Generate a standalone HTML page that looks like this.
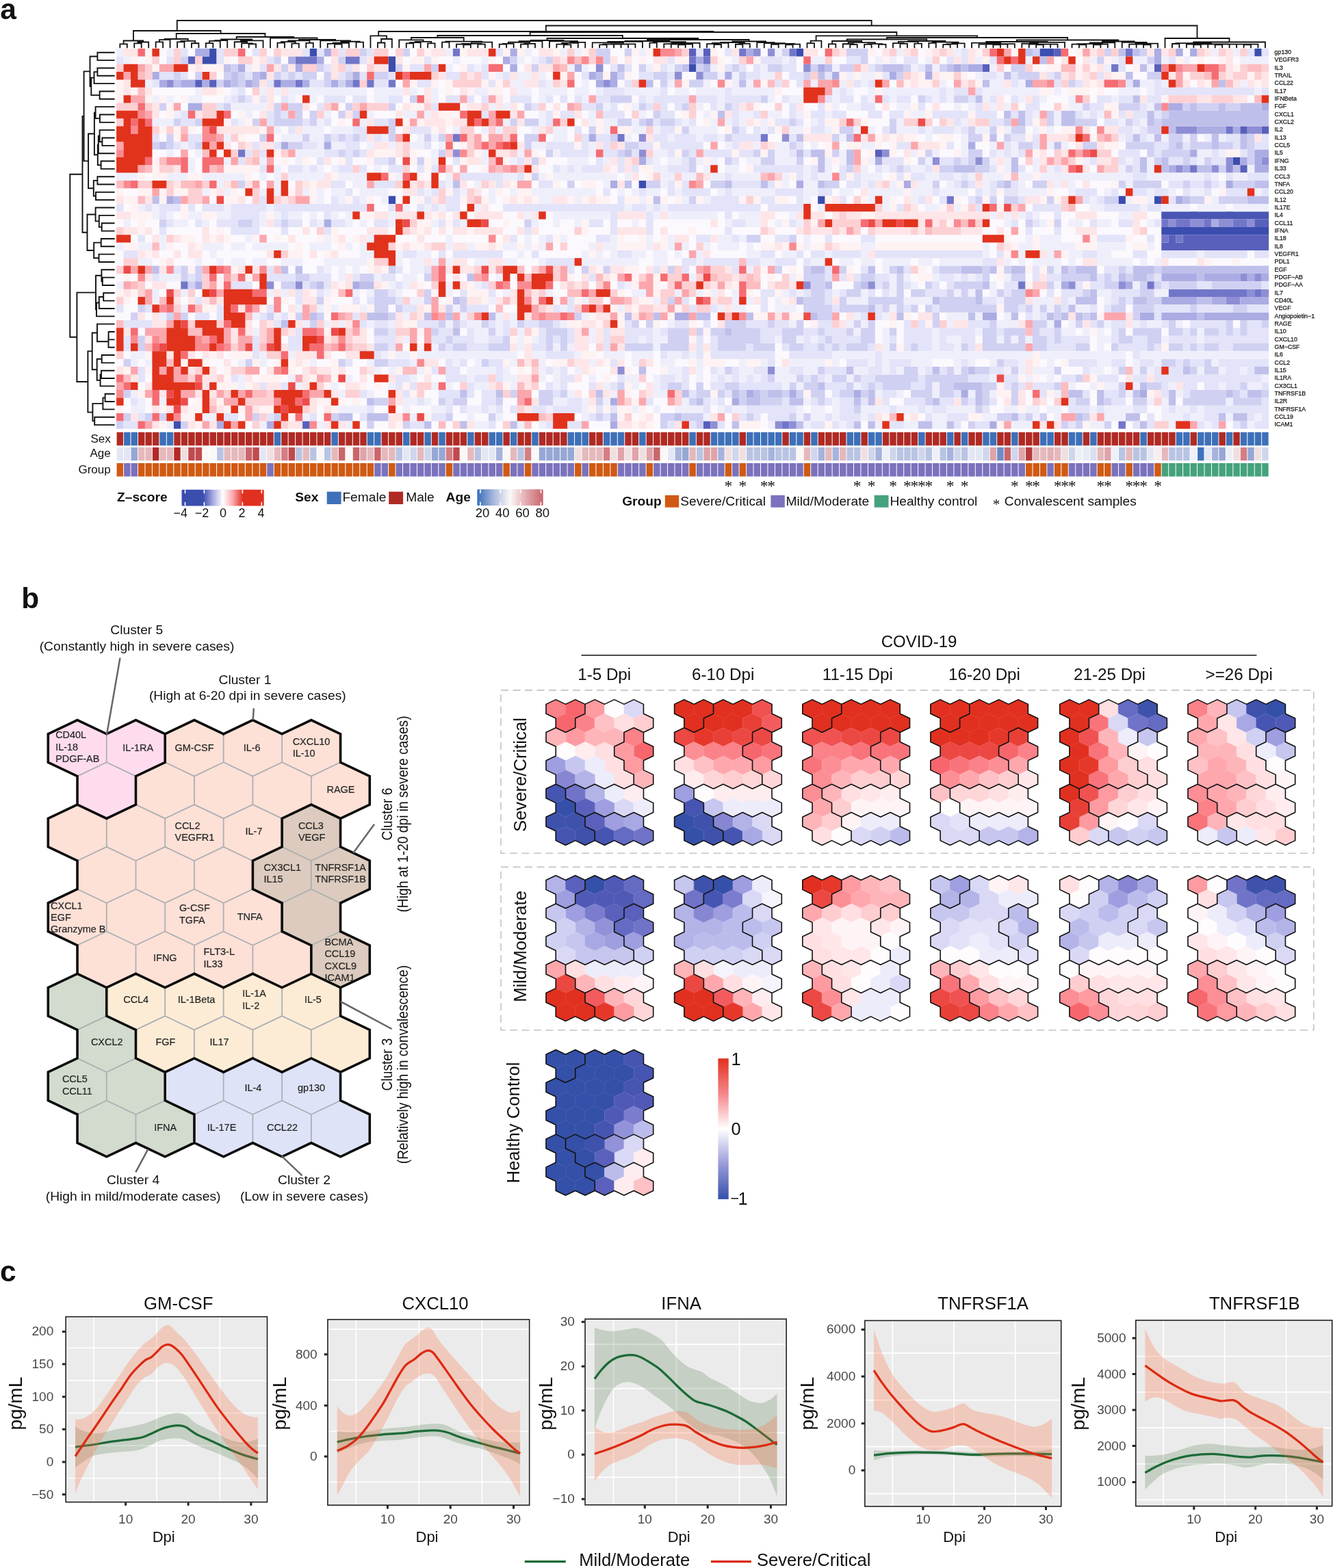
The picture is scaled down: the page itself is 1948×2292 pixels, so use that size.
<!DOCTYPE html>
<html lang="en">
<head>
<meta charset="utf-8">
<title>Figure</title>
<style>
html,body{margin:0;padding:0;background:#fff;}
body{width:1948px;height:2292px;overflow:hidden;}
svg{display:block;font-family:'Liberation Sans', Arial, Helvetica, sans-serif;}
svg text{white-space:pre;}
</style>
</head>
<body>
<svg xmlns="http://www.w3.org/2000/svg" width="1948" height="2292" viewBox="0 0 1948 2292" fill="#111">
<rect width="1948" height="2292" fill="#ffffff"/>
<!-- panel a -->
<text x="0.3" y="28.2" font-size="42.5" font-weight="bold">a</text>
<path d="M175.33 70.2V64.34H185.79V70.2M196.25 70.2V63.29H206.71V70.2M201.48 63.29V61.5H217.17V70.2M180.56 64.34V59.5H209.32V61.5M227.63 70.2V61.34H238.09V70.2M232.86 61.34V58.22H248.55V70.2M259.01 70.2V61.41H269.47V70.2M279.93 70.2V63.24H290.39V70.2M264.24 61.41V59.78H285.16V63.24M240.71 58.22V57H274.7V59.78M300.85 70.2V63.07H311.31V70.2M306.08 63.07V59.93H321.77V70.2M313.93 59.93V59.13H332.23V70.2M363.61 70.2V64.29H374.07V70.2M353.15 70.2V63.38H368.84V64.29M342.69 70.2V61.23H361V63.38M351.84 61.23V59.36H384.53V70.2M323.08 59.13V57.5H368.19V59.36M405.45 70.2V62.59H415.91V70.2M426.37 70.2V63.6H436.83V70.2M410.68 62.59V61.1H431.6V63.6M447.29 70.2V62.86H457.75V70.2M421.14 61.1V59.36H452.52V62.86M489.13 70.2V64.64H499.59V70.2M478.67 70.2V63.84H494.36V64.64M486.52 63.84V62.77H510.05V70.2M520.51 70.2V61.56H530.97V70.2M498.28 62.77V60.76H525.74V61.56M468.21 70.2V59.43H512.01V60.76M436.83 59.36V58H490.11V59.43M394.99 70.2V55.5H463.47V58M345.63 57.5V54H429.23V55.5M257.7 57V49H387.43V54M194.94 59.5V45H322.57V49M551.89 70.2V62.51H562.35V70.2M557.12 62.51V57H572.81V70.2M541.43 70.2V52.4H564.97V57M593.73 70.2V63.28H604.19V70.2M598.96 63.28V62.2H614.65V70.2M625.11 70.2V63.34H635.57V70.2M606.81 62.2V60.86H630.34V63.34M583.27 70.2V58.35H618.57V60.86M646.03 70.2V61.55H656.49V70.2M677.41 70.2V65.4H687.87V70.2M666.95 70.2V64.6H682.64V65.4M698.33 70.2V64.59H708.79V70.2M674.8 64.6V63.79H703.56V64.59M689.18 63.79V61.72H719.25V70.2M651.26 61.55V60.59H704.21V61.72M600.92 58.35V55H677.74V60.59M729.71 70.2V64.72H740.17V70.2M734.94 64.72V63.92H750.63V70.2M761.09 70.2V64.62H771.55V70.2M766.32 64.62V63.82H782.01V70.2M742.79 63.92V61.75H774.17V63.82M758.48 61.75V60.15H792.47V70.2M823.85 70.2V65.34H834.31V70.2M813.39 70.2V64.54H829.08V65.34M821.24 64.54V62.78H844.77V70.2M833 62.78V61.8H855.23V70.2M802.93 70.2V60.24H844.12V61.8M775.47 60.15V59H823.52V60.24M876.15 70.2V65.4H886.61V70.2M907.53 70.2V64.6H917.99V70.2M897.07 70.2V64.6H912.76V64.6M881.38 65.4V64.6H904.92V64.6M893.15 64.6V64.29H928.45V70.2M865.69 70.2V62.47H910.8V64.29M888.24 62.47V60.82H938.91V70.2M949.37 70.2V62.7H959.83V70.2M991.21 70.2V65.4H1001.67V70.2M996.44 65.4V64.6H1012.13V70.2M980.75 70.2V64.6H1004.29V64.6M970.29 70.2V64.15H992.52V64.6M981.4 64.15V62.82H1022.59V70.2M954.6 62.7V61.08H1002V62.82M913.58 60.82V60H978.3V61.08M1043.51 70.2V64.99H1053.97V70.2M1033.05 70.2V64.19H1048.74V64.99M1040.89 64.19V62.9H1064.43V70.2M1074.89 70.2V64.75H1085.35V70.2M1080.12 64.75V63.95H1095.81V70.2M1052.66 62.9V61.99H1087.97V63.95M1127.19 70.2V64.74H1137.65V70.2M1148.11 70.2V65.4H1158.57V70.2M1153.34 65.4V64.6H1169.03V70.2M1132.42 64.74V63.94H1161.18V64.6M1116.73 70.2V63.13H1146.8V63.94M1106.27 70.2V62.05H1131.77V63.13M1070.31 61.99V60.5H1119.02V62.05M945.94 60V58H1094.67V60.5M799.5 59V56H1020.3V58M639.33 55V52H909.9V56M1179.49 70.2V63.13H1189.95V70.2M1184.72 63.13V59.69H1200.41V70.2M1210.87 70.2V64.41H1221.33V70.2M1242.25 70.2V65.04H1252.71V70.2M1231.79 70.2V64.24H1247.48V65.04M1263.17 70.2V64.97H1273.63V70.2M1284.09 70.2V64.97H1294.55V70.2M1268.4 64.97V64.17H1289.32V64.97M1239.63 64.24V62.18H1278.86V64.17M1216.1 64.41V60H1259.25V62.18M1315.47 70.2V63.85H1325.93V70.2M1305.01 70.2V63.05H1320.7V63.85M1336.39 70.2V63.54H1346.85V70.2M1312.86 63.05V60.85H1341.62V63.54M1357.31 70.2V62.95H1367.77V70.2M1378.23 70.2V65.12H1388.69V70.2M1383.46 65.12V64.32H1399.15V70.2M1391.31 64.32V63.32H1409.61V70.2M1362.54 62.95V61.58H1400.46V63.32M1327.24 60.85V60H1381.5V61.58M1237.67 60V57.5H1354.37V60M1451.45 70.2V65.4H1461.91V70.2M1456.68 65.4V64.6H1472.37V70.2M1440.99 70.2V64.6H1464.53V64.6M1430.53 70.2V64.6H1452.76V64.6M1441.64 64.6V64.21H1482.83V70.2M1420.07 70.2V62.65H1462.24V64.21M1514.21 70.2V65.4H1524.67V70.2M1535.13 70.2V64.6H1545.59V70.2M1519.44 65.4V64.6H1540.36V64.6M1503.75 70.2V64.6H1529.9V64.6M1493.29 70.2V63.74H1516.83V64.6M1505.06 63.74V61.95H1556.05V70.2M1441.15 62.65V61H1530.55V61.95M1576.97 70.2V65.4H1587.43V70.2M1566.51 70.2V64.6H1582.2V65.4M1597.89 70.2V65.4H1608.35V70.2M1603.12 65.4V64.6H1618.81V70.2M1574.36 64.6V64.14H1610.97V64.6M1592.66 64.14V62.46H1629.27V70.2M1671.11 70.2V65.4H1681.57V70.2M1660.65 70.2V64.6H1676.34V65.4M1650.19 70.2V64.6H1668.5V64.6M1659.34 64.6V63.59H1692.03V70.2M1639.73 70.2V61.91H1675.69V63.59M1610.97 62.46V60.5H1657.71V61.91M1485.85 61V58.5H1634.34V60.5M1296.02 57.5V55H1560.1V58.5M1192.57 59.69V52.4H1428.06V55M774.61 52V47H1310.31V52.4M553.2 52.4V46H1042.46V47M1712.95 70.2V64H1723.41V70.2M1744.33 70.2V65.4H1754.79V70.2M1749.56 65.4V64.6H1765.25V70.2M1733.87 70.2V64.6H1757.4V64.6M1775.71 70.2V65.4H1786.17V70.2M1817.55 70.2V65.4H1828.01V70.2M1822.78 65.4V64.6H1838.47V70.2M1807.09 70.2V64.6H1830.62V64.6M1796.63 70.2V64.6H1818.86V64.6M1780.94 65.4V64.6H1807.74V64.6M1745.64 64.6V64.5H1794.34V64.6M1718.18 64V63.2H1769.99V64.5M1744.08 63.2V61.5H1848.93V70.2M1702.49 70.2V56H1796.51V61.5M797.83 46V37.5H1749.5V56M258.75 45V30H1273.66V37.5" fill="none" stroke="#111" stroke-width="1.8" stroke-linejoin="miter"/>
<path d="M167.6 76.77H142.4V88.11H167.6M167.6 99.45H142.4V110.79H167.6M142.4 105.12H137.5V122.13H167.6M167.6 133.47H145.6V144.81H167.6M137.5 113.62H133.3V139.14H145.6M142.4 82.44H131.5V126.38H133.3M167.6 167.49H145.9V178.83H167.6M167.6 156.15H139.6V173.16H145.9M167.6 201.51H149.4V212.85H167.6M167.6 190.17H145.6V207.18H149.4M145.6 198.68H143.8V224.19H167.6M167.6 235.53H147.6V246.87H167.6M143.8 211.43H142.8V241.2H147.6M139.6 164.65H137.9V226.32H142.8M167.6 258.21H142.4V269.55H167.6M167.6 280.89H140V292.23H167.6M142.4 263.88H136.8V286.56H140M137.9 195.49H129.1V275.22H136.8M131.5 104.41H122.6V235.35H129.1M167.6 326.25H148.7V337.59H167.6M167.6 314.91H144.8V331.92H148.7M167.6 303.57H139.6V323.41H144.8M167.6 348.93H147.7V360.27H167.6M167.6 371.61H144.5V382.95H167.6M147.7 354.6H137.2V377.28H144.5M139.6 313.49H127.5V365.94H137.2M122.6 169.88H120.5V339.72H127.5M167.6 405.63H149.8V416.97H167.6M167.6 394.29H148.4V411.3H149.8M167.6 428.31H151.2V439.65H167.6M151.2 433.98H144.8V450.99H167.6M144.8 442.49H141V462.33H167.6M148.4 402.79H140V452.41H141M167.6 485.01H158.6V496.35H167.6M158.6 490.68H158.5V507.69H167.6M167.6 473.67H142V499.18H158.5M167.6 519.03H148.7V530.37H167.6M167.6 541.71H148V553.05H167.6M148 547.38H146.6V564.39H167.6M148.7 524.7H141.7V555.88H146.6M142 486.43H134.7V540.29H141.7M167.6 575.73H153.6V587.07H167.6M153.6 581.4H150.4V598.41H167.6M167.6 609.75H138.2V621.09H167.6M150.4 589.9H135.4V615.42H138.2M134.7 513.36H128.4V602.66H135.4M140 427.6H112.4V558.01H128.4M120.5 254.8H102.3V492.81H112.4" fill="none" stroke="#111" stroke-width="1.9" stroke-linejoin="miter"/>
<filter id="hb" x="-1%" y="-1%" width="102%" height="102%"><feGaussianBlur stdDeviation="0.075 0.07"/></filter>
<g transform="translate(170.1 71.1) scale(10.46 11.34)" filter="url(#hb)">
<rect width="161" height="49" fill="#fbf9fd"/>
<path fill="#3a4eae" d="M13 0h1v1h-1zM27 0h1v1h-1zM95 0h1v1h-1zM129 0h2v1h-2zM159 0h1v1h-1zM12 1h2v1h-2zM38 1h1v1h-1zM38 2h1v1h-1zM80 2h1v1h-1zM156 14h1v1h-1zM73 17h1v1h-1zM38 19h1v1h-1zM98 19h1v1h-1zM140 19h1v1h-1zM145 19h1v1h-1zM146 23h15v1h-15zM8 48h1v1h-1z"/>
<path fill="#4856b3" d="M146 21h15v1h-15z"/>
<path fill="#5860bb" d="M80 0h1v1h-1zM82 0h1v1h-1zM131 0h1v1h-1zM10 1h1v1h-1zM121 2h1v1h-1zM145 2h1v1h-1zM11 4h1v1h-1zM13 4h1v1h-1zM157 10h1v1h-1zM160 10h1v1h-1zM106 13h1v1h-1zM157 15h1v1h-1zM159 22h2v1h-2zM147 24h1v1h-1zM149 24h12v1h-12zM146 25h15v1h-15zM26 48h1v1h-1zM82 48h1v1h-1z"/>
<path fill="#7276c9" d="M47 0h1v1h-1zM87 0h1v1h-1zM94 0h1v1h-1zM141 0h1v1h-1zM25 1h3v1h-3zM32 1h2v1h-2zM80 1h1v1h-1zM82 1h1v1h-1zM139 2h1v1h-1zM22 4h1v1h-1zM25 4h1v1h-1zM33 4h1v1h-1zM35 4h1v1h-1zM38 4h1v1h-1zM155 10h1v1h-1zM47 11h1v1h-1zM70 11h1v1h-1zM90 11h1v1h-1zM17 13h1v1h-1zM150 15h1v1h-1zM116 19h1v1h-1zM146 22h1v1h-1zM148 22h2v1h-2zM152 22h1v1h-1zM156 22h2v1h-2zM146 24h1v1h-1zM148 24h1v1h-1zM9 30h1v1h-1zM126 30h1v1h-1zM144 30h1v1h-1zM147 31h11v1h-11zM159 31h1v1h-1zM93 48h1v1h-1zM140 48h1v1h-1z"/>
<path fill="#8e8ed5" d="M89 0h1v1h-1zM91 0h1v1h-1zM67 2h1v1h-1zM96 2h1v1h-1zM78 3h1v1h-1zM81 3h1v1h-1zM7 4h1v1h-1zM68 4h1v1h-1zM148 10h3v1h-3zM158 10h2v1h-2zM73 11h1v1h-1zM93 11h1v1h-1zM47 13h1v1h-1zM73 13h1v1h-1zM107 13h1v1h-1zM114 14h1v1h-1zM120 14h1v1h-1zM155 14h1v1h-1zM160 14h1v1h-1zM148 15h1v1h-1zM153 15h1v1h-1zM155 15h1v1h-1zM147 22h1v1h-1zM150 22h2v1h-2zM154 22h2v1h-2zM158 22h1v1h-1zM157 29h1v1h-1zM159 29h1v1h-1zM21 30h1v1h-1zM25 30h1v1h-1zM96 30h1v1h-1zM105 30h1v1h-1zM133 30h1v1h-1zM140 30h1v1h-1zM158 31h1v1h-1zM160 31h1v1h-1zM155 32h2v1h-2zM70 41h1v1h-1zM91 41h1v1h-1zM83 48h1v1h-1zM92 48h1v1h-1zM94 48h1v1h-1z"/>
<path fill="#abace3" d="M11 0h2v1h-2zM29 0h1v1h-1zM55 0h1v1h-1zM88 0h1v1h-1zM145 0h1v1h-1zM148 0h1v1h-1zM150 0h1v1h-1zM24 1h1v1h-1zM28 1h1v1h-1zM54 1h1v1h-1zM81 1h1v1h-1zM145 1h1v1h-1zM17 2h1v1h-1zM25 2h1v1h-1zM55 2h1v1h-1zM64 2h1v1h-1zM98 2h1v1h-1zM117 2h1v1h-1zM119 2h2v1h-2zM5 3h1v1h-1zM20 3h1v1h-1zM33 3h1v1h-1zM66 3h1v1h-1zM69 3h1v1h-1zM85 3h1v1h-1zM100 3h1v1h-1zM108 3h1v1h-1zM113 3h1v1h-1zM6 4h1v1h-1zM9 4h2v1h-2zM12 4h1v1h-1zM15 4h1v1h-1zM18 4h1v1h-1zM23 4h2v1h-2zM26 4h1v1h-1zM30 4h1v1h-1zM32 4h1v1h-1zM67 4h1v1h-1zM69 4h1v1h-1zM127 4h1v1h-1zM142 4h1v1h-1zM10 7h2v1h-2zM147 7h2v1h-2zM160 7h1v1h-1zM151 10h4v1h-4zM156 10h1v1h-1zM66 11h1v1h-1zM23 12h1v1h-1zM29 12h1v1h-1zM119 12h1v1h-1zM150 13h1v1h-1zM159 13h2v1h-2zM73 14h1v1h-1zM106 14h1v1h-1zM157 14h1v1h-1zM159 14h1v1h-1zM147 15h1v1h-1zM149 15h1v1h-1zM159 15h2v1h-2zM69 17h1v1h-1zM95 17h1v1h-1zM110 17h1v1h-1zM155 17h1v1h-1zM7 19h1v1h-1zM148 19h1v1h-1zM29 22h1v1h-1zM153 22h1v1h-1zM146 29h5v1h-5zM152 29h5v1h-5zM158 29h1v1h-1zM160 29h1v1h-1zM11 30h1v1h-1zM33 30h1v1h-1zM132 30h1v1h-1zM141 30h1v1h-1zM146 32h5v1h-5zM153 32h2v1h-2zM157 32h4v1h-4zM78 34h2v1h-2zM121 34h2v1h-2zM143 34h2v1h-2zM146 34h5v1h-5zM152 34h9v1h-9zM131 35h1v1h-1zM88 44h1v1h-1zM94 44h1v1h-1zM103 44h1v1h-1zM118 44h1v1h-1zM143 44h1v1h-1zM69 45h1v1h-1zM86 45h1v1h-1zM14 48h1v1h-1zM21 48h1v1h-1zM69 48h1v1h-1zM122 48h1v1h-1z"/>
<path fill="#bfbfeb" d="M127 0h1v1h-1zM140 0h1v1h-1zM142 0h1v1h-1zM129 1h1v1h-1zM15 2h1v1h-1zM70 2h1v1h-1zM79 2h1v1h-1zM82 2h1v1h-1zM99 2h1v1h-1zM107 2h3v1h-3zM113 2h1v1h-1zM116 2h1v1h-1zM118 2h1v1h-1zM143 2h1v1h-1zM16 3h1v1h-1zM19 3h1v1h-1zM67 3h1v1h-1zM98 3h1v1h-1zM124 3h1v1h-1zM141 3h1v1h-1zM8 4h1v1h-1zM16 4h1v1h-1zM19 4h1v1h-1zM74 4h1v1h-1zM87 4h1v1h-1zM121 4h1v1h-1zM154 4h1v1h-1zM120 6h1v1h-1zM142 6h1v1h-1zM145 7h1v1h-1zM150 7h1v1h-1zM154 7h1v1h-1zM157 7h3v1h-3zM84 8h1v1h-1zM124 8h1v1h-1zM126 8h1v1h-1zM132 8h2v1h-2zM144 8h1v1h-1zM147 8h14v1h-14zM74 9h1v1h-1zM126 9h1v1h-1zM132 9h2v1h-2zM144 9h1v1h-1zM146 9h15v1h-15zM147 10h1v1h-1zM95 11h1v1h-1zM102 11h1v1h-1zM122 11h1v1h-1zM142 11h1v1h-1zM145 11h1v1h-1zM153 11h1v1h-1zM157 11h1v1h-1zM6 12h1v1h-1zM131 12h1v1h-1zM148 12h1v1h-1zM153 12h1v1h-1zM157 12h1v1h-1zM71 13h1v1h-1zM95 13h1v1h-1zM97 13h2v1h-2zM102 13h1v1h-1zM98 14h1v1h-1zM102 14h1v1h-1zM125 14h1v1h-1zM143 14h1v1h-1zM146 14h1v1h-1zM98 15h1v1h-1zM117 15h3v1h-3zM125 15h1v1h-1zM143 15h1v1h-1zM146 15h1v1h-1zM151 15h2v1h-2zM156 15h1v1h-1zM47 17h1v1h-1zM71 17h1v1h-1zM85 17h1v1h-1zM90 17h1v1h-1zM98 17h1v1h-1zM124 17h1v1h-1zM159 17h2v1h-2zM5 19h1v1h-1zM8 19h1v1h-1zM75 19h1v1h-1zM149 19h1v1h-1zM158 19h3v1h-3zM5 28h1v1h-1zM23 28h1v1h-1zM25 28h1v1h-1zM97 28h2v1h-2zM105 28h1v1h-1zM109 28h1v1h-1zM118 28h3v1h-3zM122 28h1v1h-1zM125 28h2v1h-2zM132 28h1v1h-1zM134 28h3v1h-3zM142 28h3v1h-3zM146 28h15v1h-15zM49 29h1v1h-1zM136 29h1v1h-1zM140 29h1v1h-1zM142 29h2v1h-2zM151 29h1v1h-1zM28 30h1v1h-1zM34 30h2v1h-2zM99 30h1v1h-1zM104 30h1v1h-1zM121 30h1v1h-1zM120 31h1v1h-1zM136 31h1v1h-1zM47 32h1v1h-1zM95 32h1v1h-1zM114 32h1v1h-1zM120 32h1v1h-1zM134 32h3v1h-3zM142 32h2v1h-2zM151 32h2v1h-2zM105 33h1v1h-1zM133 33h1v1h-1zM27 34h1v1h-1zM35 34h3v1h-3zM43 34h1v1h-1zM46 34h1v1h-1zM52 34h1v1h-1zM71 34h1v1h-1zM75 34h1v1h-1zM81 34h2v1h-2zM88 34h1v1h-1zM97 34h1v1h-1zM109 34h1v1h-1zM119 34h1v1h-1zM125 34h1v1h-1zM130 34h1v1h-1zM132 34h1v1h-1zM134 34h1v1h-1zM136 34h1v1h-1zM151 34h1v1h-1zM23 35h1v1h-1zM47 36h1v1h-1zM85 36h1v1h-1zM73 41h1v1h-1zM102 41h1v1h-1zM114 41h1v1h-1zM119 41h1v1h-1zM149 41h1v1h-1zM159 41h2v1h-2zM98 43h1v1h-1zM117 43h4v1h-4zM143 43h1v1h-1zM48 44h1v1h-1zM53 44h1v1h-1zM67 44h1v1h-1zM79 44h1v1h-1zM86 44h1v1h-1zM89 44h1v1h-1zM91 44h2v1h-2zM105 44h1v1h-1zM120 44h1v1h-1zM133 44h2v1h-2zM137 44h1v1h-1zM142 44h1v1h-1zM147 44h1v1h-1zM155 44h1v1h-1zM158 44h2v1h-2zM35 45h1v1h-1zM81 45h1v1h-1zM88 45h2v1h-2zM94 45h2v1h-2zM103 45h1v1h-1zM105 45h1v1h-1zM114 45h1v1h-1zM120 45h1v1h-1zM137 45h1v1h-1zM147 45h1v1h-1zM31 47h2v1h-2zM35 47h3v1h-3zM69 47h1v1h-1zM78 47h1v1h-1zM125 47h1v1h-1zM134 47h1v1h-1zM141 47h2v1h-2zM154 47h1v1h-1zM156 47h2v1h-2zM43 48h1v1h-1zM48 48h1v1h-1zM55 48h1v1h-1zM86 48h1v1h-1zM95 48h1v1h-1zM103 48h1v1h-1zM105 48h1v1h-1zM112 48h2v1h-2zM116 48h1v1h-1zM143 48h1v1h-1z"/>
<path fill="#d0d0f2" d="M34 0h1v1h-1zM40 0h1v1h-1zM67 0h2v1h-2zM71 0h1v1h-1zM93 0h1v1h-1zM102 0h3v1h-3zM128 0h1v1h-1zM138 0h1v1h-1zM143 0h1v1h-1zM9 1h1v1h-1zM22 1h1v1h-1zM31 1h1v1h-1zM55 1h1v1h-1zM60 1h1v1h-1zM68 1h1v1h-1zM104 1h1v1h-1zM137 1h1v1h-1zM144 1h1v1h-1zM16 2h1v1h-1zM23 2h1v1h-1zM28 2h1v1h-1zM39 2h1v1h-1zM44 2h1v1h-1zM58 2h1v1h-1zM73 2h1v1h-1zM78 2h1v1h-1zM81 2h1v1h-1zM86 2h1v1h-1zM91 2h2v1h-2zM97 2h1v1h-1zM101 2h2v1h-2zM106 2h1v1h-1zM110 2h1v1h-1zM115 2h1v1h-1zM125 2h2v1h-2zM8 3h1v1h-1zM11 3h1v1h-1zM15 3h1v1h-1zM17 3h1v1h-1zM22 3h1v1h-1zM24 3h1v1h-1zM26 3h2v1h-2zM29 3h1v1h-1zM32 3h1v1h-1zM36 3h2v1h-2zM70 3h1v1h-1zM75 3h2v1h-2zM82 3h2v1h-2zM87 3h1v1h-1zM96 3h1v1h-1zM109 3h1v1h-1zM126 3h3v1h-3zM131 3h1v1h-1zM144 3h2v1h-2zM14 4h1v1h-1zM17 4h1v1h-1zM29 4h1v1h-1zM31 4h1v1h-1zM76 4h1v1h-1zM80 4h2v1h-2zM133 4h1v1h-1zM17 6h1v1h-1zM41 6h1v1h-1zM69 6h3v1h-3zM90 6h1v1h-1zM112 6h1v1h-1zM117 6h2v1h-2zM6 7h1v1h-1zM15 7h1v1h-1zM22 7h1v1h-1zM24 7h2v1h-2zM32 7h1v1h-1zM38 7h1v1h-1zM57 7h1v1h-1zM67 7h1v1h-1zM73 7h1v1h-1zM79 7h1v1h-1zM85 7h1v1h-1zM135 7h1v1h-1zM140 7h3v1h-3zM149 7h1v1h-1zM151 7h3v1h-3zM155 7h2v1h-2zM22 8h1v1h-1zM25 8h1v1h-1zM27 8h1v1h-1zM31 8h1v1h-1zM33 8h1v1h-1zM75 8h1v1h-1zM130 8h1v1h-1zM146 8h1v1h-1zM8 9h1v1h-1zM11 9h1v1h-1zM19 9h1v1h-1zM22 9h4v1h-4zM27 9h1v1h-1zM38 9h1v1h-1zM55 9h1v1h-1zM57 9h2v1h-2zM70 9h2v1h-2zM73 9h1v1h-1zM76 9h2v1h-2zM94 9h1v1h-1zM108 9h1v1h-1zM124 9h1v1h-1zM130 9h1v1h-1zM134 9h3v1h-3zM141 9h1v1h-1zM145 9h1v1h-1zM38 10h1v1h-1zM66 10h1v1h-1zM79 10h1v1h-1zM86 10h1v1h-1zM101 10h2v1h-2zM108 10h1v1h-1zM119 10h1v1h-1zM122 10h1v1h-1zM125 10h2v1h-2zM144 10h2v1h-2zM7 11h1v1h-1zM20 11h1v1h-1zM26 11h1v1h-1zM29 11h1v1h-1zM31 11h1v1h-1zM33 11h1v1h-1zM38 11h1v1h-1zM43 11h1v1h-1zM45 11h1v1h-1zM57 11h2v1h-2zM69 11h1v1h-1zM85 11h1v1h-1zM100 11h1v1h-1zM119 11h2v1h-2zM124 11h1v1h-1zM147 11h2v1h-2zM150 11h1v1h-1zM158 11h1v1h-1zM5 12h1v1h-1zM7 12h1v1h-1zM11 12h1v1h-1zM24 12h2v1h-2zM57 12h1v1h-1zM71 12h2v1h-2zM94 12h1v1h-1zM126 12h2v1h-2zM135 12h2v1h-2zM141 12h4v1h-4zM147 12h1v1h-1zM150 12h3v1h-3zM154 12h2v1h-2zM158 12h1v1h-1zM31 13h1v1h-1zM33 13h1v1h-1zM45 13h1v1h-1zM60 13h1v1h-1zM70 13h1v1h-1zM79 13h1v1h-1zM89 13h1v1h-1zM91 13h1v1h-1zM100 13h1v1h-1zM113 13h1v1h-1zM119 13h2v1h-2zM144 13h1v1h-1zM146 13h4v1h-4zM158 13h1v1h-1zM38 14h1v1h-1zM42 14h1v1h-1zM58 14h1v1h-1zM80 14h1v1h-1zM85 14h1v1h-1zM90 14h2v1h-2zM95 14h1v1h-1zM112 14h1v1h-1zM117 14h1v1h-1zM119 14h1v1h-1zM121 14h1v1h-1zM145 14h1v1h-1zM149 14h1v1h-1zM152 14h1v1h-1zM158 14h1v1h-1zM80 15h1v1h-1zM102 15h1v1h-1zM109 15h1v1h-1zM115 15h2v1h-2zM120 15h2v1h-2zM141 15h1v1h-1zM154 15h1v1h-1zM58 16h1v1h-1zM17 17h1v1h-1zM63 17h1v1h-1zM74 17h2v1h-2zM83 17h2v1h-2zM99 17h2v1h-2zM114 17h1v1h-1zM118 17h1v1h-1zM123 17h1v1h-1zM128 17h2v1h-2zM140 17h1v1h-1zM142 17h4v1h-4zM149 17h1v1h-1zM152 17h1v1h-1zM156 17h3v1h-3zM80 19h1v1h-1zM120 19h1v1h-1zM122 19h1v1h-1zM124 19h2v1h-2zM130 19h1v1h-1zM138 19h2v1h-2zM150 19h2v1h-2zM154 19h4v1h-4zM6 22h1v1h-1zM17 22h2v1h-2zM23 22h1v1h-1zM57 22h1v1h-1zM127 22h1v1h-1zM131 22h1v1h-1zM88 24h2v1h-2zM94 24h1v1h-1zM9 28h1v1h-1zM11 28h1v1h-1zM38 28h1v1h-1zM65 28h1v1h-1zM68 28h1v1h-1zM77 28h1v1h-1zM92 28h1v1h-1zM96 28h1v1h-1zM101 28h1v1h-1zM108 28h1v1h-1zM115 28h3v1h-3zM121 28h1v1h-1zM124 28h1v1h-1zM130 28h1v1h-1zM133 28h1v1h-1zM140 28h1v1h-1zM145 28h1v1h-1zM9 29h1v1h-1zM11 29h1v1h-1zM25 29h2v1h-2zM34 29h2v1h-2zM43 29h1v1h-1zM96 29h3v1h-3zM104 29h2v1h-2zM109 29h1v1h-1zM121 29h1v1h-1zM125 29h2v1h-2zM132 29h4v1h-4zM138 29h1v1h-1zM141 29h1v1h-1zM144 29h1v1h-1zM10 30h1v1h-1zM23 30h2v1h-2zM27 30h1v1h-1zM97 30h2v1h-2zM103 30h1v1h-1zM107 30h1v1h-1zM109 30h1v1h-1zM113 30h1v1h-1zM117 30h4v1h-4zM130 30h1v1h-1zM138 30h2v1h-2zM143 30h1v1h-1zM145 30h1v1h-1zM147 30h4v1h-4zM153 30h7v1h-7zM36 31h2v1h-2zM43 31h1v1h-1zM97 31h2v1h-2zM102 31h2v1h-2zM109 31h1v1h-1zM111 31h2v1h-2zM116 31h1v1h-1zM118 31h1v1h-1zM123 31h1v1h-1zM125 31h2v1h-2zM135 31h1v1h-1zM143 31h2v1h-2zM28 32h1v1h-1zM36 32h3v1h-3zM43 32h1v1h-1zM48 32h1v1h-1zM77 32h1v1h-1zM96 32h3v1h-3zM101 32h1v1h-1zM105 32h5v1h-5zM115 32h5v1h-5zM124 32h3v1h-3zM140 32h1v1h-1zM144 32h2v1h-2zM3 33h1v1h-1zM36 33h2v1h-2zM39 33h1v1h-1zM46 33h1v1h-1zM48 33h1v1h-1zM96 33h4v1h-4zM101 33h4v1h-4zM107 33h1v1h-1zM109 33h1v1h-1zM111 33h1v1h-1zM113 33h1v1h-1zM115 33h8v1h-8zM124 33h2v1h-2zM127 33h1v1h-1zM129 33h1v1h-1zM131 33h1v1h-1zM139 33h2v1h-2zM142 33h3v1h-3zM150 33h1v1h-1zM156 33h2v1h-2zM2 34h1v1h-1zM7 34h1v1h-1zM9 34h1v1h-1zM21 34h1v1h-1zM25 34h1v1h-1zM28 34h1v1h-1zM38 34h1v1h-1zM64 34h1v1h-1zM98 34h2v1h-2zM114 34h1v1h-1zM131 34h1v1h-1zM135 34h1v1h-1zM142 34h1v1h-1zM27 35h1v1h-1zM45 35h1v1h-1zM47 35h1v1h-1zM51 35h1v1h-1zM56 35h1v1h-1zM59 35h2v1h-2zM72 35h1v1h-1zM74 35h1v1h-1zM85 35h3v1h-3zM91 35h1v1h-1zM95 35h1v1h-1zM103 35h1v1h-1zM105 35h1v1h-1zM114 35h1v1h-1zM122 35h1v1h-1zM128 35h2v1h-2zM134 35h1v1h-1zM137 35h1v1h-1zM147 35h1v1h-1zM155 35h1v1h-1zM157 35h1v1h-1zM160 35h1v1h-1zM36 36h2v1h-2zM44 36h1v1h-1zM52 36h1v1h-1zM60 36h3v1h-3zM77 36h3v1h-3zM81 36h1v1h-1zM83 36h2v1h-2zM86 36h4v1h-4zM93 36h3v1h-3zM98 36h1v1h-1zM102 36h1v1h-1zM104 36h2v1h-2zM108 36h1v1h-1zM121 36h2v1h-2zM124 36h3v1h-3zM128 36h1v1h-1zM131 36h1v1h-1zM140 36h1v1h-1zM142 36h4v1h-4zM147 36h2v1h-2zM150 36h1v1h-1zM152 36h2v1h-2zM155 36h1v1h-1zM157 36h1v1h-1zM3 37h1v1h-1zM46 37h1v1h-1zM54 37h1v1h-1zM60 37h1v1h-1zM62 37h1v1h-1zM77 37h3v1h-3zM84 37h6v1h-6zM93 37h2v1h-2zM99 37h1v1h-1zM104 37h2v1h-2zM121 37h2v1h-2zM124 37h1v1h-1zM126 37h1v1h-1zM128 37h2v1h-2zM131 37h1v1h-1zM140 37h2v1h-2zM144 37h2v1h-2zM3 38h1v1h-1zM36 38h2v1h-2zM45 38h1v1h-1zM47 38h2v1h-2zM52 38h3v1h-3zM60 38h1v1h-1zM62 38h1v1h-1zM71 38h4v1h-4zM76 38h4v1h-4zM84 38h4v1h-4zM89 38h3v1h-3zM94 38h2v1h-2zM98 38h1v1h-1zM100 38h1v1h-1zM102 38h3v1h-3zM108 38h1v1h-1zM111 38h1v1h-1zM118 38h1v1h-1zM121 38h6v1h-6zM128 38h2v1h-2zM134 38h2v1h-2zM139 38h1v1h-1zM144 38h1v1h-1zM147 38h2v1h-2zM150 38h1v1h-1zM152 38h2v1h-2zM156 38h5v1h-5zM1 40h1v1h-1zM18 40h1v1h-1zM31 40h1v1h-1zM36 40h2v1h-2zM51 40h1v1h-1zM123 40h1v1h-1zM146 40h2v1h-2zM149 40h1v1h-1zM152 40h1v1h-1zM85 41h1v1h-1zM98 41h1v1h-1zM110 41h2v1h-2zM116 41h1v1h-1zM118 41h1v1h-1zM120 41h2v1h-2zM125 41h1v1h-1zM131 41h1v1h-1zM140 41h1v1h-1zM143 41h1v1h-1zM150 41h1v1h-1zM152 41h2v1h-2zM91 42h1v1h-1zM95 42h1v1h-1zM97 42h1v1h-1zM100 42h2v1h-2zM103 42h1v1h-1zM106 42h6v1h-6zM113 42h6v1h-6zM134 42h1v1h-1zM70 43h1v1h-1zM77 43h2v1h-2zM81 43h1v1h-1zM85 43h2v1h-2zM94 43h1v1h-1zM96 43h2v1h-2zM102 43h1v1h-1zM105 43h1v1h-1zM107 43h4v1h-4zM113 43h1v1h-1zM115 43h2v1h-2zM121 43h2v1h-2zM125 43h1v1h-1zM131 43h1v1h-1zM140 43h1v1h-1zM144 43h2v1h-2zM157 43h1v1h-1zM1 44h1v1h-1zM55 44h1v1h-1zM59 44h2v1h-2zM62 44h1v1h-1zM81 44h2v1h-2zM84 44h1v1h-1zM87 44h1v1h-1zM90 44h1v1h-1zM93 44h1v1h-1zM95 44h1v1h-1zM97 44h2v1h-2zM101 44h2v1h-2zM104 44h1v1h-1zM111 44h3v1h-3zM115 44h2v1h-2zM121 44h1v1h-1zM125 44h1v1h-1zM140 44h1v1h-1zM150 44h5v1h-5zM156 44h1v1h-1zM160 44h1v1h-1zM36 45h2v1h-2zM45 45h1v1h-1zM47 45h2v1h-2zM53 45h1v1h-1zM59 45h2v1h-2zM67 45h1v1h-1zM80 45h1v1h-1zM87 45h1v1h-1zM90 45h3v1h-3zM98 45h1v1h-1zM113 45h1v1h-1zM118 45h1v1h-1zM121 45h1v1h-1zM125 45h1v1h-1zM134 45h2v1h-2zM138 45h1v1h-1zM142 45h2v1h-2zM149 45h6v1h-6zM156 45h4v1h-4zM103 46h1v1h-1zM120 46h1v1h-1zM1 47h1v1h-1zM4 47h1v1h-1zM6 47h1v1h-1zM19 47h1v1h-1zM22 47h1v1h-1zM30 47h1v1h-1zM46 47h1v1h-1zM52 47h1v1h-1zM67 47h1v1h-1zM76 47h2v1h-2zM79 47h3v1h-3zM88 47h1v1h-1zM94 47h1v1h-1zM96 47h1v1h-1zM123 47h2v1h-2zM127 47h1v1h-1zM129 47h1v1h-1zM135 47h1v1h-1zM0 48h1v1h-1zM9 48h1v1h-1zM35 48h1v1h-1zM40 48h1v1h-1zM76 48h1v1h-1zM81 48h1v1h-1zM119 48h1v1h-1zM132 48h1v1h-1zM134 48h1v1h-1zM138 48h1v1h-1zM157 48h1v1h-1z"/>
<path fill="#e3e3f9" d="M9 0h1v1h-1zM14 0h1v1h-1zM19 0h1v1h-1zM26 0h1v1h-1zM28 0h1v1h-1zM31 0h1v1h-1zM35 0h1v1h-1zM53 0h1v1h-1zM81 0h1v1h-1zM85 0h1v1h-1zM118 0h1v1h-1zM158 0h1v1h-1zM160 0h1v1h-1zM0 1h1v1h-1zM7 1h1v1h-1zM14 1h1v1h-1zM21 1h1v1h-1zM34 1h1v1h-1zM43 1h1v1h-1zM59 1h1v1h-1zM77 1h1v1h-1zM90 1h3v1h-3zM94 1h1v1h-1zM102 1h2v1h-2zM110 1h2v1h-2zM116 1h1v1h-1zM118 1h1v1h-1zM122 1h1v1h-1zM140 1h1v1h-1zM147 1h1v1h-1zM20 2h1v1h-1zM29 2h1v1h-1zM32 2h1v1h-1zM41 2h2v1h-2zM49 2h1v1h-1zM51 2h1v1h-1zM69 2h1v1h-1zM71 2h1v1h-1zM76 2h1v1h-1zM85 2h1v1h-1zM87 2h1v1h-1zM89 2h1v1h-1zM93 2h2v1h-2zM105 2h1v1h-1zM112 2h1v1h-1zM140 2h1v1h-1zM6 3h2v1h-2zM9 3h1v1h-1zM18 3h1v1h-1zM23 3h1v1h-1zM25 3h1v1h-1zM31 3h1v1h-1zM34 3h1v1h-1zM38 3h1v1h-1zM46 3h2v1h-2zM51 3h1v1h-1zM54 3h1v1h-1zM65 3h1v1h-1zM73 3h2v1h-2zM77 3h1v1h-1zM88 3h2v1h-2zM94 3h2v1h-2zM99 3h1v1h-1zM107 3h1v1h-1zM121 3h2v1h-2zM125 3h1v1h-1zM130 3h1v1h-1zM137 3h1v1h-1zM5 4h1v1h-1zM21 4h1v1h-1zM27 4h2v1h-2zM36 4h2v1h-2zM42 4h2v1h-2zM52 4h1v1h-1zM59 4h1v1h-1zM71 4h1v1h-1zM92 4h1v1h-1zM95 4h1v1h-1zM103 4h1v1h-1zM105 4h1v1h-1zM125 4h1v1h-1zM131 4h1v1h-1zM134 4h1v1h-1zM141 4h1v1h-1zM145 4h1v1h-1zM17 5h1v1h-1zM68 5h3v1h-3zM76 5h1v1h-1zM85 5h1v1h-1zM101 5h1v1h-1zM115 5h1v1h-1zM117 5h2v1h-2zM120 5h1v1h-1zM145 5h14v1h-14zM160 5h1v1h-1zM16 6h1v1h-1zM18 6h1v1h-1zM20 6h1v1h-1zM23 6h1v1h-1zM29 6h3v1h-3zM33 6h2v1h-2zM38 6h2v1h-2zM46 6h2v1h-2zM49 6h1v1h-1zM51 6h1v1h-1zM55 6h3v1h-3zM60 6h1v1h-1zM62 6h1v1h-1zM64 6h1v1h-1zM67 6h2v1h-2zM73 6h1v1h-1zM75 6h5v1h-5zM81 6h3v1h-3zM85 6h5v1h-5zM93 6h1v1h-1zM99 6h1v1h-1zM101 6h2v1h-2zM104 6h1v1h-1zM107 6h1v1h-1zM109 6h2v1h-2zM113 6h1v1h-1zM115 6h1v1h-1zM119 6h1v1h-1zM122 6h1v1h-1zM125 6h1v1h-1zM128 6h1v1h-1zM137 6h2v1h-2zM140 6h2v1h-2zM144 6h2v1h-2zM14 7h1v1h-1zM28 7h1v1h-1zM44 7h1v1h-1zM58 7h1v1h-1zM65 7h2v1h-2zM69 7h1v1h-1zM74 7h1v1h-1zM76 7h1v1h-1zM78 7h1v1h-1zM83 7h1v1h-1zM86 7h1v1h-1zM94 7h1v1h-1zM98 7h1v1h-1zM104 7h2v1h-2zM112 7h1v1h-1zM120 7h1v1h-1zM127 7h2v1h-2zM136 7h2v1h-2zM143 7h1v1h-1zM9 8h1v1h-1zM21 8h1v1h-1zM23 8h1v1h-1zM51 8h1v1h-1zM60 8h1v1h-1zM62 8h2v1h-2zM68 8h3v1h-3zM76 8h2v1h-2zM86 8h1v1h-1zM89 8h1v1h-1zM94 8h1v1h-1zM97 8h2v1h-2zM100 8h2v1h-2zM105 8h2v1h-2zM108 8h2v1h-2zM114 8h5v1h-5zM120 8h3v1h-3zM125 8h1v1h-1zM127 8h1v1h-1zM134 8h1v1h-1zM136 8h1v1h-1zM140 8h1v1h-1zM142 8h2v1h-2zM145 8h1v1h-1zM9 9h2v1h-2zM16 9h1v1h-1zM21 9h1v1h-1zM26 9h1v1h-1zM29 9h1v1h-1zM36 9h2v1h-2zM60 9h1v1h-1zM75 9h1v1h-1zM78 9h1v1h-1zM80 9h1v1h-1zM86 9h1v1h-1zM92 9h2v1h-2zM95 9h1v1h-1zM98 9h1v1h-1zM117 9h1v1h-1zM122 9h2v1h-2zM127 9h1v1h-1zM138 9h2v1h-2zM142 9h1v1h-1zM24 10h1v1h-1zM33 10h2v1h-2zM41 10h3v1h-3zM64 10h1v1h-1zM76 10h2v1h-2zM87 10h1v1h-1zM89 10h1v1h-1zM91 10h1v1h-1zM97 10h2v1h-2zM107 10h1v1h-1zM112 10h1v1h-1zM114 10h3v1h-3zM118 10h1v1h-1zM140 10h2v1h-2zM143 10h1v1h-1zM5 11h1v1h-1zM10 11h2v1h-2zM30 11h1v1h-1zM32 11h1v1h-1zM34 11h1v1h-1zM36 11h1v1h-1zM65 11h1v1h-1zM67 11h2v1h-2zM75 11h2v1h-2zM78 11h3v1h-3zM82 11h2v1h-2zM86 11h4v1h-4zM94 11h1v1h-1zM125 11h2v1h-2zM128 11h1v1h-1zM141 11h1v1h-1zM143 11h1v1h-1zM155 11h2v1h-2zM160 11h1v1h-1zM8 12h1v1h-1zM10 12h1v1h-1zM19 12h1v1h-1zM22 12h1v1h-1zM26 12h2v1h-2zM32 12h2v1h-2zM43 12h1v1h-1zM60 12h4v1h-4zM65 12h1v1h-1zM68 12h1v1h-1zM73 12h2v1h-2zM76 12h6v1h-6zM86 12h1v1h-1zM95 12h1v1h-1zM109 12h2v1h-2zM116 12h1v1h-1zM124 12h1v1h-1zM128 12h1v1h-1zM145 12h2v1h-2zM149 12h1v1h-1zM156 12h1v1h-1zM159 12h2v1h-2zM18 13h1v1h-1zM20 13h1v1h-1zM29 13h2v1h-2zM32 13h1v1h-1zM34 13h1v1h-1zM62 13h4v1h-4zM68 13h2v1h-2zM72 13h1v1h-1zM77 13h1v1h-1zM80 13h1v1h-1zM82 13h4v1h-4zM87 13h2v1h-2zM94 13h1v1h-1zM96 13h1v1h-1zM122 13h1v1h-1zM124 13h1v1h-1zM126 13h1v1h-1zM140 13h3v1h-3zM145 13h1v1h-1zM153 13h1v1h-1zM157 13h1v1h-1zM17 14h1v1h-1zM28 14h1v1h-1zM32 14h1v1h-1zM36 14h2v1h-2zM47 14h1v1h-1zM56 14h1v1h-1zM67 14h1v1h-1zM70 14h1v1h-1zM74 14h1v1h-1zM79 14h1v1h-1zM86 14h1v1h-1zM107 14h3v1h-3zM115 14h2v1h-2zM118 14h1v1h-1zM136 14h1v1h-1zM140 14h1v1h-1zM142 14h1v1h-1zM147 14h2v1h-2zM150 14h1v1h-1zM153 14h2v1h-2zM20 15h1v1h-1zM24 15h2v1h-2zM27 15h1v1h-1zM31 15h2v1h-2zM34 15h1v1h-1zM38 15h2v1h-2zM42 15h1v1h-1zM44 15h1v1h-1zM61 15h1v1h-1zM63 15h1v1h-1zM65 15h3v1h-3zM70 15h1v1h-1zM72 15h1v1h-1zM77 15h3v1h-3zM89 15h7v1h-7zM97 15h1v1h-1zM101 15h1v1h-1zM106 15h1v1h-1zM108 15h1v1h-1zM110 15h1v1h-1zM113 15h1v1h-1zM122 15h1v1h-1zM126 15h1v1h-1zM131 15h1v1h-1zM142 15h1v1h-1zM48 16h6v1h-6zM56 16h1v1h-1zM85 16h1v1h-1zM95 16h1v1h-1zM97 16h1v1h-1zM101 16h1v1h-1zM103 16h1v1h-1zM109 16h1v1h-1zM111 16h2v1h-2zM115 16h2v1h-2zM118 16h1v1h-1zM142 16h2v1h-2zM152 16h1v1h-1zM155 16h1v1h-1zM158 16h3v1h-3zM30 17h2v1h-2zM36 17h3v1h-3zM45 17h1v1h-1zM53 17h1v1h-1zM59 17h2v1h-2zM77 17h1v1h-1zM79 17h1v1h-1zM86 17h4v1h-4zM91 17h1v1h-1zM102 17h2v1h-2zM105 17h1v1h-1zM117 17h1v1h-1zM119 17h1v1h-1zM122 17h1v1h-1zM125 17h1v1h-1zM147 17h2v1h-2zM150 17h2v1h-2zM153 17h1v1h-1zM32 18h1v1h-1zM42 18h1v1h-1zM44 18h1v1h-1zM47 18h1v1h-1zM68 18h1v1h-1zM73 18h1v1h-1zM77 18h1v1h-1zM79 18h4v1h-4zM85 18h1v1h-1zM92 18h4v1h-4zM98 18h2v1h-2zM114 18h1v1h-1zM120 18h1v1h-1zM122 18h1v1h-1zM124 18h2v1h-2zM134 18h3v1h-3zM139 18h1v1h-1zM142 18h2v1h-2zM145 18h2v1h-2zM149 18h1v1h-1zM152 18h1v1h-1zM155 18h3v1h-3zM160 18h1v1h-1zM20 19h1v1h-1zM30 19h1v1h-1zM33 19h1v1h-1zM43 19h1v1h-1zM46 19h2v1h-2zM70 19h1v1h-1zM83 19h4v1h-4zM90 19h2v1h-2zM95 19h1v1h-1zM101 19h1v1h-1zM112 19h1v1h-1zM115 19h1v1h-1zM119 19h1v1h-1zM126 19h1v1h-1zM135 19h1v1h-1zM137 19h1v1h-1zM147 19h1v1h-1zM0 20h1v1h-1zM4 20h1v1h-1zM6 20h3v1h-3zM10 20h1v1h-1zM12 20h3v1h-3zM16 20h5v1h-5zM22 20h13v1h-13zM38 20h1v1h-1zM42 20h1v1h-1zM44 20h1v1h-1zM46 20h2v1h-2zM54 20h17v1h-17zM72 20h2v1h-2zM75 20h1v1h-1zM77 20h13v1h-13zM91 20h5v1h-5zM109 20h1v1h-1zM120 20h1v1h-1zM128 20h4v1h-4zM138 20h5v1h-5zM144 20h2v1h-2zM6 21h1v1h-1zM16 21h4v1h-4zM23 21h1v1h-1zM29 21h1v1h-1zM69 21h1v1h-1zM74 21h1v1h-1zM85 21h1v1h-1zM127 21h1v1h-1zM131 21h1v1h-1zM7 22h1v1h-1zM11 22h1v1h-1zM14 22h3v1h-3zM19 22h1v1h-1zM22 22h1v1h-1zM24 22h2v1h-2zM27 22h1v1h-1zM30 22h2v1h-2zM36 22h2v1h-2zM45 22h1v1h-1zM47 22h1v1h-1zM66 22h2v1h-2zM69 22h1v1h-1zM74 22h1v1h-1zM86 22h2v1h-2zM94 22h1v1h-1zM125 22h1v1h-1zM128 22h1v1h-1zM136 22h1v1h-1zM140 22h2v1h-2zM145 22h1v1h-1zM6 23h1v1h-1zM16 23h4v1h-4zM23 23h1v1h-1zM29 23h1v1h-1zM57 23h1v1h-1zM69 23h1v1h-1zM74 23h1v1h-1zM85 23h1v1h-1zM127 23h1v1h-1zM131 23h1v1h-1zM3 24h1v1h-1zM55 24h1v1h-1zM60 24h1v1h-1zM67 24h2v1h-2zM81 24h2v1h-2zM86 24h1v1h-1zM92 24h2v1h-2zM99 24h1v1h-1zM104 24h2v1h-2zM137 24h4v1h-4zM144 24h1v1h-1zM1 26h2v1h-2zM40 26h2v1h-2zM45 26h1v1h-1zM47 26h7v1h-7zM58 26h1v1h-1zM70 26h2v1h-2zM90 26h2v1h-2zM95 26h1v1h-1zM97 26h2v1h-2zM100 26h4v1h-4zM106 26h15v1h-15zM123 26h1v1h-1zM135 26h2v1h-2zM142 26h2v1h-2zM146 26h5v1h-5zM152 26h6v1h-6zM159 26h2v1h-2zM60 27h4v1h-4zM79 27h2v1h-2zM82 27h5v1h-5zM88 27h2v1h-2zM92 27h3v1h-3zM96 27h1v1h-1zM121 27h2v1h-2zM8 28h1v1h-1zM21 28h1v1h-1zM28 28h1v1h-1zM39 28h1v1h-1zM43 28h1v1h-1zM63 28h1v1h-1zM75 28h1v1h-1zM79 28h1v1h-1zM86 28h1v1h-1zM99 28h1v1h-1zM104 28h1v1h-1zM110 28h1v1h-1zM114 28h1v1h-1zM128 28h1v1h-1zM138 28h2v1h-2zM141 28h1v1h-1zM5 29h1v1h-1zM10 29h1v1h-1zM21 29h4v1h-4zM27 29h3v1h-3zM33 29h1v1h-1zM37 29h2v1h-2zM66 29h1v1h-1zM99 29h1v1h-1zM101 29h1v1h-1zM103 29h1v1h-1zM106 29h2v1h-2zM115 29h2v1h-2zM118 29h1v1h-1zM120 29h1v1h-1zM128 29h1v1h-1zM130 29h2v1h-2zM137 29h1v1h-1zM139 29h1v1h-1zM145 29h1v1h-1zM16 30h3v1h-3zM26 30h1v1h-1zM29 30h1v1h-1zM39 30h1v1h-1zM51 30h1v1h-1zM70 30h1v1h-1zM106 30h1v1h-1zM110 30h1v1h-1zM114 30h1v1h-1zM116 30h1v1h-1zM124 30h2v1h-2zM134 30h1v1h-1zM136 30h2v1h-2zM146 30h1v1h-1zM151 30h2v1h-2zM160 30h1v1h-1zM25 31h1v1h-1zM28 31h1v1h-1zM38 31h1v1h-1zM48 31h1v1h-1zM52 31h1v1h-1zM90 31h2v1h-2zM94 31h1v1h-1zM96 31h1v1h-1zM99 31h1v1h-1zM101 31h1v1h-1zM105 31h1v1h-1zM107 31h1v1h-1zM113 31h3v1h-3zM124 31h1v1h-1zM130 31h1v1h-1zM132 31h3v1h-3zM139 31h4v1h-4zM11 32h1v1h-1zM25 32h1v1h-1zM33 32h1v1h-1zM35 32h1v1h-1zM39 32h1v1h-1zM63 32h1v1h-1zM79 32h1v1h-1zM90 32h1v1h-1zM99 32h1v1h-1zM121 32h2v1h-2zM132 32h1v1h-1zM139 32h1v1h-1zM141 32h1v1h-1zM0 33h1v1h-1zM4 33h1v1h-1zM14 33h1v1h-1zM21 33h1v1h-1zM40 33h2v1h-2zM49 33h3v1h-3zM61 33h1v1h-1zM63 33h1v1h-1zM80 33h1v1h-1zM83 33h1v1h-1zM90 33h1v1h-1zM100 33h1v1h-1zM106 33h1v1h-1zM110 33h1v1h-1zM114 33h1v1h-1zM126 33h1v1h-1zM132 33h1v1h-1zM136 33h1v1h-1zM138 33h1v1h-1zM145 33h5v1h-5zM151 33h5v1h-5zM158 33h3v1h-3zM11 34h2v1h-2zM14 34h1v1h-1zM20 34h1v1h-1zM23 34h1v1h-1zM33 34h1v1h-1zM104 34h1v1h-1zM106 34h1v1h-1zM127 34h1v1h-1zM129 34h1v1h-1zM145 34h1v1h-1zM1 35h4v1h-4zM22 35h1v1h-1zM34 35h1v1h-1zM36 35h2v1h-2zM42 35h3v1h-3zM48 35h1v1h-1zM52 35h1v1h-1zM54 35h1v1h-1zM57 35h2v1h-2zM61 35h1v1h-1zM71 35h1v1h-1zM78 35h2v1h-2zM82 35h1v1h-1zM88 35h3v1h-3zM92 35h2v1h-2zM98 35h2v1h-2zM110 35h1v1h-1zM112 35h1v1h-1zM119 35h3v1h-3zM136 35h1v1h-1zM139 35h2v1h-2zM143 35h1v1h-1zM146 35h1v1h-1zM150 35h5v1h-5zM158 35h2v1h-2zM25 36h1v1h-1zM38 36h1v1h-1zM45 36h2v1h-2zM49 36h1v1h-1zM54 36h1v1h-1zM59 36h1v1h-1zM63 36h1v1h-1zM68 36h1v1h-1zM71 36h4v1h-4zM76 36h1v1h-1zM90 36h3v1h-3zM96 36h2v1h-2zM99 36h3v1h-3zM110 36h4v1h-4zM115 36h5v1h-5zM123 36h1v1h-1zM129 36h2v1h-2zM139 36h1v1h-1zM149 36h1v1h-1zM154 36h1v1h-1zM156 36h1v1h-1zM158 36h3v1h-3zM1 37h1v1h-1zM19 37h1v1h-1zM24 37h2v1h-2zM36 37h3v1h-3zM44 37h2v1h-2zM47 37h3v1h-3zM52 37h2v1h-2zM59 37h1v1h-1zM61 37h1v1h-1zM63 37h1v1h-1zM68 37h1v1h-1zM71 37h2v1h-2zM74 37h1v1h-1zM81 37h1v1h-1zM83 37h1v1h-1zM90 37h2v1h-2zM96 37h1v1h-1zM98 37h1v1h-1zM100 37h4v1h-4zM108 37h1v1h-1zM110 37h4v1h-4zM115 37h1v1h-1zM118 37h2v1h-2zM130 37h1v1h-1zM132 37h4v1h-4zM139 37h1v1h-1zM142 37h2v1h-2zM147 37h4v1h-4zM152 37h9v1h-9zM1 38h1v1h-1zM19 38h1v1h-1zM24 38h2v1h-2zM38 38h1v1h-1zM46 38h1v1h-1zM49 38h3v1h-3zM58 38h2v1h-2zM68 38h1v1h-1zM81 38h1v1h-1zM83 38h1v1h-1zM88 38h1v1h-1zM93 38h1v1h-1zM96 38h2v1h-2zM99 38h1v1h-1zM101 38h1v1h-1zM105 38h1v1h-1zM110 38h1v1h-1zM112 38h2v1h-2zM115 38h2v1h-2zM119 38h1v1h-1zM130 38h4v1h-4zM140 38h4v1h-4zM145 38h1v1h-1zM149 38h1v1h-1zM151 38h1v1h-1zM154 38h2v1h-2zM19 39h1v1h-1zM36 39h1v1h-1zM60 39h4v1h-4zM76 39h1v1h-1zM79 39h1v1h-1zM81 39h1v1h-1zM83 39h9v1h-9zM94 39h6v1h-6zM106 39h1v1h-1zM142 39h1v1h-1zM32 40h1v1h-1zM38 40h3v1h-3zM46 40h1v1h-1zM48 40h1v1h-1zM52 40h2v1h-2zM69 40h1v1h-1zM91 40h1v1h-1zM102 40h3v1h-3zM106 40h1v1h-1zM108 40h3v1h-3zM118 40h1v1h-1zM124 40h2v1h-2zM133 40h4v1h-4zM139 40h2v1h-2zM143 40h2v1h-2zM148 40h1v1h-1zM150 40h2v1h-2zM154 40h7v1h-7zM3 41h1v1h-1zM44 41h1v1h-1zM46 41h2v1h-2zM53 41h1v1h-1zM60 41h1v1h-1zM62 41h1v1h-1zM79 41h1v1h-1zM83 41h1v1h-1zM86 41h1v1h-1zM89 41h2v1h-2zM94 41h2v1h-2zM99 41h3v1h-3zM105 41h2v1h-2zM108 41h1v1h-1zM113 41h1v1h-1zM115 41h1v1h-1zM122 41h2v1h-2zM135 41h1v1h-1zM145 41h1v1h-1zM147 41h2v1h-2zM155 41h2v1h-2zM158 41h1v1h-1zM3 42h1v1h-1zM16 42h1v1h-1zM39 42h2v1h-2zM46 42h3v1h-3zM50 42h2v1h-2zM53 42h1v1h-1zM62 42h2v1h-2zM70 42h1v1h-1zM76 42h2v1h-2zM79 42h1v1h-1zM84 42h1v1h-1zM86 42h1v1h-1zM88 42h1v1h-1zM90 42h1v1h-1zM96 42h1v1h-1zM98 42h1v1h-1zM104 42h2v1h-2zM112 42h1v1h-1zM119 42h3v1h-3zM124 42h2v1h-2zM132 42h2v1h-2zM137 42h3v1h-3zM142 42h2v1h-2zM145 42h15v1h-15zM20 43h1v1h-1zM23 43h1v1h-1zM39 43h1v1h-1zM41 43h1v1h-1zM49 43h1v1h-1zM60 43h1v1h-1zM62 43h1v1h-1zM66 43h1v1h-1zM69 43h1v1h-1zM76 43h1v1h-1zM79 43h1v1h-1zM83 43h2v1h-2zM87 43h6v1h-6zM99 43h3v1h-3zM104 43h1v1h-1zM106 43h1v1h-1zM111 43h2v1h-2zM124 43h1v1h-1zM126 43h1v1h-1zM128 43h3v1h-3zM146 43h1v1h-1zM149 43h2v1h-2zM152 43h2v1h-2zM155 43h2v1h-2zM160 43h1v1h-1zM34 44h1v1h-1zM40 44h1v1h-1zM45 44h3v1h-3zM49 44h1v1h-1zM51 44h2v1h-2zM61 44h1v1h-1zM80 44h1v1h-1zM85 44h1v1h-1zM100 44h1v1h-1zM107 44h2v1h-2zM117 44h1v1h-1zM129 44h1v1h-1zM135 44h1v1h-1zM138 44h2v1h-2zM146 44h1v1h-1zM149 44h1v1h-1zM157 44h1v1h-1zM2 45h1v1h-1zM42 45h1v1h-1zM46 45h1v1h-1zM51 45h2v1h-2zM63 45h2v1h-2zM74 45h1v1h-1zM82 45h1v1h-1zM84 45h1v1h-1zM93 45h1v1h-1zM97 45h1v1h-1zM99 45h1v1h-1zM101 45h2v1h-2zM104 45h1v1h-1zM107 45h1v1h-1zM110 45h3v1h-3zM115 45h2v1h-2zM119 45h1v1h-1zM122 45h1v1h-1zM133 45h1v1h-1zM139 45h2v1h-2zM160 45h1v1h-1zM35 46h1v1h-1zM46 46h1v1h-1zM48 46h1v1h-1zM51 46h1v1h-1zM53 46h1v1h-1zM55 46h1v1h-1zM58 46h2v1h-2zM61 46h4v1h-4zM67 46h1v1h-1zM69 46h1v1h-1zM82 46h1v1h-1zM85 46h1v1h-1zM88 46h7v1h-7zM101 46h2v1h-2zM108 46h1v1h-1zM112 46h1v1h-1zM114 46h2v1h-2zM121 46h1v1h-1zM133 46h3v1h-3zM137 46h1v1h-1zM142 46h2v1h-2zM147 46h1v1h-1zM150 46h1v1h-1zM152 46h9v1h-9zM3 47h1v1h-1zM15 47h2v1h-2zM21 47h1v1h-1zM27 47h1v1h-1zM34 47h1v1h-1zM44 47h2v1h-2zM66 47h1v1h-1zM68 47h1v1h-1zM87 47h1v1h-1zM89 47h1v1h-1zM91 47h3v1h-3zM99 47h1v1h-1zM101 47h3v1h-3zM105 47h1v1h-1zM113 47h1v1h-1zM116 47h3v1h-3zM126 47h1v1h-1zM144 47h1v1h-1zM149 47h1v1h-1zM152 47h2v1h-2zM158 47h1v1h-1zM160 47h1v1h-1zM1 48h2v1h-2zM41 48h2v1h-2zM52 48h1v1h-1zM60 48h1v1h-1zM63 48h2v1h-2zM77 48h1v1h-1zM80 48h1v1h-1zM84 48h1v1h-1zM97 48h2v1h-2zM100 48h1v1h-1zM102 48h1v1h-1zM108 48h2v1h-2zM117 48h1v1h-1zM120 48h2v1h-2zM133 48h1v1h-1zM142 48h1v1h-1zM144 48h1v1h-1zM151 48h1v1h-1zM153 48h1v1h-1zM156 48h1v1h-1zM159 48h2v1h-2z"/>
<path fill="#efeffc" d="M0 0h1v1h-1zM7 0h1v1h-1zM46 0h1v1h-1zM57 0h1v1h-1zM62 0h1v1h-1zM64 0h1v1h-1zM73 0h1v1h-1zM92 0h1v1h-1zM109 0h1v1h-1zM117 0h1v1h-1zM153 0h1v1h-1zM156 0h1v1h-1zM1 1h1v1h-1zM47 1h1v1h-1zM51 1h1v1h-1zM56 1h1v1h-1zM58 1h1v1h-1zM86 1h1v1h-1zM93 1h1v1h-1zM97 1h2v1h-2zM106 1h1v1h-1zM108 1h1v1h-1zM113 1h1v1h-1zM120 1h1v1h-1zM127 1h1v1h-1zM136 1h1v1h-1zM139 1h1v1h-1zM142 1h2v1h-2zM146 1h1v1h-1zM149 1h1v1h-1zM157 1h4v1h-4zM18 2h1v1h-1zM46 2h1v1h-1zM50 2h1v1h-1zM63 2h1v1h-1zM65 2h1v1h-1zM74 2h1v1h-1zM77 2h1v1h-1zM83 2h1v1h-1zM90 2h1v1h-1zM100 2h1v1h-1zM111 2h1v1h-1zM114 2h1v1h-1zM122 2h1v1h-1zM138 2h1v1h-1zM144 2h1v1h-1zM53 3h1v1h-1zM56 3h2v1h-2zM59 3h1v1h-1zM84 3h1v1h-1zM86 3h1v1h-1zM90 3h2v1h-2zM102 3h1v1h-1zM104 3h2v1h-2zM120 3h1v1h-1zM123 3h1v1h-1zM4 4h1v1h-1zM55 4h2v1h-2zM60 4h1v1h-1zM65 4h1v1h-1zM77 4h1v1h-1zM82 4h1v1h-1zM86 4h1v1h-1zM88 4h1v1h-1zM97 4h1v1h-1zM101 4h1v1h-1zM104 4h1v1h-1zM115 4h1v1h-1zM122 4h2v1h-2zM126 4h1v1h-1zM143 4h2v1h-2zM146 4h1v1h-1zM157 4h1v1h-1zM11 5h1v1h-1zM16 5h1v1h-1zM20 5h1v1h-1zM22 5h1v1h-1zM24 5h11v1h-11zM36 5h4v1h-4zM41 5h1v1h-1zM44 5h1v1h-1zM50 5h2v1h-2zM56 5h2v1h-2zM59 5h4v1h-4zM64 5h2v1h-2zM67 5h1v1h-1zM71 5h5v1h-5zM78 5h2v1h-2zM81 5h4v1h-4zM86 5h6v1h-6zM100 5h1v1h-1zM102 5h1v1h-1zM105 5h1v1h-1zM107 5h8v1h-8zM116 5h1v1h-1zM121 5h8v1h-8zM131 5h1v1h-1zM140 5h3v1h-3zM144 5h1v1h-1zM159 5h1v1h-1zM5 6h1v1h-1zM7 6h1v1h-1zM10 6h2v1h-2zM15 6h1v1h-1zM24 6h1v1h-1zM27 6h1v1h-1zM36 6h2v1h-2zM44 6h1v1h-1zM59 6h1v1h-1zM65 6h1v1h-1zM74 6h1v1h-1zM84 6h1v1h-1zM91 6h1v1h-1zM94 6h2v1h-2zM100 6h1v1h-1zM105 6h1v1h-1zM108 6h1v1h-1zM114 6h1v1h-1zM116 6h1v1h-1zM121 6h1v1h-1zM126 6h1v1h-1zM129 6h1v1h-1zM133 6h1v1h-1zM139 6h1v1h-1zM16 7h5v1h-5zM52 7h1v1h-1zM54 7h1v1h-1zM68 7h1v1h-1zM72 7h1v1h-1zM81 7h1v1h-1zM84 7h1v1h-1zM100 7h1v1h-1zM102 7h2v1h-2zM109 7h2v1h-2zM117 7h1v1h-1zM119 7h1v1h-1zM122 7h1v1h-1zM124 7h1v1h-1zM133 7h2v1h-2zM144 7h1v1h-1zM8 8h1v1h-1zM18 8h1v1h-1zM29 8h1v1h-1zM35 8h1v1h-1zM40 8h2v1h-2zM43 8h1v1h-1zM59 8h1v1h-1zM66 8h1v1h-1zM73 8h1v1h-1zM82 8h1v1h-1zM87 8h2v1h-2zM91 8h2v1h-2zM95 8h1v1h-1zM99 8h1v1h-1zM111 8h2v1h-2zM128 8h1v1h-1zM131 8h1v1h-1zM135 8h1v1h-1zM137 8h1v1h-1zM5 9h3v1h-3zM17 9h1v1h-1zM28 9h1v1h-1zM34 9h1v1h-1zM54 9h1v1h-1zM59 9h1v1h-1zM66 9h1v1h-1zM68 9h2v1h-2zM72 9h1v1h-1zM79 9h1v1h-1zM83 9h1v1h-1zM85 9h1v1h-1zM87 9h1v1h-1zM90 9h1v1h-1zM97 9h1v1h-1zM109 9h1v1h-1zM118 9h1v1h-1zM131 9h1v1h-1zM140 9h1v1h-1zM143 9h1v1h-1zM22 10h1v1h-1zM26 10h3v1h-3zM30 10h3v1h-3zM47 10h1v1h-1zM51 10h1v1h-1zM53 10h1v1h-1zM58 10h1v1h-1zM61 10h2v1h-2zM68 10h1v1h-1zM72 10h2v1h-2zM75 10h1v1h-1zM80 10h4v1h-4zM90 10h1v1h-1zM94 10h2v1h-2zM99 10h1v1h-1zM103 10h1v1h-1zM105 10h1v1h-1zM109 10h3v1h-3zM113 10h1v1h-1zM117 10h1v1h-1zM120 10h2v1h-2zM124 10h1v1h-1zM128 10h1v1h-1zM130 10h1v1h-1zM142 10h1v1h-1zM15 11h1v1h-1zM23 11h3v1h-3zM27 11h2v1h-2zM37 11h1v1h-1zM42 11h1v1h-1zM44 11h1v1h-1zM61 11h2v1h-2zM71 11h1v1h-1zM77 11h1v1h-1zM81 11h1v1h-1zM84 11h1v1h-1zM101 11h1v1h-1zM113 11h1v1h-1zM118 11h1v1h-1zM140 11h1v1h-1zM144 11h1v1h-1zM146 11h1v1h-1zM149 11h1v1h-1zM152 11h1v1h-1zM154 11h1v1h-1zM9 12h1v1h-1zM28 12h1v1h-1zM30 12h2v1h-2zM35 12h1v1h-1zM38 12h1v1h-1zM41 12h2v1h-2zM45 12h1v1h-1zM58 12h2v1h-2zM66 12h1v1h-1zM85 12h1v1h-1zM89 12h1v1h-1zM92 12h2v1h-2zM97 12h1v1h-1zM104 12h2v1h-2zM118 12h1v1h-1zM122 12h1v1h-1zM125 12h1v1h-1zM130 12h1v1h-1zM132 12h1v1h-1zM7 13h1v1h-1zM11 13h1v1h-1zM25 13h4v1h-4zM44 13h1v1h-1zM51 13h1v1h-1zM56 13h1v1h-1zM61 13h1v1h-1zM66 13h1v1h-1zM75 13h2v1h-2zM92 13h2v1h-2zM101 13h1v1h-1zM111 13h1v1h-1zM114 13h1v1h-1zM118 13h1v1h-1zM123 13h1v1h-1zM125 13h1v1h-1zM151 13h2v1h-2zM154 13h1v1h-1zM10 14h1v1h-1zM15 14h1v1h-1zM20 14h1v1h-1zM25 14h1v1h-1zM44 14h1v1h-1zM51 14h1v1h-1zM55 14h1v1h-1zM63 14h3v1h-3zM68 14h1v1h-1zM75 14h1v1h-1zM77 14h2v1h-2zM81 14h1v1h-1zM83 14h1v1h-1zM88 14h2v1h-2zM92 14h3v1h-3zM99 14h1v1h-1zM101 14h1v1h-1zM105 14h1v1h-1zM113 14h1v1h-1zM122 14h1v1h-1zM124 14h1v1h-1zM128 14h1v1h-1zM135 14h1v1h-1zM141 14h1v1h-1zM144 14h1v1h-1zM151 14h1v1h-1zM10 15h1v1h-1zM22 15h1v1h-1zM26 15h1v1h-1zM28 15h1v1h-1zM30 15h1v1h-1zM36 15h1v1h-1zM62 15h1v1h-1zM64 15h1v1h-1zM75 15h2v1h-2zM82 15h1v1h-1zM85 15h2v1h-2zM96 15h1v1h-1zM99 15h1v1h-1zM104 15h1v1h-1zM107 15h1v1h-1zM111 15h2v1h-2zM124 15h1v1h-1zM128 15h1v1h-1zM130 15h1v1h-1zM140 15h1v1h-1zM144 15h1v1h-1zM158 15h1v1h-1zM0 16h3v1h-3zM7 16h3v1h-3zM12 16h6v1h-6zM20 16h1v1h-1zM22 16h1v1h-1zM24 16h5v1h-5zM31 16h4v1h-4zM39 16h1v1h-1zM46 16h1v1h-1zM54 16h2v1h-2zM59 16h1v1h-1zM61 16h9v1h-9zM71 16h1v1h-1zM76 16h2v1h-2zM79 16h2v1h-2zM83 16h2v1h-2zM86 16h4v1h-4zM93 16h1v1h-1zM96 16h1v1h-1zM98 16h2v1h-2zM104 16h3v1h-3zM113 16h2v1h-2zM117 16h1v1h-1zM119 16h1v1h-1zM121 16h3v1h-3zM126 16h2v1h-2zM129 16h13v1h-13zM144 16h8v1h-8zM153 16h1v1h-1zM156 16h2v1h-2zM14 17h1v1h-1zM22 17h1v1h-1zM33 17h2v1h-2zM46 17h1v1h-1zM50 17h1v1h-1zM68 17h1v1h-1zM76 17h1v1h-1zM93 17h1v1h-1zM96 17h2v1h-2zM104 17h1v1h-1zM108 17h1v1h-1zM112 17h2v1h-2zM116 17h1v1h-1zM121 17h1v1h-1zM126 17h1v1h-1zM131 17h1v1h-1zM133 17h1v1h-1zM141 17h1v1h-1zM154 17h1v1h-1zM12 18h1v1h-1zM15 18h1v1h-1zM20 18h1v1h-1zM22 18h1v1h-1zM26 18h1v1h-1zM28 18h1v1h-1zM30 18h2v1h-2zM34 18h4v1h-4zM43 18h1v1h-1zM48 18h1v1h-1zM52 18h1v1h-1zM55 18h1v1h-1zM58 18h9v1h-9zM70 18h1v1h-1zM72 18h1v1h-1zM74 18h2v1h-2zM78 18h1v1h-1zM84 18h1v1h-1zM86 18h6v1h-6zM96 18h2v1h-2zM101 18h2v1h-2zM105 18h5v1h-5zM111 18h3v1h-3zM115 18h4v1h-4zM121 18h1v1h-1zM126 18h4v1h-4zM133 18h1v1h-1zM138 18h1v1h-1zM144 18h1v1h-1zM147 18h1v1h-1zM150 18h2v1h-2zM159 18h1v1h-1zM28 19h1v1h-1zM31 19h1v1h-1zM34 19h1v1h-1zM37 19h1v1h-1zM52 19h1v1h-1zM59 19h2v1h-2zM64 19h1v1h-1zM73 19h1v1h-1zM79 19h1v1h-1zM82 19h1v1h-1zM96 19h1v1h-1zM105 19h1v1h-1zM107 19h1v1h-1zM111 19h1v1h-1zM136 19h1v1h-1zM141 19h1v1h-1zM144 19h1v1h-1zM153 19h1v1h-1zM3 20h1v1h-1zM5 20h1v1h-1zM15 20h1v1h-1zM21 20h1v1h-1zM40 20h1v1h-1zM43 20h1v1h-1zM45 20h1v1h-1zM50 20h1v1h-1zM71 20h1v1h-1zM74 20h1v1h-1zM76 20h1v1h-1zM98 20h1v1h-1zM107 20h1v1h-1zM113 20h2v1h-2zM117 20h1v1h-1zM136 20h2v1h-2zM143 20h1v1h-1zM146 20h4v1h-4zM151 20h4v1h-4zM156 20h5v1h-5zM5 21h1v1h-1zM7 21h1v1h-1zM10 21h2v1h-2zM14 21h2v1h-2zM20 21h1v1h-1zM22 21h1v1h-1zM24 21h2v1h-2zM27 21h1v1h-1zM30 21h1v1h-1zM32 21h1v1h-1zM38 21h1v1h-1zM57 21h1v1h-1zM61 21h8v1h-8zM75 21h1v1h-1zM77 21h7v1h-7zM87 21h3v1h-3zM94 21h1v1h-1zM122 21h1v1h-1zM124 21h1v1h-1zM126 21h1v1h-1zM128 21h1v1h-1zM140 21h2v1h-2zM1 22h1v1h-1zM8 22h2v1h-2zM12 22h1v1h-1zM20 22h1v1h-1zM28 22h1v1h-1zM32 22h1v1h-1zM34 22h1v1h-1zM38 22h1v1h-1zM44 22h1v1h-1zM48 22h1v1h-1zM58 22h1v1h-1zM61 22h1v1h-1zM64 22h1v1h-1zM72 22h1v1h-1zM85 22h1v1h-1zM88 22h2v1h-2zM92 22h1v1h-1zM95 22h1v1h-1zM124 22h1v1h-1zM129 22h1v1h-1zM133 22h2v1h-2zM137 22h2v1h-2zM144 22h1v1h-1zM6 24h1v1h-1zM18 24h1v1h-1zM29 24h1v1h-1zM35 24h1v1h-1zM46 24h1v1h-1zM57 24h1v1h-1zM59 24h1v1h-1zM62 24h1v1h-1zM69 24h1v1h-1zM74 24h1v1h-1zM77 24h1v1h-1zM84 24h2v1h-2zM87 24h1v1h-1zM96 24h1v1h-1zM127 24h1v1h-1zM129 24h3v1h-3zM0 25h1v1h-1zM3 25h2v1h-2zM6 25h1v1h-1zM12 25h3v1h-3zM16 25h2v1h-2zM19 25h5v1h-5zM27 25h3v1h-3zM32 25h1v1h-1zM34 25h1v1h-1zM46 25h1v1h-1zM49 25h1v1h-1zM54 25h2v1h-2zM57 25h1v1h-1zM59 25h1v1h-1zM66 25h1v1h-1zM68 25h2v1h-2zM74 25h1v1h-1zM77 25h1v1h-1zM79 25h1v1h-1zM82 25h1v1h-1zM84 25h3v1h-3zM88 25h1v1h-1zM96 25h1v1h-1zM104 25h2v1h-2zM121 25h1v1h-1zM126 25h2v1h-2zM129 25h5v1h-5zM137 25h4v1h-4zM144 25h1v1h-1zM13 26h1v1h-1zM34 26h2v1h-2zM39 26h1v1h-1zM42 26h2v1h-2zM56 26h1v1h-1zM65 26h1v1h-1zM67 26h1v1h-1zM69 26h1v1h-1zM72 26h2v1h-2zM75 26h2v1h-2zM78 26h1v1h-1zM81 26h1v1h-1zM88 26h2v1h-2zM93 26h2v1h-2zM99 26h1v1h-1zM104 26h1v1h-1zM121 26h1v1h-1zM126 26h1v1h-1zM130 26h1v1h-1zM133 26h2v1h-2zM137 26h2v1h-2zM151 26h1v1h-1zM3 27h2v1h-2zM11 27h1v1h-1zM14 27h1v1h-1zM16 27h2v1h-2zM19 27h2v1h-2zM23 27h3v1h-3zM29 27h6v1h-6zM39 27h1v1h-1zM41 27h2v1h-2zM44 27h1v1h-1zM46 27h1v1h-1zM50 27h2v1h-2zM54 27h2v1h-2zM59 27h1v1h-1zM65 27h8v1h-8zM75 27h2v1h-2zM81 27h1v1h-1zM90 27h2v1h-2zM97 27h2v1h-2zM101 27h2v1h-2zM104 27h2v1h-2zM107 27h4v1h-4zM112 27h2v1h-2zM115 27h6v1h-6zM124 27h1v1h-1zM126 27h1v1h-1zM128 27h4v1h-4zM133 27h1v1h-1zM137 27h5v1h-5zM143 27h1v1h-1zM145 27h1v1h-1zM29 28h1v1h-1zM31 28h1v1h-1zM33 28h1v1h-1zM41 28h2v1h-2zM88 28h1v1h-1zM107 28h1v1h-1zM131 28h1v1h-1zM6 29h3v1h-3zM31 29h1v1h-1zM36 29h1v1h-1zM40 29h2v1h-2zM53 29h1v1h-1zM80 29h1v1h-1zM94 29h1v1h-1zM108 29h1v1h-1zM110 29h1v1h-1zM114 29h1v1h-1zM117 29h1v1h-1zM119 29h1v1h-1zM124 29h1v1h-1zM0 30h1v1h-1zM38 30h1v1h-1zM40 30h1v1h-1zM46 30h1v1h-1zM50 30h1v1h-1zM71 30h1v1h-1zM108 30h1v1h-1zM111 30h1v1h-1zM122 30h1v1h-1zM131 30h1v1h-1zM142 30h1v1h-1zM5 31h1v1h-1zM9 31h1v1h-1zM21 31h1v1h-1zM23 31h1v1h-1zM29 31h1v1h-1zM33 31h1v1h-1zM35 31h1v1h-1zM39 31h1v1h-1zM46 31h1v1h-1zM54 31h1v1h-1zM60 31h1v1h-1zM72 31h2v1h-2zM78 31h1v1h-1zM81 31h1v1h-1zM83 31h1v1h-1zM86 31h1v1h-1zM93 31h1v1h-1zM95 31h1v1h-1zM100 31h1v1h-1zM104 31h1v1h-1zM108 31h1v1h-1zM117 31h1v1h-1zM119 31h1v1h-1zM122 31h1v1h-1zM137 31h2v1h-2zM145 31h2v1h-2zM5 32h1v1h-1zM41 32h2v1h-2zM52 32h1v1h-1zM65 32h1v1h-1zM75 32h1v1h-1zM86 32h1v1h-1zM88 32h1v1h-1zM92 32h1v1h-1zM102 32h3v1h-3zM110 32h4v1h-4zM123 32h1v1h-1zM128 32h3v1h-3zM133 32h1v1h-1zM138 32h1v1h-1zM9 33h1v1h-1zM25 33h1v1h-1zM28 33h1v1h-1zM30 33h1v1h-1zM34 33h1v1h-1zM47 33h1v1h-1zM62 33h1v1h-1zM70 33h1v1h-1zM84 33h1v1h-1zM86 33h2v1h-2zM92 33h3v1h-3zM108 33h1v1h-1zM128 33h1v1h-1zM130 33h1v1h-1zM134 33h2v1h-2zM6 34h1v1h-1zM19 34h1v1h-1zM22 34h1v1h-1zM40 34h1v1h-1zM48 34h1v1h-1zM53 34h1v1h-1zM55 34h1v1h-1zM65 34h1v1h-1zM103 34h1v1h-1zM107 34h1v1h-1zM116 34h3v1h-3zM120 34h1v1h-1zM124 34h1v1h-1zM128 34h1v1h-1zM26 35h1v1h-1zM29 35h1v1h-1zM31 35h1v1h-1zM35 35h1v1h-1zM38 35h1v1h-1zM46 35h1v1h-1zM49 35h2v1h-2zM53 35h1v1h-1zM55 35h1v1h-1zM62 35h1v1h-1zM77 35h1v1h-1zM94 35h1v1h-1zM102 35h1v1h-1zM104 35h1v1h-1zM116 35h1v1h-1zM123 35h3v1h-3zM130 35h1v1h-1zM133 35h1v1h-1zM138 35h1v1h-1zM142 35h1v1h-1zM144 35h2v1h-2zM148 35h1v1h-1zM19 36h1v1h-1zM50 36h2v1h-2zM53 36h1v1h-1zM56 36h1v1h-1zM66 36h1v1h-1zM75 36h1v1h-1zM103 36h1v1h-1zM107 36h1v1h-1zM114 36h1v1h-1zM120 36h1v1h-1zM132 36h2v1h-2zM135 36h1v1h-1zM137 36h1v1h-1zM151 36h1v1h-1zM40 37h1v1h-1zM50 37h2v1h-2zM56 37h1v1h-1zM58 37h1v1h-1zM66 37h1v1h-1zM73 37h1v1h-1zM75 37h2v1h-2zM92 37h1v1h-1zM95 37h1v1h-1zM97 37h1v1h-1zM107 37h1v1h-1zM114 37h1v1h-1zM116 37h2v1h-2zM123 37h1v1h-1zM125 37h1v1h-1zM127 37h1v1h-1zM137 37h2v1h-2zM146 37h1v1h-1zM151 37h1v1h-1zM44 38h1v1h-1zM56 38h1v1h-1zM61 38h1v1h-1zM63 38h1v1h-1zM75 38h1v1h-1zM107 38h1v1h-1zM114 38h1v1h-1zM117 38h1v1h-1zM137 38h1v1h-1zM2 39h2v1h-2zM20 39h1v1h-1zM24 39h1v1h-1zM37 39h1v1h-1zM39 39h2v1h-2zM42 39h14v1h-14zM58 39h2v1h-2zM64 39h1v1h-1zM68 39h3v1h-3zM72 39h3v1h-3zM77 39h2v1h-2zM80 39h1v1h-1zM100 39h6v1h-6zM107 39h21v1h-21zM129 39h12v1h-12zM143 39h18v1h-18zM2 40h1v1h-1zM4 40h1v1h-1zM17 40h1v1h-1zM20 40h1v1h-1zM27 40h1v1h-1zM35 40h1v1h-1zM41 40h1v1h-1zM47 40h1v1h-1zM50 40h1v1h-1zM55 40h1v1h-1zM59 40h1v1h-1zM66 40h1v1h-1zM72 40h1v1h-1zM76 40h2v1h-2zM81 40h1v1h-1zM87 40h1v1h-1zM90 40h1v1h-1zM94 40h5v1h-5zM100 40h1v1h-1zM105 40h1v1h-1zM107 40h1v1h-1zM111 40h3v1h-3zM117 40h1v1h-1zM119 40h1v1h-1zM122 40h1v1h-1zM126 40h1v1h-1zM130 40h1v1h-1zM137 40h2v1h-2zM142 40h1v1h-1zM145 40h1v1h-1zM153 40h1v1h-1zM36 41h1v1h-1zM38 41h1v1h-1zM42 41h1v1h-1zM49 41h4v1h-4zM54 41h1v1h-1zM59 41h1v1h-1zM61 41h1v1h-1zM64 41h1v1h-1zM77 41h2v1h-2zM81 41h1v1h-1zM84 41h1v1h-1zM87 41h2v1h-2zM92 41h2v1h-2zM96 41h2v1h-2zM103 41h2v1h-2zM107 41h1v1h-1zM109 41h1v1h-1zM112 41h1v1h-1zM117 41h1v1h-1zM124 41h1v1h-1zM126 41h1v1h-1zM128 41h3v1h-3zM136 41h2v1h-2zM139 41h1v1h-1zM142 41h1v1h-1zM144 41h1v1h-1zM151 41h1v1h-1zM154 41h1v1h-1zM157 41h1v1h-1zM17 42h1v1h-1zM24 42h1v1h-1zM32 42h1v1h-1zM41 42h1v1h-1zM49 42h1v1h-1zM54 42h2v1h-2zM59 42h1v1h-1zM61 42h1v1h-1zM66 42h1v1h-1zM71 42h2v1h-2zM75 42h1v1h-1zM78 42h1v1h-1zM81 42h1v1h-1zM83 42h1v1h-1zM85 42h1v1h-1zM87 42h1v1h-1zM89 42h1v1h-1zM92 42h3v1h-3zM99 42h1v1h-1zM102 42h1v1h-1zM122 42h1v1h-1zM127 42h1v1h-1zM130 42h1v1h-1zM160 42h1v1h-1zM17 43h1v1h-1zM25 43h1v1h-1zM30 43h1v1h-1zM38 43h1v1h-1zM44 43h1v1h-1zM46 43h1v1h-1zM50 43h2v1h-2zM55 43h1v1h-1zM61 43h1v1h-1zM68 43h1v1h-1zM72 43h1v1h-1zM75 43h1v1h-1zM93 43h1v1h-1zM95 43h1v1h-1zM103 43h1v1h-1zM114 43h1v1h-1zM133 43h1v1h-1zM136 43h1v1h-1zM138 43h2v1h-2zM142 43h1v1h-1zM147 43h1v1h-1zM154 43h1v1h-1zM158 43h2v1h-2zM2 44h1v1h-1zM31 44h1v1h-1zM35 44h1v1h-1zM63 44h1v1h-1zM69 44h1v1h-1zM75 44h2v1h-2zM106 44h1v1h-1zM109 44h1v1h-1zM114 44h1v1h-1zM119 44h1v1h-1zM122 44h1v1h-1zM131 44h1v1h-1zM141 44h1v1h-1zM148 44h1v1h-1zM3 45h1v1h-1zM6 45h1v1h-1zM40 45h2v1h-2zM43 45h1v1h-1zM61 45h2v1h-2zM65 45h1v1h-1zM68 45h1v1h-1zM79 45h1v1h-1zM83 45h1v1h-1zM96 45h1v1h-1zM100 45h1v1h-1zM144 45h1v1h-1zM146 45h1v1h-1zM155 45h1v1h-1zM2 46h2v1h-2zM31 46h4v1h-4zM40 46h1v1h-1zM44 46h2v1h-2zM49 46h2v1h-2zM52 46h1v1h-1zM60 46h1v1h-1zM65 46h1v1h-1zM72 46h1v1h-1zM75 46h1v1h-1zM78 46h4v1h-4zM84 46h1v1h-1zM86 46h2v1h-2zM95 46h1v1h-1zM97 46h2v1h-2zM100 46h1v1h-1zM104 46h4v1h-4zM109 46h3v1h-3zM113 46h1v1h-1zM116 46h4v1h-4zM124 46h2v1h-2zM127 46h2v1h-2zM130 46h2v1h-2zM136 46h1v1h-1zM138 46h4v1h-4zM146 46h1v1h-1zM148 46h2v1h-2zM151 46h1v1h-1zM12 47h2v1h-2zM26 47h1v1h-1zM41 47h1v1h-1zM49 47h1v1h-1zM53 47h1v1h-1zM65 47h1v1h-1zM82 47h1v1h-1zM95 47h1v1h-1zM97 47h2v1h-2zM100 47h1v1h-1zM104 47h1v1h-1zM114 47h2v1h-2zM121 47h2v1h-2zM128 47h1v1h-1zM131 47h1v1h-1zM138 47h3v1h-3zM146 47h3v1h-3zM150 47h2v1h-2zM155 47h1v1h-1zM159 47h1v1h-1zM7 48h1v1h-1zM20 48h1v1h-1zM28 48h1v1h-1zM32 48h1v1h-1zM50 48h2v1h-2zM56 48h1v1h-1zM59 48h1v1h-1zM91 48h1v1h-1zM96 48h1v1h-1zM101 48h1v1h-1zM106 48h1v1h-1zM110 48h2v1h-2zM114 48h2v1h-2zM125 48h3v1h-3zM136 48h2v1h-2zM147 48h1v1h-1zM152 48h1v1h-1zM158 48h1v1h-1z"/>
<path fill="#fff2f3" d="M4 0h1v1h-1zM43 0h1v1h-1zM48 0h1v1h-1zM54 0h1v1h-1zM56 0h1v1h-1zM61 0h1v1h-1zM65 0h1v1h-1zM72 0h1v1h-1zM74 0h1v1h-1zM83 0h1v1h-1zM105 0h1v1h-1zM113 0h1v1h-1zM120 0h1v1h-1zM125 0h1v1h-1zM134 0h1v1h-1zM2 1h1v1h-1zM4 1h1v1h-1zM15 1h1v1h-1zM19 1h1v1h-1zM41 1h2v1h-2zM44 1h1v1h-1zM52 1h1v1h-1zM73 1h1v1h-1zM78 1h2v1h-2zM84 1h1v1h-1zM89 1h1v1h-1zM107 1h1v1h-1zM121 1h1v1h-1zM138 1h1v1h-1zM148 1h1v1h-1zM151 1h1v1h-1zM154 1h1v1h-1zM5 2h1v1h-1zM10 2h1v1h-1zM12 2h3v1h-3zM19 2h1v1h-1zM40 2h1v1h-1zM48 2h1v1h-1zM75 2h1v1h-1zM84 2h1v1h-1zM128 2h1v1h-1zM130 2h2v1h-2zM134 2h1v1h-1zM136 2h1v1h-1zM142 2h1v1h-1zM156 2h1v1h-1zM52 3h1v1h-1zM62 3h1v1h-1zM68 3h1v1h-1zM71 3h1v1h-1zM101 3h1v1h-1zM103 3h1v1h-1zM106 3h1v1h-1zM112 3h1v1h-1zM115 3h2v1h-2zM118 3h1v1h-1zM134 3h1v1h-1zM139 3h2v1h-2zM149 3h1v1h-1zM158 3h1v1h-1zM0 4h1v1h-1zM41 4h1v1h-1zM44 4h1v1h-1zM46 4h1v1h-1zM51 4h1v1h-1zM53 4h1v1h-1zM79 4h1v1h-1zM85 4h1v1h-1zM90 4h1v1h-1zM110 4h1v1h-1zM112 4h2v1h-2zM120 4h1v1h-1zM136 4h1v1h-1zM152 4h1v1h-1zM159 4h1v1h-1zM0 5h1v1h-1zM2 5h1v1h-1zM14 5h1v1h-1zM46 5h1v1h-1zM49 5h1v1h-1zM52 5h2v1h-2zM92 5h1v1h-1zM106 5h1v1h-1zM129 5h2v1h-2zM133 5h3v1h-3zM137 5h1v1h-1zM0 6h1v1h-1zM4 6h1v1h-1zM6 6h1v1h-1zM9 6h1v1h-1zM19 6h1v1h-1zM146 6h1v1h-1zM7 7h1v1h-1zM41 7h2v1h-2zM48 7h1v1h-1zM71 7h1v1h-1zM89 7h1v1h-1zM99 7h1v1h-1zM111 7h1v1h-1zM132 7h1v1h-1zM138 7h2v1h-2zM7 8h1v1h-1zM17 8h1v1h-1zM45 8h3v1h-3zM61 8h1v1h-1zM79 8h1v1h-1zM83 8h1v1h-1zM96 8h1v1h-1zM110 8h1v1h-1zM113 8h1v1h-1zM119 8h1v1h-1zM139 8h1v1h-1zM15 9h1v1h-1zM18 9h1v1h-1zM31 9h1v1h-1zM40 9h1v1h-1zM42 9h1v1h-1zM46 9h1v1h-1zM67 9h1v1h-1zM82 9h1v1h-1zM89 9h1v1h-1zM91 9h1v1h-1zM99 9h2v1h-2zM104 9h1v1h-1zM128 9h1v1h-1zM6 10h1v1h-1zM8 10h1v1h-1zM10 10h1v1h-1zM20 10h1v1h-1zM44 10h1v1h-1zM67 10h1v1h-1zM70 10h2v1h-2zM78 10h1v1h-1zM85 10h1v1h-1zM92 10h1v1h-1zM96 10h1v1h-1zM100 10h1v1h-1zM123 10h1v1h-1zM129 10h1v1h-1zM132 10h2v1h-2zM8 11h1v1h-1zM17 11h1v1h-1zM51 11h1v1h-1zM106 11h1v1h-1zM108 11h1v1h-1zM110 11h2v1h-2zM115 11h2v1h-2zM121 11h1v1h-1zM127 11h1v1h-1zM136 11h1v1h-1zM48 12h1v1h-1zM64 12h1v1h-1zM75 12h1v1h-1zM99 12h1v1h-1zM102 12h2v1h-2zM106 12h1v1h-1zM108 12h1v1h-1zM115 12h1v1h-1zM138 12h2v1h-2zM14 13h1v1h-1zM22 13h1v1h-1zM36 13h3v1h-3zM41 13h1v1h-1zM50 13h1v1h-1zM58 13h1v1h-1zM78 13h1v1h-1zM86 13h1v1h-1zM90 13h1v1h-1zM99 13h1v1h-1zM105 13h1v1h-1zM108 13h1v1h-1zM112 13h1v1h-1zM117 13h1v1h-1zM128 13h1v1h-1zM155 13h2v1h-2zM5 14h1v1h-1zM23 14h1v1h-1zM26 14h1v1h-1zM31 14h1v1h-1zM35 14h1v1h-1zM41 14h1v1h-1zM43 14h1v1h-1zM48 14h1v1h-1zM54 14h1v1h-1zM82 14h1v1h-1zM97 14h1v1h-1zM100 14h1v1h-1zM104 14h1v1h-1zM110 14h1v1h-1zM134 14h1v1h-1zM5 15h1v1h-1zM15 15h5v1h-5zM43 15h1v1h-1zM51 15h1v1h-1zM69 15h1v1h-1zM73 15h2v1h-2zM88 15h1v1h-1zM123 15h1v1h-1zM3 16h1v1h-1zM5 16h2v1h-2zM10 16h2v1h-2zM18 16h1v1h-1zM30 16h1v1h-1zM38 16h1v1h-1zM42 16h1v1h-1zM57 16h1v1h-1zM60 16h1v1h-1zM74 16h1v1h-1zM94 16h1v1h-1zM102 16h1v1h-1zM108 16h1v1h-1zM110 16h1v1h-1zM124 16h1v1h-1zM128 16h1v1h-1zM27 17h1v1h-1zM55 17h1v1h-1zM61 17h1v1h-1zM65 17h2v1h-2zM78 17h1v1h-1zM92 17h1v1h-1zM109 17h1v1h-1zM139 17h1v1h-1zM0 18h1v1h-1zM3 18h2v1h-2zM6 18h1v1h-1zM8 18h2v1h-2zM13 18h1v1h-1zM16 18h1v1h-1zM24 18h1v1h-1zM27 18h1v1h-1zM46 18h1v1h-1zM53 18h1v1h-1zM56 18h2v1h-2zM110 18h1v1h-1zM123 18h1v1h-1zM130 18h1v1h-1zM154 18h1v1h-1zM1 19h2v1h-2zM6 19h1v1h-1zM15 19h2v1h-2zM27 19h1v1h-1zM32 19h1v1h-1zM35 19h1v1h-1zM42 19h1v1h-1zM48 19h1v1h-1zM51 19h1v1h-1zM54 19h1v1h-1zM56 19h1v1h-1zM58 19h1v1h-1zM63 19h1v1h-1zM65 19h1v1h-1zM67 19h2v1h-2zM71 19h2v1h-2zM74 19h1v1h-1zM76 19h1v1h-1zM78 19h1v1h-1zM81 19h1v1h-1zM87 19h1v1h-1zM89 19h1v1h-1zM92 19h2v1h-2zM99 19h1v1h-1zM104 19h1v1h-1zM108 19h1v1h-1zM117 19h1v1h-1zM121 19h1v1h-1zM129 19h1v1h-1zM131 19h1v1h-1zM142 19h2v1h-2zM152 19h1v1h-1zM2 20h1v1h-1zM9 20h1v1h-1zM108 20h1v1h-1zM115 20h1v1h-1zM118 20h1v1h-1zM123 20h1v1h-1zM2 21h3v1h-3zM9 21h1v1h-1zM12 21h2v1h-2zM21 21h1v1h-1zM34 21h2v1h-2zM44 21h1v1h-1zM104 21h2v1h-2zM3 22h1v1h-1zM42 22h2v1h-2zM46 22h1v1h-1zM54 22h1v1h-1zM65 22h1v1h-1zM93 22h1v1h-1zM97 22h1v1h-1zM116 22h1v1h-1zM130 22h1v1h-1zM3 23h1v1h-1zM14 23h1v1h-1zM30 23h1v1h-1zM42 23h1v1h-1zM49 23h1v1h-1zM65 23h1v1h-1zM80 23h1v1h-1zM9 24h2v1h-2zM13 24h1v1h-1zM15 24h1v1h-1zM19 24h1v1h-1zM22 24h1v1h-1zM28 24h1v1h-1zM30 24h1v1h-1zM33 24h1v1h-1zM61 24h1v1h-1zM70 24h1v1h-1zM73 24h1v1h-1zM76 24h1v1h-1zM124 24h1v1h-1zM128 24h1v1h-1zM136 24h1v1h-1zM141 24h1v1h-1zM1 25h2v1h-2zM7 25h1v1h-1zM11 25h1v1h-1zM25 25h1v1h-1zM31 25h1v1h-1zM39 25h1v1h-1zM41 25h2v1h-2zM50 25h2v1h-2zM53 25h1v1h-1zM56 25h1v1h-1zM58 25h1v1h-1zM70 25h4v1h-4zM76 25h1v1h-1zM90 25h2v1h-2zM93 25h1v1h-1zM95 25h1v1h-1zM97 25h2v1h-2zM101 25h3v1h-3zM106 25h15v1h-15zM125 25h1v1h-1zM128 25h1v1h-1zM134 25h3v1h-3zM142 25h2v1h-2zM4 26h1v1h-1zM24 26h2v1h-2zM29 26h1v1h-1zM66 26h1v1h-1zM124 26h1v1h-1zM132 26h1v1h-1zM6 27h1v1h-1zM35 27h1v1h-1zM152 27h1v1h-1zM156 27h1v1h-1zM10 28h1v1h-1zM16 28h1v1h-1zM35 28h1v1h-1zM37 28h1v1h-1zM67 28h1v1h-1zM71 28h2v1h-2zM90 28h1v1h-1zM94 28h1v1h-1zM102 28h1v1h-1zM112 28h1v1h-1zM123 28h1v1h-1zM127 28h1v1h-1zM129 28h1v1h-1zM1 29h1v1h-1zM14 29h1v1h-1zM18 29h1v1h-1zM63 29h1v1h-1zM69 29h1v1h-1zM72 29h1v1h-1zM75 29h1v1h-1zM91 29h1v1h-1zM95 29h1v1h-1zM112 29h2v1h-2zM123 29h1v1h-1zM14 30h1v1h-1zM31 30h1v1h-1zM37 30h1v1h-1zM42 30h1v1h-1zM49 30h1v1h-1zM72 30h1v1h-1zM75 30h1v1h-1zM86 30h1v1h-1zM127 30h1v1h-1zM135 30h1v1h-1zM0 31h1v1h-1zM2 31h1v1h-1zM27 31h1v1h-1zM30 31h1v1h-1zM44 31h1v1h-1zM49 31h3v1h-3zM70 31h1v1h-1zM75 31h1v1h-1zM82 31h1v1h-1zM88 31h1v1h-1zM92 31h1v1h-1zM1 32h1v1h-1zM23 32h1v1h-1zM29 32h1v1h-1zM46 32h1v1h-1zM51 32h1v1h-1zM61 32h1v1h-1zM64 32h1v1h-1zM73 32h2v1h-2zM93 32h1v1h-1zM12 33h2v1h-2zM20 33h1v1h-1zM29 33h1v1h-1zM31 33h3v1h-3zM35 33h1v1h-1zM43 33h1v1h-1zM69 33h1v1h-1zM72 33h1v1h-1zM78 33h1v1h-1zM123 33h1v1h-1zM24 34h1v1h-1zM66 34h1v1h-1zM70 34h1v1h-1zM77 34h1v1h-1zM89 34h2v1h-2zM94 34h2v1h-2zM110 34h1v1h-1zM137 34h1v1h-1zM40 35h2v1h-2zM63 35h2v1h-2zM67 35h1v1h-1zM70 35h1v1h-1zM75 35h1v1h-1zM80 35h1v1h-1zM97 35h1v1h-1zM108 35h1v1h-1zM113 35h1v1h-1zM29 36h1v1h-1zM42 36h1v1h-1zM58 36h1v1h-1zM82 36h1v1h-1zM136 36h1v1h-1zM55 37h1v1h-1zM57 37h1v1h-1zM80 37h1v1h-1zM42 38h1v1h-1zM109 38h1v1h-1zM146 38h1v1h-1zM4 39h1v1h-1zM13 39h1v1h-1zM16 39h3v1h-3zM38 39h1v1h-1zM41 39h1v1h-1zM65 39h2v1h-2zM82 39h1v1h-1zM128 39h1v1h-1zM9 40h1v1h-1zM12 40h1v1h-1zM19 40h1v1h-1zM22 40h1v1h-1zM24 40h1v1h-1zM26 40h1v1h-1zM30 40h1v1h-1zM54 40h1v1h-1zM61 40h2v1h-2zM68 40h1v1h-1zM80 40h1v1h-1zM82 40h3v1h-3zM88 40h2v1h-2zM99 40h1v1h-1zM128 40h1v1h-1zM132 40h1v1h-1zM1 41h1v1h-1zM4 41h1v1h-1zM15 41h1v1h-1zM24 41h1v1h-1zM30 41h1v1h-1zM39 41h1v1h-1zM43 41h1v1h-1zM56 41h1v1h-1zM66 41h1v1h-1zM71 41h1v1h-1zM76 41h1v1h-1zM15 42h1v1h-1zM20 42h3v1h-3zM27 42h1v1h-1zM30 42h1v1h-1zM68 42h1v1h-1zM126 42h1v1h-1zM128 42h1v1h-1zM136 42h1v1h-1zM14 43h3v1h-3zM18 43h1v1h-1zM29 43h1v1h-1zM34 43h1v1h-1zM36 43h1v1h-1zM40 43h1v1h-1zM54 43h1v1h-1zM71 43h1v1h-1zM123 43h1v1h-1zM137 43h1v1h-1zM3 44h1v1h-1zM41 44h1v1h-1zM71 44h1v1h-1zM83 44h1v1h-1zM96 44h1v1h-1zM123 44h2v1h-2zM130 44h1v1h-1zM144 44h1v1h-1zM11 45h1v1h-1zM14 45h1v1h-1zM28 45h2v1h-2zM31 45h1v1h-1zM33 45h1v1h-1zM72 45h1v1h-1zM0 46h1v1h-1zM6 46h1v1h-1zM10 46h2v1h-2zM15 46h1v1h-1zM17 46h1v1h-1zM20 46h2v1h-2zM30 46h1v1h-1zM66 46h1v1h-1zM68 46h1v1h-1zM70 46h2v1h-2zM73 46h1v1h-1zM126 46h1v1h-1zM9 47h2v1h-2zM24 47h1v1h-1zM43 47h1v1h-1zM70 47h1v1h-1zM73 47h1v1h-1zM107 47h1v1h-1zM110 47h1v1h-1zM119 47h2v1h-2zM6 48h1v1h-1zM11 48h1v1h-1zM39 48h1v1h-1zM72 48h1v1h-1zM74 48h1v1h-1zM87 48h3v1h-3zM99 48h1v1h-1zM123 48h1v1h-1zM135 48h1v1h-1z"/>
<path fill="#fee5e7" d="M1 0h2v1h-2zM23 0h3v1h-3zM44 0h2v1h-2zM49 0h3v1h-3zM59 0h2v1h-2zM86 0h1v1h-1zM96 0h2v1h-2zM101 0h1v1h-1zM107 0h1v1h-1zM110 0h1v1h-1zM114 0h1v1h-1zM116 0h1v1h-1zM119 0h1v1h-1zM136 0h1v1h-1zM144 0h1v1h-1zM146 0h1v1h-1zM152 0h1v1h-1zM155 0h1v1h-1zM20 1h1v1h-1zM30 1h1v1h-1zM35 1h1v1h-1zM39 1h1v1h-1zM62 1h1v1h-1zM69 1h1v1h-1zM71 1h1v1h-1zM75 1h2v1h-2zM117 1h1v1h-1zM119 1h1v1h-1zM132 1h1v1h-1zM135 1h1v1h-1zM155 1h1v1h-1zM11 2h1v1h-1zM22 2h1v1h-1zM24 2h1v1h-1zM30 2h1v1h-1zM33 2h1v1h-1zM36 2h2v1h-2zM57 2h1v1h-1zM59 2h2v1h-2zM104 2h1v1h-1zM137 2h1v1h-1zM155 2h1v1h-1zM21 3h1v1h-1zM30 3h1v1h-1zM45 3h1v1h-1zM49 3h1v1h-1zM55 3h1v1h-1zM58 3h1v1h-1zM111 3h1v1h-1zM114 3h1v1h-1zM129 3h1v1h-1zM132 3h1v1h-1zM135 3h1v1h-1zM138 3h1v1h-1zM147 3h1v1h-1zM155 3h1v1h-1zM160 3h1v1h-1zM1 4h1v1h-1zM20 4h1v1h-1zM57 4h2v1h-2zM62 4h1v1h-1zM102 4h1v1h-1zM111 4h1v1h-1zM118 4h1v1h-1zM124 4h1v1h-1zM135 4h1v1h-1zM137 4h1v1h-1zM149 4h1v1h-1zM151 4h1v1h-1zM156 4h1v1h-1zM158 4h1v1h-1zM160 4h1v1h-1zM1 5h1v1h-1zM4 5h1v1h-1zM12 5h2v1h-2zM21 5h1v1h-1zM23 5h1v1h-1zM40 5h1v1h-1zM43 5h1v1h-1zM48 5h1v1h-1zM55 5h1v1h-1zM21 6h1v1h-1zM43 6h1v1h-1zM53 6h1v1h-1zM123 6h1v1h-1zM127 6h1v1h-1zM143 6h1v1h-1zM151 6h2v1h-2zM156 6h2v1h-2zM5 7h1v1h-1zM21 7h1v1h-1zM26 7h1v1h-1zM40 7h1v1h-1zM49 7h2v1h-2zM53 7h1v1h-1zM55 7h1v1h-1zM61 7h1v1h-1zM87 7h1v1h-1zM95 7h1v1h-1zM107 7h1v1h-1zM114 7h1v1h-1zM121 7h1v1h-1zM123 7h1v1h-1zM5 8h1v1h-1zM11 8h1v1h-1zM20 8h1v1h-1zM32 8h1v1h-1zM39 8h1v1h-1zM44 8h1v1h-1zM55 8h1v1h-1zM64 8h1v1h-1zM85 8h1v1h-1zM141 8h1v1h-1zM35 9h1v1h-1zM43 9h3v1h-3zM47 9h2v1h-2zM56 9h1v1h-1zM65 9h1v1h-1zM88 9h1v1h-1zM116 9h1v1h-1zM119 9h1v1h-1zM14 10h6v1h-6zM25 10h1v1h-1zM40 10h1v1h-1zM45 10h1v1h-1zM59 10h1v1h-1zM135 10h1v1h-1zM138 10h2v1h-2zM35 11h1v1h-1zM74 11h1v1h-1zM96 11h4v1h-4zM104 11h1v1h-1zM107 11h1v1h-1zM109 11h1v1h-1zM130 11h3v1h-3zM159 11h1v1h-1zM15 12h1v1h-1zM18 12h1v1h-1zM20 12h2v1h-2zM36 12h2v1h-2zM39 12h1v1h-1zM56 12h1v1h-1zM67 12h1v1h-1zM70 12h1v1h-1zM87 12h2v1h-2zM91 12h1v1h-1zM112 12h3v1h-3zM134 12h1v1h-1zM137 12h1v1h-1zM35 13h1v1h-1zM39 13h1v1h-1zM53 13h2v1h-2zM110 13h1v1h-1zM129 13h1v1h-1zM132 13h1v1h-1zM29 14h1v1h-1zM49 14h2v1h-2zM57 14h1v1h-1zM59 14h1v1h-1zM69 14h1v1h-1zM71 14h1v1h-1zM123 14h1v1h-1zM129 14h1v1h-1zM137 14h2v1h-2zM8 15h1v1h-1zM58 15h1v1h-1zM68 15h1v1h-1zM71 15h1v1h-1zM114 15h1v1h-1zM132 15h1v1h-1zM135 15h1v1h-1zM29 16h1v1h-1zM72 16h1v1h-1zM82 16h1v1h-1zM8 17h1v1h-1zM15 17h1v1h-1zM18 17h1v1h-1zM26 17h1v1h-1zM28 17h2v1h-2zM41 17h1v1h-1zM43 17h1v1h-1zM48 17h1v1h-1zM52 17h1v1h-1zM54 17h1v1h-1zM70 17h1v1h-1zM106 17h1v1h-1zM111 17h1v1h-1zM120 17h1v1h-1zM130 17h1v1h-1zM132 17h1v1h-1zM135 17h1v1h-1zM14 18h1v1h-1zM40 18h2v1h-2zM50 18h1v1h-1zM104 18h1v1h-1zM0 19h1v1h-1zM4 19h1v1h-1zM17 19h1v1h-1zM23 19h1v1h-1zM44 19h1v1h-1zM55 19h1v1h-1zM57 19h1v1h-1zM61 19h2v1h-2zM66 19h1v1h-1zM100 19h1v1h-1zM110 19h1v1h-1zM113 19h1v1h-1zM127 19h2v1h-2zM51 20h1v1h-1zM111 20h1v1h-1zM0 21h2v1h-2zM36 21h2v1h-2zM39 21h3v1h-3zM43 21h1v1h-1zM45 21h1v1h-1zM47 21h1v1h-1zM50 21h4v1h-4zM56 21h1v1h-1zM58 21h1v1h-1zM70 21h4v1h-4zM76 21h1v1h-1zM90 21h2v1h-2zM95 21h1v1h-1zM97 21h2v1h-2zM100 21h1v1h-1zM102 21h2v1h-2zM106 21h16v1h-16zM123 21h1v1h-1zM125 21h1v1h-1zM134 21h3v1h-3zM142 21h2v1h-2zM21 22h1v1h-1zM83 22h1v1h-1zM90 22h1v1h-1zM112 22h1v1h-1zM114 22h1v1h-1zM142 22h1v1h-1zM1 23h2v1h-2zM4 23h1v1h-1zM12 23h1v1h-1zM26 23h1v1h-1zM35 23h3v1h-3zM41 23h1v1h-1zM43 23h1v1h-1zM45 23h1v1h-1zM47 23h2v1h-2zM50 23h4v1h-4zM56 23h1v1h-1zM58 23h1v1h-1zM70 23h4v1h-4zM76 23h1v1h-1zM91 23h1v1h-1zM95 23h1v1h-1zM97 23h3v1h-3zM101 23h1v1h-1zM106 23h5v1h-5zM112 23h1v1h-1zM118 23h3v1h-3zM123 23h1v1h-1zM134 23h3v1h-3zM142 23h1v1h-1zM5 24h1v1h-1zM8 24h1v1h-1zM12 24h1v1h-1zM14 24h1v1h-1zM24 24h1v1h-1zM31 24h1v1h-1zM34 24h1v1h-1zM42 24h1v1h-1zM54 24h1v1h-1zM78 24h2v1h-2zM83 24h1v1h-1zM10 25h1v1h-1zM40 25h1v1h-1zM43 25h1v1h-1zM47 25h2v1h-2zM52 25h1v1h-1zM67 25h1v1h-1zM75 25h1v1h-1zM92 25h1v1h-1zM100 25h1v1h-1zM124 25h1v1h-1zM3 26h1v1h-1zM5 26h1v1h-1zM8 26h1v1h-1zM10 26h2v1h-2zM21 26h1v1h-1zM27 26h1v1h-1zM30 26h1v1h-1zM82 26h1v1h-1zM105 26h1v1h-1zM129 26h1v1h-1zM7 27h1v1h-1zM43 27h1v1h-1zM47 27h2v1h-2zM52 27h2v1h-2zM123 27h1v1h-1zM135 27h2v1h-2zM146 27h1v1h-1zM151 27h1v1h-1zM6 28h1v1h-1zM17 28h1v1h-1zM19 28h1v1h-1zM36 28h1v1h-1zM46 28h1v1h-1zM48 28h2v1h-2zM52 28h1v1h-1zM66 28h1v1h-1zM69 28h2v1h-2zM74 28h1v1h-1zM76 28h1v1h-1zM85 28h1v1h-1zM4 29h1v1h-1zM32 29h1v1h-1zM47 29h1v1h-1zM65 29h1v1h-1zM68 29h1v1h-1zM86 29h1v1h-1zM102 29h1v1h-1zM129 29h1v1h-1zM5 30h2v1h-2zM30 30h1v1h-1zM32 30h1v1h-1zM36 30h1v1h-1zM41 30h1v1h-1zM48 30h1v1h-1zM62 30h1v1h-1zM64 30h1v1h-1zM83 30h1v1h-1zM85 30h1v1h-1zM91 30h1v1h-1zM94 30h1v1h-1zM1 31h1v1h-1zM22 31h1v1h-1zM24 31h1v1h-1zM26 31h1v1h-1zM55 31h1v1h-1zM58 31h1v1h-1zM84 31h1v1h-1zM8 32h1v1h-1zM10 32h1v1h-1zM12 32h1v1h-1zM14 32h1v1h-1zM26 32h2v1h-2zM49 32h2v1h-2zM53 32h1v1h-1zM55 32h1v1h-1zM58 32h1v1h-1zM72 32h1v1h-1zM83 32h1v1h-1zM89 32h1v1h-1zM94 32h1v1h-1zM100 32h1v1h-1zM127 32h1v1h-1zM131 32h1v1h-1zM17 33h1v1h-1zM24 33h1v1h-1zM42 33h1v1h-1zM45 33h1v1h-1zM60 33h1v1h-1zM71 33h1v1h-1zM75 33h2v1h-2zM85 33h1v1h-1zM3 34h1v1h-1zM5 34h1v1h-1zM39 34h1v1h-1zM42 34h1v1h-1zM54 34h1v1h-1zM57 34h1v1h-1zM67 34h2v1h-2zM72 34h1v1h-1zM92 34h1v1h-1zM102 34h1v1h-1zM108 34h1v1h-1zM112 34h2v1h-2zM133 34h1v1h-1zM141 34h1v1h-1zM5 35h2v1h-2zM18 35h1v1h-1zM21 35h1v1h-1zM25 35h1v1h-1zM30 35h1v1h-1zM32 35h1v1h-1zM39 35h1v1h-1zM65 35h2v1h-2zM84 35h1v1h-1zM101 35h1v1h-1zM117 35h2v1h-2zM126 35h1v1h-1zM135 35h1v1h-1zM141 35h1v1h-1zM1 36h1v1h-1zM16 36h1v1h-1zM18 36h1v1h-1zM24 36h1v1h-1zM34 36h1v1h-1zM64 36h1v1h-1zM67 36h1v1h-1zM69 36h2v1h-2zM4 37h1v1h-1zM16 37h1v1h-1zM29 37h1v1h-1zM33 37h2v1h-2zM39 37h1v1h-1zM64 37h2v1h-2zM67 37h1v1h-1zM23 38h1v1h-1zM35 38h1v1h-1zM55 38h1v1h-1zM57 38h1v1h-1zM64 38h2v1h-2zM70 38h1v1h-1zM80 38h1v1h-1zM82 38h1v1h-1zM106 38h1v1h-1zM120 38h1v1h-1zM7 39h1v1h-1zM10 39h1v1h-1zM12 39h1v1h-1zM14 39h1v1h-1zM25 39h3v1h-3zM29 39h1v1h-1zM32 39h2v1h-2zM57 39h1v1h-1zM15 40h1v1h-1zM25 40h1v1h-1zM43 40h2v1h-2zM57 40h1v1h-1zM64 40h2v1h-2zM67 40h1v1h-1zM70 40h1v1h-1zM74 40h1v1h-1zM93 40h1v1h-1zM127 40h1v1h-1zM0 41h1v1h-1zM10 41h1v1h-1zM13 41h1v1h-1zM21 41h1v1h-1zM26 41h1v1h-1zM28 41h2v1h-2zM31 41h1v1h-1zM35 41h1v1h-1zM65 41h1v1h-1zM69 41h1v1h-1zM80 41h1v1h-1zM127 41h1v1h-1zM2 42h1v1h-1zM12 42h2v1h-2zM18 42h1v1h-1zM26 42h1v1h-1zM34 42h1v1h-1zM38 42h1v1h-1zM43 42h1v1h-1zM56 42h2v1h-2zM64 42h1v1h-1zM141 42h1v1h-1zM144 42h1v1h-1zM4 43h1v1h-1zM12 43h1v1h-1zM19 43h1v1h-1zM21 43h2v1h-2zM26 43h1v1h-1zM32 43h2v1h-2zM52 43h1v1h-1zM57 43h1v1h-1zM67 43h1v1h-1zM74 43h1v1h-1zM148 43h1v1h-1zM6 44h1v1h-1zM11 44h1v1h-1zM13 44h1v1h-1zM30 44h1v1h-1zM39 44h1v1h-1zM64 44h1v1h-1zM68 44h1v1h-1zM74 44h1v1h-1zM126 44h1v1h-1zM145 44h1v1h-1zM27 45h1v1h-1zM39 45h1v1h-1zM58 45h1v1h-1zM66 45h1v1h-1zM106 45h1v1h-1zM117 45h1v1h-1zM124 45h1v1h-1zM126 45h1v1h-1zM129 45h1v1h-1zM5 46h1v1h-1zM7 46h1v1h-1zM9 46h1v1h-1zM14 46h1v1h-1zM19 46h1v1h-1zM27 46h1v1h-1zM29 46h1v1h-1zM57 46h1v1h-1zM2 47h1v1h-1zM38 47h2v1h-2zM74 47h1v1h-1zM83 47h1v1h-1zM106 47h1v1h-1zM111 47h1v1h-1zM136 47h1v1h-1zM5 48h1v1h-1zM10 48h1v1h-1zM13 48h1v1h-1zM24 48h2v1h-2zM29 48h1v1h-1zM31 48h1v1h-1zM38 48h1v1h-1zM49 48h1v1h-1zM70 48h2v1h-2zM73 48h1v1h-1zM78 48h1v1h-1zM129 48h1v1h-1zM131 48h1v1h-1z"/>
<path fill="#fdd0d3" d="M8 0h1v1h-1zM15 0h2v1h-2zM20 0h1v1h-1zM22 0h1v1h-1zM30 0h1v1h-1zM32 0h2v1h-2zM36 0h2v1h-2zM39 0h1v1h-1zM42 0h1v1h-1zM63 0h1v1h-1zM66 0h1v1h-1zM79 0h1v1h-1zM100 0h1v1h-1zM108 0h1v1h-1zM111 0h1v1h-1zM115 0h1v1h-1zM121 0h1v1h-1zM137 0h1v1h-1zM139 0h1v1h-1zM147 0h1v1h-1zM151 0h1v1h-1zM154 0h1v1h-1zM157 0h1v1h-1zM5 1h1v1h-1zM8 1h1v1h-1zM11 1h1v1h-1zM17 1h2v1h-2zM61 1h1v1h-1zM66 1h1v1h-1zM83 1h1v1h-1zM87 1h1v1h-1zM99 1h1v1h-1zM114 1h1v1h-1zM0 2h1v1h-1zM4 2h1v1h-1zM26 2h2v1h-2zM31 2h1v1h-1zM35 2h1v1h-1zM123 2h1v1h-1zM127 2h1v1h-1zM135 2h1v1h-1zM157 2h1v1h-1zM160 2h1v1h-1zM4 3h1v1h-1zM13 3h1v1h-1zM44 3h1v1h-1zM48 3h1v1h-1zM50 3h1v1h-1zM92 3h1v1h-1zM97 3h1v1h-1zM110 3h1v1h-1zM117 3h1v1h-1zM133 3h1v1h-1zM136 3h1v1h-1zM150 3h2v1h-2zM154 3h1v1h-1zM156 3h2v1h-2zM159 3h1v1h-1zM34 4h1v1h-1zM47 4h4v1h-4zM54 4h1v1h-1zM61 4h1v1h-1zM72 4h1v1h-1zM93 4h1v1h-1zM114 4h1v1h-1zM119 4h1v1h-1zM132 4h1v1h-1zM19 5h1v1h-1zM135 6h1v1h-1zM147 6h4v1h-4zM153 6h3v1h-3zM0 7h3v1h-3zM4 7h1v1h-1zM12 7h2v1h-2zM29 7h1v1h-1zM33 7h1v1h-1zM35 7h3v1h-3zM43 7h1v1h-1zM51 7h1v1h-1zM59 7h1v1h-1zM75 7h1v1h-1zM80 7h1v1h-1zM88 7h1v1h-1zM92 7h1v1h-1zM125 7h1v1h-1zM131 7h1v1h-1zM12 8h2v1h-2zM28 8h1v1h-1zM72 8h1v1h-1zM80 8h1v1h-1zM90 8h1v1h-1zM0 9h1v1h-1zM62 9h1v1h-1zM101 9h1v1h-1zM103 9h1v1h-1zM110 9h2v1h-2zM113 9h1v1h-1zM115 9h1v1h-1zM120 9h2v1h-2zM129 9h1v1h-1zM5 10h1v1h-1zM7 10h1v1h-1zM48 10h2v1h-2zM52 10h1v1h-1zM54 10h2v1h-2zM60 10h1v1h-1zM74 10h1v1h-1zM93 10h1v1h-1zM16 11h1v1h-1zM49 11h1v1h-1zM54 11h1v1h-1zM64 11h1v1h-1zM133 11h1v1h-1zM139 11h1v1h-1zM17 12h1v1h-1zM40 12h1v1h-1zM49 12h1v1h-1zM69 12h1v1h-1zM90 12h1v1h-1zM16 13h1v1h-1zM19 13h1v1h-1zM23 13h1v1h-1zM40 13h1v1h-1zM46 13h1v1h-1zM49 13h1v1h-1zM55 13h1v1h-1zM74 13h1v1h-1zM131 13h1v1h-1zM137 13h2v1h-2zM18 14h1v1h-1zM72 14h1v1h-1zM127 14h1v1h-1zM131 14h1v1h-1zM133 14h1v1h-1zM139 14h1v1h-1zM6 15h2v1h-2zM33 15h1v1h-1zM40 15h1v1h-1zM46 15h1v1h-1zM103 15h1v1h-1zM129 15h1v1h-1zM138 15h2v1h-2zM23 16h1v1h-1zM75 16h1v1h-1zM78 16h1v1h-1zM92 16h1v1h-1zM120 16h1v1h-1zM3 17h2v1h-2zM7 17h1v1h-1zM12 17h1v1h-1zM25 17h1v1h-1zM39 17h1v1h-1zM42 17h1v1h-1zM51 17h1v1h-1zM107 17h1v1h-1zM7 18h1v1h-1zM10 18h2v1h-2zM19 18h1v1h-1zM25 18h1v1h-1zM45 18h1v1h-1zM49 18h1v1h-1zM10 19h2v1h-2zM19 19h1v1h-1zM22 19h1v1h-1zM24 19h1v1h-1zM45 19h1v1h-1zM49 19h1v1h-1zM88 19h1v1h-1zM103 19h1v1h-1zM132 19h1v1h-1zM106 20h1v1h-1zM110 20h1v1h-1zM116 20h1v1h-1zM119 20h1v1h-1zM125 20h1v1h-1zM132 20h1v1h-1zM101 21h1v1h-1zM41 22h1v1h-1zM96 22h1v1h-1zM100 22h4v1h-4zM115 22h1v1h-1zM120 22h1v1h-1zM0 23h1v1h-1zM28 23h1v1h-1zM40 23h1v1h-1zM64 23h1v1h-1zM90 23h1v1h-1zM96 23h1v1h-1zM100 23h1v1h-1zM103 23h1v1h-1zM105 23h1v1h-1zM111 23h1v1h-1zM114 23h4v1h-4zM143 23h1v1h-1zM7 24h1v1h-1zM38 25h1v1h-1zM44 25h2v1h-2zM62 25h1v1h-1zM81 25h1v1h-1zM99 25h1v1h-1zM123 25h1v1h-1zM23 26h1v1h-1zM1 27h2v1h-2zM36 27h2v1h-2zM0 28h1v1h-1zM50 28h1v1h-1zM58 28h1v1h-1zM61 28h1v1h-1zM78 28h1v1h-1zM83 28h2v1h-2zM89 28h1v1h-1zM111 28h1v1h-1zM12 29h1v1h-1zM16 29h1v1h-1zM61 29h1v1h-1zM73 29h1v1h-1zM77 29h2v1h-2zM81 29h1v1h-1zM84 29h2v1h-2zM87 29h1v1h-1zM89 29h1v1h-1zM93 29h1v1h-1zM3 30h1v1h-1zM12 30h1v1h-1zM44 30h1v1h-1zM52 30h1v1h-1zM63 30h1v1h-1zM65 30h1v1h-1zM67 30h1v1h-1zM77 30h1v1h-1zM79 30h2v1h-2zM82 30h1v1h-1zM92 30h2v1h-2zM128 30h2v1h-2zM3 31h1v1h-1zM8 31h1v1h-1zM10 31h1v1h-1zM42 31h1v1h-1zM59 31h1v1h-1zM69 31h1v1h-1zM76 31h2v1h-2zM80 31h1v1h-1zM0 32h1v1h-1zM40 32h1v1h-1zM66 32h2v1h-2zM76 32h1v1h-1zM84 32h2v1h-2zM8 33h1v1h-1zM27 33h1v1h-1zM59 33h1v1h-1zM64 33h1v1h-1zM73 33h2v1h-2zM79 33h1v1h-1zM81 33h2v1h-2zM34 34h1v1h-1zM41 34h1v1h-1zM49 34h1v1h-1zM10 35h1v1h-1zM14 35h1v1h-1zM20 35h1v1h-1zM28 35h1v1h-1zM68 35h1v1h-1zM100 35h1v1h-1zM111 35h1v1h-1zM115 35h1v1h-1zM20 36h1v1h-1zM23 36h1v1h-1zM32 36h1v1h-1zM39 36h2v1h-2zM55 36h1v1h-1zM57 36h1v1h-1zM80 36h1v1h-1zM20 37h1v1h-1zM30 37h1v1h-1zM32 37h1v1h-1zM69 37h2v1h-2zM16 38h1v1h-1zM33 38h2v1h-2zM67 38h1v1h-1zM0 39h1v1h-1zM21 39h2v1h-2zM63 40h1v1h-1zM73 40h1v1h-1zM11 41h1v1h-1zM16 41h2v1h-2zM27 41h1v1h-1zM34 41h1v1h-1zM58 41h1v1h-1zM10 42h1v1h-1zM14 42h1v1h-1zM52 42h1v1h-1zM73 42h1v1h-1zM135 42h1v1h-1zM28 43h1v1h-1zM42 43h2v1h-2zM48 43h1v1h-1zM53 43h1v1h-1zM58 43h1v1h-1zM127 43h1v1h-1zM15 44h1v1h-1zM21 44h1v1h-1zM32 44h2v1h-2zM42 44h1v1h-1zM54 44h1v1h-1zM66 44h1v1h-1zM73 44h1v1h-1zM78 44h1v1h-1zM13 45h1v1h-1zM18 45h4v1h-4zM71 45h1v1h-1zM78 45h1v1h-1zM128 45h1v1h-1zM131 45h1v1h-1zM145 45h1v1h-1zM26 46h1v1h-1zM56 46h1v1h-1zM20 47h1v1h-1zM60 47h1v1h-1zM71 47h1v1h-1zM86 47h1v1h-1zM19 48h1v1h-1zM23 48h1v1h-1zM47 48h1v1h-1zM54 48h1v1h-1zM145 48h2v1h-2z"/>
<path fill="#fcbcc0" d="M64 1h1v1h-1zM62 2h1v1h-1zM103 2h1v1h-1zM132 2h2v1h-2zM158 2h2v1h-2zM3 3h1v1h-1zM152 3h1v1h-1zM91 4h1v1h-1zM109 4h1v1h-1zM155 4h1v1h-1zM3 5h1v1h-1zM159 6h1v1h-1zM64 7h1v1h-1zM67 8h1v1h-1zM138 8h1v1h-1zM9 10h1v1h-1zM137 11h1v1h-1zM12 13h1v1h-1zM6 14h1v1h-1zM19 14h1v1h-1zM52 14h1v1h-1zM4 15h1v1h-1zM13 15h1v1h-1zM53 15h1v1h-1zM56 15h1v1h-1zM47 16h1v1h-1zM81 16h1v1h-1zM90 16h1v1h-1zM125 16h1v1h-1zM0 17h1v1h-1zM9 17h2v1h-2zM16 17h1v1h-1zM3 19h1v1h-1zM50 19h1v1h-1zM133 20h1v1h-1zM118 22h1v1h-1zM113 23h1v1h-1zM5 25h1v1h-1zM87 27h1v1h-1zM22 28h1v1h-1zM56 28h1v1h-1zM57 29h1v1h-1zM67 29h1v1h-1zM83 29h1v1h-1zM88 29h1v1h-1zM2 30h1v1h-1zM88 30h2v1h-2zM31 31h1v1h-1zM57 31h1v1h-1zM63 31h2v1h-2zM6 32h1v1h-1zM13 32h1v1h-1zM54 32h1v1h-1zM71 32h1v1h-1zM11 33h1v1h-1zM53 33h1v1h-1zM18 34h1v1h-1zM32 34h1v1h-1zM74 34h1v1h-1zM85 34h1v1h-1zM0 35h1v1h-1zM10 36h2v1h-2zM127 36h1v1h-1zM4 38h1v1h-1zM20 38h1v1h-1zM29 38h1v1h-1zM32 38h1v1h-1zM7 40h1v1h-1zM56 40h1v1h-1zM58 40h1v1h-1zM40 41h2v1h-2zM141 41h1v1h-1zM1 42h1v1h-1zM29 42h1v1h-1zM56 43h1v1h-1zM132 43h1v1h-1zM19 44h2v1h-2zM132 44h1v1h-1zM13 46h1v1h-1zM59 47h1v1h-1zM108 47h1v1h-1zM45 48h1v1h-1zM57 48h1v1h-1z"/>
<path fill="#fba6ac" d="M78 0h1v1h-1zM124 0h1v1h-1zM135 0h1v1h-1zM88 1h1v1h-1zM130 1h1v1h-1zM3 2h1v1h-1zM6 2h2v1h-2zM21 2h1v1h-1zM43 2h1v1h-1zM61 2h1v1h-1zM149 2h2v1h-2zM154 2h1v1h-1zM1 3h1v1h-1zM63 3h1v1h-1zM148 3h1v1h-1zM40 4h1v1h-1zM78 4h1v1h-1zM89 4h1v1h-1zM96 4h1v1h-1zM98 4h2v1h-2zM107 4h1v1h-1zM117 4h1v1h-1zM128 4h2v1h-2zM148 4h1v1h-1zM153 4h1v1h-1zM99 5h1v1h-1zM119 5h1v1h-1zM2 6h2v1h-2zM48 6h1v1h-1zM52 6h1v1h-1zM66 6h1v1h-1zM80 6h1v1h-1zM8 7h1v1h-1zM23 7h1v1h-1zM30 7h1v1h-1zM34 7h1v1h-1zM63 7h1v1h-1zM4 8h1v1h-1zM24 8h1v1h-1zM42 8h1v1h-1zM52 8h1v1h-1zM56 8h1v1h-1zM129 8h1v1h-1zM20 9h1v1h-1zM41 9h1v1h-1zM52 9h1v1h-1zM84 9h1v1h-1zM125 9h1v1h-1zM21 10h1v1h-1zM9 11h1v1h-1zM14 11h1v1h-1zM39 11h1v1h-1zM46 11h1v1h-1zM50 11h1v1h-1zM52 11h2v1h-2zM105 11h1v1h-1zM129 11h1v1h-1zM138 11h1v1h-1zM0 12h1v1h-1zM13 12h1v1h-1zM50 12h1v1h-1zM52 12h1v1h-1zM83 12h1v1h-1zM100 12h1v1h-1zM111 12h1v1h-1zM123 12h1v1h-1zM129 12h1v1h-1zM9 13h1v1h-1zM24 13h1v1h-1zM57 13h1v1h-1zM81 13h1v1h-1zM103 13h1v1h-1zM127 13h1v1h-1zM134 13h1v1h-1zM16 14h1v1h-1zM21 14h1v1h-1zM103 14h1v1h-1zM130 14h1v1h-1zM132 14h1v1h-1zM3 15h1v1h-1zM14 15h1v1h-1zM48 15h1v1h-1zM52 15h1v1h-1zM54 15h1v1h-1zM137 15h1v1h-1zM91 16h1v1h-1zM11 17h1v1h-1zM19 17h1v1h-1zM21 17h1v1h-1zM35 17h1v1h-1zM56 17h2v1h-2zM81 17h1v1h-1zM5 18h1v1h-1zM9 19h1v1h-1zM12 19h1v1h-1zM25 19h2v1h-2zM134 19h1v1h-1zM126 20h1v1h-1zM98 22h1v1h-1zM106 22h1v1h-1zM102 23h1v1h-1zM125 23h1v1h-1zM20 24h1v1h-1zM60 25h1v1h-1zM78 25h1v1h-1zM80 26h1v1h-1zM131 26h1v1h-1zM45 27h1v1h-1zM2 28h1v1h-1zM4 28h1v1h-1zM12 28h1v1h-1zM44 28h1v1h-1zM53 28h1v1h-1zM59 28h1v1h-1zM62 28h1v1h-1zM81 28h1v1h-1zM91 28h1v1h-1zM15 29h1v1h-1zM19 29h1v1h-1zM44 29h1v1h-1zM50 29h1v1h-1zM62 29h1v1h-1zM70 29h1v1h-1zM74 29h1v1h-1zM100 29h1v1h-1zM1 30h1v1h-1zM13 30h1v1h-1zM73 30h2v1h-2zM84 30h1v1h-1zM4 31h1v1h-1zM14 31h1v1h-1zM66 31h1v1h-1zM74 31h1v1h-1zM79 31h1v1h-1zM128 31h1v1h-1zM4 32h1v1h-1zM44 32h1v1h-1zM62 32h1v1h-1zM69 32h2v1h-2zM78 32h1v1h-1zM19 33h1v1h-1zM26 33h1v1h-1zM44 33h1v1h-1zM58 33h1v1h-1zM67 33h1v1h-1zM77 33h1v1h-1zM8 34h1v1h-1zM26 34h1v1h-1zM31 34h1v1h-1zM45 34h1v1h-1zM47 34h1v1h-1zM58 34h1v1h-1zM60 34h2v1h-2zM69 34h1v1h-1zM73 34h1v1h-1zM76 34h1v1h-1zM80 34h1v1h-1zM91 34h1v1h-1zM93 34h1v1h-1zM100 34h1v1h-1zM138 34h3v1h-3zM7 35h1v1h-1zM127 35h1v1h-1zM4 36h3v1h-3zM15 36h1v1h-1zM21 36h1v1h-1zM33 36h1v1h-1zM41 36h1v1h-1zM43 36h1v1h-1zM65 36h1v1h-1zM6 37h1v1h-1zM12 37h1v1h-1zM15 37h1v1h-1zM17 37h2v1h-2zM21 37h1v1h-1zM41 37h1v1h-1zM43 37h1v1h-1zM17 38h1v1h-1zM30 38h1v1h-1zM39 38h1v1h-1zM69 38h1v1h-1zM127 38h1v1h-1zM2 41h1v1h-1zM6 41h1v1h-1zM8 41h1v1h-1zM18 41h2v1h-2zM45 41h1v1h-1zM8 42h2v1h-2zM25 42h1v1h-1zM28 42h1v1h-1zM58 42h1v1h-1zM0 43h1v1h-1zM4 44h1v1h-1zM9 44h2v1h-2zM14 44h1v1h-1zM17 44h1v1h-1zM27 44h2v1h-2zM56 44h2v1h-2zM70 44h1v1h-1zM15 45h2v1h-2zM38 45h1v1h-1zM56 45h1v1h-1zM70 45h1v1h-1zM73 45h1v1h-1zM77 45h1v1h-1zM18 46h1v1h-1zM18 47h1v1h-1zM84 47h1v1h-1zM132 47h2v1h-2zM137 47h1v1h-1zM4 48h1v1h-1zM12 48h1v1h-1zM16 48h1v1h-1zM65 48h1v1h-1zM124 48h1v1h-1zM150 48h1v1h-1zM154 48h1v1h-1z"/>
<path fill="#f98a90" d="M76 0h2v1h-2zM63 1h1v1h-1zM65 1h1v1h-1zM67 1h1v1h-1zM146 2h1v1h-1zM148 2h1v1h-1zM84 4h1v1h-1zM100 4h1v1h-1zM130 4h1v1h-1zM140 4h1v1h-1zM98 6h1v1h-1zM134 6h1v1h-1zM146 7h1v1h-1zM3 8h1v1h-1zM2 10h1v1h-1zM12 10h1v1h-1zM134 10h1v1h-1zM137 10h1v1h-1zM12 11h2v1h-2zM0 13h1v1h-1zM48 13h1v1h-1zM7 14h2v1h-2zM55 15h1v1h-1zM100 16h1v1h-1zM1 17h1v1h-1zM80 17h1v1h-1zM117 22h1v1h-1zM52 24h1v1h-1zM135 24h1v1h-1zM94 25h1v1h-1zM125 26h1v1h-1zM7 28h1v1h-1zM15 28h1v1h-1zM20 28h1v1h-1zM82 28h1v1h-1zM3 29h1v1h-1zM51 29h1v1h-1zM54 30h1v1h-1zM56 30h2v1h-2zM68 30h1v1h-1zM127 31h1v1h-1zM22 32h1v1h-1zM57 32h1v1h-1zM6 33h1v1h-1zM22 33h1v1h-1zM44 34h1v1h-1zM50 34h1v1h-1zM59 34h1v1h-1zM63 34h1v1h-1zM87 34h1v1h-1zM33 35h1v1h-1zM28 36h1v1h-1zM2 37h1v1h-1zM5 37h1v1h-1zM11 37h1v1h-1zM31 37h1v1h-1zM11 38h2v1h-2zM15 38h1v1h-1zM42 40h1v1h-1zM22 41h1v1h-1zM0 44h1v1h-1zM22 45h1v1h-1zM8 47h1v1h-1zM40 47h1v1h-1zM27 48h1v1h-1z"/>
<path fill="#f56c72" d="M3 0h1v1h-1zM17 0h1v1h-1zM99 0h1v1h-1zM122 0h1v1h-1zM132 0h1v1h-1zM96 1h1v1h-1zM123 1h1v1h-1zM125 1h1v1h-1zM52 2h2v1h-2zM152 2h2v1h-2zM35 3h1v1h-1zM40 3h1v1h-1zM153 3h1v1h-1zM63 4h1v1h-1zM138 4h2v1h-2zM42 6h1v1h-1zM106 6h1v1h-1zM3 7h1v1h-1zM10 8h1v1h-1zM15 8h1v1h-1zM48 8h1v1h-1zM2 9h1v1h-1zM4 9h1v1h-1zM33 9h1v1h-1zM50 9h1v1h-1zM53 9h1v1h-1zM61 9h1v1h-1zM102 9h1v1h-1zM69 10h1v1h-1zM21 11h1v1h-1zM48 11h1v1h-1zM55 11h1v1h-1zM59 11h1v1h-1zM103 11h1v1h-1zM135 11h1v1h-1zM46 12h1v1h-1zM51 12h1v1h-1zM53 12h1v1h-1zM67 13h1v1h-1zM133 13h1v1h-1zM135 13h1v1h-1zM4 14h1v1h-1zM9 14h1v1h-1zM12 14h3v1h-3zM9 15h1v1h-1zM12 15h1v1h-1zM21 15h1v1h-1zM45 15h1v1h-1zM133 15h1v1h-1zM37 16h1v1h-1zM40 16h1v1h-1zM2 17h1v1h-1zM13 17h1v1h-1zM35 20h1v1h-1zM39 20h1v1h-1zM122 20h1v1h-1zM104 22h1v1h-1zM113 22h1v1h-1zM119 22h1v1h-1zM14 28h1v1h-1zM45 28h1v1h-1zM87 28h1v1h-1zM100 28h1v1h-1zM13 29h1v1h-1zM17 29h1v1h-1zM45 29h1v1h-1zM71 29h1v1h-1zM76 29h1v1h-1zM79 29h1v1h-1zM15 30h1v1h-1zM53 30h1v1h-1zM60 30h1v1h-1zM78 30h1v1h-1zM87 30h1v1h-1zM19 31h2v1h-2zM32 31h1v1h-1zM65 31h1v1h-1zM87 31h1v1h-1zM59 32h1v1h-1zM82 32h1v1h-1zM7 33h1v1h-1zM10 33h1v1h-1zM16 33h1v1h-1zM18 33h1v1h-1zM65 33h1v1h-1zM30 34h1v1h-1zM62 34h1v1h-1zM15 35h1v1h-1zM2 36h1v1h-1zM17 36h1v1h-1zM26 36h2v1h-2zM13 37h1v1h-1zM5 38h1v1h-1zM14 38h1v1h-1zM27 38h2v1h-2zM31 38h1v1h-1zM9 39h1v1h-1zM23 39h1v1h-1zM28 39h1v1h-1zM23 41h1v1h-1zM0 42h1v1h-1zM11 42h1v1h-1zM1 43h1v1h-1zM45 43h1v1h-1zM5 44h1v1h-1zM18 44h1v1h-1zM26 44h1v1h-1zM77 44h1v1h-1zM128 44h1v1h-1zM5 45h1v1h-1zM25 45h1v1h-1zM57 45h1v1h-1zM0 47h1v1h-1zM5 47h1v1h-1zM25 47h1v1h-1zM29 47h1v1h-1zM3 48h1v1h-1z"/>
<path fill="#ec4c48" d="M112 9h1v1h-1zM13 10h1v1h-1zM54 12h1v1h-1zM136 13h1v1h-1zM40 14h1v1h-1zM53 14h1v1h-1zM134 15h1v1h-1zM14 19h1v1h-1zM124 20h1v1h-1zM40 22h1v1h-1zM51 22h1v1h-1zM105 22h1v1h-1zM109 22h1v1h-1zM1 28h1v1h-1zM51 28h1v1h-1zM60 28h1v1h-1zM82 29h1v1h-1zM7 31h1v1h-1zM13 31h1v1h-1zM81 32h1v1h-1zM96 34h1v1h-1zM9 35h1v1h-1zM30 36h1v1h-1zM28 37h1v1h-1zM6 38h1v1h-1zM18 38h1v1h-1zM21 38h1v1h-1zM31 42h1v1h-1zM123 42h1v1h-1zM11 43h1v1h-1zM24 43h1v1h-1zM7 44h1v1h-1zM9 45h1v1h-1zM26 45h1v1h-1zM8 46h1v1h-1zM23 46h1v1h-1zM42 47h1v1h-1z"/>
<path fill="#e1301f" d="M5 0h1v1h-1zM52 0h1v1h-1zM75 0h1v1h-1zM123 0h1v1h-1zM126 0h1v1h-1zM36 1h2v1h-2zM124 1h1v1h-1zM126 1h1v1h-1zM128 1h1v1h-1zM133 1h1v1h-1zM141 1h1v1h-1zM1 2h2v1h-2zM8 2h2v1h-2zM45 2h1v1h-1zM147 2h1v1h-1zM151 2h1v1h-1zM0 3h1v1h-1zM2 3h1v1h-1zM12 3h1v1h-1zM39 3h1v1h-1zM41 3h3v1h-3zM61 3h1v1h-1zM146 3h1v1h-1zM2 4h2v1h-2zM73 4h1v1h-1zM106 4h1v1h-1zM147 4h1v1h-1zM96 5h3v1h-3zM1 6h1v1h-1zM26 6h1v1h-1zM96 6h2v1h-2zM160 6h1v1h-1zM45 7h3v1h-3zM0 8h3v1h-3zM14 8h1v1h-1zM34 8h1v1h-1zM49 8h2v1h-2zM53 8h2v1h-2zM1 9h1v1h-1zM3 9h1v1h-1zM12 9h3v1h-3zM39 9h1v1h-1zM49 9h1v1h-1zM51 9h1v1h-1zM63 9h1v1h-1zM0 10h2v1h-2zM3 10h2v1h-2zM35 10h3v1h-3zM104 10h1v1h-1zM146 10h1v1h-1zM0 11h5v1h-5zM40 11h1v1h-1zM134 11h1v1h-1zM1 12h4v1h-4zM12 12h1v1h-1zM14 12h1v1h-1zM55 12h1v1h-1zM1 13h4v1h-4zM13 13h1v1h-1zM15 13h1v1h-1zM21 13h1v1h-1zM52 13h1v1h-1zM0 14h4v1h-4zM45 14h1v1h-1zM0 15h3v1h-3zM57 15h1v1h-1zM83 15h1v1h-1zM145 15h1v1h-1zM35 16h2v1h-2zM41 16h1v1h-1zM44 16h1v1h-1zM5 17h2v1h-2zM23 17h1v1h-1zM40 17h1v1h-1zM44 17h1v1h-1zM18 18h1v1h-1zM21 18h1v1h-1zM23 18h1v1h-1zM141 18h1v1h-1zM158 18h1v1h-1zM21 19h1v1h-1zM40 19h1v1h-1zM106 19h1v1h-1zM133 19h1v1h-1zM146 19h1v1h-1zM49 20h1v1h-1zM96 20h1v1h-1zM99 20h7v1h-7zM121 20h1v1h-1zM33 21h1v1h-1zM42 21h1v1h-1zM48 21h1v1h-1zM59 21h1v1h-1zM96 21h1v1h-1zM39 22h1v1h-1zM49 22h2v1h-2zM99 22h1v1h-1zM107 22h2v1h-2zM110 22h2v1h-2zM121 22h1v1h-1zM39 23h1v1h-1zM0 24h2v1h-2zM36 24h3v1h-3zM121 24h3v1h-3zM35 25h3v1h-3zM22 26h1v1h-1zM36 26h3v1h-3zM127 26h2v1h-2zM38 27h1v1h-1zM64 27h1v1h-1zM99 27h1v1h-1zM3 28h1v1h-1zM13 28h1v1h-1zM18 28h1v1h-1zM47 28h1v1h-1zM54 28h2v1h-2zM20 29h1v1h-1zM54 29h1v1h-1zM56 29h1v1h-1zM58 29h3v1h-3zM20 30h1v1h-1zM45 30h1v1h-1zM47 30h1v1h-1zM58 30h2v1h-2zM81 30h1v1h-1zM95 30h1v1h-1zM12 31h1v1h-1zM15 31h4v1h-4zM45 31h1v1h-1zM56 31h1v1h-1zM67 31h2v1h-2zM3 32h1v1h-1zM7 32h1v1h-1zM15 32h6v1h-6zM56 32h1v1h-1zM60 32h1v1h-1zM87 32h1v1h-1zM5 33h1v1h-1zM15 33h1v1h-1zM56 33h2v1h-2zM66 33h1v1h-1zM68 33h1v1h-1zM15 34h3v1h-3zM51 34h1v1h-1zM56 34h1v1h-1zM84 34h1v1h-1zM86 34h1v1h-1zM105 34h1v1h-1zM8 35h1v1h-1zM11 35h3v1h-3zM16 35h2v1h-2zM24 35h1v1h-1zM69 35h1v1h-1zM0 36h1v1h-1zM7 36h3v1h-3zM12 36h3v1h-3zM22 36h1v1h-1zM31 36h1v1h-1zM0 37h1v1h-1zM7 37h4v1h-4zM14 37h1v1h-1zM22 37h1v1h-1zM26 37h2v1h-2zM0 38h1v1h-1zM2 38h1v1h-1zM7 38h4v1h-4zM13 38h1v1h-1zM22 38h1v1h-1zM26 38h1v1h-1zM41 38h1v1h-1zM43 38h1v1h-1zM5 39h2v1h-2zM8 39h1v1h-1zM34 39h2v1h-2zM5 40h2v1h-2zM8 40h1v1h-1zM10 40h2v1h-2zM23 40h1v1h-1zM5 41h1v1h-1zM7 41h1v1h-1zM9 41h1v1h-1zM12 41h1v1h-1zM146 41h1v1h-1zM5 42h3v1h-3zM36 42h2v1h-2zM2 43h1v1h-1zM5 43h6v1h-6zM13 43h1v1h-1zM27 43h1v1h-1zM141 43h1v1h-1zM8 44h1v1h-1zM12 44h1v1h-1zM16 44h1v1h-1zM22 44h4v1h-4zM29 44h1v1h-1zM38 44h1v1h-1zM0 45h1v1h-1zM7 45h2v1h-2zM12 45h1v1h-1zM17 45h1v1h-1zM23 45h2v1h-2zM30 45h1v1h-1zM132 45h1v1h-1zM12 46h1v1h-1zM16 46h1v1h-1zM22 46h1v1h-1zM24 46h2v1h-2zM38 46h1v1h-1zM7 47h1v1h-1zM11 47h1v1h-1zM14 47h1v1h-1zM23 47h1v1h-1zM56 47h3v1h-3zM61 47h3v1h-3zM109 47h1v1h-1zM15 48h1v1h-1zM17 48h1v1h-1zM22 48h1v1h-1zM30 48h1v1h-1zM33 48h1v1h-1zM61 48h2v1h-2zM79 48h1v1h-1zM107 48h1v1h-1zM128 48h1v1h-1zM130 48h1v1h-1zM148 48h2v1h-2z"/>
</g>
<g font-size="8.8" fill="#111" stroke="#111" stroke-width="0.25">
<text x="1862.6" y="79.07">gp130</text>
<text x="1862.6" y="90.41">VEGFR3</text>
<text x="1862.6" y="101.75">IL3</text>
<text x="1862.6" y="113.09">TRAIL</text>
<text x="1862.6" y="124.43">CCL22</text>
<text x="1862.6" y="135.77">IL17</text>
<text x="1862.6" y="147.11">IFNBeta</text>
<text x="1862.6" y="158.45">FGF</text>
<text x="1862.6" y="169.79">CXCL1</text>
<text x="1862.6" y="181.13">CXCL2</text>
<text x="1862.6" y="192.47">IL2</text>
<text x="1862.6" y="203.81">IL13</text>
<text x="1862.6" y="215.15">CCL5</text>
<text x="1862.6" y="226.49">IL5</text>
<text x="1862.6" y="237.83">IFNG</text>
<text x="1862.6" y="249.17">IL33</text>
<text x="1862.6" y="260.51">CCL3</text>
<text x="1862.6" y="271.85">TNFA</text>
<text x="1862.6" y="283.19">CCL20</text>
<text x="1862.6" y="294.53">IL12</text>
<text x="1862.6" y="305.87">IL17E</text>
<text x="1862.6" y="317.21">IL4</text>
<text x="1862.6" y="328.55">CCL11</text>
<text x="1862.6" y="339.89">IFNA</text>
<text x="1862.6" y="351.23">IL18</text>
<text x="1862.6" y="362.57">IL8</text>
<text x="1862.6" y="373.91">VEGFR1</text>
<text x="1862.6" y="385.25">PDL1</text>
<text x="1862.6" y="396.59">EGF</text>
<text x="1862.6" y="407.93">PDGF−AB</text>
<text x="1862.6" y="419.27">PDGF−AA</text>
<text x="1862.6" y="430.61">IL7</text>
<text x="1862.6" y="441.95">CD40L</text>
<text x="1862.6" y="453.29">VEGF</text>
<text x="1862.6" y="464.63">Angiopoietin−1</text>
<text x="1862.6" y="475.97">RAGE</text>
<text x="1862.6" y="487.31">IL10</text>
<text x="1862.6" y="498.65">CXCL10</text>
<text x="1862.6" y="509.99">GM−CSF</text>
<text x="1862.6" y="521.33">IL6</text>
<text x="1862.6" y="532.67">CCL2</text>
<text x="1862.6" y="544.01">IL15</text>
<text x="1862.6" y="555.35">IL1RA</text>
<text x="1862.6" y="566.69">CX3CL1</text>
<text x="1862.6" y="578.03">TNFRSF1B</text>
<text x="1862.6" y="589.37">IL2R</text>
<text x="1862.6" y="600.71">TNFRSF1A</text>
<text x="1862.6" y="612.05">CCL19</text>
<text x="1862.6" y="623.39">ICAM1</text>
</g>
<path fill="#b02a24" d="M170.6 631.8h9.46v19.4h-9.46zM201.98 631.8h9.46v19.4h-9.46zM212.44 631.8h9.46v19.4h-9.46zM222.9 631.8h9.46v19.4h-9.46zM254.28 631.8h9.46v19.4h-9.46zM264.74 631.8h9.46v19.4h-9.46zM275.2 631.8h9.46v19.4h-9.46zM285.66 631.8h9.46v19.4h-9.46zM296.12 631.8h9.46v19.4h-9.46zM306.58 631.8h9.46v19.4h-9.46zM317.04 631.8h9.46v19.4h-9.46zM327.5 631.8h9.46v19.4h-9.46zM337.96 631.8h9.46v19.4h-9.46zM348.42 631.8h9.46v19.4h-9.46zM358.88 631.8h9.46v19.4h-9.46zM369.34 631.8h9.46v19.4h-9.46zM379.8 631.8h9.46v19.4h-9.46zM390.26 631.8h9.46v19.4h-9.46zM411.18 631.8h9.46v19.4h-9.46zM421.64 631.8h9.46v19.4h-9.46zM432.1 631.8h9.46v19.4h-9.46zM442.56 631.8h9.46v19.4h-9.46zM453.02 631.8h9.46v19.4h-9.46zM463.48 631.8h9.46v19.4h-9.46zM473.94 631.8h9.46v19.4h-9.46zM494.86 631.8h9.46v19.4h-9.46zM505.32 631.8h9.46v19.4h-9.46zM515.78 631.8h9.46v19.4h-9.46zM526.24 631.8h9.46v19.4h-9.46zM557.62 631.8h9.46v19.4h-9.46zM568.08 631.8h9.46v19.4h-9.46zM578.54 631.8h9.46v19.4h-9.46zM599.46 631.8h9.46v19.4h-9.46zM609.92 631.8h9.46v19.4h-9.46zM630.84 631.8h9.46v19.4h-9.46zM651.76 631.8h9.46v19.4h-9.46zM662.22 631.8h9.46v19.4h-9.46zM672.68 631.8h9.46v19.4h-9.46zM693.6 631.8h9.46v19.4h-9.46zM704.06 631.8h9.46v19.4h-9.46zM735.44 631.8h9.46v19.4h-9.46zM756.36 631.8h9.46v19.4h-9.46zM766.82 631.8h9.46v19.4h-9.46zM787.74 631.8h9.46v19.4h-9.46zM798.2 631.8h9.46v19.4h-9.46zM808.66 631.8h9.46v19.4h-9.46zM819.12 631.8h9.46v19.4h-9.46zM860.96 631.8h9.46v19.4h-9.46zM871.42 631.8h9.46v19.4h-9.46zM913.26 631.8h9.46v19.4h-9.46zM923.72 631.8h9.46v19.4h-9.46zM944.64 631.8h9.46v19.4h-9.46zM955.1 631.8h9.46v19.4h-9.46zM965.56 631.8h9.46v19.4h-9.46zM976.02 631.8h9.46v19.4h-9.46zM986.48 631.8h9.46v19.4h-9.46zM996.94 631.8h9.46v19.4h-9.46zM1017.86 631.8h9.46v19.4h-9.46zM1028.32 631.8h9.46v19.4h-9.46zM1080.62 631.8h9.46v19.4h-9.46zM1143.38 631.8h9.46v19.4h-9.46zM1174.76 631.8h9.46v19.4h-9.46zM1195.68 631.8h9.46v19.4h-9.46zM1206.14 631.8h9.46v19.4h-9.46zM1216.6 631.8h9.46v19.4h-9.46zM1227.06 631.8h9.46v19.4h-9.46zM1258.44 631.8h9.46v19.4h-9.46zM1289.82 631.8h9.46v19.4h-9.46zM1300.28 631.8h9.46v19.4h-9.46zM1310.74 631.8h9.46v19.4h-9.46zM1321.2 631.8h9.46v19.4h-9.46zM1331.66 631.8h9.46v19.4h-9.46zM1352.58 631.8h9.46v19.4h-9.46zM1363.04 631.8h9.46v19.4h-9.46zM1373.5 631.8h9.46v19.4h-9.46zM1394.42 631.8h9.46v19.4h-9.46zM1415.34 631.8h9.46v19.4h-9.46zM1425.8 631.8h9.46v19.4h-9.46zM1457.18 631.8h9.46v19.4h-9.46zM1467.64 631.8h9.46v19.4h-9.46zM1488.56 631.8h9.46v19.4h-9.46zM1499.02 631.8h9.46v19.4h-9.46zM1509.48 631.8h9.46v19.4h-9.46zM1540.86 631.8h9.46v19.4h-9.46zM1551.32 631.8h9.46v19.4h-9.46zM1582.7 631.8h9.46v19.4h-9.46zM1603.62 631.8h9.46v19.4h-9.46zM1614.08 631.8h9.46v19.4h-9.46zM1624.54 631.8h9.46v19.4h-9.46zM1635 631.8h9.46v19.4h-9.46zM1645.46 631.8h9.46v19.4h-9.46zM1655.92 631.8h9.46v19.4h-9.46zM1676.84 631.8h9.46v19.4h-9.46zM1687.3 631.8h9.46v19.4h-9.46zM1697.76 631.8h9.46v19.4h-9.46zM1708.22 631.8h9.46v19.4h-9.46zM1739.6 631.8h9.46v19.4h-9.46zM1781.44 631.8h9.46v19.4h-9.46zM1802.36 631.8h9.46v19.4h-9.46z"/>
<path fill="#3d70b8" d="M181.06 631.8h9.46v19.4h-9.46zM191.52 631.8h9.46v19.4h-9.46zM233.36 631.8h9.46v19.4h-9.46zM243.82 631.8h9.46v19.4h-9.46zM400.72 631.8h9.46v19.4h-9.46zM484.4 631.8h9.46v19.4h-9.46zM536.7 631.8h9.46v19.4h-9.46zM547.16 631.8h9.46v19.4h-9.46zM589 631.8h9.46v19.4h-9.46zM620.38 631.8h9.46v19.4h-9.46zM641.3 631.8h9.46v19.4h-9.46zM683.14 631.8h9.46v19.4h-9.46zM714.52 631.8h9.46v19.4h-9.46zM724.98 631.8h9.46v19.4h-9.46zM745.9 631.8h9.46v19.4h-9.46zM777.28 631.8h9.46v19.4h-9.46zM829.58 631.8h9.46v19.4h-9.46zM840.04 631.8h9.46v19.4h-9.46zM850.5 631.8h9.46v19.4h-9.46zM881.88 631.8h9.46v19.4h-9.46zM892.34 631.8h9.46v19.4h-9.46zM902.8 631.8h9.46v19.4h-9.46zM934.18 631.8h9.46v19.4h-9.46zM1007.4 631.8h9.46v19.4h-9.46zM1038.78 631.8h9.46v19.4h-9.46zM1049.24 631.8h9.46v19.4h-9.46zM1059.7 631.8h9.46v19.4h-9.46zM1070.16 631.8h9.46v19.4h-9.46zM1091.08 631.8h9.46v19.4h-9.46zM1101.54 631.8h9.46v19.4h-9.46zM1112 631.8h9.46v19.4h-9.46zM1122.46 631.8h9.46v19.4h-9.46zM1132.92 631.8h9.46v19.4h-9.46zM1153.84 631.8h9.46v19.4h-9.46zM1164.3 631.8h9.46v19.4h-9.46zM1185.22 631.8h9.46v19.4h-9.46zM1237.52 631.8h9.46v19.4h-9.46zM1247.98 631.8h9.46v19.4h-9.46zM1268.9 631.8h9.46v19.4h-9.46zM1279.36 631.8h9.46v19.4h-9.46zM1342.12 631.8h9.46v19.4h-9.46zM1383.96 631.8h9.46v19.4h-9.46zM1404.88 631.8h9.46v19.4h-9.46zM1436.26 631.8h9.46v19.4h-9.46zM1446.72 631.8h9.46v19.4h-9.46zM1478.1 631.8h9.46v19.4h-9.46zM1519.94 631.8h9.46v19.4h-9.46zM1530.4 631.8h9.46v19.4h-9.46zM1561.78 631.8h9.46v19.4h-9.46zM1572.24 631.8h9.46v19.4h-9.46zM1593.16 631.8h9.46v19.4h-9.46zM1666.38 631.8h9.46v19.4h-9.46zM1718.68 631.8h9.46v19.4h-9.46zM1729.14 631.8h9.46v19.4h-9.46zM1750.06 631.8h9.46v19.4h-9.46zM1760.52 631.8h9.46v19.4h-9.46zM1770.98 631.8h9.46v19.4h-9.46zM1791.9 631.8h9.46v19.4h-9.46zM1812.82 631.8h9.46v19.4h-9.46zM1823.28 631.8h9.46v19.4h-9.46zM1833.74 631.8h9.46v19.4h-9.46zM1844.2 631.8h9.46v19.4h-9.46z"/>
<path fill="#e3e7f4" d="M170.6 653.9h9.46v19.4h-9.46zM181.06 653.9h9.46v19.4h-9.46zM379.8 653.9h9.46v19.4h-9.46zM589 653.9h9.46v19.4h-9.46zM704.06 653.9h9.46v19.4h-9.46zM714.52 653.9h9.46v19.4h-9.46zM976.02 653.9h9.46v19.4h-9.46zM1415.34 653.9h9.46v19.4h-9.46zM1425.8 653.9h9.46v19.4h-9.46zM1676.84 653.9h9.46v19.4h-9.46zM1760.52 653.9h9.46v19.4h-9.46z"/>
<path fill="#97a7d5" d="M191.52 653.9h9.46v19.4h-9.46zM630.84 653.9h9.46v19.4h-9.46zM641.3 653.9h9.46v19.4h-9.46zM787.74 653.9h9.46v19.4h-9.46zM798.2 653.9h9.46v19.4h-9.46zM808.66 653.9h9.46v19.4h-9.46zM819.12 653.9h9.46v19.4h-9.46zM829.58 653.9h9.46v19.4h-9.46zM996.94 653.9h9.46v19.4h-9.46zM1781.44 653.9h9.46v19.4h-9.46zM1823.28 653.9h9.46v19.4h-9.46z"/>
<path fill="#e5b9bc" d="M201.98 653.9h9.46v19.4h-9.46zM212.44 653.9h9.46v19.4h-9.46zM233.36 653.9h9.46v19.4h-9.46zM243.82 653.9h9.46v19.4h-9.46zM327.5 653.9h9.46v19.4h-9.46zM337.96 653.9h9.46v19.4h-9.46zM348.42 653.9h9.46v19.4h-9.46zM400.72 653.9h9.46v19.4h-9.46zM442.56 653.9h9.46v19.4h-9.46zM484.4 653.9h9.46v19.4h-9.46zM536.7 653.9h9.46v19.4h-9.46zM557.62 653.9h9.46v19.4h-9.46zM568.08 653.9h9.46v19.4h-9.46zM609.92 653.9h9.46v19.4h-9.46zM683.14 653.9h9.46v19.4h-9.46zM745.9 653.9h9.46v19.4h-9.46zM850.5 653.9h9.46v19.4h-9.46zM860.96 653.9h9.46v19.4h-9.46zM871.42 653.9h9.46v19.4h-9.46zM1007.4 653.9h9.46v19.4h-9.46zM1174.76 653.9h9.46v19.4h-9.46zM1206.14 653.9h9.46v19.4h-9.46zM1227.06 653.9h9.46v19.4h-9.46zM1509.48 653.9h9.46v19.4h-9.46zM1519.94 653.9h9.46v19.4h-9.46zM1540.86 653.9h9.46v19.4h-9.46zM1603.62 653.9h9.46v19.4h-9.46zM1645.46 653.9h9.46v19.4h-9.46zM1697.76 653.9h9.46v19.4h-9.46z"/>
<path fill="#b22a28" d="M222.9 653.9h9.46v19.4h-9.46zM254.28 653.9h9.46v19.4h-9.46z"/>
<path fill="#f0dfe0" d="M264.74 653.9h9.46v19.4h-9.46zM390.26 653.9h9.46v19.4h-9.46zM840.04 653.9h9.46v19.4h-9.46zM892.34 653.9h9.46v19.4h-9.46zM913.26 653.9h9.46v19.4h-9.46zM934.18 653.9h9.46v19.4h-9.46zM1059.7 653.9h9.46v19.4h-9.46zM1080.62 653.9h9.46v19.4h-9.46zM1258.44 653.9h9.46v19.4h-9.46zM1551.32 653.9h9.46v19.4h-9.46zM1802.36 653.9h9.46v19.4h-9.46zM1833.74 653.9h9.46v19.4h-9.46z"/>
<path fill="#c04a4e" d="M275.2 653.9h9.46v19.4h-9.46zM285.66 653.9h9.46v19.4h-9.46zM369.34 653.9h9.46v19.4h-9.46zM421.64 653.9h9.46v19.4h-9.46zM662.22 653.9h9.46v19.4h-9.46z"/>
<path fill="#fbf7f7" d="M296.12 653.9h9.46v19.4h-9.46zM306.58 653.9h9.46v19.4h-9.46zM463.48 653.9h9.46v19.4h-9.46zM505.32 653.9h9.46v19.4h-9.46zM672.68 653.9h9.46v19.4h-9.46zM735.44 653.9h9.46v19.4h-9.46zM777.28 653.9h9.46v19.4h-9.46zM965.56 653.9h9.46v19.4h-9.46zM1164.3 653.9h9.46v19.4h-9.46z"/>
<path fill="#b9c4e3" d="M317.04 653.9h9.46v19.4h-9.46zM432.1 653.9h9.46v19.4h-9.46zM453.02 653.9h9.46v19.4h-9.46zM473.94 653.9h9.46v19.4h-9.46zM578.54 653.9h9.46v19.4h-9.46zM693.6 653.9h9.46v19.4h-9.46zM756.36 653.9h9.46v19.4h-9.46zM1017.86 653.9h9.46v19.4h-9.46zM1091.08 653.9h9.46v19.4h-9.46zM1101.54 653.9h9.46v19.4h-9.46zM1112 653.9h9.46v19.4h-9.46zM1132.92 653.9h9.46v19.4h-9.46zM1143.38 653.9h9.46v19.4h-9.46zM1153.84 653.9h9.46v19.4h-9.46zM1237.52 653.9h9.46v19.4h-9.46zM1247.98 653.9h9.46v19.4h-9.46zM1310.74 653.9h9.46v19.4h-9.46zM1321.2 653.9h9.46v19.4h-9.46zM1331.66 653.9h9.46v19.4h-9.46zM1352.58 653.9h9.46v19.4h-9.46zM1373.5 653.9h9.46v19.4h-9.46zM1404.88 653.9h9.46v19.4h-9.46zM1635 653.9h9.46v19.4h-9.46zM1655.92 653.9h9.46v19.4h-9.46zM1666.38 653.9h9.46v19.4h-9.46zM1708.22 653.9h9.46v19.4h-9.46zM1718.68 653.9h9.46v19.4h-9.46zM1729.14 653.9h9.46v19.4h-9.46z"/>
<path fill="#c9666b" d="M358.88 653.9h9.46v19.4h-9.46zM494.86 653.9h9.46v19.4h-9.46zM515.78 653.9h9.46v19.4h-9.46zM547.16 653.9h9.46v19.4h-9.46zM955.1 653.9h9.46v19.4h-9.46zM1467.64 653.9h9.46v19.4h-9.46z"/>
<path fill="#d47e84" d="M411.18 653.9h9.46v19.4h-9.46zM651.76 653.9h9.46v19.4h-9.46zM766.82 653.9h9.46v19.4h-9.46zM881.88 653.9h9.46v19.4h-9.46zM1812.82 653.9h9.46v19.4h-9.46z"/>
<path fill="#dfa4a9" d="M526.24 653.9h9.46v19.4h-9.46zM902.8 653.9h9.46v19.4h-9.46zM923.72 653.9h9.46v19.4h-9.46zM944.64 653.9h9.46v19.4h-9.46zM1028.32 653.9h9.46v19.4h-9.46zM1038.78 653.9h9.46v19.4h-9.46zM1446.72 653.9h9.46v19.4h-9.46zM1488.56 653.9h9.46v19.4h-9.46zM1614.08 653.9h9.46v19.4h-9.46z"/>
<path fill="#cfd6ec" d="M599.46 653.9h9.46v19.4h-9.46zM620.38 653.9h9.46v19.4h-9.46zM1070.16 653.9h9.46v19.4h-9.46zM1185.22 653.9h9.46v19.4h-9.46zM1268.9 653.9h9.46v19.4h-9.46zM1300.28 653.9h9.46v19.4h-9.46zM1342.12 653.9h9.46v19.4h-9.46zM1394.42 653.9h9.46v19.4h-9.46zM1436.26 653.9h9.46v19.4h-9.46zM1478.1 653.9h9.46v19.4h-9.46zM1561.78 653.9h9.46v19.4h-9.46zM1844.2 653.9h9.46v19.4h-9.46z"/>
<path fill="#a6b3dc" d="M724.98 653.9h9.46v19.4h-9.46zM986.48 653.9h9.46v19.4h-9.46zM1049.24 653.9h9.46v19.4h-9.46zM1122.46 653.9h9.46v19.4h-9.46zM1195.68 653.9h9.46v19.4h-9.46zM1216.6 653.9h9.46v19.4h-9.46zM1279.36 653.9h9.46v19.4h-9.46zM1383.96 653.9h9.46v19.4h-9.46zM1770.98 653.9h9.46v19.4h-9.46z"/>
<path fill="#eef0f8" d="M1289.82 653.9h9.46v19.4h-9.46zM1363.04 653.9h9.46v19.4h-9.46zM1572.24 653.9h9.46v19.4h-9.46zM1624.54 653.9h9.46v19.4h-9.46zM1739.6 653.9h9.46v19.4h-9.46zM1791.9 653.9h9.46v19.4h-9.46z"/>
<path fill="#6e8cc8" d="M1457.18 653.9h9.46v19.4h-9.46z"/>
<path fill="#b83a3c" d="M1499.02 653.9h9.46v19.4h-9.46z"/>
<path fill="#e3b1b4" d="M1530.4 653.9h9.46v19.4h-9.46z"/>
<path fill="#e7ebf6" d="M1582.7 653.9h9.46v19.4h-9.46z"/>
<path fill="#dbe0f1" d="M1593.16 653.9h9.46v19.4h-9.46z"/>
<path fill="#f7edee" d="M1687.3 653.9h9.46v19.4h-9.46z"/>
<path fill="#3f72ba" d="M1750.06 653.9h9.46v19.4h-9.46z"/>
<path fill="#d05a14" d="M170.6 677h9.46v19.5h-9.46zM201.98 677h9.46v19.5h-9.46zM212.44 677h9.46v19.5h-9.46zM222.9 677h9.46v19.5h-9.46zM233.36 677h9.46v19.5h-9.46zM243.82 677h9.46v19.5h-9.46zM254.28 677h9.46v19.5h-9.46zM264.74 677h9.46v19.5h-9.46zM275.2 677h9.46v19.5h-9.46zM285.66 677h9.46v19.5h-9.46zM296.12 677h9.46v19.5h-9.46zM306.58 677h9.46v19.5h-9.46zM317.04 677h9.46v19.5h-9.46zM327.5 677h9.46v19.5h-9.46zM337.96 677h9.46v19.5h-9.46zM348.42 677h9.46v19.5h-9.46zM358.88 677h9.46v19.5h-9.46zM369.34 677h9.46v19.5h-9.46zM379.8 677h9.46v19.5h-9.46zM400.72 677h9.46v19.5h-9.46zM411.18 677h9.46v19.5h-9.46zM421.64 677h9.46v19.5h-9.46zM432.1 677h9.46v19.5h-9.46zM442.56 677h9.46v19.5h-9.46zM453.02 677h9.46v19.5h-9.46zM463.48 677h9.46v19.5h-9.46zM473.94 677h9.46v19.5h-9.46zM484.4 677h9.46v19.5h-9.46zM494.86 677h9.46v19.5h-9.46zM505.32 677h9.46v19.5h-9.46zM515.78 677h9.46v19.5h-9.46zM526.24 677h9.46v19.5h-9.46zM536.7 677h9.46v19.5h-9.46zM568.08 677h9.46v19.5h-9.46zM651.76 677h9.46v19.5h-9.46zM735.44 677h9.46v19.5h-9.46zM766.82 677h9.46v19.5h-9.46zM840.04 677h9.46v19.5h-9.46zM860.96 677h9.46v19.5h-9.46zM871.42 677h9.46v19.5h-9.46zM881.88 677h9.46v19.5h-9.46zM892.34 677h9.46v19.5h-9.46zM944.64 677h9.46v19.5h-9.46zM1007.4 677h9.46v19.5h-9.46zM1059.7 677h9.46v19.5h-9.46zM1080.62 677h9.46v19.5h-9.46zM1174.76 677h9.46v19.5h-9.46zM1499.02 677h9.46v19.5h-9.46zM1509.48 677h9.46v19.5h-9.46zM1519.94 677h9.46v19.5h-9.46zM1540.86 677h9.46v19.5h-9.46zM1551.32 677h9.46v19.5h-9.46zM1603.62 677h9.46v19.5h-9.46zM1614.08 677h9.46v19.5h-9.46zM1645.46 677h9.46v19.5h-9.46zM1687.3 677h9.46v19.5h-9.46z"/>
<path fill="#7b72bd" d="M181.06 677h9.46v19.5h-9.46zM191.52 677h9.46v19.5h-9.46zM390.26 677h9.46v19.5h-9.46zM547.16 677h9.46v19.5h-9.46zM557.62 677h9.46v19.5h-9.46zM578.54 677h9.46v19.5h-9.46zM589 677h9.46v19.5h-9.46zM599.46 677h9.46v19.5h-9.46zM609.92 677h9.46v19.5h-9.46zM620.38 677h9.46v19.5h-9.46zM630.84 677h9.46v19.5h-9.46zM641.3 677h9.46v19.5h-9.46zM662.22 677h9.46v19.5h-9.46zM672.68 677h9.46v19.5h-9.46zM683.14 677h9.46v19.5h-9.46zM693.6 677h9.46v19.5h-9.46zM704.06 677h9.46v19.5h-9.46zM714.52 677h9.46v19.5h-9.46zM724.98 677h9.46v19.5h-9.46zM745.9 677h9.46v19.5h-9.46zM756.36 677h9.46v19.5h-9.46zM777.28 677h9.46v19.5h-9.46zM787.74 677h9.46v19.5h-9.46zM798.2 677h9.46v19.5h-9.46zM808.66 677h9.46v19.5h-9.46zM819.12 677h9.46v19.5h-9.46zM829.58 677h9.46v19.5h-9.46zM850.5 677h9.46v19.5h-9.46zM902.8 677h9.46v19.5h-9.46zM913.26 677h9.46v19.5h-9.46zM923.72 677h9.46v19.5h-9.46zM934.18 677h9.46v19.5h-9.46zM955.1 677h9.46v19.5h-9.46zM965.56 677h9.46v19.5h-9.46zM976.02 677h9.46v19.5h-9.46zM986.48 677h9.46v19.5h-9.46zM996.94 677h9.46v19.5h-9.46zM1017.86 677h9.46v19.5h-9.46zM1028.32 677h9.46v19.5h-9.46zM1038.78 677h9.46v19.5h-9.46zM1049.24 677h9.46v19.5h-9.46zM1070.16 677h9.46v19.5h-9.46zM1091.08 677h9.46v19.5h-9.46zM1101.54 677h9.46v19.5h-9.46zM1112 677h9.46v19.5h-9.46zM1122.46 677h9.46v19.5h-9.46zM1132.92 677h9.46v19.5h-9.46zM1143.38 677h9.46v19.5h-9.46zM1153.84 677h9.46v19.5h-9.46zM1164.3 677h9.46v19.5h-9.46zM1185.22 677h9.46v19.5h-9.46zM1195.68 677h9.46v19.5h-9.46zM1206.14 677h9.46v19.5h-9.46zM1216.6 677h9.46v19.5h-9.46zM1227.06 677h9.46v19.5h-9.46zM1237.52 677h9.46v19.5h-9.46zM1247.98 677h9.46v19.5h-9.46zM1258.44 677h9.46v19.5h-9.46zM1268.9 677h9.46v19.5h-9.46zM1279.36 677h9.46v19.5h-9.46zM1289.82 677h9.46v19.5h-9.46zM1300.28 677h9.46v19.5h-9.46zM1310.74 677h9.46v19.5h-9.46zM1321.2 677h9.46v19.5h-9.46zM1331.66 677h9.46v19.5h-9.46zM1342.12 677h9.46v19.5h-9.46zM1352.58 677h9.46v19.5h-9.46zM1363.04 677h9.46v19.5h-9.46zM1373.5 677h9.46v19.5h-9.46zM1383.96 677h9.46v19.5h-9.46zM1394.42 677h9.46v19.5h-9.46zM1404.88 677h9.46v19.5h-9.46zM1415.34 677h9.46v19.5h-9.46zM1425.8 677h9.46v19.5h-9.46zM1436.26 677h9.46v19.5h-9.46zM1446.72 677h9.46v19.5h-9.46zM1457.18 677h9.46v19.5h-9.46zM1467.64 677h9.46v19.5h-9.46zM1478.1 677h9.46v19.5h-9.46zM1488.56 677h9.46v19.5h-9.46zM1530.4 677h9.46v19.5h-9.46zM1561.78 677h9.46v19.5h-9.46zM1572.24 677h9.46v19.5h-9.46zM1582.7 677h9.46v19.5h-9.46zM1593.16 677h9.46v19.5h-9.46zM1624.54 677h9.46v19.5h-9.46zM1635 677h9.46v19.5h-9.46zM1655.92 677h9.46v19.5h-9.46zM1666.38 677h9.46v19.5h-9.46zM1676.84 677h9.46v19.5h-9.46z"/>
<path fill="#45a27c" d="M1697.76 677h9.46v19.5h-9.46zM1708.22 677h9.46v19.5h-9.46zM1718.68 677h9.46v19.5h-9.46zM1729.14 677h9.46v19.5h-9.46zM1739.6 677h9.46v19.5h-9.46zM1750.06 677h9.46v19.5h-9.46zM1760.52 677h9.46v19.5h-9.46zM1770.98 677h9.46v19.5h-9.46zM1781.44 677h9.46v19.5h-9.46zM1791.9 677h9.46v19.5h-9.46zM1802.36 677h9.46v19.5h-9.46zM1812.82 677h9.46v19.5h-9.46zM1823.28 677h9.46v19.5h-9.46zM1833.74 677h9.46v19.5h-9.46zM1844.2 677h9.46v19.5h-9.46z"/>
<text x="161.7" y="646.8" font-size="17" text-anchor="end">Sex</text>
<text x="161.7" y="668.3" font-size="17" text-anchor="end">Age</text>
<text x="161.7" y="692.1" font-size="17" text-anchor="end">Group</text>
<g font-family="'Liberation Serif', serif" font-size="23.5" text-anchor="middle" fill="#111">
<text x="1064.43" y="718.0">*</text>
<text x="1085.35" y="718.0">*</text>
<text x="1116.73" y="718.0">*</text>
<text x="1127.19" y="718.0">*</text>
<text x="1252.71" y="718.0">*</text>
<text x="1273.63" y="718.0">*</text>
<text x="1305.01" y="718.0">*</text>
<text x="1325.93" y="718.0">*</text>
<text x="1336.39" y="718.0">*</text>
<text x="1346.85" y="718.0">*</text>
<text x="1357.31" y="718.0">*</text>
<text x="1388.69" y="718.0">*</text>
<text x="1409.61" y="718.0">*</text>
<text x="1482.83" y="718.0">*</text>
<text x="1503.75" y="718.0">*</text>
<text x="1514.21" y="718.0">*</text>
<text x="1545.59" y="718.0">*</text>
<text x="1556.05" y="718.0">*</text>
<text x="1566.51" y="718.0">*</text>
<text x="1608.35" y="718.0">*</text>
<text x="1618.81" y="718.0">*</text>
<text x="1650.19" y="718.0">*</text>
<text x="1660.65" y="718.0">*</text>
<text x="1671.11" y="718.0">*</text>
<text x="1692.03" y="718.0">*</text>
</g>
<defs><linearGradient id="gz" x1="0" x2="1" y1="0" y2="0"><stop offset="0" stop-color="#3a4eae"/><stop offset="0.26" stop-color="#3a4eae"/><stop offset="0.38" stop-color="#a7a9e2"/><stop offset="0.5" stop-color="#ffffff"/><stop offset="0.62" stop-color="#fbaab0"/><stop offset="0.745" stop-color="#e1301f"/><stop offset="1" stop-color="#e1301f"/></linearGradient><linearGradient id="ga" x1="0" x2="1" y1="0" y2="0"><stop offset="0" stop-color="#4173bd"/><stop offset="0.05" stop-color="#4d7cc1"/><stop offset="0.25" stop-color="#a9b8dc"/><stop offset="0.5" stop-color="#fbf8f9"/><stop offset="0.75" stop-color="#e3a9ad"/><stop offset="1" stop-color="#c9636b"/></linearGradient><linearGradient id="gb" x1="0" x2="0" y1="0" y2="1"><stop offset="0" stop-color="#e1301f"/><stop offset="0.25" stop-color="#f6868a"/><stop offset="0.5" stop-color="#ffffff"/><stop offset="0.75" stop-color="#9a9bdb"/><stop offset="1" stop-color="#3550a8"/></linearGradient></defs>
<text x="171" y="733" font-size="19.2" font-weight="bold">Z–score</text>
<rect x="265.5" y="715.7" width="120.2" height="23.8" rx="1.5" fill="url(#gz)"/>
<path d="M270.5 716.5v4.2M270.5 734.5v4.2" stroke="#fff" stroke-width="1.6" stroke-linecap="round"/>
<path d="M298.4 716.5v4.2M298.4 734.5v4.2" stroke="#fff" stroke-width="1.6" stroke-linecap="round"/>
<path d="M354.4 716.5v4.2M354.4 734.5v4.2" stroke="#fff" stroke-width="1.6" stroke-linecap="round"/>
<path d="M382.3 716.5v4.2M382.3 734.5v4.2" stroke="#fff" stroke-width="1.6" stroke-linecap="round"/>
<text x="263.8" y="755.6" font-size="18" text-anchor="middle">−4</text>
<text x="295" y="755.6" font-size="18" text-anchor="middle">−2</text>
<text x="326" y="755.6" font-size="18" text-anchor="middle">0</text>
<text x="353.6" y="755.6" font-size="18" text-anchor="middle">2</text>
<text x="381.4" y="755.6" font-size="18" text-anchor="middle">4</text>
<text x="431.3" y="732.8" font-size="19.2" font-weight="bold">Sex</text>
<rect x="477.7" y="718.7" width="20.9" height="18.3" fill="#3d70b8"/>
<text x="500.4" y="732.8" font-size="19.2">Female</text>
<rect x="568.2" y="718.7" width="20.9" height="18.3" fill="#b02a24"/>
<text x="593.2" y="732.8" font-size="19.2">Male</text>
<text x="651.6" y="732.8" font-size="19.2" font-weight="bold">Age</text>
<rect x="697.3" y="715.3" width="96.4" height="23.7" rx="1.5" fill="url(#ga)"/>
<path d="M702 716.2v4.2M702 734.2v4.2" stroke="#fff" stroke-width="1.6" stroke-linecap="round"/>
<path d="M731.2 716.2v4.2M731.2 734.2v4.2" stroke="#fff" stroke-width="1.6" stroke-linecap="round"/>
<path d="M760.6 716.2v4.2M760.6 734.2v4.2" stroke="#fff" stroke-width="1.6" stroke-linecap="round"/>
<path d="M790.4 716.2v4.2M790.4 734.2v4.2" stroke="#fff" stroke-width="1.6" stroke-linecap="round"/>
<text x="705" y="755.6" font-size="18.5" text-anchor="middle">20</text>
<text x="734.2" y="755.6" font-size="18.5" text-anchor="middle">40</text>
<text x="763.6" y="755.6" font-size="18.5" text-anchor="middle">60</text>
<text x="792.8" y="755.6" font-size="18.5" text-anchor="middle">80</text>
<text x="909.2" y="739" font-size="19.2" font-weight="bold">Group</text>
<rect x="971.8" y="723.9" width="20.4" height="17.8" fill="#d05a14"/>
<text x="994.2" y="739" font-size="19.2">Severe/Critical</text>
<rect x="1126.4" y="723.9" width="20.4" height="17.8" fill="#7b72bd"/>
<text x="1148.6" y="739" font-size="19.2">Mild/Moderate</text>
<rect x="1277.7" y="723.9" width="20.8" height="17.8" fill="#45a27c"/>
<text x="1300.4" y="739" font-size="19.2">Healthy control</text>
<text x="1456" y="743.8" font-size="21" text-anchor="middle" font-family="'Liberation Serif', serif">*</text>
<text x="1467.8" y="739" font-size="19.2">Convalescent samples</text>
<!-- panel b -->
<text x="31.2" y="889" font-size="42.5" font-weight="bold">b</text>
<path fill="#fedcee" stroke="#fedcee" stroke-width="0.6" d="M113.03 1052.5L155.75 1072.8L155.75 1114.3L113.03 1134.6L70.3 1114.3L70.3 1072.8zM198.48 1052.5L241.2 1072.8L241.2 1114.3L198.48 1134.6L155.75 1114.3L155.75 1072.8zM155.75 1114.3L198.47 1134.6L198.47 1176.1L155.75 1196.4L113.03 1176.1L113.03 1134.6z"/>
<path fill="#fde0d6" stroke="#fde0d6" stroke-width="0.6" d="M283.93 1052.5L326.65 1072.8L326.65 1114.3L283.93 1134.6L241.2 1114.3L241.2 1072.8zM369.38 1052.5L412.1 1072.8L412.1 1114.3L369.38 1134.6L326.65 1114.3L326.65 1072.8zM454.83 1052.5L497.55 1072.8L497.55 1114.3L454.83 1134.6L412.1 1114.3L412.1 1072.8zM241.2 1114.3L283.93 1134.6L283.93 1176.1L241.2 1196.4L198.48 1176.1L198.48 1134.6zM326.65 1114.3L369.38 1134.6L369.38 1176.1L326.65 1196.4L283.93 1176.1L283.93 1134.6zM412.1 1114.3L454.83 1134.6L454.83 1176.1L412.1 1196.4L369.38 1176.1L369.38 1134.6zM497.55 1114.3L540.28 1134.6L540.28 1176.1L497.55 1196.4L454.83 1176.1L454.83 1134.6zM113.03 1176.1L155.75 1196.4L155.75 1237.9L113.03 1258.2L70.3 1237.9L70.3 1196.4zM198.48 1176.1L241.2 1196.4L241.2 1237.9L198.48 1258.2L155.75 1237.9L155.75 1196.4zM283.93 1176.1L326.65 1196.4L326.65 1237.9L283.93 1258.2L241.2 1237.9L241.2 1196.4zM369.38 1176.1L412.1 1196.4L412.1 1237.9L369.38 1258.2L326.65 1237.9L326.65 1196.4zM155.75 1237.9L198.47 1258.2L198.47 1299.7L155.75 1320L113.03 1299.7L113.03 1258.2zM241.2 1237.9L283.93 1258.2L283.93 1299.7L241.2 1320L198.48 1299.7L198.48 1258.2zM326.65 1237.9L369.38 1258.2L369.38 1299.7L326.65 1320L283.93 1299.7L283.93 1258.2zM113.03 1299.7L155.75 1320L155.75 1361.5L113.03 1381.8L70.3 1361.5L70.3 1320zM198.48 1299.7L241.2 1320L241.2 1361.5L198.48 1381.8L155.75 1361.5L155.75 1320zM283.93 1299.7L326.65 1320L326.65 1361.5L283.93 1381.8L241.2 1361.5L241.2 1320zM369.38 1299.7L412.1 1320L412.1 1361.5L369.38 1381.8L326.65 1361.5L326.65 1320zM155.75 1361.5L198.47 1381.8L198.47 1423.3L155.75 1443.6L113.03 1423.3L113.03 1381.8zM241.2 1361.5L283.93 1381.8L283.93 1423.3L241.2 1443.6L198.48 1423.3L198.48 1381.8zM326.65 1361.5L369.38 1381.8L369.38 1423.3L326.65 1443.6L283.93 1423.3L283.93 1381.8zM412.1 1361.5L454.83 1381.8L454.83 1423.3L412.1 1443.6L369.38 1423.3L369.38 1381.8z"/>
<path fill="#dccbbe" stroke="#dccbbe" stroke-width="0.6" d="M454.83 1176.1L497.55 1196.4L497.55 1237.9L454.83 1258.2L412.1 1237.9L412.1 1196.4zM412.1 1237.9L454.83 1258.2L454.83 1299.7L412.1 1320L369.38 1299.7L369.38 1258.2zM497.55 1237.9L540.28 1258.2L540.28 1299.7L497.55 1320L454.83 1299.7L454.83 1258.2zM454.83 1299.7L497.55 1320L497.55 1361.5L454.83 1381.8L412.1 1361.5L412.1 1320zM497.55 1361.5L540.28 1381.8L540.28 1423.3L497.55 1443.6L454.83 1423.3L454.83 1381.8z"/>
<path fill="#d2dbce" stroke="#d2dbce" stroke-width="0.6" d="M113.03 1423.3L155.75 1443.6L155.75 1485.1L113.03 1505.4L70.3 1485.1L70.3 1443.6zM155.75 1485.1L198.47 1505.4L198.47 1546.9L155.75 1567.2L113.03 1546.9L113.03 1505.4zM113.03 1546.9L155.75 1567.2L155.75 1608.7L113.03 1629L70.3 1608.7L70.3 1567.2zM198.48 1546.9L241.2 1567.2L241.2 1608.7L198.48 1629L155.75 1608.7L155.75 1567.2zM155.75 1608.7L198.47 1629L198.47 1670.5L155.75 1690.8L113.03 1670.5L113.03 1629zM241.2 1608.7L283.93 1629L283.93 1670.5L241.2 1690.8L198.48 1670.5L198.48 1629z"/>
<path fill="#fdecd5" stroke="#fdecd5" stroke-width="0.6" d="M198.48 1423.3L241.2 1443.6L241.2 1485.1L198.48 1505.4L155.75 1485.1L155.75 1443.6zM283.93 1423.3L326.65 1443.6L326.65 1485.1L283.93 1505.4L241.2 1485.1L241.2 1443.6zM369.38 1423.3L412.1 1443.6L412.1 1485.1L369.38 1505.4L326.65 1485.1L326.65 1443.6zM454.83 1423.3L497.55 1443.6L497.55 1485.1L454.83 1505.4L412.1 1485.1L412.1 1443.6zM241.2 1485.1L283.93 1505.4L283.93 1546.9L241.2 1567.2L198.48 1546.9L198.48 1505.4zM326.65 1485.1L369.38 1505.4L369.38 1546.9L326.65 1567.2L283.93 1546.9L283.93 1505.4zM412.1 1485.1L454.83 1505.4L454.83 1546.9L412.1 1567.2L369.38 1546.9L369.38 1505.4zM497.55 1485.1L540.28 1505.4L540.28 1546.9L497.55 1567.2L454.83 1546.9L454.83 1505.4z"/>
<path fill="#dfe3f8" stroke="#dfe3f8" stroke-width="0.6" d="M283.93 1546.9L326.65 1567.2L326.65 1608.7L283.93 1629L241.2 1608.7L241.2 1567.2zM369.38 1546.9L412.1 1567.2L412.1 1608.7L369.38 1629L326.65 1608.7L326.65 1567.2zM454.83 1546.9L497.55 1567.2L497.55 1608.7L454.83 1629L412.1 1608.7L412.1 1567.2zM326.65 1608.7L369.38 1629L369.38 1670.5L326.65 1690.8L283.93 1670.5L283.93 1629zM412.1 1608.7L454.83 1629L454.83 1670.5L412.1 1690.8L369.38 1670.5L369.38 1629zM497.55 1608.7L540.28 1629L540.28 1670.5L497.55 1690.8L454.83 1670.5L454.83 1629z"/>
<path fill="none" stroke="#abaeb2" stroke-width="1.75" d="M155.75 1072.8L155.75 1114.3M155.75 1114.3L113.03 1134.6M198.48 1134.6L155.75 1114.3M326.65 1072.8L326.65 1114.3M326.65 1114.3L283.93 1134.6M283.93 1134.6L241.2 1114.3M412.1 1072.8L412.1 1114.3M412.1 1114.3L369.38 1134.6M369.38 1134.6L326.65 1114.3M326.65 1114.3L326.65 1072.8M497.55 1114.3L454.83 1134.6M454.83 1134.6L412.1 1114.3M283.93 1134.6L283.93 1176.1M283.93 1176.1L241.2 1196.4M241.2 1196.4L198.48 1176.1M326.65 1114.3L369.38 1134.6M369.38 1134.6L369.38 1176.1M369.38 1176.1L326.65 1196.4M326.65 1196.4L283.93 1176.1M454.83 1134.6L454.83 1176.1M412.1 1196.4L369.38 1176.1M155.75 1196.4L155.75 1237.9M155.75 1237.9L113.03 1258.2M241.2 1196.4L241.2 1237.9M241.2 1237.9L198.48 1258.2M198.48 1258.2L155.75 1237.9M326.65 1196.4L326.65 1237.9M326.65 1237.9L283.93 1258.2M283.93 1258.2L241.2 1237.9M369.38 1258.2L326.65 1237.9M326.65 1237.9L326.65 1196.4M326.65 1196.4L369.38 1176.1M497.55 1237.9L454.83 1258.2M454.83 1258.2L412.1 1237.9M198.47 1258.2L198.47 1299.7M198.47 1299.7L155.75 1320M155.75 1320L113.03 1299.7M283.93 1258.2L283.93 1299.7M283.93 1299.7L241.2 1320M241.2 1320L198.48 1299.7M326.65 1237.9L369.38 1258.2M369.38 1299.7L326.65 1320M326.65 1320L283.93 1299.7M454.83 1258.2L454.83 1299.7M454.83 1299.7L412.1 1320M497.55 1320L454.83 1299.7M155.75 1320L155.75 1361.5M155.75 1361.5L113.03 1381.8M241.2 1320L241.2 1361.5M241.2 1361.5L198.48 1381.8M198.48 1381.8L155.75 1361.5M326.65 1320L326.65 1361.5M326.65 1361.5L283.93 1381.8M283.93 1381.8L241.2 1361.5M412.1 1361.5L369.38 1381.8M369.38 1381.8L326.65 1361.5M326.65 1361.5L326.65 1320M326.65 1320L369.38 1299.7M497.55 1361.5L454.83 1381.8M198.47 1381.8L198.47 1423.3M283.93 1381.8L283.93 1423.3M326.65 1361.5L369.38 1381.8M369.38 1381.8L369.38 1423.3M155.75 1485.1L113.03 1505.4M241.2 1443.6L241.2 1485.1M241.2 1485.1L198.48 1505.4M326.65 1443.6L326.65 1485.1M326.65 1485.1L283.93 1505.4M283.93 1505.4L241.2 1485.1M412.1 1443.6L412.1 1485.1M412.1 1485.1L369.38 1505.4M369.38 1505.4L326.65 1485.1M326.65 1485.1L326.65 1443.6M497.55 1485.1L454.83 1505.4M454.83 1505.4L412.1 1485.1M198.47 1546.9L155.75 1567.2M155.75 1567.2L113.03 1546.9M283.93 1505.4L283.93 1546.9M326.65 1485.1L369.38 1505.4M369.38 1505.4L369.38 1546.9M454.83 1505.4L454.83 1546.9M155.75 1567.2L155.75 1608.7M155.75 1608.7L113.03 1629M241.2 1608.7L198.48 1629M198.48 1629L155.75 1608.7M326.65 1567.2L326.65 1608.7M326.65 1608.7L283.93 1629M412.1 1567.2L412.1 1608.7M412.1 1608.7L369.38 1629M369.38 1629L326.65 1608.7M326.65 1608.7L326.65 1567.2M497.55 1608.7L454.83 1629M454.83 1629L412.1 1608.7M198.47 1629L198.47 1670.5M326.65 1608.7L369.38 1629M369.38 1629L369.38 1670.5M454.83 1629L454.83 1670.5"/>
<path fill="none" stroke="#0c0c0c" stroke-width="3.6" stroke-linejoin="miter" stroke-linecap="square" d="M241.2 1072.8L198.48 1052.5L155.75 1072.8L113.03 1052.5L70.3 1072.8L70.3 1114.3L113.03 1134.6L113.03 1176.1L155.75 1196.4L198.47 1176.1L198.47 1134.6L241.2 1114.3L241.2 1072.8L283.93 1052.5L326.65 1072.8M326.65 1072.8L369.38 1052.5L412.1 1072.8L454.83 1052.5L497.55 1072.8L497.55 1114.3L540.28 1134.6L540.28 1176.1L497.55 1196.4L454.83 1176.1L412.1 1196.4L412.1 1237.9L369.38 1258.2L369.38 1299.7L412.1 1320L412.1 1361.5L454.83 1381.8L454.83 1423.3L412.1 1443.6L369.38 1423.3L326.65 1443.6L283.93 1423.3L241.2 1443.6L198.48 1423.3L155.75 1443.6L113.03 1423.3L113.03 1381.8L70.3 1361.5L70.3 1320L113.03 1299.7L113.03 1258.2L70.3 1237.9L70.3 1196.4L113.03 1176.1M497.55 1196.4L497.55 1237.9L540.28 1258.2L540.28 1299.7L497.55 1320L497.55 1361.5L540.28 1381.8L540.28 1423.3L497.55 1443.6L454.83 1423.3M155.75 1443.6L155.75 1485.1L198.48 1505.4L198.47 1546.9L241.2 1567.2L283.93 1546.9L326.65 1567.2L369.38 1546.9L412.1 1567.2L454.83 1546.9L497.55 1567.2L540.28 1546.9L540.28 1505.4L497.55 1485.1L497.55 1443.6M113.03 1423.3L70.3 1443.6L70.3 1485.1L113.03 1505.4L113.03 1546.9L70.3 1567.2L70.3 1608.7L113.03 1629L113.03 1670.5L155.75 1690.8L198.47 1670.5L241.2 1690.8L283.93 1670.5L283.93 1629L241.2 1608.7L241.2 1567.2M326.65 1443.6L369.38 1423.3M326.65 1567.2L369.38 1546.9M497.55 1567.2L497.55 1608.7L540.28 1629L540.28 1670.5L497.55 1690.8L454.83 1670.5L412.1 1690.8L369.38 1670.5L326.65 1690.8L283.93 1670.5"/>
<path d="M175.5 961.6L156 1073.8" stroke="#666" stroke-width="2.5" fill="none"/>
<path d="M370.8 1035.3L369.7 1052.5" stroke="#666" stroke-width="2.5" fill="none"/>
<path d="M547 1204.8L516.3 1246.7" stroke="#666" stroke-width="2.5" fill="none"/>
<path d="M497.6 1463.9L572.5 1504" stroke="#666" stroke-width="2.5" fill="none"/>
<path d="M216.3 1679.8L198.3 1713.4" stroke="#666" stroke-width="2.5" fill="none"/>
<path d="M411.6 1689.9L441.5 1718.3" stroke="#666" stroke-width="2.5" fill="none"/>
<g font-size="14.45" fill="#262626" stroke="#262626" stroke-width="0.2">
<text x="81.2" y="1079">CD40L</text>
<text x="81.2" y="1096.5">IL-18</text>
<text x="81.2" y="1113.8">PDGF-AB</text>
<text x="201.7" y="1097.7" text-anchor="middle">IL-1RA</text>
<text x="284" y="1097.7" text-anchor="middle">GM-CSF</text>
<text x="368.2" y="1097.7" text-anchor="middle">IL-6</text>
<text x="427.7" y="1089.1">CXCL10</text>
<text x="427.7" y="1106.1">IL-10</text>
<text x="498" y="1159.4" text-anchor="middle">RAGE</text>
<text x="255.5" y="1211.8">CCL2</text>
<text x="255.5" y="1229">VEGFR1</text>
<text x="371" y="1220.4" text-anchor="middle">IL-7</text>
<text x="435.9" y="1211.8">CCL3</text>
<text x="435.9" y="1229">VEGF</text>
<text x="385.4" y="1272.8">CX3CL1</text>
<text x="385.4" y="1290">IL15</text>
<text x="460.2" y="1272.8">TNFRSF1A</text>
<text x="460.2" y="1290">TNFRSF1B</text>
<text x="74.1" y="1328.7">CXCL1</text>
<text x="74.1" y="1345.9">EGF</text>
<text x="74.1" y="1363.1">Granzyme B</text>
<text x="261.9" y="1332.4">G-CSF</text>
<text x="261.9" y="1350">TGFA</text>
<text x="365.2" y="1344.8" text-anchor="middle">TNFA</text>
<text x="241.3" y="1405" text-anchor="middle">IFNG</text>
<text x="297.5" y="1396.4">FLT3-L</text>
<text x="297.5" y="1413.6">IL33</text>
<text x="474.4" y="1381.8">BCMA</text>
<text x="474.4" y="1399">CCL19</text>
<text x="474.4" y="1416.6">CXCL9</text>
<text x="474.4" y="1434.2">ICAM1</text>
<text x="198.7" y="1466.4" text-anchor="middle">CCL4</text>
<text x="287" y="1466.4" text-anchor="middle">IL-1Beta</text>
<text x="354.3" y="1457.4">IL-1A</text>
<text x="354.3" y="1475.4">IL-2</text>
<text x="457.4" y="1466.4" text-anchor="middle">IL-5</text>
<text x="156.2" y="1528.1" text-anchor="middle">CXCL2</text>
<text x="241.9" y="1528.1" text-anchor="middle">FGF</text>
<text x="320.5" y="1528.1" text-anchor="middle">IL17</text>
<text x="90.9" y="1582.4">CCL5</text>
<text x="90.9" y="1599.6">CCL11</text>
<text x="369.9" y="1595.1" text-anchor="middle">IL-4</text>
<text x="455" y="1595.1" text-anchor="middle">gp130</text>
<text x="241.7" y="1653.1" text-anchor="middle">IFNA</text>
<text x="324" y="1653.1" text-anchor="middle">IL-17E</text>
<text x="412.5" y="1653.1" text-anchor="middle">CCL22</text>
</g>
<g font-size="19.25" fill="#111" text-anchor="middle">
<text x="199.8" y="927.2">Cluster 5</text>
<text x="200" y="950.7">(Constantly high in severe cases)</text>
<text x="358" y="1000.1">Cluster 1</text>
<text x="361.8" y="1023.3">(High at 6-20 dpi in severe cases)</text>
<text x="194.6" y="1731.4">Cluster 4</text>
<text x="194.6" y="1754.6">(High in mild/moderate cases)</text>
<text x="444.5" y="1731.4">Cluster 2</text>
<text x="444.5" y="1754.6">(Low in severe cases)</text>
<text font-size="22.6" transform="translate(573.2 1190) rotate(-90) scale(0.85 1)">Cluster 6</text>
<text font-size="22.6" transform="translate(595.8 1190) rotate(-90) scale(0.85 1)">(High at 1-20 dpi in severe cases)</text>
<text font-size="22.6" transform="translate(573.2 1556) rotate(-90) scale(0.85 1)">Cluster 3</text>
<text font-size="22.6" transform="translate(595.8 1556) rotate(-90) scale(0.85 1)">(Relatively high in convalescence)</text>
</g>
<rect x="732" y="1008.9" width="1187.8" height="238.3" fill="none" stroke="#c4c4c4" stroke-width="1.6" stroke-dasharray="11 6.5"/>
<rect x="732" y="1267.4" width="1187.8" height="238.4" fill="none" stroke="#c4c4c4" stroke-width="1.6" stroke-dasharray="11 6.5"/>
<path fill="#fb8289" stroke="#fb8e95" stroke-width="0.5" d="M812.25 1022.6L826.49 1029.37L826.49 1043.2L812.25 1049.97L798 1043.2L798 1029.37zM854.98 1043.2L869.23 1049.97L869.23 1063.81L854.98 1070.58L840.74 1063.81L840.74 1049.97zM926.21 1063.81L940.45 1070.58L940.45 1084.41L926.21 1091.18L911.96 1084.41L911.96 1070.58z"/>
<path fill="#f6666c" stroke="#f7757b" stroke-width="0.5" d="M840.74 1022.6L854.98 1029.37L854.98 1043.2L840.74 1049.97L826.49 1043.2L826.49 1029.37zM826.49 1043.2L840.74 1049.97L840.74 1063.81L826.49 1070.58L812.25 1063.81L812.25 1049.97zM940.45 1084.41L954.7 1091.18L954.7 1105.02L940.45 1111.79L926.21 1105.02L926.21 1091.18z"/>
<path fill="#fd9ba1" stroke="#fda5aa" stroke-width="0.5" d="M869.23 1022.6L883.47 1029.37L883.47 1043.2L869.23 1049.97L854.98 1043.2L854.98 1029.37zM840.74 1063.81L854.98 1070.58L854.98 1084.41L840.74 1091.18L826.49 1084.41L826.49 1070.58zM911.96 1084.41L926.21 1091.18L926.21 1105.02L911.96 1111.79L897.72 1105.02L897.72 1091.18zM926.21 1105.02L940.45 1111.79L940.45 1125.62L926.21 1132.39L911.96 1125.62L911.96 1111.79z"/>
<path fill="#fefcfd" stroke="#fefcfd" stroke-width="0.5" d="M897.72 1022.6L911.96 1029.37L911.96 1043.2L897.72 1049.97L883.47 1043.2L883.47 1029.37zM826.49 1084.41L840.74 1091.18L840.74 1105.02L826.49 1111.79L812.25 1105.02L812.25 1091.18z"/>
<path fill="#d9d9f6" stroke="#ddddf7" stroke-width="0.5" d="M926.21 1022.6L940.45 1029.37L940.45 1043.2L926.21 1049.97L911.96 1043.2L911.96 1029.37zM911.96 1166.83L926.21 1173.6L926.21 1187.44L911.96 1194.21L897.72 1187.44L897.72 1173.6z"/>
<path fill="#fec1c5" stroke="#fec7cb" stroke-width="0.5" d="M883.47 1043.2L897.72 1049.97L897.72 1063.81L883.47 1070.58L869.23 1063.81L869.23 1049.97z"/>
<path fill="#ffdfe1" stroke="#ffe2e4" stroke-width="0.5" d="M911.96 1043.2L926.21 1049.97L926.21 1063.81L911.96 1070.58L897.72 1063.81L897.72 1049.97zM883.47 1084.41L897.72 1091.18L897.72 1105.02L883.47 1111.79L869.23 1105.02L869.23 1091.18zM897.72 1105.02L911.96 1111.79L911.96 1125.62L897.72 1132.39L883.47 1125.62L883.47 1111.79zM911.96 1125.62L926.21 1132.39L926.21 1146.23L911.96 1153L897.72 1146.23L897.72 1132.39z"/>
<path fill="#fecdd0" stroke="#fed2d5" stroke-width="0.5" d="M940.45 1043.2L954.7 1049.97L954.7 1063.81L940.45 1070.58L926.21 1063.81L926.21 1049.97z"/>
<path fill="#feb5ba" stroke="#febcc1" stroke-width="0.5" d="M812.25 1063.81L826.49 1070.58L826.49 1084.41L812.25 1091.18L798 1084.41L798 1070.58zM869.23 1063.81L883.47 1070.58L883.47 1084.41L869.23 1091.18L854.98 1084.41L854.98 1070.58zM897.72 1063.81L911.96 1070.58L911.96 1084.41L897.72 1091.18L883.47 1084.41L883.47 1070.58zM940.45 1125.62L954.7 1132.39L954.7 1146.23L940.45 1153L926.21 1146.23L926.21 1132.39z"/>
<path fill="#ffecee" stroke="#ffeef0" stroke-width="0.5" d="M854.98 1084.41L869.23 1091.18L869.23 1105.02L854.98 1111.79L840.74 1105.02L840.74 1091.18zM926.21 1146.23L940.45 1153L940.45 1166.83L926.21 1173.6L911.96 1166.83L911.96 1153z"/>
<path fill="#9e9ee0" stroke="#a8a8e3" stroke-width="0.5" d="M812.25 1105.02L826.49 1111.79L826.49 1125.62L812.25 1132.39L798 1125.62L798 1111.79zM883.47 1166.83L897.72 1173.6L897.72 1187.44L883.47 1194.21L869.23 1187.44L869.23 1173.6zM897.72 1187.44L911.96 1194.21L911.96 1208.04L897.72 1214.81L883.47 1208.04L883.47 1194.21z"/>
<path fill="#c6c6ef" stroke="#ccccf1" stroke-width="0.5" d="M840.74 1105.02L854.98 1111.79L854.98 1125.62L840.74 1132.39L826.49 1125.62L826.49 1111.79z"/>
<path fill="#ececfb" stroke="#eeeefb" stroke-width="0.5" d="M869.23 1105.02L883.47 1111.79L883.47 1125.62L869.23 1132.39L854.98 1125.62L854.98 1111.79zM883.47 1125.62L897.72 1132.39L897.72 1146.23L883.47 1153L869.23 1146.23L869.23 1132.39zM897.72 1146.23L911.96 1153L911.96 1166.83L897.72 1173.6L883.47 1166.83L883.47 1153zM940.45 1166.83L954.7 1173.6L954.7 1187.44L940.45 1194.21L926.21 1187.44L926.21 1173.6z"/>
<path fill="#8686d2" stroke="#9292d6" stroke-width="0.5" d="M826.49 1125.62L840.74 1132.39L840.74 1146.23L826.49 1153L812.25 1146.23L812.25 1132.39z"/>
<path fill="#b3b3e8" stroke="#bbbbea" stroke-width="0.5" d="M854.98 1125.62L869.23 1132.39L869.23 1146.23L854.98 1153L840.74 1146.23L840.74 1132.39zM869.23 1146.23L883.47 1153L883.47 1166.83L869.23 1173.6L854.98 1166.83L854.98 1153z"/>
<path fill="#4655b1" stroke="#5866b9" stroke-width="0.5" d="M812.25 1146.23L826.49 1153L826.49 1166.83L812.25 1173.6L798 1166.83L798 1153zM826.49 1208.04L840.74 1214.81L840.74 1228.65L826.49 1235.42L812.25 1228.65L812.25 1214.81zM883.47 1208.04L897.72 1214.81L897.72 1228.65L883.47 1235.42L869.23 1228.65L869.23 1214.81z"/>
<path fill="#7073c8" stroke="#7e81ce" stroke-width="0.5" d="M840.74 1146.23L854.98 1153L854.98 1166.83L840.74 1173.6L826.49 1166.83L826.49 1153zM940.45 1208.04L954.7 1214.81L954.7 1228.65L940.45 1235.42L926.21 1228.65L926.21 1214.81z"/>
<path fill="#3550a8" stroke="#4962b1" stroke-width="0.5" d="M826.49 1166.83L840.74 1173.6L840.74 1187.44L826.49 1194.21L812.25 1187.44L812.25 1173.6z"/>
<path fill="#5a60bc" stroke="#6a70c3" stroke-width="0.5" d="M854.98 1166.83L869.23 1173.6L869.23 1187.44L854.98 1194.21L840.74 1187.44L840.74 1173.6zM869.23 1187.44L883.47 1194.21L883.47 1208.04L869.23 1214.81L854.98 1208.04L854.98 1194.21z"/>
<path fill="#3e52ac" stroke="#5163b4" stroke-width="0.5" d="M812.25 1187.44L826.49 1194.21L826.49 1208.04L812.25 1214.81L798 1208.04L798 1194.21zM840.74 1187.44L854.98 1194.21L854.98 1208.04L840.74 1214.81L826.49 1208.04L826.49 1194.21zM854.98 1208.04L869.23 1214.81L869.23 1228.65L854.98 1235.42L840.74 1228.65L840.74 1214.81z"/>
<path fill="#a8a8e4" stroke="#b1b1e7" stroke-width="0.5" d="M926.21 1187.44L940.45 1194.21L940.45 1208.04L926.21 1214.81L911.96 1208.04L911.96 1194.21z"/>
<path fill="#656ac2" stroke="#7479c8" stroke-width="0.5" d="M911.96 1208.04L926.21 1214.81L926.21 1228.65L911.96 1235.42L897.72 1228.65L897.72 1214.81z"/>
<path fill="none" stroke="#111" stroke-width="1.6" stroke-linejoin="round" d="M854.98 1029.37L840.74 1022.6L826.49 1029.37L812.25 1022.6L798 1029.37L798 1043.2L812.25 1049.97L812.25 1063.81L826.49 1070.58L840.74 1063.81L840.74 1049.97L854.98 1043.2L854.98 1029.37L869.23 1022.6L883.47 1029.37L897.72 1022.6L911.96 1029.37L926.21 1022.6L940.45 1029.37L940.45 1043.2L954.7 1049.97L954.7 1063.81L940.45 1070.58L926.21 1063.81L911.96 1070.58L911.96 1084.41L897.72 1091.18L897.72 1105.02L911.96 1111.79L911.96 1125.62L926.21 1132.39L926.21 1146.23L911.96 1153L897.72 1146.23L883.47 1153L869.23 1146.23L854.98 1153L840.74 1146.23L826.49 1153L812.25 1146.23L812.25 1132.39L798 1125.62L798 1111.79L812.25 1105.02L812.25 1091.18L798 1084.41L798 1070.58L812.25 1063.81M940.45 1070.58L940.45 1084.41L954.7 1091.18L954.7 1105.02L940.45 1111.79L940.45 1125.62L954.7 1132.39L954.7 1146.23L940.45 1153L926.21 1146.23M826.49 1153L826.49 1166.83L840.74 1173.6L840.74 1187.44L854.98 1194.21L869.23 1187.44L883.47 1194.21L897.72 1187.44L911.96 1194.21L926.21 1187.44L940.45 1194.21L954.7 1187.44L954.7 1173.6L940.45 1166.83L940.45 1153M812.25 1146.23L798 1153L798 1166.83L812.25 1173.6L812.25 1187.44L798 1194.21L798 1208.04L812.25 1214.81L812.25 1228.65L826.49 1235.42L840.74 1228.65L854.98 1235.42L869.23 1228.65L869.23 1214.81L854.98 1208.04L854.98 1194.21M940.45 1194.21L940.45 1208.04L954.7 1214.81L954.7 1228.65L940.45 1235.42L926.21 1228.65L911.96 1235.42L897.72 1228.65L883.47 1235.42L869.23 1228.65"/>
<path fill="#e1301f" stroke="#e44535" stroke-width="0.5" d="M999.85 1022.6L1014.09 1029.37L1014.09 1043.2L999.85 1049.97L985.6 1043.2L985.6 1029.37zM1028.34 1022.6L1042.58 1029.37L1042.58 1043.2L1028.34 1049.97L1014.09 1043.2L1014.09 1029.37zM1056.83 1022.6L1071.07 1029.37L1071.07 1043.2L1056.83 1049.97L1042.58 1043.2L1042.58 1029.37zM1085.32 1022.6L1099.56 1029.37L1099.56 1043.2L1085.32 1049.97L1071.07 1043.2L1071.07 1029.37zM1014.09 1043.2L1028.34 1049.97L1028.34 1063.81L1014.09 1070.58L999.85 1063.81L999.85 1049.97zM1042.58 1043.2L1056.82 1049.97L1056.82 1063.81L1042.58 1070.58L1028.34 1063.81L1028.34 1049.97zM1071.07 1043.2L1085.31 1049.97L1085.31 1063.81L1071.07 1070.58L1056.83 1063.81L1056.83 1049.97z"/>
<path fill="#ef5251" stroke="#f16362" stroke-width="0.5" d="M1113.81 1022.6L1128.05 1029.37L1128.05 1043.2L1113.81 1049.97L1099.56 1043.2L1099.56 1029.37z"/>
<path fill="#e84037" stroke="#ea534b" stroke-width="0.5" d="M1099.56 1043.2L1113.8 1049.97L1113.8 1063.81L1099.56 1070.58L1085.32 1063.81L1085.32 1049.97zM1056.83 1063.81L1071.07 1070.58L1071.07 1084.41L1056.83 1091.18L1042.58 1084.41L1042.58 1070.58z"/>
<path fill="#f35c5e" stroke="#f46c6e" stroke-width="0.5" d="M1128.05 1043.2L1142.29 1049.97L1142.29 1063.81L1128.05 1070.58L1113.81 1063.81L1113.81 1049.97z"/>
<path fill="#ec4843" stroke="#ee5a56" stroke-width="0.5" d="M999.85 1063.81L1014.09 1070.58L1014.09 1084.41L999.85 1091.18L985.6 1084.41L985.6 1070.58zM1085.32 1063.81L1099.56 1070.58L1099.56 1084.41L1085.32 1091.18L1071.07 1084.41L1071.07 1070.58zM1113.81 1063.81L1128.05 1070.58L1128.05 1084.41L1113.81 1091.18L1099.56 1084.41L1099.56 1070.58z"/>
<path fill="#e5382b" stroke="#e84c40" stroke-width="0.5" d="M1028.34 1063.81L1042.58 1070.58L1042.58 1084.41L1028.34 1091.18L1014.09 1084.41L1014.09 1070.58z"/>
<path fill="#fc8e95" stroke="#fc99a0" stroke-width="0.5" d="M1014.09 1084.41L1028.34 1091.18L1028.34 1105.02L1014.09 1111.79L999.85 1105.02L999.85 1091.18z"/>
<path fill="#fb8289" stroke="#fb8e95" stroke-width="0.5" d="M1042.58 1084.41L1056.82 1091.18L1056.82 1105.02L1042.58 1111.79L1028.34 1105.02L1028.34 1091.18zM1071.07 1084.41L1085.31 1091.18L1085.31 1105.02L1071.07 1111.79L1056.83 1105.02L1056.83 1091.18z"/>
<path fill="#f6666c" stroke="#f7757b" stroke-width="0.5" d="M1099.56 1084.41L1113.8 1091.18L1113.8 1105.02L1099.56 1111.79L1085.32 1105.02L1085.32 1091.18z"/>
<path fill="#f8747a" stroke="#f98287" stroke-width="0.5" d="M1128.05 1084.41L1142.29 1091.18L1142.29 1105.02L1128.05 1111.79L1113.81 1105.02L1113.81 1091.18z"/>
<path fill="#ffdfe1" stroke="#ffe2e4" stroke-width="0.5" d="M999.85 1105.02L1014.09 1111.79L1014.09 1125.62L999.85 1132.39L985.6 1125.62L985.6 1111.79z"/>
<path fill="#fec1c5" stroke="#fec7cb" stroke-width="0.5" d="M1028.34 1105.02L1042.58 1111.79L1042.58 1125.62L1028.34 1132.39L1014.09 1125.62L1014.09 1111.79z"/>
<path fill="#fea8ae" stroke="#feb1b6" stroke-width="0.5" d="M1056.83 1105.02L1071.07 1111.79L1071.07 1125.62L1056.83 1132.39L1042.58 1125.62L1042.58 1111.79zM1085.32 1105.02L1099.56 1111.79L1099.56 1125.62L1085.32 1132.39L1071.07 1125.62L1071.07 1111.79z"/>
<path fill="#fd9ba1" stroke="#fda5aa" stroke-width="0.5" d="M1113.81 1105.02L1128.05 1111.79L1128.05 1125.62L1113.81 1132.39L1099.56 1125.62L1099.56 1111.79z"/>
<path fill="#ffecee" stroke="#ffeef0" stroke-width="0.5" d="M1014.09 1125.62L1028.34 1132.39L1028.34 1146.23L1014.09 1153L999.85 1146.23L999.85 1132.39zM1056.83 1146.23L1071.07 1153L1071.07 1166.83L1056.83 1173.6L1042.58 1166.83L1042.58 1153zM1085.32 1146.23L1099.56 1153L1099.56 1166.83L1085.32 1173.6L1071.07 1166.83L1071.07 1153zM1113.81 1146.23L1128.05 1153L1128.05 1166.83L1113.81 1173.6L1099.56 1166.83L1099.56 1153z"/>
<path fill="#fed6d8" stroke="#fedadc" stroke-width="0.5" d="M1042.58 1125.62L1056.82 1132.39L1056.82 1146.23L1042.58 1153L1028.34 1146.23L1028.34 1132.39zM1099.56 1125.62L1113.8 1132.39L1113.8 1146.23L1099.56 1153L1085.32 1146.23L1085.32 1132.39zM1128.05 1125.62L1142.29 1132.39L1142.29 1146.23L1128.05 1153L1113.81 1146.23L1113.81 1132.39z"/>
<path fill="#fecdd0" stroke="#fed2d5" stroke-width="0.5" d="M1071.07 1125.62L1085.31 1132.39L1085.31 1146.23L1071.07 1153L1056.83 1146.23L1056.83 1132.39z"/>
<path fill="#9e9ee0" stroke="#a8a8e3" stroke-width="0.5" d="M999.85 1146.23L1014.09 1153L1014.09 1166.83L999.85 1173.6L985.6 1166.83L985.6 1153z"/>
<path fill="#fefcfd" stroke="#fefcfd" stroke-width="0.5" d="M1028.34 1146.23L1042.58 1153L1042.58 1166.83L1028.34 1173.6L1014.09 1166.83L1014.09 1153z"/>
<path fill="#4655b1" stroke="#5866b9" stroke-width="0.5" d="M1014.09 1166.83L1028.34 1173.6L1028.34 1187.44L1014.09 1194.21L999.85 1187.44L999.85 1173.6zM1071.07 1208.04L1085.31 1214.81L1085.31 1228.65L1071.07 1235.42L1056.83 1228.65L1056.83 1214.81z"/>
<path fill="#c6c6ef" stroke="#ccccf1" stroke-width="0.5" d="M1042.58 1166.83L1056.82 1173.6L1056.82 1187.44L1042.58 1194.21L1028.34 1187.44L1028.34 1173.6z"/>
<path fill="#ececfb" stroke="#eeeefb" stroke-width="0.5" d="M1071.07 1166.83L1085.31 1173.6L1085.31 1187.44L1071.07 1194.21L1056.83 1187.44L1056.83 1173.6zM1099.56 1166.83L1113.8 1173.6L1113.8 1187.44L1099.56 1194.21L1085.32 1187.44L1085.32 1173.6zM1128.05 1166.83L1142.29 1173.6L1142.29 1187.44L1128.05 1194.21L1113.81 1187.44L1113.81 1173.6z"/>
<path fill="#3550a8" stroke="#4962b1" stroke-width="0.5" d="M999.85 1187.44L1014.09 1194.21L1014.09 1208.04L999.85 1214.81L985.6 1208.04L985.6 1194.21zM1014.09 1208.04L1028.34 1214.81L1028.34 1228.65L1014.09 1235.42L999.85 1228.65L999.85 1214.81z"/>
<path fill="#3e52ac" stroke="#5163b4" stroke-width="0.5" d="M1028.34 1187.44L1042.58 1194.21L1042.58 1208.04L1028.34 1214.81L1014.09 1208.04L1014.09 1194.21zM1042.58 1208.04L1056.82 1214.81L1056.82 1228.65L1042.58 1235.42L1028.34 1228.65L1028.34 1214.81z"/>
<path fill="#8686d2" stroke="#9292d6" stroke-width="0.5" d="M1056.83 1187.44L1071.07 1194.21L1071.07 1208.04L1056.83 1214.81L1042.58 1208.04L1042.58 1194.21z"/>
<path fill="#b3b3e8" stroke="#bbbbea" stroke-width="0.5" d="M1085.32 1187.44L1099.56 1194.21L1099.56 1208.04L1085.32 1214.81L1071.07 1208.04L1071.07 1194.21z"/>
<path fill="#d9d9f6" stroke="#ddddf7" stroke-width="0.5" d="M1113.81 1187.44L1128.05 1194.21L1128.05 1208.04L1113.81 1214.81L1099.56 1208.04L1099.56 1194.21zM1128.05 1208.04L1142.29 1214.81L1142.29 1228.65L1128.05 1235.42L1113.81 1228.65L1113.81 1214.81z"/>
<path fill="#a8a8e4" stroke="#b1b1e7" stroke-width="0.5" d="M1099.56 1208.04L1113.8 1214.81L1113.8 1228.65L1099.56 1235.42L1085.32 1228.65L1085.32 1214.81z"/>
<path fill="none" stroke="#111" stroke-width="1.6" stroke-linejoin="round" d="M1042.58 1029.37L1028.34 1022.6L1014.09 1029.37L999.85 1022.6L985.6 1029.37L985.6 1043.2L999.85 1049.97L999.85 1063.81L1014.09 1070.58L1028.34 1063.81L1028.34 1049.97L1042.58 1043.2L1042.58 1029.37L1056.83 1022.6L1071.07 1029.37L1085.32 1022.6L1099.56 1029.37L1113.81 1022.6L1128.05 1029.37L1128.05 1043.2L1142.29 1049.97L1142.29 1063.81L1128.05 1070.58L1113.81 1063.81L1099.56 1070.58L1099.56 1084.41L1085.32 1091.18L1085.31 1105.02L1099.56 1111.79L1099.56 1125.62L1113.81 1132.39L1113.8 1146.23L1099.56 1153L1085.32 1146.23L1071.07 1153L1056.83 1146.23L1042.58 1153L1028.34 1146.23L1014.09 1153L999.85 1146.23L999.85 1132.39L985.6 1125.62L985.6 1111.79L999.85 1105.02L999.85 1091.18L985.6 1084.41L985.6 1070.58L999.85 1063.81M1128.05 1070.58L1128.05 1084.41L1142.29 1091.18L1142.29 1105.02L1128.05 1111.79L1128.05 1125.62L1142.29 1132.39L1142.29 1146.23L1128.05 1153L1113.81 1146.23M1014.09 1153L1014.09 1166.83L1028.34 1173.6L1028.34 1187.44L1042.58 1194.21L1056.82 1187.44L1071.07 1194.21L1085.31 1187.44L1099.56 1194.21L1113.8 1187.44L1128.05 1194.21L1142.29 1187.44L1142.29 1173.6L1128.05 1166.83L1128.05 1153M999.85 1146.23L985.6 1153L985.6 1166.83L999.85 1173.6L999.85 1187.44L985.6 1194.21L985.6 1208.04L999.85 1214.81L999.85 1228.65L1014.09 1235.42L1028.34 1228.65L1042.58 1235.42L1056.82 1228.65L1056.82 1214.81L1042.58 1208.04L1042.58 1194.21M1128.05 1194.21L1128.05 1208.04L1142.29 1214.81L1142.29 1228.65L1128.05 1235.42L1113.81 1228.65L1099.56 1235.42L1085.32 1228.65L1071.07 1235.42L1056.83 1228.65"/>
<path fill="#e1301f" stroke="#e44535" stroke-width="0.5" d="M1187.04 1022.6L1201.29 1029.37L1201.29 1043.2L1187.04 1049.97L1172.8 1043.2L1172.8 1029.37zM1215.53 1022.6L1229.78 1029.37L1229.78 1043.2L1215.53 1049.97L1201.29 1043.2L1201.29 1029.37zM1244.02 1022.6L1258.27 1029.37L1258.27 1043.2L1244.02 1049.97L1229.78 1043.2L1229.78 1029.37zM1272.51 1022.6L1286.76 1029.37L1286.76 1043.2L1272.51 1049.97L1258.27 1043.2L1258.27 1029.37zM1301 1022.6L1315.25 1029.37L1315.25 1043.2L1301 1049.97L1286.76 1043.2L1286.76 1029.37zM1201.29 1043.2L1215.53 1049.97L1215.53 1063.81L1201.29 1070.58L1187.04 1063.81L1187.04 1049.97zM1229.78 1043.2L1244.02 1049.97L1244.02 1063.81L1229.78 1070.58L1215.53 1063.81L1215.53 1049.97zM1258.27 1043.2L1272.51 1049.97L1272.51 1063.81L1258.27 1070.58L1244.02 1063.81L1244.02 1049.97zM1286.76 1043.2L1301 1049.97L1301 1063.81L1286.76 1070.58L1272.51 1063.81L1272.51 1049.97zM1315.25 1043.2L1329.49 1049.97L1329.49 1063.81L1315.25 1070.58L1301 1063.81L1301 1049.97z"/>
<path fill="#ef5251" stroke="#f16362" stroke-width="0.5" d="M1187.04 1063.81L1201.29 1070.58L1201.29 1084.41L1187.04 1091.18L1172.8 1084.41L1172.8 1070.58zM1215.53 1063.81L1229.78 1070.58L1229.78 1084.41L1215.53 1091.18L1201.29 1084.41L1201.29 1070.58z"/>
<path fill="#ec4843" stroke="#ee5a56" stroke-width="0.5" d="M1244.02 1063.81L1258.27 1070.58L1258.27 1084.41L1244.02 1091.18L1229.78 1084.41L1229.78 1070.58zM1272.51 1063.81L1286.76 1070.58L1286.76 1084.41L1272.51 1091.18L1258.27 1084.41L1258.27 1070.58zM1301 1063.81L1315.25 1070.58L1315.25 1084.41L1301 1091.18L1286.76 1084.41L1286.76 1070.58z"/>
<path fill="#fb8289" stroke="#fb8e95" stroke-width="0.5" d="M1201.29 1084.41L1215.53 1091.18L1215.53 1105.02L1201.29 1111.79L1187.04 1105.02L1187.04 1091.18zM1229.78 1084.41L1244.02 1091.18L1244.02 1105.02L1229.78 1111.79L1215.53 1105.02L1215.53 1091.18z"/>
<path fill="#f8747a" stroke="#f98287" stroke-width="0.5" d="M1258.27 1084.41L1272.51 1091.18L1272.51 1105.02L1258.27 1111.79L1244.02 1105.02L1244.02 1091.18zM1286.76 1084.41L1301 1091.18L1301 1105.02L1286.76 1111.79L1272.51 1105.02L1272.51 1091.18zM1315.25 1084.41L1329.49 1091.18L1329.49 1105.02L1315.25 1111.79L1301 1105.02L1301 1091.18zM1187.04 1105.02L1201.29 1111.79L1201.29 1125.62L1187.04 1132.39L1172.8 1125.62L1172.8 1111.79z"/>
<path fill="#fc8e95" stroke="#fc99a0" stroke-width="0.5" d="M1215.53 1105.02L1229.78 1111.79L1229.78 1125.62L1215.53 1132.39L1201.29 1125.62L1201.29 1111.79zM1201.29 1125.62L1215.53 1132.39L1215.53 1146.23L1201.29 1153L1187.04 1146.23L1187.04 1132.39zM1187.04 1146.23L1201.29 1153L1201.29 1166.83L1187.04 1173.6L1172.8 1166.83L1172.8 1153z"/>
<path fill="#fea8ae" stroke="#feb1b6" stroke-width="0.5" d="M1244.02 1105.02L1258.27 1111.79L1258.27 1125.62L1244.02 1132.39L1229.78 1125.62L1229.78 1111.79zM1272.51 1105.02L1286.76 1111.79L1286.76 1125.62L1272.51 1132.39L1258.27 1125.62L1258.27 1111.79zM1301 1105.02L1315.25 1111.79L1315.25 1125.62L1301 1132.39L1286.76 1125.62L1286.76 1111.79zM1201.29 1166.83L1215.53 1173.6L1215.53 1187.44L1201.29 1194.21L1187.04 1187.44L1187.04 1173.6z"/>
<path fill="#feb5ba" stroke="#febcc1" stroke-width="0.5" d="M1229.78 1125.62L1244.02 1132.39L1244.02 1146.23L1229.78 1153L1215.53 1146.23L1215.53 1132.39zM1215.53 1146.23L1229.78 1153L1229.78 1166.83L1215.53 1173.6L1201.29 1166.83L1201.29 1153zM1187.04 1187.44L1201.29 1194.21L1201.29 1208.04L1187.04 1214.81L1172.8 1208.04L1172.8 1194.21z"/>
<path fill="#fecdd0" stroke="#fed2d5" stroke-width="0.5" d="M1258.27 1125.62L1272.51 1132.39L1272.51 1146.23L1258.27 1153L1244.02 1146.23L1244.02 1132.39zM1286.76 1125.62L1301 1132.39L1301 1146.23L1286.76 1153L1272.51 1146.23L1272.51 1132.39zM1229.78 1166.83L1244.02 1173.6L1244.02 1187.44L1229.78 1194.21L1215.53 1187.44L1215.53 1173.6zM1215.53 1187.44L1229.78 1194.21L1229.78 1208.04L1215.53 1214.81L1201.29 1208.04L1201.29 1194.21z"/>
<path fill="#fed6d8" stroke="#fedadc" stroke-width="0.5" d="M1315.25 1125.62L1329.49 1132.39L1329.49 1146.23L1315.25 1153L1301 1146.23L1301 1132.39z"/>
<path fill="#ffdfe1" stroke="#ffe2e4" stroke-width="0.5" d="M1244.02 1146.23L1258.27 1153L1258.27 1166.83L1244.02 1173.6L1229.78 1166.83L1229.78 1153zM1201.29 1208.04L1215.53 1214.81L1215.53 1228.65L1201.29 1235.42L1187.04 1228.65L1187.04 1214.81z"/>
<path fill="#ffe6e8" stroke="#ffe8ea" stroke-width="0.5" d="M1272.51 1146.23L1286.76 1153L1286.76 1166.83L1272.51 1173.6L1258.27 1166.83L1258.27 1153z"/>
<path fill="#ffecee" stroke="#ffeef0" stroke-width="0.5" d="M1301 1146.23L1315.25 1153L1315.25 1166.83L1301 1173.6L1286.76 1166.83L1286.76 1153z"/>
<path fill="#fef4f6" stroke="#fef5f7" stroke-width="0.5" d="M1258.27 1166.83L1272.51 1173.6L1272.51 1187.44L1258.27 1194.21L1244.02 1187.44L1244.02 1173.6zM1286.76 1166.83L1301 1173.6L1301 1187.44L1286.76 1194.21L1272.51 1187.44L1272.51 1173.6zM1315.25 1166.83L1329.49 1173.6L1329.49 1187.44L1315.25 1194.21L1301 1187.44L1301 1173.6zM1244.02 1187.44L1258.27 1194.21L1258.27 1208.04L1244.02 1214.81L1229.78 1208.04L1229.78 1194.21z"/>
<path fill="#ececfb" stroke="#eeeefb" stroke-width="0.5" d="M1272.51 1187.44L1286.76 1194.21L1286.76 1208.04L1272.51 1214.81L1258.27 1208.04L1258.27 1194.21zM1301 1187.44L1315.25 1194.21L1315.25 1208.04L1301 1214.81L1286.76 1208.04L1286.76 1194.21z"/>
<path fill="#fefcfd" stroke="#fefcfd" stroke-width="0.5" d="M1229.78 1208.04L1244.02 1214.81L1244.02 1228.65L1229.78 1235.42L1215.53 1228.65L1215.53 1214.81z"/>
<path fill="#d9d9f6" stroke="#ddddf7" stroke-width="0.5" d="M1258.27 1208.04L1272.51 1214.81L1272.51 1228.65L1258.27 1235.42L1244.02 1228.65L1244.02 1214.81z"/>
<path fill="#d0d0f2" stroke="#d5d5f3" stroke-width="0.5" d="M1286.76 1208.04L1301 1214.81L1301 1228.65L1286.76 1235.42L1272.51 1228.65L1272.51 1214.81z"/>
<path fill="#bcbcec" stroke="#c3c3ee" stroke-width="0.5" d="M1315.25 1208.04L1329.49 1214.81L1329.49 1228.65L1315.25 1235.42L1301 1228.65L1301 1214.81z"/>
<path fill="none" stroke="#111" stroke-width="1.6" stroke-linejoin="round" d="M1229.78 1029.37L1215.53 1022.6L1201.29 1029.37L1187.04 1022.6L1172.8 1029.37L1172.8 1043.2L1187.04 1049.97L1187.04 1063.81L1201.29 1070.58L1215.53 1063.81L1215.53 1049.97L1229.78 1043.2L1229.78 1029.37L1244.02 1022.6L1258.27 1029.37L1272.51 1022.6L1286.76 1029.37L1301 1022.6L1315.25 1029.37L1315.25 1043.2L1329.49 1049.97L1329.49 1063.81L1315.25 1070.58L1301 1063.81L1286.76 1070.58L1286.76 1084.41L1272.51 1091.18L1272.51 1105.02L1286.76 1111.79L1286.76 1125.62L1301 1132.39L1301 1146.23L1286.76 1153L1272.51 1146.23L1258.27 1153L1244.02 1146.23L1229.78 1153L1215.53 1146.23L1201.29 1153L1187.04 1146.23L1187.04 1132.39L1172.8 1125.62L1172.8 1111.79L1187.04 1105.02L1187.04 1091.18L1172.8 1084.41L1172.8 1070.58L1187.04 1063.81M1315.25 1070.58L1315.25 1084.41L1329.49 1091.18L1329.49 1105.02L1315.25 1111.79L1315.25 1125.62L1329.49 1132.39L1329.49 1146.23L1315.25 1153L1301 1146.23M1201.29 1153L1201.29 1166.83L1215.53 1173.6L1215.53 1187.44L1229.78 1194.21L1244.02 1187.44L1258.27 1194.21L1272.51 1187.44L1286.76 1194.21L1301 1187.44L1315.25 1194.21L1329.49 1187.44L1329.49 1173.6L1315.25 1166.83L1315.25 1153M1187.04 1146.23L1172.8 1153L1172.8 1166.83L1187.04 1173.6L1187.04 1187.44L1172.8 1194.21L1172.8 1208.04L1187.04 1214.81L1187.04 1228.65L1201.29 1235.42L1215.53 1228.65L1229.78 1235.42L1244.02 1228.65L1244.02 1214.81L1229.78 1208.04L1229.78 1194.21M1315.25 1194.21L1315.25 1208.04L1329.49 1214.81L1329.49 1228.65L1315.25 1235.42L1301 1228.65L1286.76 1235.42L1272.51 1228.65L1258.27 1235.42L1244.02 1228.65"/>
<path fill="#e1301f" stroke="#e44535" stroke-width="0.5" d="M1374.14 1022.6L1388.39 1029.37L1388.39 1043.2L1374.14 1049.97L1359.9 1043.2L1359.9 1029.37zM1402.63 1022.6L1416.88 1029.37L1416.88 1043.2L1402.63 1049.97L1388.39 1043.2L1388.39 1029.37zM1431.12 1022.6L1445.37 1029.37L1445.37 1043.2L1431.12 1049.97L1416.88 1043.2L1416.88 1029.37zM1459.62 1022.6L1473.86 1029.37L1473.86 1043.2L1459.62 1049.97L1445.37 1043.2L1445.37 1029.37zM1488.11 1022.6L1502.35 1029.37L1502.35 1043.2L1488.11 1049.97L1473.86 1043.2L1473.86 1029.37zM1388.39 1043.2L1402.63 1049.97L1402.63 1063.81L1388.39 1070.58L1374.14 1063.81L1374.14 1049.97zM1416.88 1043.2L1431.12 1049.97L1431.12 1063.81L1416.88 1070.58L1402.63 1063.81L1402.63 1049.97zM1445.37 1043.2L1459.61 1049.97L1459.61 1063.81L1445.37 1070.58L1431.12 1063.81L1431.12 1049.97zM1473.86 1043.2L1488.1 1049.97L1488.1 1063.81L1473.86 1070.58L1459.62 1063.81L1459.62 1049.97zM1502.35 1043.2L1516.59 1049.97L1516.59 1063.81L1502.35 1070.58L1488.11 1063.81L1488.11 1049.97zM1374.14 1063.81L1388.39 1070.58L1388.39 1084.41L1374.14 1091.18L1359.9 1084.41L1359.9 1070.58zM1402.63 1063.81L1416.88 1070.58L1416.88 1084.41L1402.63 1091.18L1388.39 1084.41L1388.39 1070.58zM1431.12 1063.81L1445.37 1070.58L1445.37 1084.41L1431.12 1091.18L1416.88 1084.41L1416.88 1070.58z"/>
<path fill="#e5382b" stroke="#e84c40" stroke-width="0.5" d="M1459.62 1063.81L1473.86 1070.58L1473.86 1084.41L1459.62 1091.18L1445.37 1084.41L1445.37 1070.58z"/>
<path fill="#e84037" stroke="#ea534b" stroke-width="0.5" d="M1488.11 1063.81L1502.35 1070.58L1502.35 1084.41L1488.11 1091.18L1473.86 1084.41L1473.86 1070.58z"/>
<path fill="#ec4843" stroke="#ee5a56" stroke-width="0.5" d="M1388.39 1084.41L1402.63 1091.18L1402.63 1105.02L1388.39 1111.79L1374.14 1105.02L1374.14 1091.18zM1416.88 1084.41L1431.12 1091.18L1431.12 1105.02L1416.88 1111.79L1402.63 1105.02L1402.63 1091.18zM1445.37 1084.41L1459.61 1091.18L1459.61 1105.02L1445.37 1111.79L1431.12 1105.02L1431.12 1091.18z"/>
<path fill="#f6666c" stroke="#f7757b" stroke-width="0.5" d="M1473.86 1084.41L1488.1 1091.18L1488.1 1105.02L1473.86 1111.79L1459.62 1105.02L1459.62 1091.18zM1374.14 1105.02L1388.39 1111.79L1388.39 1125.62L1374.14 1132.39L1359.9 1125.62L1359.9 1111.79z"/>
<path fill="#fb8289" stroke="#fb8e95" stroke-width="0.5" d="M1502.35 1084.41L1516.59 1091.18L1516.59 1105.02L1502.35 1111.79L1488.11 1105.02L1488.11 1091.18zM1431.12 1105.02L1445.37 1111.79L1445.37 1125.62L1431.12 1132.39L1416.88 1125.62L1416.88 1111.79z"/>
<path fill="#f8747a" stroke="#f98287" stroke-width="0.5" d="M1402.63 1105.02L1416.88 1111.79L1416.88 1125.62L1402.63 1132.39L1388.39 1125.62L1388.39 1111.79z"/>
<path fill="#fc8e95" stroke="#fc99a0" stroke-width="0.5" d="M1459.62 1105.02L1473.86 1111.79L1473.86 1125.62L1459.62 1132.39L1445.37 1125.62L1445.37 1111.79zM1388.39 1125.62L1402.63 1132.39L1402.63 1146.23L1388.39 1153L1374.14 1146.23L1374.14 1132.39z"/>
<path fill="#fea8ae" stroke="#feb1b6" stroke-width="0.5" d="M1488.11 1105.02L1502.35 1111.79L1502.35 1125.62L1488.11 1132.39L1473.86 1125.62L1473.86 1111.79zM1416.88 1125.62L1431.12 1132.39L1431.12 1146.23L1416.88 1153L1402.63 1146.23L1402.63 1132.39z"/>
<path fill="#fec1c5" stroke="#fec7cb" stroke-width="0.5" d="M1445.37 1125.62L1459.61 1132.39L1459.61 1146.23L1445.37 1153L1431.12 1146.23L1431.12 1132.39zM1374.14 1146.23L1388.39 1153L1388.39 1166.83L1374.14 1173.6L1359.9 1166.83L1359.9 1153z"/>
<path fill="#fecdd0" stroke="#fed2d5" stroke-width="0.5" d="M1473.86 1125.62L1488.1 1132.39L1488.1 1146.23L1473.86 1153L1459.62 1146.23L1459.62 1132.39z"/>
<path fill="#ffe6e8" stroke="#ffe8ea" stroke-width="0.5" d="M1502.35 1125.62L1516.59 1132.39L1516.59 1146.23L1502.35 1153L1488.11 1146.23L1488.11 1132.39z"/>
<path fill="#fed6d8" stroke="#fedadc" stroke-width="0.5" d="M1402.63 1146.23L1416.88 1153L1416.88 1166.83L1402.63 1173.6L1388.39 1166.83L1388.39 1153zM1431.12 1146.23L1445.37 1153L1445.37 1166.83L1431.12 1173.6L1416.88 1166.83L1416.88 1153z"/>
<path fill="#ffdfe1" stroke="#ffe2e4" stroke-width="0.5" d="M1459.62 1146.23L1473.86 1153L1473.86 1166.83L1459.62 1173.6L1445.37 1166.83L1445.37 1153z"/>
<path fill="#ffecee" stroke="#ffeef0" stroke-width="0.5" d="M1488.11 1146.23L1502.35 1153L1502.35 1166.83L1488.11 1173.6L1473.86 1166.83L1473.86 1153z"/>
<path fill="#fefcfd" stroke="#fefcfd" stroke-width="0.5" d="M1388.39 1166.83L1402.63 1173.6L1402.63 1187.44L1388.39 1194.21L1374.14 1187.44L1374.14 1173.6z"/>
<path fill="#fef4f6" stroke="#fef5f7" stroke-width="0.5" d="M1416.88 1166.83L1431.12 1173.6L1431.12 1187.44L1416.88 1194.21L1402.63 1187.44L1402.63 1173.6zM1445.37 1166.83L1459.61 1173.6L1459.61 1187.44L1445.37 1194.21L1431.12 1187.44L1431.12 1173.6zM1473.86 1166.83L1488.1 1173.6L1488.1 1187.44L1473.86 1194.21L1459.62 1187.44L1459.62 1173.6zM1502.35 1166.83L1516.59 1173.6L1516.59 1187.44L1502.35 1194.21L1488.11 1187.44L1488.11 1173.6z"/>
<path fill="#d9d9f6" stroke="#ddddf7" stroke-width="0.5" d="M1374.14 1187.44L1388.39 1194.21L1388.39 1208.04L1374.14 1214.81L1359.9 1208.04L1359.9 1194.21zM1388.39 1208.04L1402.63 1214.81L1402.63 1228.65L1388.39 1235.42L1374.14 1228.65L1374.14 1214.81zM1416.88 1208.04L1431.12 1214.81L1431.12 1228.65L1416.88 1235.42L1402.63 1228.65L1402.63 1214.81z"/>
<path fill="#e2e2f8" stroke="#e5e5f9" stroke-width="0.5" d="M1402.63 1187.44L1416.88 1194.21L1416.88 1208.04L1402.63 1214.81L1388.39 1208.04L1388.39 1194.21z"/>
<path fill="#ececfb" stroke="#eeeefb" stroke-width="0.5" d="M1431.12 1187.44L1445.37 1194.21L1445.37 1208.04L1431.12 1214.81L1416.88 1208.04L1416.88 1194.21zM1459.62 1187.44L1473.86 1194.21L1473.86 1208.04L1459.62 1214.81L1445.37 1208.04L1445.37 1194.21zM1488.11 1187.44L1502.35 1194.21L1502.35 1208.04L1488.11 1214.81L1473.86 1208.04L1473.86 1194.21z"/>
<path fill="#c6c6ef" stroke="#ccccf1" stroke-width="0.5" d="M1445.37 1208.04L1459.61 1214.81L1459.61 1228.65L1445.37 1235.42L1431.12 1228.65L1431.12 1214.81zM1473.86 1208.04L1488.1 1214.81L1488.1 1228.65L1473.86 1235.42L1459.62 1228.65L1459.62 1214.81z"/>
<path fill="#b3b3e8" stroke="#bbbbea" stroke-width="0.5" d="M1502.35 1208.04L1516.59 1214.81L1516.59 1228.65L1502.35 1235.42L1488.11 1228.65L1488.11 1214.81z"/>
<path fill="none" stroke="#111" stroke-width="1.6" stroke-linejoin="round" d="M1416.88 1029.37L1402.63 1022.6L1388.39 1029.37L1374.14 1022.6L1359.9 1029.37L1359.9 1043.2L1374.14 1049.97L1374.14 1063.81L1388.39 1070.58L1402.63 1063.81L1402.63 1049.97L1416.88 1043.2L1416.88 1029.37L1431.12 1022.6L1445.37 1029.37L1459.62 1022.6L1473.86 1029.37L1488.11 1022.6L1502.35 1029.37L1502.35 1043.2L1516.59 1049.97L1516.59 1063.81L1502.35 1070.58L1488.11 1063.81L1473.86 1070.58L1473.86 1084.41L1459.62 1091.18L1459.61 1105.02L1473.86 1111.79L1473.86 1125.62L1488.11 1132.39L1488.1 1146.23L1473.86 1153L1459.62 1146.23L1445.37 1153L1431.12 1146.23L1416.88 1153L1402.63 1146.23L1388.39 1153L1374.14 1146.23L1374.14 1132.39L1359.9 1125.62L1359.9 1111.79L1374.14 1105.02L1374.14 1091.18L1359.9 1084.41L1359.9 1070.58L1374.14 1063.81M1502.35 1070.58L1502.35 1084.41L1516.59 1091.18L1516.59 1105.02L1502.35 1111.79L1502.35 1125.62L1516.59 1132.39L1516.59 1146.23L1502.35 1153L1488.11 1146.23M1388.39 1153L1388.39 1166.83L1402.63 1173.6L1402.63 1187.44L1416.88 1194.21L1431.12 1187.44L1445.37 1194.21L1459.61 1187.44L1473.86 1194.21L1488.1 1187.44L1502.35 1194.21L1516.59 1187.44L1516.59 1173.6L1502.35 1166.83L1502.35 1153M1374.14 1146.23L1359.9 1153L1359.9 1166.83L1374.14 1173.6L1374.14 1187.44L1359.9 1194.21L1359.9 1208.04L1374.14 1214.81L1374.14 1228.65L1388.39 1235.42L1402.63 1228.65L1416.88 1235.42L1431.12 1228.65L1431.12 1214.81L1416.88 1208.04L1416.88 1194.21M1502.35 1194.21L1502.35 1208.04L1516.59 1214.81L1516.59 1228.65L1502.35 1235.42L1488.11 1228.65L1473.86 1235.42L1459.62 1228.65L1445.37 1235.42L1431.12 1228.65"/>
<path fill="#e1301f" stroke="#e44535" stroke-width="0.5" d="M1562.94 1022.6L1577.19 1029.37L1577.19 1043.2L1562.94 1049.97L1548.7 1043.2L1548.7 1029.37zM1591.43 1022.6L1605.68 1029.37L1605.68 1043.2L1591.43 1049.97L1577.19 1043.2L1577.19 1029.37zM1577.19 1043.2L1591.43 1049.97L1591.43 1063.81L1577.19 1070.58L1562.94 1063.81L1562.94 1049.97zM1562.94 1063.81L1577.19 1070.58L1577.19 1084.41L1562.94 1091.18L1548.7 1084.41L1548.7 1070.58zM1577.19 1084.41L1591.43 1091.18L1591.43 1105.02L1577.19 1111.79L1562.94 1105.02L1562.94 1091.18zM1562.94 1105.02L1577.19 1111.79L1577.19 1125.62L1562.94 1132.39L1548.7 1125.62L1548.7 1111.79zM1577.19 1125.62L1591.43 1132.39L1591.43 1146.23L1577.19 1153L1562.94 1146.23L1562.94 1132.39zM1562.94 1146.23L1577.19 1153L1577.19 1166.83L1562.94 1173.6L1548.7 1166.83L1548.7 1153z"/>
<path fill="#ffdfe1" stroke="#ffe2e4" stroke-width="0.5" d="M1619.92 1022.6L1634.17 1029.37L1634.17 1043.2L1619.92 1049.97L1605.68 1043.2L1605.68 1029.37zM1676.9 1105.02L1691.15 1111.79L1691.15 1125.62L1676.9 1132.39L1662.66 1125.62L1662.66 1111.79zM1691.15 1125.62L1705.39 1132.39L1705.39 1146.23L1691.15 1153L1676.9 1146.23L1676.9 1132.39zM1676.9 1146.23L1691.15 1153L1691.15 1166.83L1676.9 1173.6L1662.66 1166.83L1662.66 1153z"/>
<path fill="#656ac2" stroke="#7479c8" stroke-width="0.5" d="M1648.41 1022.6L1662.66 1029.37L1662.66 1043.2L1648.41 1049.97L1634.17 1043.2L1634.17 1029.37zM1691.15 1043.2L1705.39 1049.97L1705.39 1063.81L1691.15 1070.58L1676.9 1063.81L1676.9 1049.97z"/>
<path fill="#3e52ac" stroke="#5163b4" stroke-width="0.5" d="M1676.9 1022.6L1691.15 1029.37L1691.15 1043.2L1676.9 1049.97L1662.66 1043.2L1662.66 1029.37z"/>
<path fill="#f8747a" stroke="#f98287" stroke-width="0.5" d="M1605.68 1043.2L1619.92 1049.97L1619.92 1063.81L1605.68 1070.58L1591.43 1063.81L1591.43 1049.97zM1605.68 1084.41L1619.92 1091.18L1619.92 1105.02L1605.68 1111.79L1591.43 1105.02L1591.43 1091.18zM1605.68 1125.62L1619.92 1132.39L1619.92 1146.23L1605.68 1153L1591.43 1146.23L1591.43 1132.39z"/>
<path fill="#d9d9f6" stroke="#ddddf7" stroke-width="0.5" d="M1634.17 1043.2L1648.41 1049.97L1648.41 1063.81L1634.17 1070.58L1619.92 1063.81L1619.92 1049.97zM1676.9 1187.44L1691.15 1194.21L1691.15 1208.04L1676.9 1214.81L1662.66 1208.04L1662.66 1194.21zM1605.68 1208.04L1619.92 1214.81L1619.92 1228.65L1605.68 1235.42L1591.43 1228.65L1591.43 1214.81z"/>
<path fill="#7073c8" stroke="#7e81ce" stroke-width="0.5" d="M1662.66 1043.2L1676.9 1049.97L1676.9 1063.81L1662.66 1070.58L1648.41 1063.81L1648.41 1049.97z"/>
<path fill="#ef5251" stroke="#f16362" stroke-width="0.5" d="M1591.43 1063.81L1605.68 1070.58L1605.68 1084.41L1591.43 1091.18L1577.19 1084.41L1577.19 1070.58zM1591.43 1146.23L1605.68 1153L1605.68 1166.83L1591.43 1173.6L1577.19 1166.83L1577.19 1153z"/>
<path fill="#feb5ba" stroke="#febcc1" stroke-width="0.5" d="M1619.92 1063.81L1634.17 1070.58L1634.17 1084.41L1619.92 1091.18L1605.68 1084.41L1605.68 1070.58zM1634.17 1084.41L1648.41 1091.18L1648.41 1105.02L1634.17 1111.79L1619.92 1105.02L1619.92 1091.18z"/>
<path fill="#ececfb" stroke="#eeeefb" stroke-width="0.5" d="M1648.41 1063.81L1662.66 1070.58L1662.66 1084.41L1648.41 1091.18L1634.17 1084.41L1634.17 1070.58z"/>
<path fill="#c6c6ef" stroke="#ccccf1" stroke-width="0.5" d="M1676.9 1063.81L1691.15 1070.58L1691.15 1084.41L1676.9 1091.18L1662.66 1084.41L1662.66 1070.58zM1634.17 1208.04L1648.41 1214.81L1648.41 1228.65L1634.17 1235.42L1619.92 1228.65L1619.92 1214.81zM1691.15 1208.04L1705.39 1214.81L1705.39 1228.65L1691.15 1235.42L1676.9 1228.65L1676.9 1214.81z"/>
<path fill="#fef4f6" stroke="#fef5f7" stroke-width="0.5" d="M1662.66 1084.41L1676.9 1091.18L1676.9 1105.02L1662.66 1111.79L1648.41 1105.02L1648.41 1091.18zM1691.15 1166.83L1705.39 1173.6L1705.39 1187.44L1691.15 1194.21L1676.9 1187.44L1676.9 1173.6zM1619.92 1187.44L1634.17 1194.21L1634.17 1208.04L1619.92 1214.81L1605.68 1208.04L1605.68 1194.21z"/>
<path fill="#fefcfd" stroke="#fefcfd" stroke-width="0.5" d="M1691.15 1084.41L1705.39 1091.18L1705.39 1105.02L1691.15 1111.79L1676.9 1105.02L1676.9 1091.18zM1648.41 1187.44L1662.66 1194.21L1662.66 1208.04L1648.41 1214.81L1634.17 1208.04L1634.17 1194.21z"/>
<path fill="#e5382b" stroke="#e84c40" stroke-width="0.5" d="M1591.43 1105.02L1605.68 1111.79L1605.68 1125.62L1591.43 1132.39L1577.19 1125.62L1577.19 1111.79z"/>
<path fill="#fd9ba1" stroke="#fda5aa" stroke-width="0.5" d="M1619.92 1105.02L1634.17 1111.79L1634.17 1125.62L1619.92 1132.39L1605.68 1125.62L1605.68 1111.79zM1619.92 1146.23L1634.17 1153L1634.17 1166.83L1619.92 1173.6L1605.68 1166.83L1605.68 1153zM1605.68 1166.83L1619.92 1173.6L1619.92 1187.44L1605.68 1194.21L1591.43 1187.44L1591.43 1173.6zM1591.43 1187.44L1605.68 1194.21L1605.68 1208.04L1591.43 1214.81L1577.19 1208.04L1577.19 1194.21z"/>
<path fill="#fecdd0" stroke="#fed2d5" stroke-width="0.5" d="M1648.41 1105.02L1662.66 1111.79L1662.66 1125.62L1648.41 1132.39L1634.17 1125.62L1634.17 1111.79zM1662.66 1125.62L1676.9 1132.39L1676.9 1146.23L1662.66 1153L1648.41 1146.23L1648.41 1132.39zM1648.41 1146.23L1662.66 1153L1662.66 1166.83L1648.41 1173.6L1634.17 1166.83L1634.17 1153zM1577.19 1208.04L1591.43 1214.81L1591.43 1228.65L1577.19 1235.42L1562.94 1228.65L1562.94 1214.81z"/>
<path fill="#fea8ae" stroke="#feb1b6" stroke-width="0.5" d="M1634.17 1125.62L1648.41 1132.39L1648.41 1146.23L1634.17 1153L1619.92 1146.23L1619.92 1132.39z"/>
<path fill="#e84037" stroke="#ea534b" stroke-width="0.5" d="M1577.19 1166.83L1591.43 1173.6L1591.43 1187.44L1577.19 1194.21L1562.94 1187.44L1562.94 1173.6zM1562.94 1187.44L1577.19 1194.21L1577.19 1208.04L1562.94 1214.81L1548.7 1208.04L1548.7 1194.21z"/>
<path fill="#fed6d8" stroke="#fedadc" stroke-width="0.5" d="M1634.17 1166.83L1648.41 1173.6L1648.41 1187.44L1634.17 1194.21L1619.92 1187.44L1619.92 1173.6z"/>
<path fill="#ffe6e8" stroke="#ffe8ea" stroke-width="0.5" d="M1662.66 1166.83L1676.9 1173.6L1676.9 1187.44L1662.66 1194.21L1648.41 1187.44L1648.41 1173.6z"/>
<path fill="#d0d0f2" stroke="#d5d5f3" stroke-width="0.5" d="M1662.66 1208.04L1676.9 1214.81L1676.9 1228.65L1662.66 1235.42L1648.41 1228.65L1648.41 1214.81z"/>
<path fill="none" stroke="#111" stroke-width="1.6" stroke-linejoin="round" d="M1605.68 1029.37L1591.43 1022.6L1577.19 1029.37L1562.94 1022.6L1548.7 1029.37L1548.7 1043.2L1562.94 1049.97L1562.94 1063.81L1577.19 1070.58L1591.43 1063.81L1591.43 1049.97L1605.68 1043.2L1605.68 1029.37L1619.92 1022.6L1634.17 1029.37L1648.41 1022.6L1662.66 1029.37L1676.9 1022.6L1691.15 1029.37L1691.15 1043.2L1705.39 1049.97L1705.39 1063.81L1691.15 1070.58L1676.9 1063.81L1662.66 1070.58L1662.66 1084.41L1648.41 1091.18L1648.41 1105.02L1662.66 1111.79L1662.66 1125.62L1676.9 1132.39L1676.9 1146.23L1662.66 1153L1648.41 1146.23L1634.17 1153L1619.92 1146.23L1605.68 1153L1591.43 1146.23L1577.19 1153L1562.94 1146.23L1562.94 1132.39L1548.7 1125.62L1548.7 1111.79L1562.94 1105.02L1562.94 1091.18L1548.7 1084.41L1548.7 1070.58L1562.94 1063.81M1691.15 1070.58L1691.15 1084.41L1705.39 1091.18L1705.39 1105.02L1691.15 1111.79L1691.15 1125.62L1705.39 1132.39L1705.39 1146.23L1691.15 1153L1676.9 1146.23M1577.19 1153L1577.19 1166.83L1591.43 1173.6L1591.43 1187.44L1605.68 1194.21L1619.92 1187.44L1634.17 1194.21L1648.41 1187.44L1662.66 1194.21L1676.9 1187.44L1691.15 1194.21L1705.39 1187.44L1705.39 1173.6L1691.15 1166.83L1691.15 1153M1562.94 1146.23L1548.7 1153L1548.7 1166.83L1562.94 1173.6L1562.94 1187.44L1548.7 1194.21L1548.7 1208.04L1562.94 1214.81L1562.94 1228.65L1577.19 1235.42L1591.43 1228.65L1605.68 1235.42L1619.92 1228.65L1619.92 1214.81L1605.68 1208.04L1605.68 1194.21M1691.15 1194.21L1691.15 1208.04L1705.39 1214.81L1705.39 1228.65L1691.15 1235.42L1676.9 1228.65L1662.66 1235.42L1648.41 1228.65L1634.17 1235.42L1619.92 1228.65"/>
<path fill="#fb8289" stroke="#fb8e95" stroke-width="0.5" d="M1750.24 1022.6L1764.49 1029.37L1764.49 1043.2L1750.24 1049.97L1736 1043.2L1736 1029.37zM1764.49 1166.83L1778.73 1173.6L1778.73 1187.44L1764.49 1194.21L1750.24 1187.44L1750.24 1173.6z"/>
<path fill="#feb5ba" stroke="#febcc1" stroke-width="0.5" d="M1778.73 1022.6L1792.98 1029.37L1792.98 1043.2L1778.73 1049.97L1764.49 1043.2L1764.49 1029.37zM1764.49 1084.41L1778.73 1091.18L1778.73 1105.02L1764.49 1111.79L1750.24 1105.02L1750.24 1091.18zM1792.98 1084.41L1807.22 1091.18L1807.22 1105.02L1792.98 1111.79L1778.73 1105.02L1778.73 1091.18zM1807.22 1105.02L1821.47 1111.79L1821.47 1125.62L1807.22 1132.39L1792.98 1125.62L1792.98 1111.79zM1807.22 1146.23L1821.47 1153L1821.47 1166.83L1807.22 1173.6L1792.98 1166.83L1792.98 1153zM1778.73 1187.44L1792.98 1194.21L1792.98 1208.04L1778.73 1214.81L1764.49 1208.04L1764.49 1194.21z"/>
<path fill="#c6c6ef" stroke="#ccccf1" stroke-width="0.5" d="M1807.22 1022.6L1821.47 1029.37L1821.47 1043.2L1807.22 1049.97L1792.98 1043.2L1792.98 1029.37zM1878.45 1084.41L1892.69 1091.18L1892.69 1105.02L1878.45 1111.79L1864.2 1105.02L1864.2 1091.18zM1792.98 1208.04L1807.22 1214.81L1807.22 1228.65L1792.98 1235.42L1778.73 1228.65L1778.73 1214.81z"/>
<path fill="#3e52ac" stroke="#5163b4" stroke-width="0.5" d="M1835.71 1022.6L1849.96 1029.37L1849.96 1043.2L1835.71 1049.97L1821.47 1043.2L1821.47 1029.37z"/>
<path fill="#3550a8" stroke="#4962b1" stroke-width="0.5" d="M1864.2 1022.6L1878.45 1029.37L1878.45 1043.2L1864.2 1049.97L1849.96 1043.2L1849.96 1029.37z"/>
<path fill="#fea8ae" stroke="#feb1b6" stroke-width="0.5" d="M1764.49 1043.2L1778.73 1049.97L1778.73 1063.81L1764.49 1070.58L1750.24 1063.81L1750.24 1049.97zM1750.24 1063.81L1764.49 1070.58L1764.49 1084.41L1750.24 1091.18L1736 1084.41L1736 1070.58zM1778.73 1105.02L1792.98 1111.79L1792.98 1125.62L1778.73 1132.39L1764.49 1125.62L1764.49 1111.79zM1764.49 1125.62L1778.73 1132.39L1778.73 1146.23L1764.49 1153L1750.24 1146.23L1750.24 1132.39zM1792.98 1125.62L1807.22 1132.39L1807.22 1146.23L1792.98 1153L1778.73 1146.23L1778.73 1132.39zM1778.73 1146.23L1792.98 1153L1792.98 1166.83L1778.73 1173.6L1764.49 1166.83L1764.49 1153zM1792.98 1166.83L1807.22 1173.6L1807.22 1187.44L1792.98 1194.21L1778.73 1187.44L1778.73 1173.6z"/>
<path fill="#ffe6e8" stroke="#ffe8ea" stroke-width="0.5" d="M1792.98 1043.2L1807.22 1049.97L1807.22 1063.81L1792.98 1070.58L1778.73 1063.81L1778.73 1049.97zM1807.22 1063.81L1821.47 1070.58L1821.47 1084.41L1807.22 1091.18L1792.98 1084.41L1792.98 1070.58zM1807.22 1187.44L1821.47 1194.21L1821.47 1208.04L1807.22 1214.81L1792.98 1208.04L1792.98 1194.21zM1849.96 1208.04L1864.2 1214.81L1864.2 1228.65L1849.96 1235.42L1835.71 1228.65L1835.71 1214.81z"/>
<path fill="#a8a8e4" stroke="#b1b1e7" stroke-width="0.5" d="M1821.47 1043.2L1835.71 1049.97L1835.71 1063.81L1821.47 1070.58L1807.22 1063.81L1807.22 1049.97z"/>
<path fill="#4655b1" stroke="#5866b9" stroke-width="0.5" d="M1849.96 1043.2L1864.2 1049.97L1864.2 1063.81L1849.96 1070.58L1835.71 1063.81L1835.71 1049.97z"/>
<path fill="#505ab6" stroke="#626abd" stroke-width="0.5" d="M1878.45 1043.2L1892.69 1049.97L1892.69 1063.81L1878.45 1070.58L1864.2 1063.81L1864.2 1049.97z"/>
<path fill="#fec1c5" stroke="#fec7cb" stroke-width="0.5" d="M1778.73 1063.81L1792.98 1070.58L1792.98 1084.41L1778.73 1091.18L1764.49 1084.41L1764.49 1070.58zM1750.24 1105.02L1764.49 1111.79L1764.49 1125.62L1750.24 1132.39L1736 1125.62L1736 1111.79zM1821.47 1125.62L1835.71 1132.39L1835.71 1146.23L1821.47 1153L1807.22 1146.23L1807.22 1132.39z"/>
<path fill="#d0d0f2" stroke="#d5d5f3" stroke-width="0.5" d="M1835.71 1063.81L1849.96 1070.58L1849.96 1084.41L1835.71 1091.18L1821.47 1084.41L1821.47 1070.58z"/>
<path fill="#9e9ee0" stroke="#a8a8e3" stroke-width="0.5" d="M1864.2 1063.81L1878.45 1070.58L1878.45 1084.41L1864.2 1091.18L1849.96 1084.41L1849.96 1070.58z"/>
<path fill="#ffdfe1" stroke="#ffe2e4" stroke-width="0.5" d="M1821.47 1084.41L1835.71 1091.18L1835.71 1105.02L1821.47 1111.79L1807.22 1105.02L1807.22 1091.18zM1835.71 1105.02L1849.96 1111.79L1849.96 1125.62L1835.71 1132.39L1821.47 1125.62L1821.47 1111.79zM1849.96 1125.62L1864.2 1132.39L1864.2 1146.23L1849.96 1153L1835.71 1146.23L1835.71 1132.39zM1849.96 1166.83L1864.2 1173.6L1864.2 1187.44L1849.96 1194.21L1835.71 1187.44L1835.71 1173.6zM1835.71 1187.44L1849.96 1194.21L1849.96 1208.04L1835.71 1214.81L1821.47 1208.04L1821.47 1194.21zM1864.2 1187.44L1878.45 1194.21L1878.45 1208.04L1864.2 1214.81L1849.96 1208.04L1849.96 1194.21z"/>
<path fill="#ececfb" stroke="#eeeefb" stroke-width="0.5" d="M1849.96 1084.41L1864.2 1091.18L1864.2 1105.02L1849.96 1111.79L1835.71 1105.02L1835.71 1091.18zM1764.49 1208.04L1778.73 1214.81L1778.73 1228.65L1764.49 1235.42L1750.24 1228.65L1750.24 1214.81zM1821.47 1208.04L1835.71 1214.81L1835.71 1228.65L1821.47 1235.42L1807.22 1228.65L1807.22 1214.81z"/>
<path fill="#fefcfd" stroke="#fefcfd" stroke-width="0.5" d="M1864.2 1105.02L1878.45 1111.79L1878.45 1125.62L1864.2 1132.39L1849.96 1125.62L1849.96 1111.79z"/>
<path fill="#fef4f6" stroke="#fef5f7" stroke-width="0.5" d="M1878.45 1125.62L1892.69 1132.39L1892.69 1146.23L1878.45 1153L1864.2 1146.23L1864.2 1132.39z"/>
<path fill="#fc8e95" stroke="#fc99a0" stroke-width="0.5" d="M1750.24 1146.23L1764.49 1153L1764.49 1166.83L1750.24 1173.6L1736 1166.83L1736 1153z"/>
<path fill="#fed6d8" stroke="#fedadc" stroke-width="0.5" d="M1835.71 1146.23L1849.96 1153L1849.96 1166.83L1835.71 1173.6L1821.47 1166.83L1821.47 1153z"/>
<path fill="#ffecee" stroke="#ffeef0" stroke-width="0.5" d="M1864.2 1146.23L1878.45 1153L1878.45 1166.83L1864.2 1173.6L1849.96 1166.83L1849.96 1153zM1878.45 1166.83L1892.69 1173.6L1892.69 1187.44L1878.45 1194.21L1864.2 1187.44L1864.2 1173.6z"/>
<path fill="#fecdd0" stroke="#fed2d5" stroke-width="0.5" d="M1821.47 1166.83L1835.71 1173.6L1835.71 1187.44L1821.47 1194.21L1807.22 1187.44L1807.22 1173.6zM1878.45 1208.04L1892.69 1214.81L1892.69 1228.65L1878.45 1235.42L1864.2 1228.65L1864.2 1214.81z"/>
<path fill="#f8747a" stroke="#f98287" stroke-width="0.5" d="M1750.24 1187.44L1764.49 1194.21L1764.49 1208.04L1750.24 1214.81L1736 1208.04L1736 1194.21z"/>
<path fill="none" stroke="#111" stroke-width="1.6" stroke-linejoin="round" d="M1792.98 1029.37L1778.73 1022.6L1764.49 1029.37L1750.24 1022.6L1736 1029.37L1736 1043.2L1750.24 1049.97L1750.24 1063.81L1764.49 1070.58L1778.73 1063.81L1778.73 1049.97L1792.98 1043.2L1792.98 1029.37L1807.22 1022.6L1821.47 1029.37L1835.71 1022.6L1849.96 1029.37L1864.2 1022.6L1878.45 1029.37L1878.45 1043.2L1892.69 1049.97L1892.69 1063.81L1878.45 1070.58L1864.2 1063.81L1849.96 1070.58L1849.96 1084.41L1835.71 1091.18L1835.71 1105.02L1849.96 1111.79L1849.96 1125.62L1864.2 1132.39L1864.2 1146.23L1849.96 1153L1835.71 1146.23L1821.47 1153L1807.22 1146.23L1792.98 1153L1778.73 1146.23L1764.49 1153L1750.24 1146.23L1750.24 1132.39L1736 1125.62L1736 1111.79L1750.24 1105.02L1750.24 1091.18L1736 1084.41L1736 1070.58L1750.24 1063.81M1878.45 1070.58L1878.45 1084.41L1892.69 1091.18L1892.69 1105.02L1878.45 1111.79L1878.45 1125.62L1892.69 1132.39L1892.69 1146.23L1878.45 1153L1864.2 1146.23M1764.49 1153L1764.49 1166.83L1778.73 1173.6L1778.73 1187.44L1792.98 1194.21L1807.22 1187.44L1821.47 1194.21L1835.71 1187.44L1849.96 1194.21L1864.2 1187.44L1878.45 1194.21L1892.69 1187.44L1892.69 1173.6L1878.45 1166.83L1878.45 1153M1750.24 1146.23L1736 1153L1736 1166.83L1750.24 1173.6L1750.24 1187.44L1736 1194.21L1736 1208.04L1750.24 1214.81L1750.24 1228.65L1764.49 1235.42L1778.73 1228.65L1792.98 1235.42L1807.22 1228.65L1807.22 1214.81L1792.98 1208.04L1792.98 1194.21M1878.45 1194.21L1878.45 1208.04L1892.69 1214.81L1892.69 1228.65L1878.45 1235.42L1864.2 1228.65L1849.96 1235.42L1835.71 1228.65L1821.47 1235.42L1807.22 1228.65"/>
<path fill="#b3b3e8" stroke="#bbbbea" stroke-width="0.5" d="M812.25 1279.8L826.49 1286.57L826.49 1300.4L812.25 1307.17L798 1300.4L798 1286.57zM854.98 1341.61L869.23 1348.38L869.23 1362.22L854.98 1368.99L840.74 1362.22L840.74 1348.38z"/>
<path fill="#5a60bc" stroke="#6a70c3" stroke-width="0.5" d="M840.74 1279.8L854.98 1286.57L854.98 1300.4L840.74 1307.17L826.49 1300.4L826.49 1286.57zM897.72 1321.01L911.96 1327.78L911.96 1341.61L897.72 1348.38L883.47 1341.61L883.47 1327.78zM926.21 1321.01L940.45 1327.78L940.45 1341.61L926.21 1348.38L911.96 1341.61L911.96 1327.78z"/>
<path fill="#3550a8" stroke="#4962b1" stroke-width="0.5" d="M869.23 1279.8L883.47 1286.57L883.47 1300.4L869.23 1307.17L854.98 1300.4L854.98 1286.57z"/>
<path fill="#505ab6" stroke="#626abd" stroke-width="0.5" d="M897.72 1279.8L911.96 1286.57L911.96 1300.4L897.72 1307.17L883.47 1300.4L883.47 1286.57zM854.98 1300.4L869.23 1307.17L869.23 1321.01L854.98 1327.78L840.74 1321.01L840.74 1307.17zM883.47 1300.4L897.72 1307.17L897.72 1321.01L883.47 1327.78L869.23 1321.01L869.23 1307.17zM911.96 1300.4L926.21 1307.17L926.21 1321.01L911.96 1327.78L897.72 1321.01L897.72 1307.17z"/>
<path fill="#656ac2" stroke="#7479c8" stroke-width="0.5" d="M926.21 1279.8L940.45 1286.57L940.45 1300.4L926.21 1307.17L911.96 1300.4L911.96 1286.57zM940.45 1300.4L954.7 1307.17L954.7 1321.01L940.45 1327.78L926.21 1321.01L926.21 1307.17zM911.96 1341.61L926.21 1348.38L926.21 1362.22L911.96 1368.99L897.72 1362.22L897.72 1348.38z"/>
<path fill="#9e9ee0" stroke="#a8a8e3" stroke-width="0.5" d="M826.49 1300.4L840.74 1307.17L840.74 1321.01L826.49 1327.78L812.25 1321.01L812.25 1307.17zM840.74 1321.01L854.98 1327.78L854.98 1341.61L840.74 1348.38L826.49 1341.61L826.49 1327.78zM897.72 1362.22L911.96 1368.99L911.96 1382.82L897.72 1389.59L883.47 1382.82L883.47 1368.99zM926.21 1362.22L940.45 1368.99L940.45 1382.82L926.21 1389.59L911.96 1382.82L911.96 1368.99z"/>
<path fill="#c6c6ef" stroke="#ccccf1" stroke-width="0.5" d="M812.25 1321.01L826.49 1327.78L826.49 1341.61L812.25 1348.38L798 1341.61L798 1327.78zM840.74 1362.22L854.98 1368.99L854.98 1382.82L840.74 1389.59L826.49 1382.82L826.49 1368.99zM854.98 1382.82L869.23 1389.59L869.23 1403.43L854.98 1410.2L840.74 1403.43L840.74 1389.59zM883.47 1382.82L897.72 1389.59L897.72 1403.43L883.47 1410.2L869.23 1403.43L869.23 1389.59zM911.96 1382.82L926.21 1389.59L926.21 1403.43L911.96 1410.2L897.72 1403.43L897.72 1389.59z"/>
<path fill="#7b7ccd" stroke="#8889d2" stroke-width="0.5" d="M869.23 1321.01L883.47 1327.78L883.47 1341.61L869.23 1348.38L854.98 1341.61L854.98 1327.78z"/>
<path fill="#d0d0f2" stroke="#d5d5f3" stroke-width="0.5" d="M826.49 1341.61L840.74 1348.38L840.74 1362.22L826.49 1368.99L812.25 1362.22L812.25 1348.38zM812.25 1362.22L826.49 1368.99L826.49 1382.82L812.25 1389.59L798 1382.82L798 1368.99zM940.45 1382.82L954.7 1389.59L954.7 1403.43L940.45 1410.2L926.21 1403.43L926.21 1389.59z"/>
<path fill="#9292d9" stroke="#9d9ddd" stroke-width="0.5" d="M883.47 1341.61L897.72 1348.38L897.72 1362.22L883.47 1368.99L869.23 1362.22L869.23 1348.38z"/>
<path fill="#7073c8" stroke="#7e81ce" stroke-width="0.5" d="M940.45 1341.61L954.7 1348.38L954.7 1362.22L940.45 1368.99L926.21 1362.22L926.21 1348.38z"/>
<path fill="#a8a8e4" stroke="#b1b1e7" stroke-width="0.5" d="M869.23 1362.22L883.47 1368.99L883.47 1382.82L869.23 1389.59L854.98 1382.82L854.98 1368.99z"/>
<path fill="#d9d9f6" stroke="#ddddf7" stroke-width="0.5" d="M826.49 1382.82L840.74 1389.59L840.74 1403.43L826.49 1410.2L812.25 1403.43L812.25 1389.59z"/>
<path fill="#fea8ae" stroke="#feb1b6" stroke-width="0.5" d="M812.25 1403.43L826.49 1410.2L826.49 1424.03L812.25 1430.8L798 1424.03L798 1410.2z"/>
<path fill="#ffdfe1" stroke="#ffe2e4" stroke-width="0.5" d="M840.74 1403.43L854.98 1410.2L854.98 1424.03L840.74 1430.8L826.49 1424.03L826.49 1410.2zM883.47 1424.03L897.72 1430.8L897.72 1444.64L883.47 1451.41L869.23 1444.64L869.23 1430.8z"/>
<path fill="#ececfb" stroke="#eeeefb" stroke-width="0.5" d="M869.23 1403.43L883.47 1410.2L883.47 1424.03L869.23 1430.8L854.98 1424.03L854.98 1410.2zM897.72 1403.43L911.96 1410.2L911.96 1424.03L897.72 1430.8L883.47 1424.03L883.47 1410.2zM926.21 1403.43L940.45 1410.2L940.45 1424.03L926.21 1430.8L911.96 1424.03L911.96 1410.2z"/>
<path fill="#ec4843" stroke="#ee5a56" stroke-width="0.5" d="M826.49 1424.03L840.74 1430.8L840.74 1444.64L826.49 1451.41L812.25 1444.64L812.25 1430.8z"/>
<path fill="#feb5ba" stroke="#febcc1" stroke-width="0.5" d="M854.98 1424.03L869.23 1430.8L869.23 1444.64L854.98 1451.41L840.74 1444.64L840.74 1430.8zM897.72 1444.64L911.96 1451.41L911.96 1465.24L897.72 1472.01L883.47 1465.24L883.47 1451.41z"/>
<path fill="#ffecee" stroke="#ffeef0" stroke-width="0.5" d="M911.96 1424.03L926.21 1430.8L926.21 1444.64L911.96 1451.41L897.72 1444.64L897.72 1430.8z"/>
<path fill="#fef4f6" stroke="#fef5f7" stroke-width="0.5" d="M940.45 1424.03L954.7 1430.8L954.7 1444.64L940.45 1451.41L926.21 1444.64L926.21 1430.8z"/>
<path fill="#e1301f" stroke="#e44535" stroke-width="0.5" d="M812.25 1444.64L826.49 1451.41L826.49 1465.24L812.25 1472.01L798 1465.24L798 1451.41zM840.74 1444.64L854.98 1451.41L854.98 1465.24L840.74 1472.01L826.49 1465.24L826.49 1451.41zM826.49 1465.24L840.74 1472.01L840.74 1485.85L826.49 1492.62L812.25 1485.85L812.25 1472.01zM854.98 1465.24L869.23 1472.01L869.23 1485.85L854.98 1492.62L840.74 1485.85L840.74 1472.01z"/>
<path fill="#f35c5e" stroke="#f46c6e" stroke-width="0.5" d="M869.23 1444.64L883.47 1451.41L883.47 1465.24L869.23 1472.01L854.98 1465.24L854.98 1451.41z"/>
<path fill="#fed6d8" stroke="#fedadc" stroke-width="0.5" d="M926.21 1444.64L940.45 1451.41L940.45 1465.24L926.21 1472.01L911.96 1465.24L911.96 1451.41zM940.45 1465.24L954.7 1472.01L954.7 1485.85L940.45 1492.62L926.21 1485.85L926.21 1472.01z"/>
<path fill="#e5382b" stroke="#e84c40" stroke-width="0.5" d="M883.47 1465.24L897.72 1472.01L897.72 1485.85L883.47 1492.62L869.23 1485.85L869.23 1472.01z"/>
<path fill="#fd9ba1" stroke="#fda5aa" stroke-width="0.5" d="M911.96 1465.24L926.21 1472.01L926.21 1485.85L911.96 1492.62L897.72 1485.85L897.72 1472.01z"/>
<path fill="none" stroke="#111" stroke-width="1.6" stroke-linejoin="round" d="M854.98 1286.57L840.74 1279.8L826.49 1286.57L812.25 1279.8L798 1286.57L798 1300.4L812.25 1307.17L812.25 1321.01L826.49 1327.78L840.74 1321.01L840.74 1307.17L854.98 1300.4L854.98 1286.57L869.23 1279.8L883.47 1286.57L897.72 1279.8L911.96 1286.57L926.21 1279.8L940.45 1286.57L940.45 1300.4L954.7 1307.17L954.7 1321.01L940.45 1327.78L926.21 1321.01L911.96 1327.78L911.96 1341.61L897.72 1348.38L897.72 1362.22L911.96 1368.99L911.96 1382.82L926.21 1389.59L926.21 1403.43L911.96 1410.2L897.72 1403.43L883.47 1410.2L869.23 1403.43L854.98 1410.2L840.74 1403.43L826.49 1410.2L812.25 1403.43L812.25 1389.59L798 1382.82L798 1368.99L812.25 1362.22L812.25 1348.38L798 1341.61L798 1327.78L812.25 1321.01M940.45 1327.78L940.45 1341.61L954.7 1348.38L954.7 1362.22L940.45 1368.99L940.45 1382.82L954.7 1389.59L954.7 1403.43L940.45 1410.2L926.21 1403.43M826.49 1410.2L826.49 1424.03L840.74 1430.8L840.74 1444.64L854.98 1451.41L869.23 1444.64L883.47 1451.41L897.72 1444.64L911.96 1451.41L926.21 1444.64L940.45 1451.41L954.7 1444.64L954.7 1430.8L940.45 1424.03L940.45 1410.2M812.25 1403.43L798 1410.2L798 1424.03L812.25 1430.8L812.25 1444.64L798 1451.41L798 1465.24L812.25 1472.01L812.25 1485.85L826.49 1492.62L840.74 1485.85L854.98 1492.62L869.23 1485.85L869.23 1472.01L854.98 1465.24L854.98 1451.41M940.45 1451.41L940.45 1465.24L954.7 1472.01L954.7 1485.85L940.45 1492.62L926.21 1485.85L911.96 1492.62L897.72 1485.85L883.47 1492.62L869.23 1485.85"/>
<path fill="#c6c6ef" stroke="#ccccf1" stroke-width="0.5" d="M999.85 1279.8L1014.09 1286.57L1014.09 1300.4L999.85 1307.17L985.6 1300.4L985.6 1286.57zM1128.05 1341.61L1142.29 1348.38L1142.29 1362.22L1128.05 1368.99L1113.81 1362.22L1113.81 1348.38z"/>
<path fill="#3e52ac" stroke="#5163b4" stroke-width="0.5" d="M1028.34 1279.8L1042.58 1286.57L1042.58 1300.4L1028.34 1307.17L1014.09 1300.4L1014.09 1286.57z"/>
<path fill="#3550a8" stroke="#4962b1" stroke-width="0.5" d="M1056.83 1279.8L1071.07 1286.57L1071.07 1300.4L1056.83 1307.17L1042.58 1300.4L1042.58 1286.57z"/>
<path fill="#9e9ee0" stroke="#a8a8e3" stroke-width="0.5" d="M1085.32 1279.8L1099.56 1286.57L1099.56 1300.4L1085.32 1307.17L1071.07 1300.4L1071.07 1286.57zM1056.83 1321.01L1071.07 1327.78L1071.07 1341.61L1056.83 1348.38L1042.58 1341.61L1042.58 1327.78z"/>
<path fill="#ececfb" stroke="#eeeefb" stroke-width="0.5" d="M1113.81 1279.8L1128.05 1286.57L1128.05 1300.4L1113.81 1307.17L1099.56 1300.4L1099.56 1286.57zM1085.32 1403.43L1099.56 1410.2L1099.56 1424.03L1085.32 1430.8L1071.07 1424.03L1071.07 1410.2zM1113.81 1403.43L1128.05 1410.2L1128.05 1424.03L1113.81 1430.8L1099.56 1424.03L1099.56 1410.2z"/>
<path fill="#7073c8" stroke="#7e81ce" stroke-width="0.5" d="M1014.09 1300.4L1028.34 1307.17L1028.34 1321.01L1014.09 1327.78L999.85 1321.01L999.85 1307.17z"/>
<path fill="#4655b1" stroke="#5866b9" stroke-width="0.5" d="M1042.58 1300.4L1056.82 1307.17L1056.82 1321.01L1042.58 1327.78L1028.34 1321.01L1028.34 1307.17z"/>
<path fill="#7b7ccd" stroke="#8889d2" stroke-width="0.5" d="M1071.07 1300.4L1085.31 1307.17L1085.31 1321.01L1071.07 1327.78L1056.83 1321.01L1056.83 1307.17z"/>
<path fill="#d9d9f6" stroke="#ddddf7" stroke-width="0.5" d="M1099.56 1300.4L1113.8 1307.17L1113.8 1321.01L1099.56 1327.78L1085.32 1321.01L1085.32 1307.17zM1113.81 1321.01L1128.05 1327.78L1128.05 1341.61L1113.81 1348.38L1099.56 1341.61L1099.56 1327.78zM1099.56 1382.82L1113.8 1389.59L1113.8 1403.43L1099.56 1410.2L1085.32 1403.43L1085.32 1389.59zM1128.05 1382.82L1142.29 1389.59L1142.29 1403.43L1128.05 1410.2L1113.81 1403.43L1113.81 1389.59z"/>
<path fill="#f5f4fc" stroke="#f6f5fc" stroke-width="0.5" d="M1128.05 1300.4L1142.29 1307.17L1142.29 1321.01L1128.05 1327.78L1113.81 1321.01L1113.81 1307.17zM1056.83 1403.43L1071.07 1410.2L1071.07 1424.03L1056.83 1430.8L1042.58 1424.03L1042.58 1410.2zM1128.05 1424.03L1142.29 1430.8L1142.29 1444.64L1128.05 1451.41L1113.81 1444.64L1113.81 1430.8z"/>
<path fill="#b3b3e8" stroke="#bbbbea" stroke-width="0.5" d="M999.85 1321.01L1014.09 1327.78L1014.09 1341.61L999.85 1348.38L985.6 1341.61L985.6 1327.78zM1014.09 1341.61L1028.34 1348.38L1028.34 1362.22L1014.09 1368.99L999.85 1362.22L999.85 1348.38zM1042.58 1341.61L1056.82 1348.38L1056.82 1362.22L1042.58 1368.99L1028.34 1362.22L1028.34 1348.38zM999.85 1362.22L1014.09 1368.99L1014.09 1382.82L999.85 1389.59L985.6 1382.82L985.6 1368.99z"/>
<path fill="#8686d2" stroke="#9292d6" stroke-width="0.5" d="M1028.34 1321.01L1042.58 1327.78L1042.58 1341.61L1028.34 1348.38L1014.09 1341.61L1014.09 1327.78z"/>
<path fill="#bcbcec" stroke="#c3c3ee" stroke-width="0.5" d="M1085.32 1321.01L1099.56 1327.78L1099.56 1341.61L1085.32 1348.38L1071.07 1341.61L1071.07 1327.78zM1071.07 1341.61L1085.31 1348.38L1085.31 1362.22L1071.07 1368.99L1056.83 1362.22L1056.83 1348.38zM1099.56 1341.61L1113.8 1348.38L1113.8 1362.22L1099.56 1368.99L1085.32 1362.22L1085.32 1348.38zM1028.34 1362.22L1042.58 1368.99L1042.58 1382.82L1028.34 1389.59L1014.09 1382.82L1014.09 1368.99zM1056.83 1362.22L1071.07 1368.99L1071.07 1382.82L1056.83 1389.59L1042.58 1382.82L1042.58 1368.99zM1085.32 1362.22L1099.56 1368.99L1099.56 1382.82L1085.32 1389.59L1071.07 1382.82L1071.07 1368.99z"/>
<path fill="#d0d0f2" stroke="#d5d5f3" stroke-width="0.5" d="M1113.81 1362.22L1128.05 1368.99L1128.05 1382.82L1113.81 1389.59L1099.56 1382.82L1099.56 1368.99zM1014.09 1382.82L1028.34 1389.59L1028.34 1403.43L1014.09 1410.2L999.85 1403.43L999.85 1389.59zM1042.58 1382.82L1056.82 1389.59L1056.82 1403.43L1042.58 1410.2L1028.34 1403.43L1028.34 1389.59zM1071.07 1382.82L1085.31 1389.59L1085.31 1403.43L1071.07 1410.2L1056.83 1403.43L1056.83 1389.59z"/>
<path fill="#feb5ba" stroke="#febcc1" stroke-width="0.5" d="M999.85 1403.43L1014.09 1410.2L1014.09 1424.03L999.85 1430.8L985.6 1424.03L985.6 1410.2zM1085.32 1444.64L1099.56 1451.41L1099.56 1465.24L1085.32 1472.01L1071.07 1465.24L1071.07 1451.41z"/>
<path fill="#ffdfe1" stroke="#ffe2e4" stroke-width="0.5" d="M1028.34 1403.43L1042.58 1410.2L1042.58 1424.03L1028.34 1430.8L1014.09 1424.03L1014.09 1410.2zM1071.07 1424.03L1085.31 1430.8L1085.31 1444.64L1071.07 1451.41L1056.83 1444.64L1056.83 1430.8z"/>
<path fill="#ec4843" stroke="#ee5a56" stroke-width="0.5" d="M1014.09 1424.03L1028.34 1430.8L1028.34 1444.64L1014.09 1451.41L999.85 1444.64L999.85 1430.8z"/>
<path fill="#fea8ae" stroke="#feb1b6" stroke-width="0.5" d="M1042.58 1424.03L1056.82 1430.8L1056.82 1444.64L1042.58 1451.41L1028.34 1444.64L1028.34 1430.8zM1099.56 1465.24L1113.8 1472.01L1113.8 1485.85L1099.56 1492.62L1085.32 1485.85L1085.32 1472.01z"/>
<path fill="#fef4f6" stroke="#fef5f7" stroke-width="0.5" d="M1099.56 1424.03L1113.8 1430.8L1113.8 1444.64L1099.56 1451.41L1085.32 1444.64L1085.32 1430.8z"/>
<path fill="#e1301f" stroke="#e44535" stroke-width="0.5" d="M999.85 1444.64L1014.09 1451.41L1014.09 1465.24L999.85 1472.01L985.6 1465.24L985.6 1451.41zM1028.34 1444.64L1042.58 1451.41L1042.58 1465.24L1028.34 1472.01L1014.09 1465.24L1014.09 1451.41zM1014.09 1465.24L1028.34 1472.01L1028.34 1485.85L1014.09 1492.62L999.85 1485.85L999.85 1472.01zM1042.58 1465.24L1056.82 1472.01L1056.82 1485.85L1042.58 1492.62L1028.34 1485.85L1028.34 1472.01z"/>
<path fill="#f35c5e" stroke="#f46c6e" stroke-width="0.5" d="M1056.83 1444.64L1071.07 1451.41L1071.07 1465.24L1056.83 1472.01L1042.58 1465.24L1042.58 1451.41z"/>
<path fill="#ffecee" stroke="#ffeef0" stroke-width="0.5" d="M1113.81 1444.64L1128.05 1451.41L1128.05 1465.24L1113.81 1472.01L1099.56 1465.24L1099.56 1451.41z"/>
<path fill="#e5382b" stroke="#e84c40" stroke-width="0.5" d="M1071.07 1465.24L1085.31 1472.01L1085.31 1485.85L1071.07 1492.62L1056.83 1485.85L1056.83 1472.01z"/>
<path fill="#ffe6e8" stroke="#ffe8ea" stroke-width="0.5" d="M1128.05 1465.24L1142.29 1472.01L1142.29 1485.85L1128.05 1492.62L1113.81 1485.85L1113.81 1472.01z"/>
<path fill="none" stroke="#111" stroke-width="1.6" stroke-linejoin="round" d="M1042.58 1286.57L1028.34 1279.8L1014.09 1286.57L999.85 1279.8L985.6 1286.57L985.6 1300.4L999.85 1307.17L999.85 1321.01L1014.09 1327.78L1028.34 1321.01L1028.34 1307.17L1042.58 1300.4L1042.58 1286.57L1056.83 1279.8L1071.07 1286.57L1085.32 1279.8L1099.56 1286.57L1113.81 1279.8L1128.05 1286.57L1128.05 1300.4L1142.29 1307.17L1142.29 1321.01L1128.05 1327.78L1113.81 1321.01L1099.56 1327.78L1099.56 1341.61L1085.32 1348.38L1085.31 1362.22L1099.56 1368.99L1099.56 1382.82L1113.81 1389.59L1113.8 1403.43L1099.56 1410.2L1085.32 1403.43L1071.07 1410.2L1056.83 1403.43L1042.58 1410.2L1028.34 1403.43L1014.09 1410.2L999.85 1403.43L999.85 1389.59L985.6 1382.82L985.6 1368.99L999.85 1362.22L999.85 1348.38L985.6 1341.61L985.6 1327.78L999.85 1321.01M1128.05 1327.78L1128.05 1341.61L1142.29 1348.38L1142.29 1362.22L1128.05 1368.99L1128.05 1382.82L1142.29 1389.59L1142.29 1403.43L1128.05 1410.2L1113.81 1403.43M1014.09 1410.2L1014.09 1424.03L1028.34 1430.8L1028.34 1444.64L1042.58 1451.41L1056.82 1444.64L1071.07 1451.41L1085.31 1444.64L1099.56 1451.41L1113.8 1444.64L1128.05 1451.41L1142.29 1444.64L1142.29 1430.8L1128.05 1424.03L1128.05 1410.2M999.85 1403.43L985.6 1410.2L985.6 1424.03L999.85 1430.8L999.85 1444.64L985.6 1451.41L985.6 1465.24L999.85 1472.01L999.85 1485.85L1014.09 1492.62L1028.34 1485.85L1042.58 1492.62L1056.82 1485.85L1056.82 1472.01L1042.58 1465.24L1042.58 1451.41M1128.05 1451.41L1128.05 1465.24L1142.29 1472.01L1142.29 1485.85L1128.05 1492.62L1113.81 1485.85L1099.56 1492.62L1085.32 1485.85L1071.07 1492.62L1056.83 1485.85"/>
<path fill="#e1301f" stroke="#e44535" stroke-width="0.5" d="M1187.04 1279.8L1201.29 1286.57L1201.29 1300.4L1187.04 1307.17L1172.8 1300.4L1172.8 1286.57z"/>
<path fill="#e5382b" stroke="#e84c40" stroke-width="0.5" d="M1215.53 1279.8L1229.78 1286.57L1229.78 1300.4L1215.53 1307.17L1201.29 1300.4L1201.29 1286.57z"/>
<path fill="#fd9ba1" stroke="#fda5aa" stroke-width="0.5" d="M1244.02 1279.8L1258.27 1286.57L1258.27 1300.4L1244.02 1307.17L1229.78 1300.4L1229.78 1286.57zM1201.29 1424.03L1215.53 1430.8L1215.53 1444.64L1201.29 1451.41L1187.04 1444.64L1187.04 1430.8z"/>
<path fill="#feb5ba" stroke="#febcc1" stroke-width="0.5" d="M1272.51 1279.8L1286.76 1286.57L1286.76 1300.4L1272.51 1307.17L1258.27 1300.4L1258.27 1286.57zM1286.76 1300.4L1301 1307.17L1301 1321.01L1286.76 1327.78L1272.51 1321.01L1272.51 1307.17zM1315.25 1300.4L1329.49 1307.17L1329.49 1321.01L1315.25 1327.78L1301 1321.01L1301 1307.17zM1187.04 1403.43L1201.29 1410.2L1201.29 1424.03L1187.04 1430.8L1172.8 1424.03L1172.8 1410.2z"/>
<path fill="#fec1c5" stroke="#fec7cb" stroke-width="0.5" d="M1301 1279.8L1315.25 1286.57L1315.25 1300.4L1301 1307.17L1286.76 1300.4L1286.76 1286.57z"/>
<path fill="#ec4843" stroke="#ee5a56" stroke-width="0.5" d="M1201.29 1300.4L1215.53 1307.17L1215.53 1321.01L1201.29 1327.78L1187.04 1321.01L1187.04 1307.17zM1187.04 1444.64L1201.29 1451.41L1201.29 1465.24L1187.04 1472.01L1172.8 1465.24L1172.8 1451.41zM1201.29 1465.24L1215.53 1472.01L1215.53 1485.85L1201.29 1492.62L1187.04 1485.85L1187.04 1472.01z"/>
<path fill="#fc8e95" stroke="#fc99a0" stroke-width="0.5" d="M1229.78 1300.4L1244.02 1307.17L1244.02 1321.01L1229.78 1327.78L1215.53 1321.01L1215.53 1307.17zM1215.53 1444.64L1229.78 1451.41L1229.78 1465.24L1215.53 1472.01L1201.29 1465.24L1201.29 1451.41z"/>
<path fill="#fea8ae" stroke="#feb1b6" stroke-width="0.5" d="M1258.27 1300.4L1272.51 1307.17L1272.51 1321.01L1258.27 1327.78L1244.02 1321.01L1244.02 1307.17zM1187.04 1321.01L1201.29 1327.78L1201.29 1341.61L1187.04 1348.38L1172.8 1341.61L1172.8 1327.78zM1229.78 1465.24L1244.02 1472.01L1244.02 1485.85L1229.78 1492.62L1215.53 1485.85L1215.53 1472.01z"/>
<path fill="#fecdd0" stroke="#fed2d5" stroke-width="0.5" d="M1215.53 1321.01L1229.78 1327.78L1229.78 1341.61L1215.53 1348.38L1201.29 1341.61L1201.29 1327.78zM1272.51 1321.01L1286.76 1327.78L1286.76 1341.61L1272.51 1348.38L1258.27 1341.61L1258.27 1327.78zM1301 1321.01L1315.25 1327.78L1315.25 1341.61L1301 1348.38L1286.76 1341.61L1286.76 1327.78z"/>
<path fill="#ffdfe1" stroke="#ffe2e4" stroke-width="0.5" d="M1244.02 1321.01L1258.27 1327.78L1258.27 1341.61L1244.02 1348.38L1229.78 1341.61L1229.78 1327.78zM1187.04 1362.22L1201.29 1368.99L1201.29 1382.82L1187.04 1389.59L1172.8 1382.82L1172.8 1368.99zM1201.29 1382.82L1215.53 1389.59L1215.53 1403.43L1201.29 1410.2L1187.04 1403.43L1187.04 1389.59zM1215.53 1403.43L1229.78 1410.2L1229.78 1424.03L1215.53 1430.8L1201.29 1424.03L1201.29 1410.2zM1229.78 1424.03L1244.02 1430.8L1244.02 1444.64L1229.78 1451.41L1215.53 1444.64L1215.53 1430.8z"/>
<path fill="#ffe6e8" stroke="#ffe8ea" stroke-width="0.5" d="M1201.29 1341.61L1215.53 1348.38L1215.53 1362.22L1201.29 1368.99L1187.04 1362.22L1187.04 1348.38zM1286.76 1341.61L1301 1348.38L1301 1362.22L1286.76 1368.99L1272.51 1362.22L1272.51 1348.38zM1215.53 1362.22L1229.78 1368.99L1229.78 1382.82L1215.53 1389.59L1201.29 1382.82L1201.29 1368.99zM1229.78 1382.82L1244.02 1389.59L1244.02 1403.43L1229.78 1410.2L1215.53 1403.43L1215.53 1389.59zM1258.27 1382.82L1272.51 1389.59L1272.51 1403.43L1258.27 1410.2L1244.02 1403.43L1244.02 1389.59zM1244.02 1403.43L1258.27 1410.2L1258.27 1424.03L1244.02 1430.8L1229.78 1424.03L1229.78 1410.2zM1244.02 1444.64L1258.27 1451.41L1258.27 1465.24L1244.02 1472.01L1229.78 1465.24L1229.78 1451.41z"/>
<path fill="#fef4f6" stroke="#fef5f7" stroke-width="0.5" d="M1229.78 1341.61L1244.02 1348.38L1244.02 1362.22L1229.78 1368.99L1215.53 1362.22L1215.53 1348.38zM1258.27 1341.61L1272.51 1348.38L1272.51 1362.22L1258.27 1368.99L1244.02 1362.22L1244.02 1348.38zM1315.25 1341.61L1329.49 1348.38L1329.49 1362.22L1315.25 1368.99L1301 1362.22L1301 1348.38zM1244.02 1362.22L1258.27 1368.99L1258.27 1382.82L1244.02 1389.59L1229.78 1382.82L1229.78 1368.99zM1272.51 1362.22L1286.76 1368.99L1286.76 1382.82L1272.51 1389.59L1258.27 1382.82L1258.27 1368.99z"/>
<path fill="#fefcfd" stroke="#fefcfd" stroke-width="0.5" d="M1301 1362.22L1315.25 1368.99L1315.25 1382.82L1301 1389.59L1286.76 1382.82L1286.76 1368.99zM1286.76 1382.82L1301 1389.59L1301 1403.43L1286.76 1410.2L1272.51 1403.43L1272.51 1389.59zM1272.51 1403.43L1286.76 1410.2L1286.76 1424.03L1272.51 1430.8L1258.27 1424.03L1258.27 1410.2zM1258.27 1424.03L1272.51 1430.8L1272.51 1444.64L1258.27 1451.41L1244.02 1444.64L1244.02 1430.8zM1315.25 1465.24L1329.49 1472.01L1329.49 1485.85L1315.25 1492.62L1301 1485.85L1301 1472.01z"/>
<path fill="#ececfb" stroke="#eeeefb" stroke-width="0.5" d="M1315.25 1382.82L1329.49 1389.59L1329.49 1403.43L1315.25 1410.2L1301 1403.43L1301 1389.59zM1301 1403.43L1315.25 1410.2L1315.25 1424.03L1301 1430.8L1286.76 1424.03L1286.76 1410.2zM1286.76 1424.03L1301 1430.8L1301 1444.64L1286.76 1451.41L1272.51 1444.64L1272.51 1430.8zM1272.51 1444.64L1286.76 1451.41L1286.76 1465.24L1272.51 1472.01L1258.27 1465.24L1258.27 1451.41zM1301 1444.64L1315.25 1451.41L1315.25 1465.24L1301 1472.01L1286.76 1465.24L1286.76 1451.41zM1258.27 1465.24L1272.51 1472.01L1272.51 1485.85L1258.27 1492.62L1244.02 1485.85L1244.02 1472.01zM1286.76 1465.24L1301 1472.01L1301 1485.85L1286.76 1492.62L1272.51 1485.85L1272.51 1472.01z"/>
<path fill="#d9d9f6" stroke="#ddddf7" stroke-width="0.5" d="M1315.25 1424.03L1329.49 1430.8L1329.49 1444.64L1315.25 1451.41L1301 1444.64L1301 1430.8z"/>
<path fill="none" stroke="#111" stroke-width="1.6" stroke-linejoin="round" d="M1229.78 1286.57L1215.53 1279.8L1201.29 1286.57L1187.04 1279.8L1172.8 1286.57L1172.8 1300.4L1187.04 1307.17L1187.04 1321.01L1201.29 1327.78L1215.53 1321.01L1215.53 1307.17L1229.78 1300.4L1229.78 1286.57L1244.02 1279.8L1258.27 1286.57L1272.51 1279.8L1286.76 1286.57L1301 1279.8L1315.25 1286.57L1315.25 1300.4L1329.49 1307.17L1329.49 1321.01L1315.25 1327.78L1301 1321.01L1286.76 1327.78L1286.76 1341.61L1272.51 1348.38L1272.51 1362.22L1286.76 1368.99L1286.76 1382.82L1301 1389.59L1301 1403.43L1286.76 1410.2L1272.51 1403.43L1258.27 1410.2L1244.02 1403.43L1229.78 1410.2L1215.53 1403.43L1201.29 1410.2L1187.04 1403.43L1187.04 1389.59L1172.8 1382.82L1172.8 1368.99L1187.04 1362.22L1187.04 1348.38L1172.8 1341.61L1172.8 1327.78L1187.04 1321.01M1315.25 1327.78L1315.25 1341.61L1329.49 1348.38L1329.49 1362.22L1315.25 1368.99L1315.25 1382.82L1329.49 1389.59L1329.49 1403.43L1315.25 1410.2L1301 1403.43M1201.29 1410.2L1201.29 1424.03L1215.53 1430.8L1215.53 1444.64L1229.78 1451.41L1244.02 1444.64L1258.27 1451.41L1272.51 1444.64L1286.76 1451.41L1301 1444.64L1315.25 1451.41L1329.49 1444.64L1329.49 1430.8L1315.25 1424.03L1315.25 1410.2M1187.04 1403.43L1172.8 1410.2L1172.8 1424.03L1187.04 1430.8L1187.04 1444.64L1172.8 1451.41L1172.8 1465.24L1187.04 1472.01L1187.04 1485.85L1201.29 1492.62L1215.53 1485.85L1229.78 1492.62L1244.02 1485.85L1244.02 1472.01L1229.78 1465.24L1229.78 1451.41M1315.25 1451.41L1315.25 1465.24L1329.49 1472.01L1329.49 1485.85L1315.25 1492.62L1301 1485.85L1286.76 1492.62L1272.51 1485.85L1258.27 1492.62L1244.02 1485.85"/>
<path fill="#c6c6ef" stroke="#ccccf1" stroke-width="0.5" d="M1374.14 1279.8L1388.39 1286.57L1388.39 1300.4L1374.14 1307.17L1359.9 1300.4L1359.9 1286.57zM1374.14 1321.01L1388.39 1327.78L1388.39 1341.61L1374.14 1348.38L1359.9 1341.61L1359.9 1327.78zM1402.63 1321.01L1416.88 1327.78L1416.88 1341.61L1402.63 1348.38L1388.39 1341.61L1388.39 1327.78z"/>
<path fill="#9e9ee0" stroke="#a8a8e3" stroke-width="0.5" d="M1402.63 1279.8L1416.88 1286.57L1416.88 1300.4L1402.63 1307.17L1388.39 1300.4L1388.39 1286.57z"/>
<path fill="#d9d9f6" stroke="#ddddf7" stroke-width="0.5" d="M1431.12 1279.8L1445.37 1286.57L1445.37 1300.4L1431.12 1307.17L1416.88 1300.4L1416.88 1286.57zM1445.37 1300.4L1459.61 1307.17L1459.61 1321.01L1445.37 1327.78L1431.12 1321.01L1431.12 1307.17zM1431.12 1321.01L1445.37 1327.78L1445.37 1341.61L1431.12 1348.38L1416.88 1341.61L1416.88 1327.78zM1459.62 1321.01L1473.86 1327.78L1473.86 1341.61L1459.62 1348.38L1445.37 1341.61L1445.37 1327.78zM1388.39 1341.61L1402.63 1348.38L1402.63 1362.22L1388.39 1368.99L1374.14 1362.22L1374.14 1348.38zM1473.86 1341.61L1488.1 1348.38L1488.1 1362.22L1473.86 1368.99L1459.62 1362.22L1459.62 1348.38zM1374.14 1362.22L1388.39 1368.99L1388.39 1382.82L1374.14 1389.59L1359.9 1382.82L1359.9 1368.99z"/>
<path fill="#fef4f6" stroke="#fef5f7" stroke-width="0.5" d="M1459.62 1279.8L1473.86 1286.57L1473.86 1300.4L1459.62 1307.17L1445.37 1300.4L1445.37 1286.57zM1473.86 1424.03L1488.1 1430.8L1488.1 1444.64L1473.86 1451.41L1459.62 1444.64L1459.62 1430.8zM1502.35 1424.03L1516.59 1430.8L1516.59 1444.64L1502.35 1451.41L1488.11 1444.64L1488.11 1430.8z"/>
<path fill="#ffe6e8" stroke="#ffe8ea" stroke-width="0.5" d="M1488.11 1279.8L1502.35 1286.57L1502.35 1300.4L1488.11 1307.17L1473.86 1300.4L1473.86 1286.57zM1431.12 1403.43L1445.37 1410.2L1445.37 1424.03L1431.12 1430.8L1416.88 1424.03L1416.88 1410.2z"/>
<path fill="#b3b3e8" stroke="#bbbbea" stroke-width="0.5" d="M1388.39 1300.4L1402.63 1307.17L1402.63 1321.01L1388.39 1327.78L1374.14 1321.01L1374.14 1307.17zM1416.88 1300.4L1431.12 1307.17L1431.12 1321.01L1416.88 1327.78L1402.63 1321.01L1402.63 1307.17zM1502.35 1341.61L1516.59 1348.38L1516.59 1362.22L1502.35 1368.99L1488.11 1362.22L1488.11 1348.38z"/>
<path fill="#ececfb" stroke="#eeeefb" stroke-width="0.5" d="M1473.86 1300.4L1488.1 1307.17L1488.1 1321.01L1473.86 1327.78L1459.62 1321.01L1459.62 1307.17zM1502.35 1300.4L1516.59 1307.17L1516.59 1321.01L1502.35 1327.78L1488.11 1321.01L1488.11 1307.17zM1431.12 1362.22L1445.37 1368.99L1445.37 1382.82L1431.12 1389.59L1416.88 1382.82L1416.88 1368.99zM1445.37 1382.82L1459.61 1389.59L1459.61 1403.43L1445.37 1410.2L1431.12 1403.43L1431.12 1389.59zM1473.86 1382.82L1488.1 1389.59L1488.1 1403.43L1473.86 1410.2L1459.62 1403.43L1459.62 1389.59z"/>
<path fill="#bcbcec" stroke="#c3c3ee" stroke-width="0.5" d="M1488.11 1321.01L1502.35 1327.78L1502.35 1341.61L1488.11 1348.38L1473.86 1341.61L1473.86 1327.78z"/>
<path fill="#e2e2f8" stroke="#e5e5f9" stroke-width="0.5" d="M1416.88 1341.61L1431.12 1348.38L1431.12 1362.22L1416.88 1368.99L1402.63 1362.22L1402.63 1348.38zM1445.37 1341.61L1459.61 1348.38L1459.61 1362.22L1445.37 1368.99L1431.12 1362.22L1431.12 1348.38zM1402.63 1362.22L1416.88 1368.99L1416.88 1382.82L1402.63 1389.59L1388.39 1382.82L1388.39 1368.99zM1459.62 1362.22L1473.86 1368.99L1473.86 1382.82L1459.62 1389.59L1445.37 1382.82L1445.37 1368.99zM1502.35 1382.82L1516.59 1389.59L1516.59 1403.43L1502.35 1410.2L1488.11 1403.43L1488.11 1389.59z"/>
<path fill="#d0d0f2" stroke="#d5d5f3" stroke-width="0.5" d="M1488.11 1362.22L1502.35 1368.99L1502.35 1382.82L1488.11 1389.59L1473.86 1382.82L1473.86 1368.99z"/>
<path fill="#fefcfd" stroke="#fefcfd" stroke-width="0.5" d="M1388.39 1382.82L1402.63 1389.59L1402.63 1403.43L1388.39 1410.2L1374.14 1403.43L1374.14 1389.59zM1416.88 1382.82L1431.12 1389.59L1431.12 1403.43L1416.88 1410.2L1402.63 1403.43L1402.63 1389.59zM1459.62 1403.43L1473.86 1410.2L1473.86 1424.03L1459.62 1430.8L1445.37 1424.03L1445.37 1410.2zM1488.11 1403.43L1502.35 1410.2L1502.35 1424.03L1488.11 1430.8L1473.86 1424.03L1473.86 1410.2z"/>
<path fill="#feb5ba" stroke="#febcc1" stroke-width="0.5" d="M1374.14 1403.43L1388.39 1410.2L1388.39 1424.03L1374.14 1430.8L1359.9 1424.03L1359.9 1410.2z"/>
<path fill="#fecdd0" stroke="#fed2d5" stroke-width="0.5" d="M1402.63 1403.43L1416.88 1410.2L1416.88 1424.03L1402.63 1430.8L1388.39 1424.03L1388.39 1410.2z"/>
<path fill="#f8747a" stroke="#f98287" stroke-width="0.5" d="M1388.39 1424.03L1402.63 1430.8L1402.63 1444.64L1388.39 1451.41L1374.14 1444.64L1374.14 1430.8z"/>
<path fill="#fea8ae" stroke="#feb1b6" stroke-width="0.5" d="M1416.88 1424.03L1431.12 1430.8L1431.12 1444.64L1416.88 1451.41L1402.63 1444.64L1402.63 1430.8zM1473.86 1465.24L1488.1 1472.01L1488.1 1485.85L1473.86 1492.62L1459.62 1485.85L1459.62 1472.01z"/>
<path fill="#ffdfe1" stroke="#ffe2e4" stroke-width="0.5" d="M1445.37 1424.03L1459.61 1430.8L1459.61 1444.64L1445.37 1451.41L1431.12 1444.64L1431.12 1430.8z"/>
<path fill="#ec4843" stroke="#ee5a56" stroke-width="0.5" d="M1374.14 1444.64L1388.39 1451.41L1388.39 1465.24L1374.14 1472.01L1359.9 1465.24L1359.9 1451.41zM1416.88 1465.24L1431.12 1472.01L1431.12 1485.85L1416.88 1492.62L1402.63 1485.85L1402.63 1472.01z"/>
<path fill="#ef5251" stroke="#f16362" stroke-width="0.5" d="M1402.63 1444.64L1416.88 1451.41L1416.88 1465.24L1402.63 1472.01L1388.39 1465.24L1388.39 1451.41z"/>
<path fill="#fd9ba1" stroke="#fda5aa" stroke-width="0.5" d="M1431.12 1444.64L1445.37 1451.41L1445.37 1465.24L1431.12 1472.01L1416.88 1465.24L1416.88 1451.41z"/>
<path fill="#fec1c5" stroke="#fec7cb" stroke-width="0.5" d="M1459.62 1444.64L1473.86 1451.41L1473.86 1465.24L1459.62 1472.01L1445.37 1465.24L1445.37 1451.41zM1502.35 1465.24L1516.59 1472.01L1516.59 1485.85L1502.35 1492.62L1488.11 1485.85L1488.11 1472.01z"/>
<path fill="#fed6d8" stroke="#fedadc" stroke-width="0.5" d="M1488.11 1444.64L1502.35 1451.41L1502.35 1465.24L1488.11 1472.01L1473.86 1465.24L1473.86 1451.41z"/>
<path fill="#e84037" stroke="#ea534b" stroke-width="0.5" d="M1388.39 1465.24L1402.63 1472.01L1402.63 1485.85L1388.39 1492.62L1374.14 1485.85L1374.14 1472.01z"/>
<path fill="#fb8289" stroke="#fb8e95" stroke-width="0.5" d="M1445.37 1465.24L1459.61 1472.01L1459.61 1485.85L1445.37 1492.62L1431.12 1485.85L1431.12 1472.01z"/>
<path fill="none" stroke="#111" stroke-width="1.6" stroke-linejoin="round" d="M1416.88 1286.57L1402.63 1279.8L1388.39 1286.57L1374.14 1279.8L1359.9 1286.57L1359.9 1300.4L1374.14 1307.17L1374.14 1321.01L1388.39 1327.78L1402.63 1321.01L1402.63 1307.17L1416.88 1300.4L1416.88 1286.57L1431.12 1279.8L1445.37 1286.57L1459.62 1279.8L1473.86 1286.57L1488.11 1279.8L1502.35 1286.57L1502.35 1300.4L1516.59 1307.17L1516.59 1321.01L1502.35 1327.78L1488.11 1321.01L1473.86 1327.78L1473.86 1341.61L1459.62 1348.38L1459.61 1362.22L1473.86 1368.99L1473.86 1382.82L1488.11 1389.59L1488.1 1403.43L1473.86 1410.2L1459.62 1403.43L1445.37 1410.2L1431.12 1403.43L1416.88 1410.2L1402.63 1403.43L1388.39 1410.2L1374.14 1403.43L1374.14 1389.59L1359.9 1382.82L1359.9 1368.99L1374.14 1362.22L1374.14 1348.38L1359.9 1341.61L1359.9 1327.78L1374.14 1321.01M1502.35 1327.78L1502.35 1341.61L1516.59 1348.38L1516.59 1362.22L1502.35 1368.99L1502.35 1382.82L1516.59 1389.59L1516.59 1403.43L1502.35 1410.2L1488.11 1403.43M1388.39 1410.2L1388.39 1424.03L1402.63 1430.8L1402.63 1444.64L1416.88 1451.41L1431.12 1444.64L1445.37 1451.41L1459.61 1444.64L1473.86 1451.41L1488.1 1444.64L1502.35 1451.41L1516.59 1444.64L1516.59 1430.8L1502.35 1424.03L1502.35 1410.2M1374.14 1403.43L1359.9 1410.2L1359.9 1424.03L1374.14 1430.8L1374.14 1444.64L1359.9 1451.41L1359.9 1465.24L1374.14 1472.01L1374.14 1485.85L1388.39 1492.62L1402.63 1485.85L1416.88 1492.62L1431.12 1485.85L1431.12 1472.01L1416.88 1465.24L1416.88 1451.41M1502.35 1451.41L1502.35 1465.24L1516.59 1472.01L1516.59 1485.85L1502.35 1492.62L1488.11 1485.85L1473.86 1492.62L1459.62 1485.85L1445.37 1492.62L1431.12 1485.85"/>
<path fill="#ffdfe1" stroke="#ffe2e4" stroke-width="0.5" d="M1562.94 1279.8L1577.19 1286.57L1577.19 1300.4L1562.94 1307.17L1548.7 1300.4L1548.7 1286.57zM1605.68 1424.03L1619.92 1430.8L1619.92 1444.64L1605.68 1451.41L1591.43 1444.64L1591.43 1430.8zM1648.41 1444.64L1662.66 1451.41L1662.66 1465.24L1648.41 1472.01L1634.17 1465.24L1634.17 1451.41zM1676.9 1444.64L1691.15 1451.41L1691.15 1465.24L1676.9 1472.01L1662.66 1465.24L1662.66 1451.41z"/>
<path fill="#fefcfd" stroke="#fefcfd" stroke-width="0.5" d="M1591.43 1279.8L1605.68 1286.57L1605.68 1300.4L1591.43 1307.17L1577.19 1300.4L1577.19 1286.57zM1577.19 1300.4L1591.43 1307.17L1591.43 1321.01L1577.19 1327.78L1562.94 1321.01L1562.94 1307.17zM1605.68 1382.82L1619.92 1389.59L1619.92 1403.43L1605.68 1410.2L1591.43 1403.43L1591.43 1389.59zM1634.17 1382.82L1648.41 1389.59L1648.41 1403.43L1634.17 1410.2L1619.92 1403.43L1619.92 1389.59zM1662.66 1382.82L1676.9 1389.59L1676.9 1403.43L1662.66 1410.2L1648.41 1403.43L1648.41 1389.59zM1691.15 1382.82L1705.39 1389.59L1705.39 1403.43L1691.15 1410.2L1676.9 1403.43L1676.9 1389.59zM1562.94 1403.43L1577.19 1410.2L1577.19 1424.03L1562.94 1430.8L1548.7 1424.03L1548.7 1410.2z"/>
<path fill="#b3b3e8" stroke="#bbbbea" stroke-width="0.5" d="M1619.92 1279.8L1634.17 1286.57L1634.17 1300.4L1619.92 1307.17L1605.68 1300.4L1605.68 1286.57zM1562.94 1362.22L1577.19 1368.99L1577.19 1382.82L1562.94 1389.59L1548.7 1382.82L1548.7 1368.99z"/>
<path fill="#8686d2" stroke="#9292d6" stroke-width="0.5" d="M1648.41 1279.8L1662.66 1286.57L1662.66 1300.4L1648.41 1307.17L1634.17 1300.4L1634.17 1286.57z"/>
<path fill="#a8a8e4" stroke="#b1b1e7" stroke-width="0.5" d="M1676.9 1279.8L1691.15 1286.57L1691.15 1300.4L1676.9 1307.17L1662.66 1300.4L1662.66 1286.57z"/>
<path fill="#d0d0f2" stroke="#d5d5f3" stroke-width="0.5" d="M1605.68 1300.4L1619.92 1307.17L1619.92 1321.01L1605.68 1327.78L1591.43 1321.01L1591.43 1307.17zM1691.15 1300.4L1705.39 1307.17L1705.39 1321.01L1691.15 1327.78L1676.9 1321.01L1676.9 1307.17zM1591.43 1321.01L1605.68 1327.78L1605.68 1341.61L1591.43 1348.38L1577.19 1341.61L1577.19 1327.78zM1648.41 1321.01L1662.66 1327.78L1662.66 1341.61L1648.41 1348.38L1634.17 1341.61L1634.17 1327.78zM1605.68 1341.61L1619.92 1348.38L1619.92 1362.22L1605.68 1368.99L1591.43 1362.22L1591.43 1348.38zM1634.17 1341.61L1648.41 1348.38L1648.41 1362.22L1634.17 1368.99L1619.92 1362.22L1619.92 1348.38z"/>
<path fill="#9e9ee0" stroke="#a8a8e3" stroke-width="0.5" d="M1634.17 1300.4L1648.41 1307.17L1648.41 1321.01L1634.17 1327.78L1619.92 1321.01L1619.92 1307.17z"/>
<path fill="#bcbcec" stroke="#c3c3ee" stroke-width="0.5" d="M1662.66 1300.4L1676.9 1307.17L1676.9 1321.01L1662.66 1327.78L1648.41 1321.01L1648.41 1307.17zM1619.92 1321.01L1634.17 1327.78L1634.17 1341.61L1619.92 1348.38L1605.68 1341.61L1605.68 1327.78zM1577.19 1341.61L1591.43 1348.38L1591.43 1362.22L1577.19 1368.99L1562.94 1362.22L1562.94 1348.38z"/>
<path fill="#d9d9f6" stroke="#ddddf7" stroke-width="0.5" d="M1562.94 1321.01L1577.19 1327.78L1577.19 1341.61L1562.94 1348.38L1548.7 1341.61L1548.7 1327.78zM1676.9 1321.01L1691.15 1327.78L1691.15 1341.61L1676.9 1348.38L1662.66 1341.61L1662.66 1327.78zM1662.66 1341.61L1676.9 1348.38L1676.9 1362.22L1662.66 1368.99L1648.41 1362.22L1648.41 1348.38zM1577.19 1382.82L1591.43 1389.59L1591.43 1403.43L1577.19 1410.2L1562.94 1403.43L1562.94 1389.59z"/>
<path fill="#c6c6ef" stroke="#ccccf1" stroke-width="0.5" d="M1691.15 1341.61L1705.39 1348.38L1705.39 1362.22L1691.15 1368.99L1676.9 1362.22L1676.9 1348.38zM1591.43 1362.22L1605.68 1368.99L1605.68 1382.82L1591.43 1389.59L1577.19 1382.82L1577.19 1368.99z"/>
<path fill="#ececfb" stroke="#eeeefb" stroke-width="0.5" d="M1619.92 1362.22L1634.17 1368.99L1634.17 1382.82L1619.92 1389.59L1605.68 1382.82L1605.68 1368.99zM1648.41 1362.22L1662.66 1368.99L1662.66 1382.82L1648.41 1389.59L1634.17 1382.82L1634.17 1368.99zM1676.9 1362.22L1691.15 1368.99L1691.15 1382.82L1676.9 1389.59L1662.66 1382.82L1662.66 1368.99z"/>
<path fill="#fef4f6" stroke="#fef5f7" stroke-width="0.5" d="M1591.43 1403.43L1605.68 1410.2L1605.68 1424.03L1591.43 1430.8L1577.19 1424.03L1577.19 1410.2zM1619.92 1403.43L1634.17 1410.2L1634.17 1424.03L1619.92 1430.8L1605.68 1424.03L1605.68 1410.2zM1648.41 1403.43L1662.66 1410.2L1662.66 1424.03L1648.41 1430.8L1634.17 1424.03L1634.17 1410.2zM1676.9 1403.43L1691.15 1410.2L1691.15 1424.03L1676.9 1430.8L1662.66 1424.03L1662.66 1410.2z"/>
<path fill="#fecdd0" stroke="#fed2d5" stroke-width="0.5" d="M1577.19 1424.03L1591.43 1430.8L1591.43 1444.64L1577.19 1451.41L1562.94 1444.64L1562.94 1430.8zM1691.15 1465.24L1705.39 1472.01L1705.39 1485.85L1691.15 1492.62L1676.9 1485.85L1676.9 1472.01z"/>
<path fill="#ffe6e8" stroke="#ffe8ea" stroke-width="0.5" d="M1634.17 1424.03L1648.41 1430.8L1648.41 1444.64L1634.17 1451.41L1619.92 1444.64L1619.92 1430.8zM1662.66 1424.03L1676.9 1430.8L1676.9 1444.64L1662.66 1451.41L1648.41 1444.64L1648.41 1430.8zM1691.15 1424.03L1705.39 1430.8L1705.39 1444.64L1691.15 1451.41L1676.9 1444.64L1676.9 1430.8z"/>
<path fill="#fc8e95" stroke="#fc99a0" stroke-width="0.5" d="M1562.94 1444.64L1577.19 1451.41L1577.19 1465.24L1562.94 1472.01L1548.7 1465.24L1548.7 1451.41zM1605.68 1465.24L1619.92 1472.01L1619.92 1485.85L1605.68 1492.62L1591.43 1485.85L1591.43 1472.01z"/>
<path fill="#fd9ba1" stroke="#fda5aa" stroke-width="0.5" d="M1591.43 1444.64L1605.68 1451.41L1605.68 1465.24L1591.43 1472.01L1577.19 1465.24L1577.19 1451.41z"/>
<path fill="#fed6d8" stroke="#fedadc" stroke-width="0.5" d="M1619.92 1444.64L1634.17 1451.41L1634.17 1465.24L1619.92 1472.01L1605.68 1465.24L1605.68 1451.41zM1634.17 1465.24L1648.41 1472.01L1648.41 1485.85L1634.17 1492.62L1619.92 1485.85L1619.92 1472.01zM1662.66 1465.24L1676.9 1472.01L1676.9 1485.85L1662.66 1492.62L1648.41 1485.85L1648.41 1472.01z"/>
<path fill="#f6666c" stroke="#f7757b" stroke-width="0.5" d="M1577.19 1465.24L1591.43 1472.01L1591.43 1485.85L1577.19 1492.62L1562.94 1485.85L1562.94 1472.01z"/>
<path fill="none" stroke="#111" stroke-width="1.6" stroke-linejoin="round" d="M1605.68 1286.57L1591.43 1279.8L1577.19 1286.57L1562.94 1279.8L1548.7 1286.57L1548.7 1300.4L1562.94 1307.17L1562.94 1321.01L1577.19 1327.78L1591.43 1321.01L1591.43 1307.17L1605.68 1300.4L1605.68 1286.57L1619.92 1279.8L1634.17 1286.57L1648.41 1279.8L1662.66 1286.57L1676.9 1279.8L1691.15 1286.57L1691.15 1300.4L1705.39 1307.17L1705.39 1321.01L1691.15 1327.78L1676.9 1321.01L1662.66 1327.78L1662.66 1341.61L1648.41 1348.38L1648.41 1362.22L1662.66 1368.99L1662.66 1382.82L1676.9 1389.59L1676.9 1403.43L1662.66 1410.2L1648.41 1403.43L1634.17 1410.2L1619.92 1403.43L1605.68 1410.2L1591.43 1403.43L1577.19 1410.2L1562.94 1403.43L1562.94 1389.59L1548.7 1382.82L1548.7 1368.99L1562.94 1362.22L1562.94 1348.38L1548.7 1341.61L1548.7 1327.78L1562.94 1321.01M1691.15 1327.78L1691.15 1341.61L1705.39 1348.38L1705.39 1362.22L1691.15 1368.99L1691.15 1382.82L1705.39 1389.59L1705.39 1403.43L1691.15 1410.2L1676.9 1403.43M1577.19 1410.2L1577.19 1424.03L1591.43 1430.8L1591.43 1444.64L1605.68 1451.41L1619.92 1444.64L1634.17 1451.41L1648.41 1444.64L1662.66 1451.41L1676.9 1444.64L1691.15 1451.41L1705.39 1444.64L1705.39 1430.8L1691.15 1424.03L1691.15 1410.2M1562.94 1403.43L1548.7 1410.2L1548.7 1424.03L1562.94 1430.8L1562.94 1444.64L1548.7 1451.41L1548.7 1465.24L1562.94 1472.01L1562.94 1485.85L1577.19 1492.62L1591.43 1485.85L1605.68 1492.62L1619.92 1485.85L1619.92 1472.01L1605.68 1465.24L1605.68 1451.41M1691.15 1451.41L1691.15 1465.24L1705.39 1472.01L1705.39 1485.85L1691.15 1492.62L1676.9 1485.85L1662.66 1492.62L1648.41 1485.85L1634.17 1492.62L1619.92 1485.85"/>
<path fill="#fd9ba1" stroke="#fda5aa" stroke-width="0.5" d="M1750.24 1279.8L1764.49 1286.57L1764.49 1300.4L1750.24 1307.17L1736 1300.4L1736 1286.57zM1792.98 1465.24L1807.22 1472.01L1807.22 1485.85L1792.98 1492.62L1778.73 1485.85L1778.73 1472.01z"/>
<path fill="#fefcfd" stroke="#fefcfd" stroke-width="0.5" d="M1778.73 1279.8L1792.98 1286.57L1792.98 1300.4L1778.73 1307.17L1764.49 1300.4L1764.49 1286.57zM1764.49 1341.61L1778.73 1348.38L1778.73 1362.22L1764.49 1368.99L1750.24 1362.22L1750.24 1348.38zM1807.22 1362.22L1821.47 1368.99L1821.47 1382.82L1807.22 1389.59L1792.98 1382.82L1792.98 1368.99zM1849.96 1382.82L1864.2 1389.59L1864.2 1403.43L1849.96 1410.2L1835.71 1403.43L1835.71 1389.59zM1864.2 1403.43L1878.45 1410.2L1878.45 1424.03L1864.2 1430.8L1849.96 1424.03L1849.96 1410.2zM1878.45 1424.03L1892.69 1430.8L1892.69 1444.64L1878.45 1451.41L1864.2 1444.64L1864.2 1430.8z"/>
<path fill="#7073c8" stroke="#7e81ce" stroke-width="0.5" d="M1807.22 1279.8L1821.47 1286.57L1821.47 1300.4L1807.22 1307.17L1792.98 1300.4L1792.98 1286.57zM1821.47 1300.4L1835.71 1307.17L1835.71 1321.01L1821.47 1327.78L1807.22 1321.01L1807.22 1307.17z"/>
<path fill="#3e52ac" stroke="#5163b4" stroke-width="0.5" d="M1835.71 1279.8L1849.96 1286.57L1849.96 1300.4L1835.71 1307.17L1821.47 1300.4L1821.47 1286.57zM1864.2 1279.8L1878.45 1286.57L1878.45 1300.4L1864.2 1307.17L1849.96 1300.4L1849.96 1286.57z"/>
<path fill="#ffdfe1" stroke="#ffe2e4" stroke-width="0.5" d="M1764.49 1300.4L1778.73 1307.17L1778.73 1321.01L1764.49 1327.78L1750.24 1321.01L1750.24 1307.17zM1764.49 1382.82L1778.73 1389.59L1778.73 1403.43L1764.49 1410.2L1750.24 1403.43L1750.24 1389.59zM1835.71 1444.64L1849.96 1451.41L1849.96 1465.24L1835.71 1472.01L1821.47 1465.24L1821.47 1451.41zM1878.45 1465.24L1892.69 1472.01L1892.69 1485.85L1878.45 1492.62L1864.2 1485.85L1864.2 1472.01z"/>
<path fill="#c6c6ef" stroke="#ccccf1" stroke-width="0.5" d="M1792.98 1300.4L1807.22 1307.17L1807.22 1321.01L1792.98 1327.78L1778.73 1321.01L1778.73 1307.17z"/>
<path fill="#656ac2" stroke="#7479c8" stroke-width="0.5" d="M1849.96 1300.4L1864.2 1307.17L1864.2 1321.01L1849.96 1327.78L1835.71 1321.01L1835.71 1307.17zM1878.45 1300.4L1892.69 1307.17L1892.69 1321.01L1878.45 1327.78L1864.2 1321.01L1864.2 1307.17z"/>
<path fill="#fef4f6" stroke="#fef5f7" stroke-width="0.5" d="M1750.24 1321.01L1764.49 1327.78L1764.49 1341.61L1750.24 1348.38L1736 1341.61L1736 1327.78zM1778.73 1362.22L1792.98 1368.99L1792.98 1382.82L1778.73 1389.59L1764.49 1382.82L1764.49 1368.99zM1821.47 1382.82L1835.71 1389.59L1835.71 1403.43L1821.47 1410.2L1807.22 1403.43L1807.22 1389.59zM1835.71 1403.43L1849.96 1410.2L1849.96 1424.03L1835.71 1430.8L1821.47 1424.03L1821.47 1410.2zM1849.96 1424.03L1864.2 1430.8L1864.2 1444.64L1849.96 1451.41L1835.71 1444.64L1835.71 1430.8z"/>
<path fill="#ececfb" stroke="#eeeefb" stroke-width="0.5" d="M1778.73 1321.01L1792.98 1327.78L1792.98 1341.61L1778.73 1348.38L1764.49 1341.61L1764.49 1327.78zM1792.98 1341.61L1807.22 1348.38L1807.22 1362.22L1792.98 1368.99L1778.73 1362.22L1778.73 1348.38zM1835.71 1362.22L1849.96 1368.99L1849.96 1382.82L1835.71 1389.59L1821.47 1382.82L1821.47 1368.99z"/>
<path fill="#d0d0f2" stroke="#d5d5f3" stroke-width="0.5" d="M1807.22 1321.01L1821.47 1327.78L1821.47 1341.61L1807.22 1348.38L1792.98 1341.61L1792.98 1327.78zM1864.2 1362.22L1878.45 1368.99L1878.45 1382.82L1864.2 1389.59L1849.96 1382.82L1849.96 1368.99z"/>
<path fill="#b3b3e8" stroke="#bbbbea" stroke-width="0.5" d="M1835.71 1321.01L1849.96 1327.78L1849.96 1341.61L1835.71 1348.38L1821.47 1341.61L1821.47 1327.78zM1878.45 1341.61L1892.69 1348.38L1892.69 1362.22L1878.45 1368.99L1864.2 1362.22L1864.2 1348.38z"/>
<path fill="#9e9ee0" stroke="#a8a8e3" stroke-width="0.5" d="M1864.2 1321.01L1878.45 1327.78L1878.45 1341.61L1864.2 1348.38L1849.96 1341.61L1849.96 1327.78z"/>
<path fill="#e2e2f8" stroke="#e5e5f9" stroke-width="0.5" d="M1821.47 1341.61L1835.71 1348.38L1835.71 1362.22L1821.47 1368.99L1807.22 1362.22L1807.22 1348.38z"/>
<path fill="#bcbcec" stroke="#c3c3ee" stroke-width="0.5" d="M1849.96 1341.61L1864.2 1348.38L1864.2 1362.22L1849.96 1368.99L1835.71 1362.22L1835.71 1348.38z"/>
<path fill="#ffe6e8" stroke="#ffe8ea" stroke-width="0.5" d="M1750.24 1362.22L1764.49 1368.99L1764.49 1382.82L1750.24 1389.59L1736 1382.82L1736 1368.99zM1792.98 1382.82L1807.22 1389.59L1807.22 1403.43L1792.98 1410.2L1778.73 1403.43L1778.73 1389.59zM1807.22 1403.43L1821.47 1410.2L1821.47 1424.03L1807.22 1430.8L1792.98 1424.03L1792.98 1410.2zM1821.47 1424.03L1835.71 1430.8L1835.71 1444.64L1821.47 1451.41L1807.22 1444.64L1807.22 1430.8zM1864.2 1444.64L1878.45 1451.41L1878.45 1465.24L1864.2 1472.01L1849.96 1465.24L1849.96 1451.41z"/>
<path fill="#d9d9f6" stroke="#ddddf7" stroke-width="0.5" d="M1878.45 1382.82L1892.69 1389.59L1892.69 1403.43L1878.45 1410.2L1864.2 1403.43L1864.2 1389.59z"/>
<path fill="#fea8ae" stroke="#feb1b6" stroke-width="0.5" d="M1750.24 1403.43L1764.49 1410.2L1764.49 1424.03L1750.24 1430.8L1736 1424.03L1736 1410.2z"/>
<path fill="#fecdd0" stroke="#fed2d5" stroke-width="0.5" d="M1778.73 1403.43L1792.98 1410.2L1792.98 1424.03L1778.73 1430.8L1764.49 1424.03L1764.49 1410.2zM1849.96 1465.24L1864.2 1472.01L1864.2 1485.85L1849.96 1492.62L1835.71 1485.85L1835.71 1472.01z"/>
<path fill="#fc8e95" stroke="#fc99a0" stroke-width="0.5" d="M1764.49 1424.03L1778.73 1430.8L1778.73 1444.64L1764.49 1451.41L1750.24 1444.64L1750.24 1430.8zM1778.73 1444.64L1792.98 1451.41L1792.98 1465.24L1778.73 1472.01L1764.49 1465.24L1764.49 1451.41z"/>
<path fill="#fec1c5" stroke="#fec7cb" stroke-width="0.5" d="M1792.98 1424.03L1807.22 1430.8L1807.22 1444.64L1792.98 1451.41L1778.73 1444.64L1778.73 1430.8zM1807.22 1444.64L1821.47 1451.41L1821.47 1465.24L1807.22 1472.01L1792.98 1465.24L1792.98 1451.41z"/>
<path fill="#f6666c" stroke="#f7757b" stroke-width="0.5" d="M1750.24 1444.64L1764.49 1451.41L1764.49 1465.24L1750.24 1472.01L1736 1465.24L1736 1451.41z"/>
<path fill="#f8747a" stroke="#f98287" stroke-width="0.5" d="M1764.49 1465.24L1778.73 1472.01L1778.73 1485.85L1764.49 1492.62L1750.24 1485.85L1750.24 1472.01z"/>
<path fill="#feb5ba" stroke="#febcc1" stroke-width="0.5" d="M1821.47 1465.24L1835.71 1472.01L1835.71 1485.85L1821.47 1492.62L1807.22 1485.85L1807.22 1472.01z"/>
<path fill="none" stroke="#111" stroke-width="1.6" stroke-linejoin="round" d="M1792.98 1286.57L1778.73 1279.8L1764.49 1286.57L1750.24 1279.8L1736 1286.57L1736 1300.4L1750.24 1307.17L1750.24 1321.01L1764.49 1327.78L1778.73 1321.01L1778.73 1307.17L1792.98 1300.4L1792.98 1286.57L1807.22 1279.8L1821.47 1286.57L1835.71 1279.8L1849.96 1286.57L1864.2 1279.8L1878.45 1286.57L1878.45 1300.4L1892.69 1307.17L1892.69 1321.01L1878.45 1327.78L1864.2 1321.01L1849.96 1327.78L1849.96 1341.61L1835.71 1348.38L1835.71 1362.22L1849.96 1368.99L1849.96 1382.82L1864.2 1389.59L1864.2 1403.43L1849.96 1410.2L1835.71 1403.43L1821.47 1410.2L1807.22 1403.43L1792.98 1410.2L1778.73 1403.43L1764.49 1410.2L1750.24 1403.43L1750.24 1389.59L1736 1382.82L1736 1368.99L1750.24 1362.22L1750.24 1348.38L1736 1341.61L1736 1327.78L1750.24 1321.01M1878.45 1327.78L1878.45 1341.61L1892.69 1348.38L1892.69 1362.22L1878.45 1368.99L1878.45 1382.82L1892.69 1389.59L1892.69 1403.43L1878.45 1410.2L1864.2 1403.43M1764.49 1410.2L1764.49 1424.03L1778.73 1430.8L1778.73 1444.64L1792.98 1451.41L1807.22 1444.64L1821.47 1451.41L1835.71 1444.64L1849.96 1451.41L1864.2 1444.64L1878.45 1451.41L1892.69 1444.64L1892.69 1430.8L1878.45 1424.03L1878.45 1410.2M1750.24 1403.43L1736 1410.2L1736 1424.03L1750.24 1430.8L1750.24 1444.64L1736 1451.41L1736 1465.24L1750.24 1472.01L1750.24 1485.85L1764.49 1492.62L1778.73 1485.85L1792.98 1492.62L1807.22 1485.85L1807.22 1472.01L1792.98 1465.24L1792.98 1451.41M1878.45 1451.41L1878.45 1465.24L1892.69 1472.01L1892.69 1485.85L1878.45 1492.62L1864.2 1485.85L1849.96 1492.62L1835.71 1485.85L1821.47 1492.62L1807.22 1485.85"/>
<path fill="#3550a8" stroke="#4962b1" stroke-width="0.5" d="M812.25 1534.5L826.49 1541.27L826.49 1555.1L812.25 1561.87L798 1555.1L798 1541.27zM840.74 1534.5L854.98 1541.27L854.98 1555.1L840.74 1561.87L826.49 1555.1L826.49 1541.27zM869.23 1534.5L883.47 1541.27L883.47 1555.1L869.23 1561.87L854.98 1555.1L854.98 1541.27zM897.72 1534.5L911.96 1541.27L911.96 1555.1L897.72 1561.87L883.47 1555.1L883.47 1541.27zM826.49 1555.1L840.74 1561.87L840.74 1575.71L826.49 1582.48L812.25 1575.71L812.25 1561.87zM854.98 1555.1L869.23 1561.87L869.23 1575.71L854.98 1582.48L840.74 1575.71L840.74 1561.87zM883.47 1555.1L897.72 1561.87L897.72 1575.71L883.47 1582.48L869.23 1575.71L869.23 1561.87zM911.96 1555.1L926.21 1561.87L926.21 1575.71L911.96 1582.48L897.72 1575.71L897.72 1561.87zM812.25 1575.71L826.49 1582.48L826.49 1596.31L812.25 1603.08L798 1596.31L798 1582.48zM840.74 1575.71L854.98 1582.48L854.98 1596.31L840.74 1603.08L826.49 1596.31L826.49 1582.48zM869.23 1575.71L883.47 1582.48L883.47 1596.31L869.23 1603.08L854.98 1596.31L854.98 1582.48zM897.72 1575.71L911.96 1582.48L911.96 1596.31L897.72 1603.08L883.47 1596.31L883.47 1582.48zM826.49 1596.31L840.74 1603.08L840.74 1616.92L826.49 1623.69L812.25 1616.92L812.25 1603.08zM854.98 1596.31L869.23 1603.08L869.23 1616.92L854.98 1623.69L840.74 1616.92L840.74 1603.08zM883.47 1596.31L897.72 1603.08L897.72 1616.92L883.47 1623.69L869.23 1616.92L869.23 1603.08zM812.25 1616.92L826.49 1623.69L826.49 1637.52L812.25 1644.29L798 1637.52L798 1623.69zM840.74 1616.92L854.98 1623.69L854.98 1637.52L840.74 1644.29L826.49 1637.52L826.49 1623.69zM869.23 1616.92L883.47 1623.69L883.47 1637.52L869.23 1644.29L854.98 1637.52L854.98 1623.69zM826.49 1637.52L840.74 1644.29L840.74 1658.13L826.49 1664.9L812.25 1658.13L812.25 1644.29zM854.98 1637.52L869.23 1644.29L869.23 1658.13L854.98 1664.9L840.74 1658.13L840.74 1644.29zM812.25 1658.13L826.49 1664.9L826.49 1678.73L812.25 1685.5L798 1678.73L798 1664.9zM840.74 1658.13L854.98 1664.9L854.98 1678.73L840.74 1685.5L826.49 1678.73L826.49 1664.9zM826.49 1678.73L840.74 1685.5L840.74 1699.34L826.49 1706.11L812.25 1699.34L812.25 1685.5zM854.98 1678.73L869.23 1685.5L869.23 1699.34L854.98 1706.11L840.74 1699.34L840.74 1685.5zM812.25 1699.34L826.49 1706.11L826.49 1719.94L812.25 1726.71L798 1719.94L798 1706.11zM840.74 1699.34L854.98 1706.11L854.98 1719.94L840.74 1726.71L826.49 1719.94L826.49 1706.11zM869.23 1699.34L883.47 1706.11L883.47 1719.94L869.23 1726.71L854.98 1719.94L854.98 1706.11zM826.49 1719.94L840.74 1726.71L840.74 1740.55L826.49 1747.32L812.25 1740.55L812.25 1726.71zM854.98 1719.94L869.23 1726.71L869.23 1740.55L854.98 1747.32L840.74 1740.55L840.74 1726.71z"/>
<path fill="#4655b1" stroke="#5866b9" stroke-width="0.5" d="M926.21 1534.5L940.45 1541.27L940.45 1555.1L926.21 1561.87L911.96 1555.1L911.96 1541.27zM940.45 1555.1L954.7 1561.87L954.7 1575.71L940.45 1582.48L926.21 1575.71L926.21 1561.87zM926.21 1575.71L940.45 1582.48L940.45 1596.31L926.21 1603.08L911.96 1596.31L911.96 1582.48zM883.47 1637.52L897.72 1644.29L897.72 1658.13L883.47 1664.9L869.23 1658.13L869.23 1644.29z"/>
<path fill="#505ab6" stroke="#626abd" stroke-width="0.5" d="M911.96 1596.31L926.21 1603.08L926.21 1616.92L911.96 1623.69L897.72 1616.92L897.72 1603.08zM940.45 1596.31L954.7 1603.08L954.7 1616.92L940.45 1623.69L926.21 1616.92L926.21 1603.08zM897.72 1616.92L911.96 1623.69L911.96 1637.52L897.72 1644.29L883.47 1637.52L883.47 1623.69z"/>
<path fill="#7b7ccd" stroke="#8889d2" stroke-width="0.5" d="M926.21 1616.92L940.45 1623.69L940.45 1637.52L926.21 1644.29L911.96 1637.52L911.96 1623.69z"/>
<path fill="#9292d9" stroke="#9d9ddd" stroke-width="0.5" d="M911.96 1637.52L926.21 1644.29L926.21 1658.13L911.96 1664.9L897.72 1658.13L897.72 1644.29zM897.72 1658.13L911.96 1664.9L911.96 1678.73L897.72 1685.5L883.47 1678.73L883.47 1664.9z"/>
<path fill="#bcbcec" stroke="#c3c3ee" stroke-width="0.5" d="M940.45 1637.52L954.7 1644.29L954.7 1658.13L940.45 1664.9L926.21 1658.13L926.21 1644.29zM897.72 1699.34L911.96 1706.11L911.96 1719.94L897.72 1726.71L883.47 1719.94L883.47 1706.11z"/>
<path fill="#3e52ac" stroke="#5163b4" stroke-width="0.5" d="M869.23 1658.13L883.47 1664.9L883.47 1678.73L869.23 1685.5L854.98 1678.73L854.98 1664.9z"/>
<path fill="#d9d9f6" stroke="#ddddf7" stroke-width="0.5" d="M926.21 1658.13L940.45 1664.9L940.45 1678.73L926.21 1685.5L911.96 1678.73L911.96 1664.9zM911.96 1678.73L926.21 1685.5L926.21 1699.34L911.96 1706.11L897.72 1699.34L897.72 1685.5z"/>
<path fill="#5a60bc" stroke="#6a70c3" stroke-width="0.5" d="M883.47 1678.73L897.72 1685.5L897.72 1699.34L883.47 1706.11L869.23 1699.34L869.23 1685.5zM883.47 1719.94L897.72 1726.71L897.72 1740.55L883.47 1747.32L869.23 1740.55L869.23 1726.71z"/>
<path fill="#ffecee" stroke="#ffeef0" stroke-width="0.5" d="M940.45 1678.73L954.7 1685.5L954.7 1699.34L940.45 1706.11L926.21 1699.34L926.21 1685.5zM926.21 1699.34L940.45 1706.11L940.45 1719.94L926.21 1726.71L911.96 1719.94L911.96 1706.11zM911.96 1719.94L926.21 1726.71L926.21 1740.55L911.96 1747.32L897.72 1740.55L897.72 1726.71z"/>
<path fill="#fec1c5" stroke="#fec7cb" stroke-width="0.5" d="M940.45 1719.94L954.7 1726.71L954.7 1740.55L940.45 1747.32L926.21 1740.55L926.21 1726.71z"/>
<path fill="none" stroke="#111" stroke-width="1.6" stroke-linejoin="round" d="M854.98 1541.27L840.74 1534.5L826.49 1541.27L812.25 1534.5L798 1541.27L798 1555.1L812.25 1561.87L812.25 1575.71L826.49 1582.48L840.74 1575.71L840.74 1561.87L854.98 1555.1L854.98 1541.27L869.23 1534.5L883.47 1541.27L897.72 1534.5L911.96 1541.27L926.21 1534.5L940.45 1541.27L940.45 1555.1L954.7 1561.87L954.7 1575.71L940.45 1582.48L940.45 1596.31L954.7 1603.08L954.7 1616.92L940.45 1623.69L940.45 1637.52L954.7 1644.29L954.7 1658.13L940.45 1664.9L926.21 1658.13L911.96 1664.9L897.72 1658.13L883.47 1664.9L869.23 1658.13L854.98 1664.9L840.74 1658.13L826.49 1664.9L812.25 1658.13L812.25 1644.29L798 1637.52L798 1623.69L812.25 1616.92L812.25 1603.08L798 1596.31L798 1582.48L812.25 1575.71M826.49 1664.9L826.49 1678.73L840.74 1685.5L840.74 1699.34L854.98 1706.11L869.23 1699.34L883.47 1706.11L897.72 1699.34L911.96 1706.11L926.21 1699.34L940.45 1706.11L954.7 1699.34L954.7 1685.5L940.45 1678.73L940.45 1664.9M812.25 1658.13L798 1664.9L798 1678.73L812.25 1685.5L812.25 1699.34L798 1706.11L798 1719.94L812.25 1726.71L812.25 1740.55L826.49 1747.32L840.74 1740.55L854.98 1747.32L869.23 1740.55L869.23 1726.71L854.98 1719.94L854.98 1706.11M940.45 1706.11L940.45 1719.94L954.7 1726.71L954.7 1740.55L940.45 1747.32L926.21 1740.55L911.96 1747.32L897.72 1740.55L883.47 1747.32L869.23 1740.55"/>
<text x="1343" y="945.9" font-size="24" text-anchor="middle">COVID-19</text>
<path d="M849.5 957.7H1836.4" stroke="#111" stroke-width="1.5"/>
<text x="883.2" y="993.6" font-size="24.2" text-anchor="middle">1-5 Dpi</text>
<text x="1056.7" y="993.6" font-size="24.2" text-anchor="middle">6-10 Dpi</text>
<text x="1253.3" y="993.6" font-size="24.2" text-anchor="middle">11-15 Dpi</text>
<text x="1438.5" y="993.6" font-size="24.2" text-anchor="middle">16-20 Dpi</text>
<text x="1621.5" y="993.6" font-size="24.2" text-anchor="middle">21-25 Dpi</text>
<text x="1810.7" y="993.6" font-size="24.2" text-anchor="middle">&gt;=26 Dpi</text>
<text x="768.6" y="1132.6" font-size="25.7" text-anchor="middle" transform="rotate(-90 768.6 1132.6)">Severe/Critical</text>
<text x="768.6" y="1383.4" font-size="25.7" text-anchor="middle" transform="rotate(-90 768.6 1383.4)">Mild/Moderate</text>
<text x="759.4" y="1641" font-size="25.7" text-anchor="middle" transform="rotate(-90 759.4 1641)">Healthy Control</text>
<rect x="1049.4" y="1547.2" width="15.3" height="205.7" fill="url(#gb)"/>
<text x="1068.4" y="1557" font-size="25.4">1</text>
<text x="1068.4" y="1659.2" font-size="25.4">0</text>
<text x="1067.6" y="1759.2" font-size="21.5">−</text>
<text x="1078.4" y="1760.9" font-size="25.4">1</text>
<!-- panel c -->
<text x="0" y="1873.2" font-size="42.5" font-weight="bold">c</text>
<rect x="96.15" y="1924.67" width="294.33" height="270.98" fill="#ebebeb"/>
<path d="M137.19 1924.67V2195.65M229.02 1924.67V2195.65M321.32 1924.67V2195.65M96.15 1970.25H390.48M96.15 2017.87H390.48M96.15 2065.49H390.48M96.15 2113.11H390.48M96.15 2160.73H390.48" stroke="#fff" stroke-width="1.7" fill="none"/>
<clipPath id="cp0"><rect x="96.15" y="1924.67" width="294.33" height="270.98"/></clipPath>
<g clip-path="url(#cp0)">
<path d="M109.98 2085.22C112.06 2086.35 118.1 2090.39 122.45 2092.02C126.8 2093.64 131.52 2094.59 136.05 2094.97C140.59 2095.34 144.37 2095.15 149.66 2094.29C154.95 2093.42 161.75 2091.07 167.8 2089.75C173.85 2088.43 179.89 2087.56 185.94 2086.35C191.99 2085.14 198.79 2083.82 204.08 2082.49C209.37 2081.17 213.15 2080.04 217.69 2078.41C222.22 2076.79 226.76 2074.52 231.29 2072.74C235.83 2070.97 240.74 2068.96 244.9 2067.76C249.06 2066.55 252.83 2065.79 256.24 2065.49C259.64 2065.19 262.28 2065.11 265.31 2065.94C268.33 2066.77 271.35 2068.4 274.38 2070.48C277.4 2072.55 280.42 2076.15 283.45 2078.41C286.47 2080.68 288.74 2082.08 292.52 2084.08C296.3 2086.08 301.21 2088.09 306.12 2090.43C311.04 2092.77 317.08 2095.8 322 2098.14C326.91 2100.48 331.07 2102.86 335.6 2104.49C340.14 2106.11 344.67 2107.4 349.21 2107.89C353.74 2108.38 358.2 2108.27 362.81 2107.44C367.42 2106.61 374.53 2103.66 376.87 2102.9L376.87 2162.31C375.28 2160.61 370.45 2155.13 367.35 2152.11C364.25 2149.09 362.06 2146.82 358.28 2144.17C354.5 2141.53 349.96 2138.88 344.67 2136.24C339.38 2133.59 332.58 2130.87 326.53 2128.3C320.48 2125.73 314.06 2123.08 308.39 2120.82C302.72 2118.55 297.05 2116.58 292.52 2114.69C287.98 2112.8 284.96 2111.18 281.18 2109.48C277.4 2107.78 273.62 2105.7 269.84 2104.49C266.06 2103.28 262.66 2102.41 258.5 2102.22C254.35 2102.03 249.43 2102.6 244.9 2103.36C240.36 2104.11 235.45 2105.25 231.29 2106.76C227.14 2108.27 223.73 2110.61 219.95 2112.43C216.18 2114.24 212.77 2116.24 208.62 2117.64C204.46 2119.04 200.3 2120.06 195.01 2120.82C189.72 2121.57 183.67 2121.57 176.87 2122.18C170.07 2122.78 161 2123.42 154.2 2124.44C147.39 2125.46 141.35 2126.33 136.05 2128.3C130.76 2130.26 126.8 2133.4 122.45 2136.24C118.1 2139.07 112.06 2143.79 109.98 2145.31z" fill="#2f5f22" fill-opacity="0.2"/>
<path d="M109.98 2115.15C114.32 2114.58 127.93 2112.96 136.05 2111.75C144.18 2110.54 151.17 2109.02 158.73 2107.89C166.29 2106.76 174.6 2105.81 181.41 2104.94C188.21 2104.07 194.63 2103.51 199.55 2102.68C204.46 2101.84 207.11 2101.24 210.88 2099.95C214.66 2098.67 218.44 2096.67 222.22 2094.97C226 2093.27 229.78 2091.26 233.56 2089.75C237.34 2088.24 241.12 2086.88 244.9 2085.9C248.68 2084.91 252.83 2084.16 256.24 2083.85C259.64 2083.55 262.66 2083.67 265.31 2084.08C267.95 2084.5 269.46 2084.91 272.11 2086.35C274.75 2087.79 278.16 2090.73 281.18 2092.7C284.2 2094.66 286.47 2096.25 290.25 2098.14C294.03 2100.03 298.56 2101.66 303.85 2104.04C309.15 2106.42 315.95 2109.63 322 2112.43C328.04 2115.22 334.09 2118.28 340.14 2120.82C346.18 2123.35 352.15 2125.62 358.28 2127.62C364.4 2129.62 373.77 2131.97 376.87 2132.83" fill="none" stroke="#1b6a37" stroke-width="3.25"/>
<path d="M109.98 2074.56C111.3 2074.56 115.08 2075.24 117.91 2074.56C120.75 2073.88 123.2 2073.05 126.98 2070.48C130.76 2067.91 135.3 2065.19 140.59 2059.14C145.88 2053.09 152.68 2042.89 158.73 2034.2C164.78 2025.5 171.2 2015.3 176.87 2006.98C182.54 1998.67 187.45 1991.11 192.74 1984.31C198.03 1977.51 204.46 1970.33 208.62 1966.17C212.77 1962.01 214.66 1961.82 217.69 1959.37C220.71 1956.91 223.73 1954.45 226.76 1951.43C229.78 1948.41 232.99 1943.61 235.83 1941.22C238.66 1938.84 241.5 1937.6 243.76 1937.14C246.03 1936.69 247.35 1937.07 249.43 1938.5C251.51 1939.94 253.59 1943.23 256.24 1945.76C258.88 1948.29 261.53 1949.73 265.31 1953.7C269.09 1957.66 273.24 1962.2 278.91 1969.57C284.58 1976.94 292.14 1987.9 299.32 1997.91C306.5 2007.93 315.19 2020.59 322 2029.66C328.8 2038.73 334.85 2046.48 340.14 2052.34C345.43 2058.19 349.21 2061.71 353.74 2064.81C358.28 2067.91 363.49 2069.8 367.35 2070.93C371.2 2072.06 375.28 2071.5 376.87 2071.61L376.87 2177.05C375.28 2174.78 371.2 2169.12 367.35 2163.45C363.49 2157.78 359.03 2150.6 353.74 2143.04C348.45 2135.48 342.4 2127.92 335.6 2118.1C328.8 2108.27 320.48 2095.8 312.93 2084.08C305.37 2072.37 297.05 2058.76 290.25 2047.8C283.45 2036.84 277.02 2025.88 272.11 2018.32C267.2 2010.76 264.17 2006.42 260.77 2002.45C257.37 1998.48 254.35 1996.21 251.7 1994.51C249.06 1992.81 247.17 1992.43 244.9 1992.24C242.63 1992.06 240.74 1992.06 238.1 1993.38C235.45 1994.7 232.05 1997.54 229.02 2000.18C226 2002.83 222.98 2006.98 219.95 2009.25C216.93 2011.52 214.29 2011.14 210.88 2013.79C207.48 2016.43 203.7 2019.83 199.55 2025.12C195.39 2030.42 191.61 2036.84 185.94 2045.53C180.27 2054.23 171.96 2067.07 165.53 2077.28C159.11 2087.48 153.06 2096.93 147.39 2106.76C141.72 2116.58 136.43 2126.79 131.52 2136.24C126.61 2145.68 121.5 2155.51 117.91 2163.45C114.32 2171.38 111.3 2180.45 109.98 2183.85z" fill="#ff6a3a" fill-opacity="0.26"/>
<path d="M109.98 2128.75C112.81 2124.52 121.13 2111.93 126.98 2103.36C132.84 2094.78 139.08 2086.16 145.12 2077.28C151.17 2068.4 157.97 2057.82 163.27 2050.07C168.56 2042.32 172.34 2037.41 176.87 2030.79C181.41 2024.18 185.94 2016.24 190.48 2010.39C195.01 2004.53 200.3 1999.43 204.08 1995.65C207.86 1991.87 210.32 1989.67 213.15 1987.71C215.99 1985.74 218.44 1985.74 221.09 1983.85C223.73 1981.97 226.38 1978.94 229.02 1976.37C231.67 1973.8 234.5 1970.25 236.96 1968.44C239.42 1966.62 241.69 1965.87 243.76 1965.49C245.84 1965.11 247.35 1965.3 249.43 1966.17C251.51 1967.04 253.59 1968.44 256.24 1970.7C258.88 1972.97 261.9 1975.62 265.31 1979.77C268.71 1983.93 271.73 1988.47 276.64 1995.65C281.56 2002.83 287.98 2012.65 294.78 2022.86C301.59 2033.06 309.9 2046.29 317.46 2056.87C325.02 2067.45 333.33 2077.85 340.14 2086.35C346.94 2094.85 353.74 2102.79 358.28 2107.89C362.81 2112.99 364.25 2114.24 367.35 2116.96C370.45 2119.68 375.28 2123.01 376.87 2124.22" fill="none" stroke="#dc2a12" stroke-width="3.25"/>
</g>
<rect x="96.15" y="1924.67" width="294.33" height="270.98" fill="none" stroke="#222" stroke-width="1.6"/>
<path d="M95.55 1946.44h-4.6M95.55 1994.06h-4.6M95.55 2041.68h-4.6M95.55 2089.3h-4.6M95.55 2136.92h-4.6M95.55 2184.54h-4.6M183.67 2196.25v4.6M275.06 2196.25v4.6M366.89 2196.25v4.6" stroke="#222" stroke-width="3" fill="none"/>
<g font-size="19" fill="#484848">
<text x="78.23" y="1952.44" text-anchor="end">200</text>
<text x="78.23" y="2000.06" text-anchor="end">150</text>
<text x="78.23" y="2047.68" text-anchor="end">100</text>
<text x="78.23" y="2095.3" text-anchor="end">50</text>
<text x="78.23" y="2142.92" text-anchor="end">0</text>
<text x="78.23" y="2190.54" text-anchor="end">−50</text>
<text x="183.67" y="2226.8" text-anchor="middle">10</text>
<text x="275.06" y="2226.8" text-anchor="middle">20</text>
<text x="366.89" y="2226.8" text-anchor="middle">30</text>
</g>
<text x="260.77" y="1914" font-size="25.7" text-anchor="middle">GM-CSF</text>
<text x="239.23" y="2254" font-size="22" text-anchor="middle">Dpi</text>
<text x="31.75" y="2051.7" font-size="28" text-anchor="middle" transform="rotate(-90 31.75 2051.7)">pg/mL</text>
<rect x="478.89" y="1928.75" width="294.78" height="271.43" fill="#ebebeb"/>
<path d="M520.39 1928.75V2200.18M612.22 1928.75V2200.18M704.51 1928.75V2200.18M478.89 1942.81H773.67M478.89 2017.19H773.67M478.89 2092.02H773.67M478.89 2166.39H773.67" stroke="#fff" stroke-width="1.7" fill="none"/>
<clipPath id="cp1"><rect x="478.89" y="1928.75" width="294.78" height="271.43"/></clipPath>
<g clip-path="url(#cp1)">
<path d="M492.72 2092.02C496.01 2092.28 505.38 2093.61 512.45 2093.61C519.52 2093.61 527.57 2092.77 535.12 2092.02C542.68 2091.26 550.24 2089.94 557.8 2089.07C565.36 2088.2 573.67 2087.45 580.48 2086.8C587.28 2086.16 592.57 2085.93 598.62 2085.22C604.66 2084.5 611.47 2083.14 616.76 2082.49C622.05 2081.85 626.21 2081.55 630.36 2081.36C634.52 2081.17 638.3 2081.1 641.7 2081.36C645.1 2081.63 647.37 2081.81 650.77 2082.95C654.17 2084.08 657.95 2086.27 662.11 2088.16C666.27 2090.05 670.42 2092.32 675.71 2094.29C681.01 2096.25 687.81 2098.25 693.85 2099.95C699.9 2101.66 705.95 2103.17 712 2104.49C718.04 2105.81 724.09 2107.21 730.14 2107.89C736.18 2108.57 743.29 2108.57 748.28 2108.57C753.27 2108.57 758.1 2108 760.07 2107.89L760.07 2140.77C758.86 2140.02 756.29 2137.94 752.81 2136.24C749.33 2134.54 744.5 2132.65 739.21 2130.57C733.92 2128.49 727.11 2125.92 721.07 2123.76C715.02 2121.61 708.97 2119.34 702.93 2117.64C696.88 2115.94 690.83 2115.07 684.78 2113.56C678.74 2112.05 671.93 2110.27 666.64 2108.57C661.35 2106.87 657.2 2104.79 653.04 2103.36C648.88 2101.92 645.48 2100.6 641.7 2099.95C637.92 2099.31 634.52 2099.43 630.36 2099.5C626.21 2099.58 622.05 2099.88 616.76 2100.41C611.47 2100.94 604.66 2101.92 598.62 2102.68C592.57 2103.43 587.28 2104.38 580.48 2104.94C573.67 2105.51 565.36 2105.47 557.8 2106.08C550.24 2106.68 542.68 2106.95 535.12 2108.57C527.57 2110.2 519.52 2113.3 512.45 2115.83C505.38 2118.36 496.01 2122.44 492.72 2123.76z" fill="#2f5f22" fill-opacity="0.2"/>
<path d="M492.72 2107.89C496.01 2107.14 505.38 2104.75 512.45 2103.36C519.52 2101.96 527.57 2100.56 535.12 2099.5C542.68 2098.44 550.24 2097.69 557.8 2097.01C565.36 2096.33 574.43 2095.87 580.48 2095.42C586.52 2094.97 589.55 2094.78 594.08 2094.29C598.62 2093.79 603.15 2092.96 607.69 2092.47C612.22 2091.98 616.76 2091.6 621.29 2091.34C625.83 2091.07 630.74 2090.77 634.9 2090.88C639.06 2091 642.83 2091.45 646.24 2092.02C649.64 2092.59 651.9 2093.15 655.31 2094.29C658.71 2095.42 662.49 2097.31 666.64 2098.82C670.8 2100.33 674.96 2101.73 680.25 2103.36C685.54 2104.98 692.34 2106.87 698.39 2108.57C704.44 2110.27 710.48 2111.97 716.53 2113.56C722.58 2115.15 729 2116.66 734.67 2118.1C740.34 2119.53 746.31 2121.12 750.54 2122.18C754.78 2123.24 758.48 2124.07 760.07 2124.44" fill="none" stroke="#1b6a37" stroke-width="3.25"/>
<path d="M492.72 2055.74C494.12 2057.25 498.2 2062.62 501.11 2064.81C504.02 2067 507.16 2068.51 510.18 2068.89C513.2 2069.27 515.85 2068.89 519.25 2067.07C522.65 2065.26 526.43 2062.16 530.59 2058C534.75 2053.85 539.28 2048.37 544.2 2042.13C549.11 2035.9 554.78 2028.72 560.07 2020.59C565.36 2012.46 571.03 2002.07 575.94 1993.38C580.85 1984.69 586.15 1973.8 589.55 1968.44C592.95 1963.07 593.7 1963.45 596.35 1961.18C598.99 1958.91 602.4 1957.21 605.42 1954.83C608.44 1952.45 611.84 1949.09 614.49 1946.89C617.14 1944.7 619.21 1942.7 621.29 1941.68C623.37 1940.66 625.07 1940.28 626.96 1940.77C628.85 1941.26 630.55 1942.09 632.63 1944.63C634.71 1947.16 636.41 1951.62 639.43 1955.96C642.46 1960.31 646.24 1965.22 650.77 1970.7C655.31 1976.18 660.98 1982.42 666.64 1988.84C672.31 1995.27 678.74 2002.64 684.78 2009.25C690.83 2015.87 697.26 2022.29 702.93 2028.53C708.59 2034.76 713.89 2041.75 718.8 2046.67C723.71 2051.58 728.25 2055.09 732.4 2058C736.56 2060.91 740.34 2063.11 743.74 2064.13C747.14 2065.15 750.09 2064.58 752.81 2064.13C755.53 2063.67 758.86 2061.86 760.07 2061.41L760.07 2187.26C758.86 2185.18 755.53 2179.51 752.81 2174.78C750.09 2170.06 747.52 2164.58 743.74 2158.91C739.96 2153.24 735.43 2147.2 730.14 2140.77C724.85 2134.35 718.04 2127.54 712 2120.36C705.95 2113.18 699.9 2105.62 693.85 2097.69C687.81 2089.75 681.76 2081.44 675.71 2072.74C669.67 2064.05 662.86 2053.47 657.57 2045.53C652.28 2037.6 647.75 2030.79 643.97 2025.12C640.19 2019.46 637.73 2014.35 634.9 2011.52C632.06 2008.68 629.61 2008.61 626.96 2008.12C624.32 2007.63 621.86 2007.63 619.02 2008.57C616.19 2009.52 612.98 2011.78 609.95 2013.79C606.93 2015.79 603.91 2018.32 600.88 2020.59C597.86 2022.86 595.22 2023.24 591.81 2027.39C588.41 2031.55 584.63 2037.97 580.48 2045.53C576.32 2053.09 571.41 2064.05 566.87 2072.74C562.34 2081.44 557.8 2089.75 553.27 2097.69C548.73 2105.62 544.2 2114.32 539.66 2120.36C535.12 2126.41 530.59 2129.06 526.05 2133.97C521.52 2138.88 516.61 2143.79 512.45 2149.84C508.29 2155.89 504.4 2164.2 501.11 2170.25C497.82 2176.3 494.12 2183.48 492.72 2186.12z" fill="#ff6a3a" fill-opacity="0.26"/>
<path d="M492.72 2120.82C495.25 2119.61 503.11 2116.47 507.91 2113.56C512.71 2110.65 516.98 2107.7 521.52 2103.36C526.05 2099.01 530.59 2093.34 535.12 2087.48C539.66 2081.63 544.57 2074.26 548.73 2068.21C552.89 2062.16 556.29 2057.44 560.07 2051.2C563.85 2044.97 567.63 2037.6 571.41 2030.79C575.19 2023.99 579.34 2016.05 582.74 2010.39C586.15 2004.72 589.17 1999.99 591.81 1996.78C594.46 1993.57 596.35 1992.74 598.62 1991.11C600.88 1989.49 602.77 1988.99 605.42 1987.03C608.07 1985.06 611.84 1981.28 614.49 1979.32C617.14 1977.35 619.21 1976.11 621.29 1975.24C623.37 1974.37 625.07 1973.8 626.96 1974.1C628.85 1974.41 630.55 1975.16 632.63 1977.05C634.71 1978.94 636.41 1981.4 639.43 1985.44C642.46 1989.49 646.24 1994.89 650.77 2001.32C655.31 2007.74 660.98 2016.05 666.64 2023.99C672.31 2031.93 678.74 2041.19 684.78 2048.93C690.83 2056.68 696.88 2063.67 702.93 2070.48C708.97 2077.28 715.02 2083.7 721.07 2089.75C727.11 2095.8 733.92 2101.84 739.21 2106.76C744.5 2111.67 749.33 2116.32 752.81 2119.23C756.29 2122.14 758.86 2123.39 760.07 2124.22" fill="none" stroke="#dc2a12" stroke-width="3.25"/>
</g>
<rect x="478.89" y="1928.75" width="294.78" height="271.43" fill="none" stroke="#222" stroke-width="1.6"/>
<path d="M478.29 1979.77h-4.6M478.29 2054.6h-4.6M478.29 2128.98h-4.6M566.42 2200.78v4.6M658.25 2200.78v4.6M750.54 2200.78v4.6" stroke="#222" stroke-width="3" fill="none"/>
<g font-size="19" fill="#484848">
<text x="463.7" y="1985.77" text-anchor="end">800</text>
<text x="463.7" y="2060.6" text-anchor="end">400</text>
<text x="463.7" y="2134.98" text-anchor="end">0</text>
<text x="566.42" y="2226.8" text-anchor="middle">10</text>
<text x="658.25" y="2226.8" text-anchor="middle">20</text>
<text x="750.54" y="2226.8" text-anchor="middle">30</text>
</g>
<text x="636.03" y="1914" font-size="25.7" text-anchor="middle">CXCL10</text>
<text x="624.01" y="2254" font-size="22" text-anchor="middle">Dpi</text>
<text x="418.34" y="2051.7" font-size="28" text-anchor="middle" transform="rotate(-90 418.34 2051.7)">pg/mL</text>
<rect x="855.03" y="1928.07" width="294.1" height="271.66" fill="#ebebeb"/>
<path d="M896.53 1928.07V2199.73M988.37 1928.07V2199.73M1080.66 1928.07V2199.73M855.03 1965.03H1149.14M855.03 2029.66H1149.14M855.03 2094.29H1149.14M855.03 2159.37H1149.14" stroke="#fff" stroke-width="1.7" fill="none"/>
<clipPath id="cp2"><rect x="855.03" y="1928.07" width="294.1" height="271.66"/></clipPath>
<g clip-path="url(#cp2)">
<path d="M868.87 1940.77C871.28 1941.41 878.69 1943.79 883.38 1944.63C888.07 1945.46 891.69 1945.95 896.98 1945.76C902.28 1945.57 909.83 1944.25 915.12 1943.49C920.42 1942.74 924.2 1941.04 928.73 1941.22C933.27 1941.41 937.8 1942.93 942.34 1944.63C946.87 1946.33 951.78 1948.97 955.94 1951.43C960.1 1953.89 963.5 1955.77 967.28 1959.37C971.06 1962.96 974.46 1968.25 978.62 1972.97C982.77 1977.69 987.69 1983.55 992.22 1987.71C996.76 1991.87 1001.67 1995.46 1005.83 1997.91C1009.98 2000.37 1013.76 2001.13 1017.17 2002.45C1020.57 2003.77 1022.83 2003.89 1026.24 2005.85C1029.64 2007.82 1033.04 2011.59 1037.57 2014.24C1042.11 2016.89 1048.53 2019.15 1053.45 2021.72C1058.36 2024.29 1062.52 2026.83 1067.05 2029.66C1071.59 2032.49 1076.12 2035.78 1080.66 2038.73C1085.19 2041.68 1090.11 2045.38 1094.26 2047.35C1098.42 2049.31 1102.2 2049.99 1105.6 2050.52C1109 2051.05 1111.27 2051.35 1114.67 2050.52C1118.07 2049.69 1122.53 2047.8 1126.01 2045.53C1129.49 2043.27 1133.95 2038.35 1135.53 2036.92L1135.53 2187.26C1133.95 2183.29 1129.11 2170.06 1126.01 2163.45C1122.91 2156.83 1120.34 2152.86 1116.94 2147.57C1113.54 2142.28 1109.76 2136.61 1105.6 2131.7C1101.44 2126.79 1096.53 2121.87 1092 2118.1C1087.46 2114.32 1082.93 2111.48 1078.39 2109.02C1073.85 2106.57 1069.32 2105.06 1064.78 2103.36C1060.25 2101.66 1055.71 2099.95 1051.18 2098.82C1046.64 2097.69 1042.11 2097.5 1037.57 2096.55C1033.04 2095.61 1028.5 2095.23 1023.97 2093.15C1019.43 2091.07 1014.9 2087.48 1010.36 2084.08C1005.83 2080.68 1001.29 2076.71 996.76 2072.74C992.22 2068.78 987.69 2064.13 983.15 2060.27C978.62 2056.42 974.08 2053.02 969.55 2049.61C965.01 2046.21 960.48 2043.19 955.94 2039.86C951.41 2036.54 946.87 2032.57 942.34 2029.66C937.8 2026.75 933.27 2023.99 928.73 2022.4C924.2 2020.82 919.66 2019.68 915.12 2020.14C910.59 2020.59 905.68 2022.03 901.52 2025.12C897.36 2028.22 893.96 2032.68 890.18 2038.73C886.4 2044.78 882.4 2053.09 878.84 2061.41C875.29 2069.72 870.53 2084.08 868.87 2088.62z" fill="#2f5f22" fill-opacity="0.2"/>
<path d="M868.87 2015.6C870.53 2013.41 875.29 2006.53 878.84 2002.45C882.4 1998.37 886.4 1994.13 890.18 1991.11C893.96 1988.09 897.74 1985.93 901.52 1984.31C905.3 1982.68 908.7 1981.93 912.86 1981.36C917.01 1980.79 922.68 1980.53 926.46 1980.91C930.24 1981.28 931.75 1981.93 935.53 1983.63C939.31 1985.33 944.6 1988.35 949.14 1991.11C953.67 1993.87 958.21 1996.59 962.74 2000.18C967.28 2003.77 971.81 2008.31 976.35 2012.65C980.88 2017 985.42 2021.91 989.95 2026.26C994.49 2030.6 999.4 2035.22 1003.56 2038.73C1007.72 2042.24 1011.5 2045.38 1014.9 2047.35C1018.3 2049.31 1020.57 2049.5 1023.97 2050.52C1027.37 2051.54 1031.15 2052.22 1035.31 2053.47C1039.46 2054.72 1044.38 2056.38 1048.91 2058C1053.45 2059.63 1057.98 2061.22 1062.52 2063.22C1067.05 2065.22 1071.59 2067.6 1076.12 2070.02C1080.66 2072.44 1085.19 2074.82 1089.73 2077.73C1094.26 2080.64 1098.8 2084.16 1103.33 2087.48C1107.87 2090.81 1112.78 2094.47 1116.94 2097.69C1121.1 2100.9 1125.18 2104.41 1128.28 2106.76C1131.38 2109.1 1134.32 2110.91 1135.53 2111.75" fill="none" stroke="#1b6a37" stroke-width="3.25"/>
<path d="M868.87 2085.22C870.53 2086.35 874.91 2090.51 878.84 2092.02C882.77 2093.53 887.91 2094.66 892.45 2094.29C896.98 2093.91 900.76 2091.64 906.05 2089.75C911.35 2087.86 918.15 2085.03 924.2 2082.95C930.24 2080.87 937.04 2079.17 942.34 2077.28C947.63 2075.39 951.41 2073.31 955.94 2071.61C960.48 2069.91 965.01 2068.47 969.55 2067.07C974.08 2065.68 978.62 2063.9 983.15 2063.22C987.69 2062.54 992.98 2062.62 996.76 2062.99C1000.54 2063.37 1002.8 2063.86 1005.83 2065.49C1008.85 2067.11 1011.5 2070.4 1014.9 2072.74C1018.3 2075.09 1022.08 2077.54 1026.24 2079.55C1030.39 2081.55 1034.93 2083.33 1039.84 2084.76C1044.75 2086.2 1050.05 2087.33 1055.71 2088.16C1061.38 2088.99 1067.81 2089.49 1073.85 2089.75C1079.9 2090.02 1086.7 2090.13 1092 2089.75C1097.29 2089.37 1101.44 2088.69 1105.6 2087.48C1109.76 2086.27 1113.54 2084.38 1116.94 2082.49C1120.34 2080.6 1122.91 2078.45 1126.01 2076.15C1129.11 2073.84 1133.95 2069.91 1135.53 2068.66L1135.53 2146.44C1132.81 2145.68 1124.2 2142.85 1119.21 2141.9C1114.22 2140.96 1110.14 2140.85 1105.6 2140.77C1101.07 2140.7 1096.53 2141.38 1092 2141.45C1087.46 2141.53 1082.93 2141.72 1078.39 2141.22C1073.85 2140.73 1069.32 2139.79 1064.78 2138.5C1060.25 2137.22 1055.71 2135.59 1051.18 2133.51C1046.64 2131.44 1042.11 2128.79 1037.57 2126.03C1033.04 2123.27 1028.13 2119.8 1023.97 2116.96C1019.81 2114.13 1016.41 2111.1 1012.63 2109.02C1008.85 2106.95 1005.45 2105.62 1001.29 2104.49C997.14 2103.36 992.22 2102.41 987.69 2102.22C983.15 2102.03 978.62 2102.6 974.08 2103.36C969.55 2104.11 965.01 2105.06 960.48 2106.76C955.94 2108.46 951.41 2110.91 946.87 2113.56C942.34 2116.21 937.8 2119.98 933.27 2122.63C928.73 2125.28 924.57 2127.24 919.66 2129.43C914.75 2131.63 908.7 2133.7 903.79 2135.78C898.87 2137.86 894.34 2139.18 890.18 2141.9C886.02 2144.63 882.4 2148.14 878.84 2152.11C875.29 2156.08 870.53 2163.45 868.87 2165.71z" fill="#ff6a3a" fill-opacity="0.26"/>
<path d="M868.87 2125.12C872.04 2124.07 881.72 2121.01 887.91 2118.78C894.11 2116.55 900.01 2114.2 906.05 2111.75C912.1 2109.29 918.9 2106.38 924.2 2104.04C929.49 2101.69 933.27 2099.95 937.8 2097.69C942.34 2095.42 946.87 2092.51 951.41 2090.43C955.94 2088.35 960.48 2086.54 965.01 2085.22C969.55 2083.89 974.08 2082.99 978.62 2082.49C983.15 2082 988.44 2082.08 992.22 2082.27C996 2082.46 998.65 2082.87 1001.29 2083.63C1003.94 2084.38 1005.83 2085.4 1008.1 2086.8C1010.36 2088.2 1011.87 2090.02 1014.9 2092.02C1017.92 2094.02 1022.08 2096.44 1026.24 2098.82C1030.39 2101.2 1034.93 2104.04 1039.84 2106.3C1044.75 2108.57 1050.42 2110.91 1055.71 2112.43C1061.01 2113.94 1066.3 2114.73 1071.59 2115.37C1076.88 2116.02 1082.17 2116.32 1087.46 2116.28C1092.75 2116.24 1098.04 2115.79 1103.33 2115.15C1108.62 2114.5 1113.84 2113.64 1119.21 2112.43C1124.57 2111.22 1132.81 2108.65 1135.53 2107.89" fill="none" stroke="#dc2a12" stroke-width="3.25"/>
</g>
<rect x="855.03" y="1928.07" width="294.1" height="271.66" fill="none" stroke="#222" stroke-width="1.6"/>
<path d="M854.43 1932.15h-4.6M854.43 1997.23h-4.6M854.43 2061.86h-4.6M854.43 2126.26h-4.6M854.43 2191.34h-4.6M942.34 2200.33v4.6M1034.17 2200.33v4.6M1126.46 2200.33v4.6" stroke="#222" stroke-width="3" fill="none"/>
<g font-size="19" fill="#484848">
<text x="839.84" y="1938.15" text-anchor="end">30</text>
<text x="839.84" y="2003.23" text-anchor="end">20</text>
<text x="839.84" y="2067.86" text-anchor="end">10</text>
<text x="839.84" y="2132.26" text-anchor="end">0</text>
<text x="839.84" y="2197.34" text-anchor="end">−10</text>
<text x="942.34" y="2226.8" text-anchor="middle">10</text>
<text x="1034.17" y="2226.8" text-anchor="middle">20</text>
<text x="1126.46" y="2226.8" text-anchor="middle">30</text>
</g>
<text x="995.62" y="1914" font-size="25.7" text-anchor="middle">IFNA</text>
<text x="992.22" y="2254" font-size="22" text-anchor="middle">Dpi</text>
<text x="807.41" y="2051.7" font-size="28" text-anchor="middle" transform="rotate(-90 807.41 2051.7)">pg/mL</text>
<rect x="1263.85" y="1930.34" width="286.85" height="271.66" fill="#ebebeb"/>
<path d="M1304.22 1930.34V2202M1394.01 1930.34V2202M1483.58 1930.34V2202M1263.85 1977.96H1550.7M1263.85 2046.67H1550.7M1263.85 2114.69H1550.7M1263.85 2183.4H1550.7" stroke="#fff" stroke-width="1.7" fill="none"/>
<clipPath id="cp3"><rect x="1263.85" y="1930.34" width="286.85" height="271.66"/></clipPath>
<g clip-path="url(#cp3)">
<path d="M1277.01 2119.91C1280.94 2120.06 1289.86 2120.74 1300.59 2120.82C1311.32 2120.89 1327.04 2120.36 1341.41 2120.36C1355.77 2120.36 1371.64 2120.36 1386.76 2120.82C1401.87 2121.27 1416.99 2122.86 1432.11 2123.08C1447.23 2123.31 1464.23 2122.44 1477.46 2122.18C1490.69 2121.91 1501.53 2122.1 1511.47 2121.5C1521.41 2120.89 1532.83 2119.04 1537.1 2118.55L1537.1 2129.43C1532.83 2129.36 1521.41 2129.17 1511.47 2128.98C1501.53 2128.79 1490.69 2128.22 1477.46 2128.3C1464.23 2128.37 1447.23 2129.7 1432.11 2129.43C1416.99 2129.17 1401.87 2127.24 1386.76 2126.71C1371.64 2126.18 1355.77 2125.88 1341.41 2126.26C1327.04 2126.64 1311.32 2127.62 1300.59 2128.98C1289.86 2130.34 1280.94 2133.51 1277.01 2134.42z" fill="#2f5f22" fill-opacity="0.2"/>
<path d="M1277.01 2127.17C1280.94 2126.71 1292.12 2125.12 1300.59 2124.44C1309.06 2123.76 1318.73 2123.31 1327.8 2123.08C1336.87 2122.86 1346.7 2123.01 1355.01 2123.08C1363.33 2123.16 1370.88 2123.24 1377.69 2123.54C1384.49 2123.84 1389.78 2124.48 1395.83 2124.9C1401.87 2125.31 1407.92 2125.8 1413.97 2126.03C1420.02 2126.26 1426.06 2126.37 1432.11 2126.26C1438.16 2126.15 1443.45 2125.58 1450.25 2125.35C1457.05 2125.12 1464.61 2124.97 1472.93 2124.9C1481.24 2124.82 1491.82 2124.82 1500.14 2124.9C1508.45 2124.97 1516.65 2125.24 1522.81 2125.35C1528.97 2125.46 1534.72 2125.54 1537.1 2125.58" fill="none" stroke="#1b6a37" stroke-width="3.25"/>
<path d="M1277.01 1943.04C1278.29 1946.89 1281.92 1958.53 1284.72 1966.17C1287.51 1973.8 1290.39 1981.47 1293.79 1988.84C1297.19 1996.21 1300.97 2003.96 1305.12 2010.39C1309.28 2016.81 1314.2 2022.1 1318.73 2027.39C1323.27 2032.68 1327.8 2037.6 1332.34 2042.13C1336.87 2046.67 1341.78 2051.39 1345.94 2054.6C1350.1 2057.82 1353.88 2059.89 1357.28 2061.41C1360.68 2062.92 1362.95 2063.6 1366.35 2063.67C1369.75 2063.75 1373.53 2062.8 1377.69 2061.86C1381.84 2060.91 1387.14 2059.52 1391.29 2058C1395.45 2056.49 1399.61 2053.85 1402.63 2052.79C1405.65 2051.73 1406.79 2050.6 1409.43 2051.66C1412.08 2052.71 1414.72 2057.06 1418.5 2059.14C1422.28 2061.22 1426.82 2062.8 1432.11 2064.13C1437.4 2065.45 1444.2 2065.83 1450.25 2067.07C1456.3 2068.32 1462.34 2069.72 1468.39 2071.61C1474.44 2073.5 1480.86 2076.33 1486.53 2078.41C1492.2 2080.49 1497.87 2082.95 1502.4 2084.08C1506.94 2085.22 1509.96 2085.59 1513.74 2085.22C1517.52 2084.84 1521.19 2083.7 1525.08 2081.81C1528.97 2079.92 1535.09 2075.2 1537.1 2073.88L1537.1 2189.52C1535.47 2187.82 1530.48 2182.53 1527.35 2179.32C1524.21 2176.11 1522.06 2173.27 1518.28 2170.25C1514.5 2167.23 1509.58 2163.82 1504.67 2161.18C1499.76 2158.53 1494.47 2156.64 1488.8 2154.38C1483.13 2152.11 1476.7 2150.22 1470.66 2147.57C1464.61 2144.93 1458.19 2141.72 1452.52 2138.5C1446.85 2135.29 1441.56 2131.51 1436.64 2128.3C1431.73 2125.09 1427.2 2121.69 1423.04 2119.23C1418.88 2116.77 1415.1 2114.69 1411.7 2113.56C1408.3 2112.43 1405.65 2112.43 1402.63 2112.43C1399.61 2112.43 1397.34 2112.62 1393.56 2113.56C1389.78 2114.5 1384.49 2117.04 1379.95 2118.1C1375.42 2119.15 1370.88 2119.91 1366.35 2119.91C1361.81 2119.91 1357.28 2119.53 1352.74 2118.1C1348.21 2116.66 1343.67 2114.32 1339.14 2111.29C1334.6 2108.27 1330.07 2104.11 1325.53 2099.95C1321 2095.8 1316.46 2090.88 1311.93 2086.35C1307.39 2081.81 1302.48 2076.45 1298.32 2072.74C1294.16 2069.04 1290.54 2065.83 1286.98 2064.13C1283.43 2062.43 1278.67 2062.8 1277.01 2062.54z" fill="#ff6a3a" fill-opacity="0.26"/>
<path d="M1277.01 2003.13C1278.67 2005.66 1283.05 2012.77 1286.98 2018.32C1290.91 2023.88 1296.05 2030.79 1300.59 2036.46C1305.12 2042.13 1309.66 2047.23 1314.2 2052.34C1318.73 2057.44 1323.27 2062.43 1327.8 2067.07C1332.34 2071.72 1337.25 2076.64 1341.41 2080.23C1345.56 2083.82 1349.34 2086.58 1352.74 2088.62C1356.15 2090.66 1358.79 2091.9 1361.81 2092.47C1364.84 2093.04 1367.48 2092.47 1370.88 2092.02C1374.29 2091.56 1378.44 2090.7 1382.22 2089.75C1386 2088.81 1390.16 2087.56 1393.56 2086.35C1396.96 2085.14 1399.98 2083.25 1402.63 2082.49C1405.28 2081.74 1407.17 2081.36 1409.43 2081.81C1411.7 2082.27 1413.21 2083.63 1416.24 2085.22C1419.26 2086.8 1423.04 2089.07 1427.57 2091.34C1432.11 2093.61 1437.78 2096.25 1443.45 2098.82C1449.12 2101.39 1455.16 2104.11 1461.59 2106.76C1468.01 2109.4 1475.57 2112.24 1482 2114.69C1488.42 2117.15 1494.09 2119.42 1500.14 2121.5C1506.18 2123.58 1512.12 2125.46 1518.28 2127.17C1524.44 2128.87 1533.96 2130.94 1537.1 2131.7" fill="none" stroke="#dc2a12" stroke-width="3.25"/>
</g>
<rect x="1263.85" y="1930.34" width="286.85" height="271.66" fill="none" stroke="#222" stroke-width="1.6"/>
<path d="M1263.25 1943.49h-4.6M1263.25 2011.97h-4.6M1263.25 2080.68h-4.6M1263.25 2149.16h-4.6M1348.89 2202.6v4.6M1438.46 2202.6v4.6M1528.48 2202.6v4.6" stroke="#222" stroke-width="3" fill="none"/>
<g font-size="19" fill="#484848">
<text x="1250.25" y="1949.49" text-anchor="end">6000</text>
<text x="1250.25" y="2017.97" text-anchor="end">4000</text>
<text x="1250.25" y="2086.68" text-anchor="end">2000</text>
<text x="1250.25" y="2155.16" text-anchor="end">0</text>
<text x="1348.89" y="2226.8" text-anchor="middle">10</text>
<text x="1438.46" y="2226.8" text-anchor="middle">20</text>
<text x="1528.48" y="2226.8" text-anchor="middle">30</text>
</g>
<text x="1436.64" y="1914" font-size="25.7" text-anchor="middle">TNFRSF1A</text>
<text x="1394.69" y="2254" font-size="22" text-anchor="middle">Dpi</text>
<text x="1189.48" y="2051.7" font-size="28" text-anchor="middle" transform="rotate(-90 1189.48 2051.7)">pg/mL</text>
<rect x="1659.79" y="1929.89" width="286.85" height="271.66" fill="#ebebeb"/>
<path d="M1699.93 1929.89V2201.54M1789.72 1929.89V2201.54M1879.52 1929.89V2201.54M1659.79 1982.49H1946.64M1659.79 2034.88H1946.64M1659.79 2087.03H1946.64M1659.79 2139.86H1946.64M1659.79 2192.47H1946.64" stroke="#fff" stroke-width="1.7" fill="none"/>
<clipPath id="cp4"><rect x="1659.79" y="1929.89" width="286.85" height="271.66"/></clipPath>
<g clip-path="url(#cp4)">
<path d="M1673.4 2128.3C1675.93 2128.19 1683.03 2128.19 1688.59 2127.62C1694.15 2127.05 1700.68 2126.3 1706.73 2124.9C1712.78 2123.5 1718.82 2121.12 1724.87 2119.23C1730.92 2117.34 1736.96 2114.96 1743.01 2113.56C1749.06 2112.16 1755.86 2111.29 1761.15 2110.84C1766.44 2110.39 1769.47 2110.46 1774.76 2110.84C1780.05 2111.22 1786.85 2112.46 1792.9 2113.11C1798.94 2113.75 1804.99 2114.24 1811.04 2114.69C1817.09 2115.15 1823.13 2115.71 1829.18 2115.83C1835.23 2115.94 1841.27 2115.37 1847.32 2115.37C1853.37 2115.37 1859.41 2115.37 1865.46 2115.83C1871.51 2116.28 1877.55 2117.53 1883.6 2118.1C1889.65 2118.66 1895.69 2119.42 1901.74 2119.23C1907.79 2119.04 1914.59 2118.1 1919.88 2116.96C1925.17 2115.83 1931.22 2113.18 1933.49 2112.43L1933.49 2162.31C1931.6 2160.8 1926.68 2156.08 1922.15 2153.24C1917.61 2150.41 1911.95 2147.38 1906.28 2145.31C1900.61 2143.23 1894.18 2141.72 1888.14 2140.77C1882.09 2139.83 1876.42 2139.83 1870 2139.64C1863.57 2139.45 1855.63 2139.07 1849.59 2139.64C1843.54 2140.2 1838.63 2142.09 1833.71 2143.04C1828.8 2143.98 1825.02 2145.5 1820.11 2145.31C1815.2 2145.12 1809.53 2142.85 1804.24 2141.9C1798.94 2140.96 1794.03 2140.02 1788.36 2139.64C1782.69 2139.26 1776.27 2139.45 1770.22 2139.64C1764.18 2139.83 1758.13 2140.2 1752.08 2140.77C1746.03 2141.34 1739.99 2141.9 1733.94 2143.04C1727.89 2144.17 1721.85 2145.5 1715.8 2147.57C1709.75 2149.65 1702.95 2152.3 1697.66 2155.51C1692.37 2158.72 1688.1 2163.26 1684.05 2166.85C1680.01 2170.44 1675.17 2175.35 1673.4 2177.05z" fill="#2f5f22" fill-opacity="0.2"/>
<path d="M1673.4 2152.79C1675.93 2151.35 1683.03 2146.93 1688.59 2144.17C1694.15 2141.41 1700.68 2138.5 1706.73 2136.24C1712.78 2133.97 1718.82 2132.08 1724.87 2130.57C1730.92 2129.06 1736.96 2128 1743.01 2127.17C1749.06 2126.33 1755.86 2125.88 1761.15 2125.58C1766.44 2125.28 1769.47 2125.09 1774.76 2125.35C1780.05 2125.62 1786.85 2126.49 1792.9 2127.17C1798.94 2127.85 1805.37 2128.94 1811.04 2129.43C1816.71 2129.92 1822 2130.3 1826.91 2130.11C1831.82 2129.92 1835.98 2128.72 1840.52 2128.3C1845.05 2127.88 1849.21 2127.69 1854.12 2127.62C1859.04 2127.54 1864.33 2127.54 1870 2127.85C1875.66 2128.15 1882.09 2128.72 1888.14 2129.43C1894.18 2130.15 1900.61 2131.21 1906.28 2132.15C1911.95 2133.1 1917.61 2134.23 1922.15 2135.1C1926.68 2135.97 1931.6 2136.99 1933.49 2137.37" fill="none" stroke="#1b6a37" stroke-width="3.25"/>
<path d="M1673.4 1942.36C1674.8 1945.38 1678.88 1955.02 1681.79 1960.5C1684.7 1965.98 1687.46 1970.89 1690.86 1975.24C1694.26 1979.58 1698.04 1983.36 1702.2 1986.58C1706.35 1989.79 1711.27 1991.87 1715.8 1994.51C1720.34 1997.16 1724.87 1999.8 1729.41 2002.45C1733.94 2005.09 1738.1 2007.93 1743.01 2010.39C1747.92 2012.84 1753.59 2015.41 1758.88 2017.19C1764.18 2018.96 1769.84 2020.17 1774.76 2021.04C1779.67 2021.91 1784.58 2022.48 1788.36 2022.4C1792.14 2022.33 1794.79 2020.89 1797.43 2020.59C1800.08 2020.29 1801.97 2019.46 1804.24 2020.59C1806.5 2021.72 1808.77 2025.12 1811.04 2027.39C1813.31 2029.66 1814.82 2032.12 1817.84 2034.2C1820.86 2036.27 1824.64 2037.97 1829.18 2039.86C1833.71 2041.75 1839.38 2043.45 1845.05 2045.53C1850.72 2047.61 1857.52 2049.69 1863.19 2052.34C1868.86 2054.98 1874.15 2058 1879.07 2061.41C1883.98 2064.81 1888.14 2069.34 1892.67 2072.74C1897.21 2076.15 1901.74 2079.62 1906.28 2081.81C1910.81 2084.01 1915.35 2085.14 1919.88 2085.9C1924.42 2086.65 1931.22 2086.27 1933.49 2086.35L1933.49 2188.39C1931.98 2186.12 1927.82 2179.32 1924.42 2174.78C1921.02 2170.25 1917.24 2165.71 1913.08 2161.18C1908.92 2156.64 1904.39 2152.11 1899.47 2147.57C1894.56 2143.04 1889.27 2138.5 1883.6 2133.97C1877.93 2129.43 1871.51 2124.9 1865.46 2120.36C1859.41 2115.83 1852.99 2110.91 1847.32 2106.76C1841.65 2102.6 1836.36 2099.2 1831.45 2095.42C1826.53 2091.64 1822 2087.48 1817.84 2084.08C1813.68 2080.68 1810.28 2076.98 1806.5 2075.01C1802.72 2073.05 1798.94 2072.48 1795.17 2072.29C1791.39 2072.1 1787.23 2073.99 1783.83 2073.88C1780.43 2073.76 1778.91 2072.55 1774.76 2071.61C1770.6 2070.67 1764.55 2069.34 1758.88 2068.21C1753.22 2067.07 1746.41 2066.32 1740.74 2064.81C1735.07 2063.3 1730.16 2061.59 1724.87 2059.14C1719.58 2056.68 1713.91 2052.71 1709 2050.07C1704.08 2047.42 1699.55 2044.4 1695.39 2043.27C1691.24 2042.13 1687.72 2042.32 1684.05 2043.27C1680.39 2044.21 1675.17 2047.99 1673.4 2048.93z" fill="#ff6a3a" fill-opacity="0.26"/>
<path d="M1673.4 1996.1C1675.93 1997.91 1683.03 2003.09 1688.59 2006.98C1694.15 2010.88 1700.68 2015.68 1706.73 2019.46C1712.78 2023.24 1719.2 2026.71 1724.87 2029.66C1730.54 2032.61 1735.45 2035.14 1740.74 2037.14C1746.03 2039.15 1751.7 2040.39 1756.62 2041.68C1761.53 2042.96 1765.69 2043.83 1770.22 2044.85C1774.76 2045.87 1780.05 2047.42 1783.83 2047.8C1787.61 2048.18 1789.87 2047.31 1792.9 2047.12C1795.92 2046.93 1799.32 2046.25 1801.97 2046.67C1804.61 2047.08 1806.5 2048.1 1808.77 2049.61C1811.04 2051.13 1812.55 2053.32 1815.57 2055.74C1818.6 2058.16 1822.38 2061.29 1826.91 2064.13C1831.45 2066.96 1837.12 2069.72 1842.78 2072.74C1848.45 2075.77 1854.88 2078.87 1860.93 2082.27C1866.97 2085.67 1873.02 2089.07 1879.07 2093.15C1885.11 2097.23 1891.54 2102.22 1897.21 2106.76C1902.88 2111.29 1908.54 2116.39 1913.08 2120.36C1917.61 2124.33 1921.02 2127.73 1924.42 2130.57C1927.82 2133.4 1931.98 2136.24 1933.49 2137.37" fill="none" stroke="#dc2a12" stroke-width="3.25"/>
</g>
<rect x="1659.79" y="1929.89" width="286.85" height="271.66" fill="none" stroke="#222" stroke-width="1.6"/>
<path d="M1659.19 1955.96h-4.6M1659.19 2008.57h-4.6M1659.19 2060.95h-4.6M1659.19 2113.56h-4.6M1659.19 2166.39h-4.6M1744.83 2202.14v4.6M1834.62 2202.14v4.6M1924.42 2202.14v4.6" stroke="#222" stroke-width="3" fill="none"/>
<g font-size="19" fill="#484848">
<text x="1645.51" y="1961.96" text-anchor="end">5000</text>
<text x="1645.51" y="2014.57" text-anchor="end">4000</text>
<text x="1645.51" y="2066.95" text-anchor="end">3000</text>
<text x="1645.51" y="2119.56" text-anchor="end">2000</text>
<text x="1645.51" y="2172.39" text-anchor="end">1000</text>
<text x="1744.83" y="2226.8" text-anchor="middle">10</text>
<text x="1834.62" y="2226.8" text-anchor="middle">20</text>
<text x="1924.42" y="2226.8" text-anchor="middle">30</text>
</g>
<text x="1833.26" y="1914" font-size="25.7" text-anchor="middle">TNFRSF1B</text>
<text x="1791.76" y="2254" font-size="22" text-anchor="middle">Dpi</text>
<text x="1585.41" y="2051.7" font-size="28" text-anchor="middle" transform="rotate(-90 1585.41 2051.7)">pg/mL</text>
<path d="M766.8 2282.6H826.7" stroke="#1b6a37" stroke-width="3.4"/>
<text x="846.2" y="2288.6" font-size="25.6">Mild/Moderate</text>
<path d="M1038.9 2282.6H1097.9" stroke="#dc2a12" stroke-width="3.4"/>
<text x="1106" y="2288.6" font-size="25.6">Severe/Critical</text>
</svg>
</body>
</html>
